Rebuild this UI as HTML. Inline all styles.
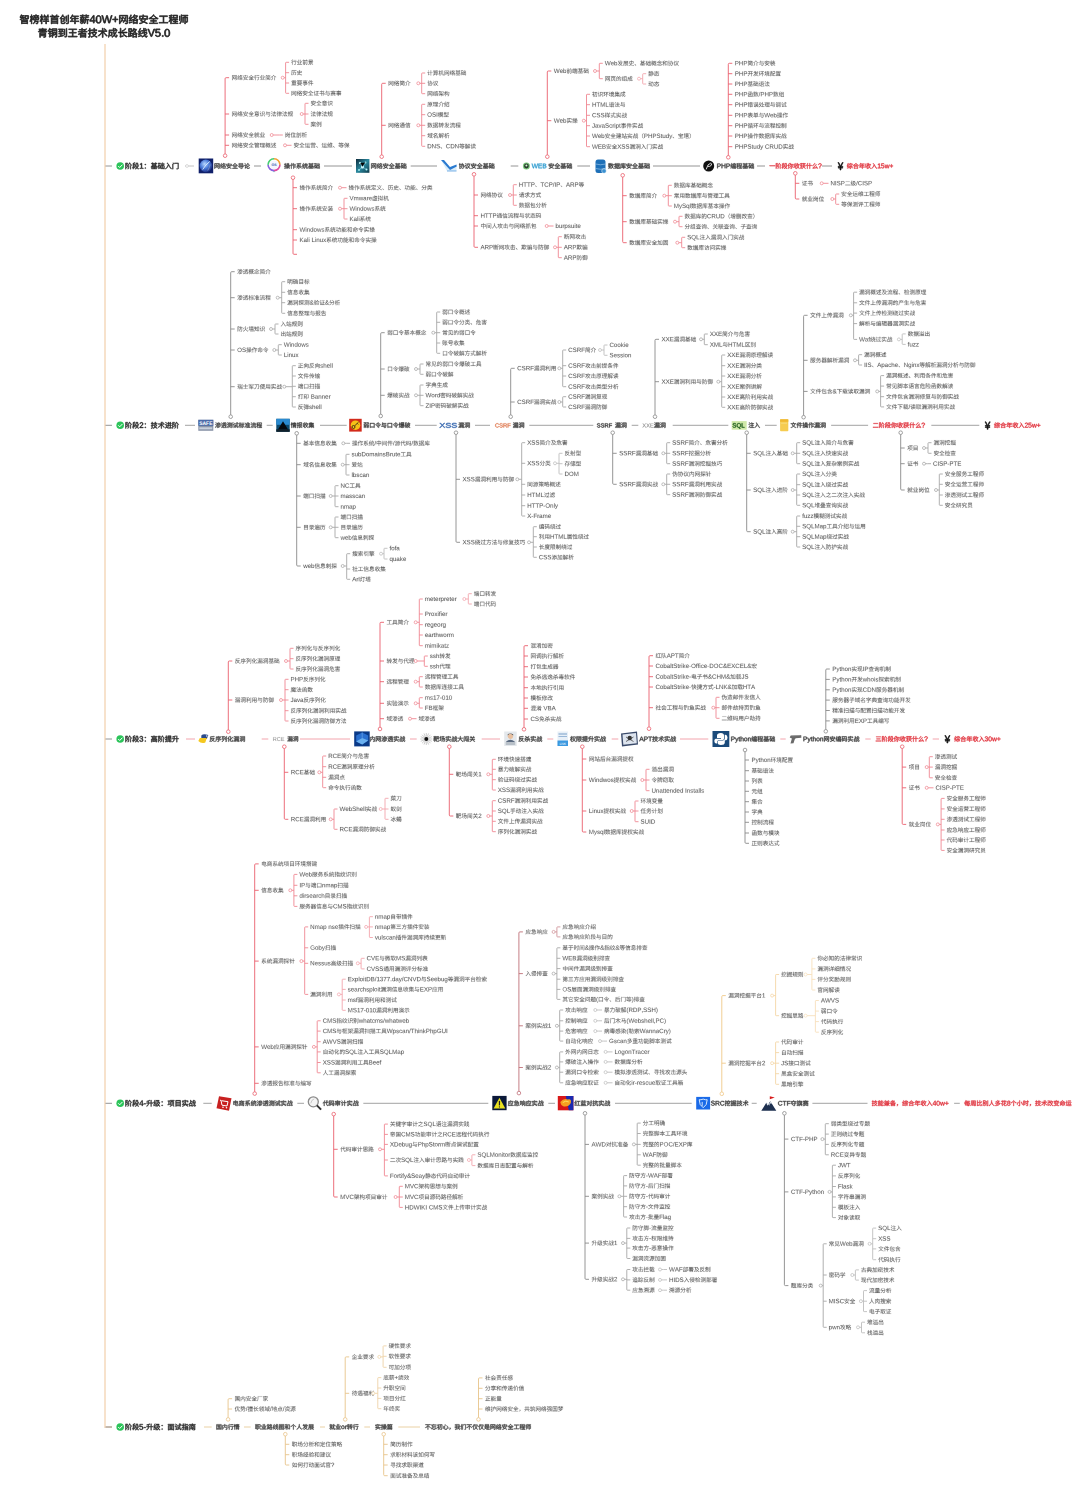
<!DOCTYPE html>
<html><head><meta charset="utf-8"><style>
html,body{margin:0;padding:0;background:#fff;width:1080px;height:1486px;overflow:hidden}
svg{display:block;font-family:'Liberation Sans', sans-serif}
</style></head><body>
<svg width="1080" height="1486" viewBox="0 0 1080 1486" text-rendering="geometricPrecision">
<rect width="1080" height="1486" fill="#fff"/>
<style>.ta{fill:#222;stroke:#222;stroke-width:7.5}.tb{fill:#222;stroke:#222;stroke-width:6.0}.tc{fill:#3a3a3a;stroke:#3a3a3a;stroke-width:6.0}.td{fill:#2a9ad0;stroke:#2a9ad0;stroke-width:6.0}.te{fill:#e0303a;stroke:#e0303a;stroke-width:6.0}.tf{fill:#606060;stroke:#606060;stroke-width:1.4}.tg{fill:#3a6ab0;stroke:#3a6ab0;stroke-width:6.0}.th{fill:#e07a50;stroke:#e07a50;stroke-width:6.0}.ti{fill:#333;stroke:#333;stroke-width:6.0}.tj{fill:#888;stroke:#888;stroke-width:1.4}.tk{fill:#999;stroke:#999;stroke-width:1.4}.tl{fill:#111;stroke:#111;stroke-width:6.0}.tm{fill:#1a5a1a;stroke:#1a5a1a;stroke-width:6.0}</style><defs><path id="a" d="m62-69l20 0 0 21-20 0zm-8-7l0 35 36 0 0-35zm-27 64l47 0 0 10-47 0zm0-6l0-9 47 0 0 9zm-7-15l0 41 7 0 0-4 47 0 0 4 7 0 0-41zm-4-51l-4 11-7 9 6 4 6-10 9 0 0 10-21 0 0 6 19 0-6 9-14 9 5 5 13-8 7-8 15 11 6-5-19-11 1-2 18 0 0-6-17 0 0-10 15 0 0-6-28 0 3-7z"/><path id="b" d="m37-56l0 16 7 0 0-9 44 0 0 9 7 0 0-16-15 0 5-11-8-1-4 12-17 0 3 0-4-12-7 2 4 10zm24-28l2 9-25 0 0 7 55 0 0-7-23 0-2-10zm-1 38l3 10-25 0 0 6 15 0-4 20-9 9-6 4 4 5 13-9 7-13 22 0-2 14-3 2-11-1 2 7 13-1 5-3 4-24-29 0 1-10 33 0 0-6-22 0-4-11zm-42-38l0 19-13 0 0 7 12 0-6 21-8 17 4 8 6-13 5-16 0 49 6 0 0-52 6 14 5-5-11-19 0-4 11 0 0-7-11 0 0-19z"/><path id="c" d="m44-81l8 16 8-3-9-16zm38-3l-9 19-33 0 0 7 22 0 0 14-19 0 0 7 19 0 0 14-26 0 0 7 26 0 0 24 8 0 0-24 25 0 0-7-25 0 0-14 20 0 0-7-20 0 0-14 23 0 0-7-12 0 9-17zm-64 0l0 19-12 0 0 7 12 0-6 21-9 17 4 8 11-26 0 46 8 0 0-52 7 14 4-6-11-17 0-5 10 0 0-7-10 0 0-19z"/><path id="d" d="m24-31l52 0 0 10-52 0zm0-6l0-10 52 0 0 10zm0 22l52 0 0 11-52 0zm-1-67l8 12-26 0 0 7 41 0-3 9-26 0 0 62 7 0 0-6 52 0 0 6 7 0 0-62-32 0 4-9 40 0 0-7-25 0 8-12-8-2-9 14-27 0 5-2-10-12z"/><path id="e" d="m84-82l0 81-3 2-15-1 3 8 18-2 3-2 1-4 0-82zm-20 10l0 55 8 0 0-55zm-50 25l1 49 2 2 6 2 23 0 6-1 4-5 2-11-7-3-1 11-3 3-23 0-2-4 0-37 21 0-3 19-11 0 2 7 11 0 4-3 2-4 3-25zm17-37l-11 20-17 16 5 5 14-13 11-15 21 25 6-5-24-26 2-5z"/><path id="f" d="m5-22l0 7 46 0 0 23 8 0 0-23 36 0 0-7-36 0 0-20 29 0 0-7-29 0 0-16 32 0 0-7-60 0 4-10-7-2-10 19-13 15 7 5 15-20 24 0 0 16-30 0 0 27zm24 0l0-20 22 0 0 20z"/><path id="g" d="m36-15l7 13 5-2-7-14zm-21-2l-10 15 5 3 10-17zm48-67l0 7-26 0 0-7-8 0 0 7-23 0 0 7 23 0 0 7 8 0 0-7 26 0 0 7 7 0 0-7 24 0 0-7-24 0 0-7zm-42 20l4 7-18 0 0 6 30 0-5 13-11 0 2-1-4-11-6 1 3 11-11 0 0 5 20 0 0 8-18 0 0 6 18 0 0 19-8 1 2 6 9-1 3-3 1-22 18 0 0-6-18 0 0-8 19 0 0-5-12 0 5-11-6-2 12 0 0-6-18 0-4-9zm35 8l-1 37-3 12-7 10 5 5 8-11 4-14 0-14 14 0 0 39 7 0 0-39 13 0 0-7-34 0 0-13 31-7-6-6z"/><path id="h" d="m47-18l0 18-9 0 0-18-36 0 0-7 35-52 10 0 0 51 11 0 0 8zm-9-47l-28 40 28 0z"/><path id="i" d="m57-37l-3 21-3 8-6 6-7 3-8 1-9-1-7-3-7-9-4-20 1-23 6-12 4-6 11-4 12 1 7 3 6 6 3 8zm-10 0l-2-19-4-10-10-3-10 3-6 10-1 19 1 18 6 10 10 3 9-3 6-11z"/><path id="j" d="m81 0l-12 0-18-64-16 64-12 0-23-76 11 0 19 67 18-67 10 0 18 67 18-67 11 0z"/><path id="k" d="m36-33l0 23-8 0 0-23-23 0 0-8 23 0 0-23 8 0 0 23 22 0 0 8z"/><path id="l" d="m19-54l14 19-7 15-9 11 6 4 8-10 7-13 8 12 5-5-10-15 6-27-7-1-4 21-12-15zm29 0l14 19-7 15-10 12 6 4 9-11 6-13 9 15 5-4-11-19 7-27-7-1-5 21-11-14zm-39-24l0 86 7 0 0-79 68 0 0 70-3 1-15 0 3 8 14-1 7-2 2-7 0-76z"/><path id="m" d="m4-5l2 7 33-10-1-6zm53-80l-8 15-11 13 1-1-6-5-6 11-13 1 16-29-7-4-10 22-6 9-4 3 3 8 16-3-12 15-6 5 3 7 30-9 0-6-19 4 20-27 4 6 9-10 11 13-12 7-13 4 4 7 14-5 13-8 12 7 14 6 2-7-12-4-11-7 11-11 8-14-4-3-28 1 4-9zm-10 55l0 37 7 0 0-5 28 0 0 5 7 0 0-37zm7 25l0-18 28 0 0 18zm28-63l-6 9-8 8-13-15 1-2z"/><path id="n" d="m41-82l5 10-37 0 0 20 8 0 0-13 66 0 0 13 8 0 0-20-36 0-6-12zm25 44l-6 11-8 9-21-8 8-12zm-36 0l-11 16 27 10-17 8-21 5 5 7 22-7 19-10 31 16 6-6-31-16 8-10 6-13 20 0 0-7-51 0 7-15-8-1-8 16-27 0 0 7z"/><path id="o" d="m49-85l-5 8-15 14-26 17 5 6 12-7 0 7 26 0 0 15-26 0 0 7 26 0 0 16-38 0 0 7 85 0 0-7-39 0 0-16 27 0 0-7-27 0 0-15 27 0 0-7 11 7 6-6-16-9-15-11-13-13 2-3zm-29 38l16-12 14-15 15 15 16 12z"/><path id="p" d="m5-7l0 7 90 0 0-7-41 0 0-58 36 0 0-8-80 0 0 8 36 0 0 58z"/><path id="q" d="m53-73l30 0 0 18-30 0zm-7-7l0 32 45 0 0-32zm-1 59l0 7 19 0 0 13-26 0 0 6 58 0 0-6-24 0 0-13 20 0 0-7-20 0 0-12 22 0 0-7-52 0 0 7 22 0 0 12zm-9-62l-32 9 2 5 15-2 0 15-16 0 0 7 15 0-8 18-9 14 4 7 7-12 7-14 0 44 8 0 0-43 9 12 4-6-13-14 0-6 12 0 0-7-12 0 0-17 12-4z"/><path id="r" d="m26-84l-1 57-5 16-10 14 6 5 11-15 4-18 1-59zm-16 12l0 48 6 0 0-48zm32 12l0 54 7 0 0-47 13 0 0 61 7 0 0-61 15 0 0 38-10 1 2 7 12-1 2-3 1-4 0-45-22 0 0-12 26 0 0-7-57 0 0 7 24 0 0 12z"/><path id="s" d="m73-34l0 8-46 0 0-8zm-53-5l0 47 7 0 0-16 46 0 0 9-16 1 3 6 15-1 5-3 1-43zm7 18l46 0 0 7-46 0zm19-63l0 7-34 0 0 6 34 0 0 6-30 0 0 6 30 0 0 7-40 0 0 6 88 0 0-6-40 0 0-7 30 0 0-6-30 0 0-6 35 0 0-6-35 0 0-7z"/><path id="t" d="m56-63l0 7 25 0 0-7zm-12-16l0 87 7 0 0-81 36 0 0 72-2 2-11-1 2 8 14-2 3-5 0-80zm19 39l11 0 0 18-11 0zm-5-6l0 36 5 0 0-6 17 0 0-30zm-40-38l-6 14-9 10 4 8 10-14 24 0 0-7-20 0 4-9zm-12 50l0 6 13 0 0 23-5 7 4 5 22-13-2-7-12 7 0-22 14 0 0-6-14 0 0-14 14 0 0-7-29 0 0 7 8 0 0 14z"/><path id="u" d="m64-75l0 60 7 0 0-60zm20-7l0 79-2 1-13 0 2 8 16-2 3-2 1-4 0-80zm-78 78l2 7 50-10 0-6-22 4 0-16 20 0 0-7-20 0 0-10-7 0 0 10-19 0 0 7 19 0 0 17zm6-40l37-4 4 6 5-4-15-22-5 4 7 10-25 2 11-19 27 0 0-6-51 0 0 6 16 0-8 14-6 6z"/><path id="v" d="m5-4l0 8 90 0 0-8-41 0 0-31 32 0 0-7-32 0 0-28 36 0 0-7-80 0 0 7 36 0 0 28-31 0 0 7 31 0 0 31z"/><path id="w" d="m84-81l-12 14 0-4-25 0 0-13-7 0 0 13-26 0 0 6 26 0 0 13-35 0 0 7 40 0-20 11-22 9 5 6 18-8 0 35 8 0 0-3 41 0 0 3 7 0 0-43-41 0 16-10 38 0 0-7-29 0 24-25zm-37 29l0-13 23 0-16 13zm-13 40l41 0 0 10-41 0zm0-6l0-10 41 0 0 10z"/><path id="x" d="m61-84l0 16-23 0 0 7 23 0 0 15-21 0 0 7 3 0 7 15 9 12-13 8-14 5 4 7 15-6 14-8 12 8 15 6 4-6-14-6-12-7 13-15 8-18-5-2-17 0 0-15 24 0 0-7-24 0 0-16zm-11 45l31 0-7 12-9 11-8-11zm-32-45l0 20-13 0 0 7 13 0 0 22-14 4 2 7 12-3 0 27-12 1 2 7 10-1 6-2 1-4 0-31 12-3-1-7-11 3 0-20 11 0 0-7-11 0 0-20z"/><path id="y" d="m61-78l18 15 5-5-18-14zm-15-6l0 25-39 0 0 8 37 0-18 24-15 12-7 5 5 6 7-4 13-11 17-21 0 48 8 0 0-52 17 22 19 18 6-7-21-17-18-23 36 0 0-8-39 0 0-25z"/><path id="z" d="m54-84l1 17-42 0-2 50-4 14-3 7 6 5 4-7 5-17 2-25 18 0-2 24-2 3-12-1 2 7 16-1 2-2 2-5 1-31-25 0 0-14 34 0 3 23 5 20-11 10-12 8 5 7 21-17 5 9 6 5 11 2 4-4 4-18-7-4-1 14-3 5-7-4-7-12 10-16 8-18-7-2-6 14-7 13-6-35 32 0 0-7-32 0-1-17zm13 5l18 12 5-5-18-12z"/><path id="A" d="m77-82l-17 15-20 11 6 6 20-12 18-17zm-71 37l0 8 19 0 0 33-4 5 3 6 33-10 0-7-24 6 0-33 15 0 10 18 7 8 17 12 9 4 6-7-9-3-16-10-6-7-10-15 38 0 0-8-61 0 0-39-8 0 0 39z"/><path id="B" d="m16-73l18 0 0 17-18 0zm-12 69l1 7 39-9-1-7-13 3 0-18 10 0 4 5 6-3 0 34 7 0 0-4 25 0 0 4 7 0 0-34 4 2 4-6-12-7-11-8 9-13 6-14-5-2-20 0 3-8-7-2-8 17-11 14 0-27-32 0 0 31 14 0 0 41-8 1 0-33-6 0 0 35zm53 2l0-20 25 0 0 20zm23-65l-10 17-10-16 0-1zm-25 39l15-12 14 12zm10-17l-11 9-12 6 0-5-12 0 0-14 11 0 0-3 6 4 9-11z"/><path id="C" d="m5-5l2 7 33-10-1-6zm65-73l15 9 4-5-14-8zm-63 36l16-3-11 15-7 5 3 7 30-8 0-6-20 4 22-31-6-4-6 11-13 1 16-29-7-4-10 22-9 13zm82 7l-7 9-9 8-4-19 25-5-1-6-25 5-1-14 25-3-2-7-24 4 0-21-8 0 1 22-16 2 1 7 16-3 1 14-20 4 1 6 20-3 5 22-14 7-15 6 5 6 26-13 5 8 5 5 7 2 5-2 3-4 2-9-5-4-2 10-5 1-4-3-5-8 11-10 9-11z"/><path id="D" d="m42 0l-10 0-32-76 11 0 25 67 25-67 11 0z"/><path id="E" d="m56-24l-2 13-7 8-7 2-18 2-8-3-7-4-4-10 10-1 3 6 4 4 8 1 8-1 8-8 1-9-3-10-8-6-9 0-10 4-10 0 2-41 43 0 0 9-34 0-1 23 12-4 11 1 6 2 9 8z"/><path id="F" d="m10 0l0-12 11 0 0 12z"/><path id="G" d="m74-45l0 53 7 0 0-53zm-24 0l0 21-2 11-7 12-5 5 7 4 9-12 4-13 1-28zm13-39l-10 18-11 12-6 5 5 6 5-4 9-9 10-15 12 15 15 12 5-6-11-8-10-9-7-12 1-4zm-55 4l0 88 7 0 0-81 14 0-10 23 9 11 3 6 0 6-4 4-9 0 2 7 9 0 4-2 3-3 2-9-2-10-9-11 12-26-5-3z"/><path id="H" d="m54-80l0 16-2 7-5 8-5 4 6 4 4-4 6-9 3-9 0-11 14 0 0 22 3 5 17 1 0-6-13 0 0-28zm-7 41l0 7 7 0-4 1 6 12 7 10-11 7-13 4 4 6 14-5 12-7 10 7 12 5 5-7-12-4-10-6 9-12 6-16-5-2zm9 7l24 0-5 10-7 8-7-8zm-44-43l0 58-9 1 2 8 7-2 0 17 7 0 0-18 25-4-1-7-24 4 0-14 23 0 0-7-23 0 0-14 23 0 0-7-23 0 0-10 25-9-6-6z"/><path id="I" d="m9 0l0-8 19 0 0-58-16 12 0-10 18-12 9 0 0 68 19 0 0 8z"/><path id="J" d="m25-49l5-2 3-5-3-6-5-2-5 2-3 6 3 5zm0 49l5-2 3-5-3-6-5-2-5 2-3 6 3 5z"/><path id="K" d="m68-84l0 10-36 0 0-10-8 0 0 10-15 0 0 6 15 0 0 32-19 0 0 6 21 0-10 10-12 7 4 6 15-9 12-14 31 0 12 13 9 6 5 3 5-6-13-6-10-10 22 0 0-6-20 0 0-32 15 0 0-6-15 0 0-10zm-36 16l36 0 0 7-36 0zm14 42l0 8-20 0 0 6 20 0 0 11-34 0 0 6 76 0 0-6-34 0 0-11 21 0 0-6-21 0 0-8zm-14-30l36 0 0 7-36 0zm0 13l36 0 0 7-36 0z"/><path id="L" d="m5-79l0 7 12 0-5 22-9 17 3 8 6-8 0 36 6 0 0-8 19 0 0-43-19 0 6-24 15 0 0-7zm13 38l12 0 0 30-12 0zm24 6l0 37 44 0 0 5 7 0 0-42-7 0 0 29-15 0 0-36 19 0 0-32-7 0 0 25-12 0 0-34-7 0 0 34-13 0 0-25-6 0 0 32 19 0 0 36-14 0 0-29z"/><path id="M" d="m30-76l8 8 8 9-4 13-11 23-8 10-8 8-11 6 7 6 18-14 13-18 10-24 16 31 6 9 8 9 11 7 3-9-14-11-9-13-16-29-9-14-14-13z"/><path id="N" d="m13-80l14 18 6-4-15-18zm-4 16l0 72 8 0 0-72zm27-16l0 7 48 0 0 72-3 2-17 0 3 7 15-1 6-1 2-2 1-6 0-78z"/><path id="O" d="m21-18l16 18 6-5-16-17 38 0-1 22-18 1 2 7 18-1 5-2 1-2 0-25 22 0 0-7-22 0 0-8-7 0 0 8-59 0 0 7 20 0zm-7-59l0 30 4 5 10 2 52 0 8-2 3-6 1-4-7-2-3 7-4 1-48 0-6-1-3-2 0-7 62 0 0-24-69 0zm7 4l54 0 0 10-54 0z"/><path id="P" d="m11-77l17 17 5-6-18-16zm51-7l-11 19-19 18 5 5 16-14 12-16 13 16 14 14 6-6-11-9-10-10-9-12 2-4zm19 41l-27 16 0-20-8 0 0 41 3 9 6 2 26 0 7-1 2-2 4-14-7-3-2 11-3 2-24 0-3 0-1-2 0-15 32-17zm-62 49l21-18-3-6-10 8 0-43-23 0 0 8 16 0-1 38-4 8z"/><path id="Q" d="m53-74l23 0 0 10-23 0zm-7-6l0 22 37 0 0-22zm-4 32l13 0 0 11-13 0zm31 0l14 0 0 11-14 0zm-57-36l0 20-11 0 0 7 11 0 0 22-12 4 2 7 10-4 0 28-9 1 2 6 10 0 3-3 1-34 10-4-1-7-9 3 0-19 9 0 0-7-9 0 0-20zm45 53l0 8-27 0 0 6 22 0-13 10-15 7 4 6 16-8 13-11 0 21 7 0 0-22 11 11 13 8 5-6-14-7-11-9 23 0 0-6-27 0 0-8 25 0 0-23-26 0 0 23-6 0 0-23-25 0 0 23z"/><path id="R" d="m53-83l-10 21-13 18 6 5 15-21 7 0 0 68 7 0 0-24 30 0 0-8-30 0 0-15 29 0 0-7-29 0 0-14 31 0 0-7-42 0 6-14zm-25-1l-10 22-14 18 4 8 10-12 0 56 7 0 0-68 11-21z"/><path id="S" d="m29-22l-10 10-12 9 7 5 7-6 15-16zm35 3l23 21 7-4-24-21zm2-25l8 8-44 3 23-13 23-15-6-5-16 12-24 1 21-19 35-5-6-6-31 5-38 3 2 6 27-2-15 14-9 5 2 7 26-3-17 10-16 6 2 8 34-4 0 27-15 0 3 8 14-1 5-3 1-32 25-2 7 9 6-3-21-22z"/><path id="T" d="m70-35l1 37 4 4 15 0 4-4 2-13-7-3-1 12-10 1-1-34zm-19 0l-2 17-2 6-8 10-7 4 4 6 8-4 6-6 4-6 2-8 2-19zm-47 30l2 7 32-10-1-7zm56-77l5 12-24 0 0 7 18 0-14 18-6 3 2 7 43-5 5 7 6-3-15-22-6 3 7 9-28 2 15-19 27 0 0-7-29 0 6-2-3-8-3-4zm-54 40l16-3-12 15-6 4 3 8 30-8 0-7-19 4 21-30-6-4-7 11-12 1 17-30-8-3-10 22-6 9-4 3z"/><path id="U" d="m39-47l-4 13-6 12 6 4 6-13 4-15zm45 1l6 29 7-2-7-28zm-68-38l0 23-11 0 0 7 11 0 0 62 7 0 0-62 11 0 0-7-11 0 0-23zm39 1l0 18-18 0 0 7 18 0-3 21-3 10-4 11-7 10-10 9 6 5 10-10 7-11 5-11 4-12 2-22 14 0-3 49-1 5-2 4-16 0 2 7 8 0 10-1 5-6 2-14 2-51-21 0 0-18z"/><path id="V" d="m54-79l10 21 7-3-11-21zm-43 2l13 15 6-4-13-15zm72-1l-7 30-12 25-12-24-8-30-7 2 8 32 14 26-12 11-16 8 5 7 15-9 13-11 12 11 16 8 6-6-16-8-13-11 10-18 10-30 2-12zm-78 25l0 8 14 0-1 37-4 8 5 5 21-16-2-7-12 9 0-44z"/><path id="W" d="m9 0l0-76 57 0 0 9-46 0 0 24 43 0 0 8-43 0 0 26 48 0 0 9z"/><path id="X" d="m67-21l-3 11-9 8-11 2-35 0 0-76 36 1 11 3 7 9 0 10-4 8-10 6 9 2 6 3 3 6zm-14-35l-2-7-6-3-25-1 0 23 25-1 6-4zm4 34l-2-8-7-4-29-1 0 28 30-2 6-4z"/><path id="Y" d="m44-82l-7 13 5 3 9-13zm-35 3l6 13 6-3-7-13zm32 53l-9 13-12-5 5-8zm-30 11l15 7-10 6-12 3 4 6 13-5 12-7 8 6 5-5-8-6 7-9 5-12-5-2-17 1 2-6-7-1-2 7-14 0 0 6 11 0zm15-69l0 19-21 0 0 6 18 0-9 9-10 6 4 6 9-6 9-9 0 13 7 0 0-14 13 10 4-5-16-10 19 0 0-6-20 0 0-19zm37 1l-6 25-9 20 6 4 7-13 8 27-10 13-14 9 4 6 14-9 10-12 9 12 10 8 5-6-11-9-9-12 7-17 4-21 7 0 0-7-29 0 4-17zm18 25l-3 17-5 13-8-30z"/><path id="Z" d="m48-24l0 32 7 0 0-4 31 0 0 4 7 0 0-32-20 0 0-12 23 0 0-7-23 0 0-11 19 0 0-26-52 0-1 39-1 18-5 19-5 8 6 4 4-7 5-14 3-23 20 0 0 12zm-1-49l38 0 0 13-38 0zm0 19l19 0 0 11-19 0zm8 52l0-15 31 0 0 15zm-38-82l0 20-13 0 0 7 13 0 0 22-14 4 2 7 12-3 0 26-1 1-10 0 2 7 9 0 5-3 2-5 0-29 11-3-1-7-10 3 0-20 11 0 0-7-11 0 0-20z"/><path id="ba" d="m32-24l27-2 0 12-36 0 0 7 36 0 0 15 8 0 0-15 28 0 0-7-28 0 0-12 22 0 0-7-22 0 0-10-8 0 0 10-19 0 9-15 42 0 0-7-38 0 3-7-8-3-4 10-18 0 0 7 15 0-7 12-4 4zm15-58l5 8-40 0-1 54-4 17-4 7 7 4 3-8 5-18 2-49 75 0 0-7-35 0-6-10z"/><path id="bb" d="m67-53l-2 12-10 9-10 2-25 0 0 30-11 0 0-76 36 0 10 3 10 8zm-10 0l-2-8-6-6-30-1 0 30 20 0 10-2 6-4z"/><path id="bc" d="m61 0l0-35-41 0 0 35-11 0 0-76 11 0 0 32 41 0 0-32 10 0 0 76z"/><path id="bd" d="m4-5l2 7 29-12-2-6zm2-37l14-3-10 15-6 5 3 7 27-8-1-6-16 4 19-32-6-3-6 11-11 2 16-32-7-2-10 22-8 13zm56 7l0 15-8 0 0-15zm6 0l7 0 0 15-7 0zm-20-6l0 48 6 0 0-21 8 0 0 19 6 0 0-19 7 0 0 19 5 0 0-19 7 0 0 15-6 1 2 5 9-1 1-4 0-43zm32 6l7 0 0 15-7 0zm-20-48l5 10-24 0-1 48-5 19-4 8 6 4 4-8 5-20 2-28 44 0 0-23-19 0-5-12zm-12 16l37 0 0 11-37 0z"/><path id="be" d="m4-43l0 8 92 0 0-8z"/><path id="bf" d="m45-41l-6 17-8 14 7 4 8-15 6-19zm31 1l7 18 5 16 7-2-5-17-7-17zm-29-44l-7 22-10 17 6 5 10-18 15 0 0 57-12 1 3 8 10 0 5-3 2-4 0-59 19 0-3 14 7 2 4-22-5-1-42 0 5-17zm-21 0l-10 22-14 18 4 8 10-13 0 57 7 0 0-68 11-22z"/><path id="bg" d="m59-57l21 0-4 17-6 15-8-20zm-1-27l-7 25-10 19 5 6 8-13 12 29-10 11-13 9 5 6 12-9 10-11 10 11 11 9 5-6-11-9-10-11 8-18 5-21 8 0 0-7-35 0 4-19zm-49 74l23-10 0 28 8 0 0-90-8 0 0 55-15 5 0-51-7 0 0 49-2 5-2 2z"/><path id="bh" d="m71-55l14 12 5-4-14-12zm-10-5l0 19-24 0 0 7 23 0-7 19-10 13-9 5 6 5 7-5 10-10 8-17 10 19 15 13 5-6-6-4-11-10-10-22 26 0 0-7-26 0 0-19zm2-24l0 8-26 0 0-8-7 0 0 8-24 0 0 7 24 0 0 8 7 0 0-8 26 0 0 7 8 0 0-7 23 0 0-7-23 0 0-8zm-31 25l-7 7-11-9-5 4 10 9-15 8 5 5 14-7 3 9-10 10-12 7 4 6 20-15-3 22-3 4-11 0 2 6 14-1 6-8 1-13 0-15-2-8-3-8 10-10z"/><path id="bi" d="m29-84l-11 23-14 18 4 7 11-13 0 57 7 0 0-69 10-21zm32 1l0 34-28 0 0 7 28 0 0 50 7 0 0-50 28 0 0-7-28 0 0-34z"/><path id="bj" d="m44-83l-16 22-22 20 6 5 15-13 20-23 5-8zm20 53l13 19-51 4 24-23 24-29-8-4-32 38-16 15-8 5 3 8 69-7 6 11 7-4-11-18-14-18z"/><path id="bk" d="m57-55l-3 11-18 15-3 9-9 0 0-6 4-8 16-15 2-9-3-7-6-3-12-1-8 6-4 9-10-1 3-9 6-8 8-4 11-1 10 1 9 4 4 7zm-34 55l0-11 11 0 0 11z"/><path id="bl" d="m49-54l0 7 36 0 0-7zm0 32l-15 20 6 4 16-22zm29 2l12 21 7-3-13-20zm-74 15l2 7 31-8 0-7zm35-30l0 6 25 0 0 29-12 1 2 7 12-1 4-3 1-33 23 0 0-6zm21-48l5 11-24 0 0 17 7 0 0-10 38 0 0 10 8 0 0-17-21 0-6-12zm-54 41l16-3-11 15-6 5 2 7 29-7 0-6-19 3 22-31-6-4-6 11-14 2 16-31-7-3-9 23-9 12z"/><path id="bm" d="m52-84l-6 7-15 14-27 15 5 7 16-8 0 5 50 0 0-7 17 9 5-7-15-7-14-9-13-11 3-5zm-24 33l12-9 11-11 11 11 13 9zm-8 19l0 40 7 0 0-6 47 0 0 5 8 0 0-39zm7 27l0-21 47 0 0 21z"/><path id="bn" d="m63 0l-11 0-12-51-12 51-11 0-16-58 10 0 12 51 12-51 11 0 12 51 13-51 9 0z"/><path id="bo" d="m44-78l0 7 49 0 0-7zm-17-6l-11 11-12 11 4 6 14-12 12-13zm12 34l0 7 34 0 0 43-19 0 3 8 20-2 3-5 0-44 16 0 0-7zm-8-13l-13 17-16 14 6 6 11-10 0 44 8 0 0-53 11-15z"/><path id="bp" d="m85-61l-16 35 6 3 17-35zm-77 2l14 35 7-2-14-35zm50-24l0 78-16 0 0-78-8 0 0 78-28 0 0 8 88 0 0-8-28 0 0-78z"/><path id="bq" d="m11-45l0 53 7 0 0-53zm4-9l11 13 6-4-11-13zm17 15l0 35 37 0 0-35zm-11-45l-7 13-9 11 6 4 10-13 6 0 6 12 7-2-5-10 14 0 0-6-24 0 3-7zm39 0l-6 12-7 10 6 4 8-11 8 0 7 13 6-3-5-10 16 0 0-6-29 0 3-7zm2 65l0 9-24 0 0-9zm-24-14l24 0 0 9-24 0zm-3-21l0 7 47 0 0 47-14 1 2 6 12 0 6-2 1-6 0-53z"/><path id="br" d="m65-45l0 53 8 0 0-53zm-37 1l-1 18-3 12-9 11-8 6 6 5 9-6 6-6 6-14 2-26zm22-41l-5 8-15 14-18 11-9 4 5 7 23-13 19-18 19 18 23 12 6-7-25-12-13-11-6-6 2-3z"/><path id="bs" d="m60-51l0 41 7 0 0-41zm21-3l0 53-2 1-14 0 3 8 14-1 4-2 2-3 0-56zm-9-30l-9 16-30 0 5-2-10-14-7 2 9 14-25 0 0 7 90 0 0-7-24 0 9-14zm-31 54l0 10-22 0 0-10zm0-6l-22 0 0-10 22 0zm-29-16l0 60 7 0 0-22 22 0 0 15-13 0 3 7 15-2 2-7 0-51z"/><path id="bt" d="m24-64l52 0 0 6-52 0zm0-11l52 0 0 6-52 0zm2 46l48 0 0 9-48 0zm36 22l27 14 5-5-27-13zm-33-4l-11 6-14 6 6 5 9-4 17-11zm14-40l3 5-40 0 0 6 88 0 0-6-40 0-4-6 33 0 0-28-66 0 0 28 32 0zm-24 16l0 21 27 0 0 15-13 1 2 6 13-1 5-2 1-19 27 0 0-21z"/><path id="bu" d="m12-79l-2 57-3 18-3 8 6 4 4-9 4-19 1-52 76 0 0-7zm37 12l0 17-23 0 0 7 22 0-3 18-4 8-11 14-9 5 5 6 9-6 8-7 9-18 4-20 26 0-3 30-2 9-4 3-16 0 2 7 20-1 3-2 4-8 4-45-34 0 1-17z"/><path id="bv" d="m20-61l26 0 0 19-26 0zm34 0l27 0 0 19-27 0zm-30 29l-7 3 7 11 8 9-11 6-17 4 5 7 17-6 12-6 24 8 31 4 3-8-29-3-23-7 7-12 3-13 34 0 0-33-34 0 0-16-8 0 0 16-34 0 0 33 34 0-2 11-6 10-8-8z"/><path id="bw" d="m16-54l0 31 30 0 0 7-33 0 0 6 33 0 0 9-41 0 0 6 90 0 0-6-42 0 0-9 36 0 0-6-36 0 0-7 32 0 0-31-32 0 0-6 41 0 0-6-41 0 0-8 32-4-4-5-31 3-37 2 2 6 31-1 0 7-40 0 0 6 40 0 0 6zm7 18l23 0 0 8-23 0zm30 0l24 0 0 8-24 0zm-30-13l23 0 0 8-23 0zm30 0l24 0 0 8-24 0z"/><path id="bx" d="m67-23l-6 8-8 6-22-5 7-9zm-55-41l0 25 27 0-5 9-29 0 0 7 24 0-10 13 24 5-16 4-21 2 3 7 25-4 20-6 32 10 6-6-30-9 8-7 6-9 19 0 0-7-53 0 5-8-5-1 47 0 0-25-24 0 0-9 28 0 0-7-86 0 0 7 27 0 0 9zm29-9l17 0 0 9-17 0zm-22 15l15 0 0 13-15 0zm22 0l17 0 0 13-17 0zm24 0l16 0 0 13-16 0z"/><path id="by" d="m13-13l0 6 33 0-1 9-15 0 2 6 13 0 7-2 1-4 1-9 24 0 0 4 7 0 0-18 11 0 0-6-11 0 0-12-31 0 0-7 30 0 0-18-30 0 0-6 40 0 0-6-40 0 0-8-8 0 0 8-39 0 0 6 39 0 0 6-29 0 0 18 29 0 0 7-32 0 0 5 32 0 0 7-41 0 0 6 41 0 0 8zm11-46l22 0 0 7-22 0zm30 0l22 0 0 7-22 0zm0 25l24 0 0 7-24 0zm0 13l24 0 0 8-24 0z"/><path id="bz" d="m32-34l0 7 28 0 0 35 8 0 0-35 27 0 0-7-27 0 0-22 23 0 0-8-23 0 0-19-8 0 0 19-13 0 3-14-7-1-5 19-7 15 6 4 8-15 15 0 0 22zm-5-50l-11 22-13 18 5 8 9-12 0 56 7 0 0-68 10-22z"/><path id="bA" d="m10-77l16 15 5-5-16-14zm25 74l0 7 61 0 0-7-24 0 0-33 20 0 0-7-20 0 0-26 22 0 0-7-55 0 0 7 26 0 0 66-14 0 0-48-7 0 0 48zm-30-50l0 8 14 0 0 37-5 8 4 5 21-17-3-7-10 8 0-42z"/><path id="bB" d="m72-76l18 14 5-5-19-14zm-59 10l0 7 29 0 0 19-36 0 0 8 36 0 0 40 7 0 0-40 37 0-2 16-2 6-19 1 2 7 17 0 6-3 4-9 3-26-15 0 0-26-31 0 0-18-7 0 0 18zm36 26l0-19 24 0 0 19z"/><path id="bC" d="m6-24l0 7 62 0 0-7zm20-58l-10 44 65 0-4 26-5 10-4 2-20-1 3 7 18 1 7-2 5-5 3-10 5-35-63 0 4-18 58 0 0-7-56 0 2-11z"/><path id="bD" d="m47-22l-5 13-5 4-8 3-23 4 3 6 25-5 8-4 6-5 4-7 2-9zm5 17l38 13 4-6-38-12zm-7-78l3 6-41 0 0 15 7 0 0-9 72 0 0 9 7 0 0-15-37 0-4-8zm-39 40l0 6 22 0-11 8-13 5 4 5 14-6 0 19 7 0 0-18 42 0 0 17 7 0 0-18 14 6 5-6-13-5-11-7 21 0 0-6-25 0 0-6 14 0 0-5-14 0 0-6 15 0 0-4-15 0 0-5-7 0 0 5-23 0 0-5-7 0 0 5-16 0 0 4 16 0 0 6-14 0 0 5 14 0 0 6zm33-17l23 0 0 6-23 0zm0 11l23 0 0 6-23 0zm-2 12l27 0 8 7-44 0z"/><path id="bE" d="m30-15l0 16 2 4 3 1 30 1 5-3 1-2 2-9-7-2-1 8-2 2-25-1-1-15zm44 1l13 18 6-3-13-18zm-56-2l-5 10-7 8 6 3 12-18zm8-16l48 0 0 7-48 0zm0-12l48 0 0 7-48 0zm-7-5l0 29 25 0-3 3 15 11 5-4-14-10 35 0 0-29zm15-21l32 0-4 10-24 0zm10-13l4 6-36 0 0 7 21 0-6 1 3 9-23 0 0 6 86 0 0-6-24 0 5-9-6-1 20 0 0-7-32 0-4-8z"/><path id="bF" d="m51-70l31 0 0 30-31 0zm-7-7l0 44 45 0 0-44zm30 57l13 27 7-3-13-27zm-23-3l-6 15-9 12 7 4 9-13 7-16zm-41-54l16 15 5-5-16-14zm-5 24l0 8 14 0 0 37-5 8 4 5 22-18-3-6-11 8 0-42z"/><path id="bG" d="m10-78l18 12 5-6-19-11zm-6 28l19 10 4-6-19-10zm4 52l6 5 6-10 12-23-5-5zm31 2l44-6 5 10 6-4-7-13-11-15-6 3 9 13-31 3 17-29 29 0 0-8-27 0 0-18 23 0 0-7-23 0 0-17-7 0 0 17-22 0 0 7 22 0 0 18-26 0 0 8 22 0-12 22-8 9z"/><path id="bH" d="m25-84l-9 11-12 10 4 6 14-11 11-13zm11 55l0 6 23 0 0 9-27 0 0 6 27 0 0 16 7 0 0-16 29 0 0-6-29 0 0-9 24 0 0-6-24 0 0-8 23 0 0-15 7 0 0-7-7 0 0-14-23 0 0-11-7 0 0 11-21 0 0 6 21 0 0 8-25 0 0 7 25 0 0 9-21 0 0 6 21 0 0 8zm30-38l16 0 0 8-16 0zm0 24l0-9 16 0 0 9zm-39-19l-11 15-13 13 4 7 11-11 0 46 7 0 0-55 9-12z"/><path id="bI" d="m48-79l0 53 7 0 0-46 27 0 0 46 8 0 0-53zm-27-4l0 16-15 0 0 7 15 0 0 16-17 0 0 7 16 0-4 21-7 12-5 6 5 5 11-14 6-17 12 17 6-5-17-20 1-5 15 0 0-7-15 0 0-16 14 0 0-7-14 0 0-16zm44 19l-2 35-8 17-7 8-11 6 5 6 17-14 10-16 0 22 2 4 4 2 11 0 6-2 2-2 2-16-6-3-2 16-9 1-3-1-1-28-4 0 1-35z"/><path id="bJ" d="m5-23l0 6 35 0-17 11-20 6 5 7 21-9 17-12 0 22 8 0 0-23 11 9 20 11 7 2 5-7-20-6-17-11 35 0 0-6-41 0 0-8-8 0 0 8zm38-59l4 6-39 0 0 14 7 0 0-8 70 0 0 8 7 0 0-14-37 0-6-9zm23 28l-6 7-8 4-21-3 7-8zm-47 11l23 4-36 5 3 6 25-3 20-5 31 9 7-6-30-8 7-5 6-8 19 0 0-6-51 0 6-7-7-2-7 9-29 0 0 6 24 0z"/><path id="bK" d="m69-72l0 56 7 0 0-56zm16-12l0 83-2 1-13 0 3 7 15-1 3-3 1-3 0-84zm-49 55l10 9-8 13-10 9 5 6 14-14 10-21 5-28-18-1 4-15 16 0 0-7-34 0 0 7 10 0-6 22-9 18 6 5 11-23 13 0-6 22-9-7zm-15-55l-7 21-11 18 4 7 7-10 0 56 7 0 0-71 7-19z"/><path id="bL" d="m17-51l23 0 0 12-23 0zm55 8l1 45 5 3 14 0 4-4 1-12-6-3-1 13-11 0 0-42zm-58 16l-4 12-5 10 5 3 6-11 4-13zm23 1l7 18 6-3-8-17zm40-50l10 15 5-4-10-14zm-66 19l0 24 15 0 0 34-10 0 3 6 9 0 3-2 2-3 0-35 14 0 0-24zm11-26l5 11-22 0 0 7 46 0 0-7-17 0-5-12zm44-1l-1 26-13 0 0 7 13 0-6 30-9 18-6 7 5 4 7-8 10-18 6-33 23 0 0-7-23 0 1-26z"/><path id="bM" d="m11-80l0 19 78 0 0-19-8 0 0 12-28 0 0-16-7 0 0 16-27 0 0-12zm0 27l0 61 7 0 0-54 64 0 0 46-17 1 2 7 16-1 6-3 1-57zm13 17l22 14-24 14 5 6 25-16 18 14 5-5-17-14 15-18-7-2-14 16-23-13z"/><path id="bN" d="m37-66l0 8 54 0 0-8zm7 15l6 43 8-2-2-13-6-29zm13-32l5 16 7-2-5-16zm-24 80l0 7 63 0 0-7-21 0 10-49-8-1-9 50zm-4-81l-11 22-14 18 4 8 10-12 0 56 8 0 0-68 10-22z"/><path id="bO" d="m84-82l0 81-3 2-12-1 2 8 16-2 3-2 1-4 0-82zm-18 9l0 56 7 0 0-56zm-52 10l6 17 8-2-7-16zm12-20l4 11-23 0 0 7 51 0 0-7-21 0-5-12zm18 19l-7 19-33 0 0 7 56 0 0-7-16 0 8-18zm-32 35l0 36 7 0 0-4 27 0 0 4 8 0 0-36zm7 25l0-18 27 0 0 18z"/><path id="bP" d="m48-73l0 38-1 16-5 16-4 7 6 4 5-8 4-17 2-26 19 0 0 51 7 0 0-51 15 0 0-7-41 0 0-18 35-9-6-6zm-27-11l0 21-15 0 0 8 14 0-7 21-10 16 4 7 7-12 7-16 0 47 7 0 0-49 9 15 5-6-14-18 0-5 15 0 0-8-15 0 0-21z"/><path id="bQ" d="m21-44l0 52 8 0 0-3 48 0 0 3 7 0 0-25-55 0 0-7 50 0 0-20zm56 43l-48 0 0-10 48 0zm-33-61l3 6-37 0 0 17 7 0 0-11 67 0 0 11 8 0 0-17-37 0-4-8zm-15 24l43 0 0 9-43 0zm-12-46l-5 12-8 10 7 4 8-12 7 0 5 11 7-2-5-9 15 0 0-6-27 0 3-7zm42 0l-4 10-6 9 6 3 6-8 7 0 8 11 6-3-6-8 18 0 0-6-30 0 2-7z"/><path id="bR" d="m48-54l15 0 0 13-15 0zm21 0l16 0 0 13-16 0zm-21-19l15 0 0 13-15 0zm21 0l16 0 0 13-16 0zm-37 71l0 7 65 0 0-7-27 0 0-14 23 0 0-7-23 0 0-12 22 0 0-44-51 0 0 44 21 0 0 12-22 0 0 7 22 0 0 14zm-28-8l1 8 31-11-1-7-11 4 0-25 10 0 0-7-10 0 0-22 12 0 0-7-31 0 0 7 12 0 0 22-11 0 0 7 11 0 0 27z"/><path id="bS" d="m62-36l12-1-7 21-15 21 6 3 11-15 8-16 1 28 5 2 7 0 3-2 3-16-5-2-1 13-5 1-2-1-1-32-3 0 2-5 14 0 0-7-13 0 2-28 10 0 0-6-32 0 0 6 16 0-2 28-8 0 4-22-6 0-3 20-3 4zm-10-19l0 13-12 0 0-13zm0-5l-12 0 0-12 12 0zm-18 59l20-13 2 6 5-3-9-20-5 2 5 9-12 7 0-23 18 0 0-42-24 0 0 63-2 6-2 3zm-18-83l0 21-11 0 0 7 11 0-6 21-7 18 4 6 9-23 0 42 7 0 0-50 5 13 4-6-9-17 0-4 8 0 0-7-8 0 0-21z"/><path id="bT" d="m71-78l13 12 6-4-13-12zm-64 2l15 18 6-4-15-18zm52-7l0 19-27 0 0 7 24 0-12 21-14 16 6 6 4-4 8-11 11-21 0 43 8 0 0-42 12 16 9 15 6-5-11-17-15-17 26 0 0-7-27 0 0-19zm-32 35l-22 0 0 7 14 0 0 30-15 11 5 6 8-8 6-3 13 7 9 2 15 1 34-1 2-8-46 2-12-2-11-7z"/><path id="bU" d="m38-78l0 7 50 0 0-7zm-31 4l17 14 6-6-18-13zm31 62l44-5 4 8 7-4-18-30-6 3 10 17-33 2 15-27 35 0 0-7-65 0 0 7 21 0-10 21-7 7zm-13-37l-21 0 0 7 14 0 0 32-14 12 5 6 7-8 6-4 14 8 8 2 16 1 34-1 3-8-47 1-13-2-12-7z"/><path id="bV" d="m31-41l39 0 0 9-39 0zm-7-5l0 19 53 0 0-19zm-15-13l0 19 7 0 0-13 69 0 0 13 7 0 0-19zm8 39l0 28 7 0 0-4 53 0 0 4 8 0 0-28zm7 18l0-12 53 0 0 12zm40-82l0 8-28 0 0-8-8 0 0 8-22 0 0 7 22 0 0 7 8 0 0-7 28 0 0 7 7 0 0-7 23 0 0-7-23 0 0-8z"/><path id="bW" d="m27 6l7-6-22-22-7 5z"/><path id="bX" d="m4-5l2 7 33-9-1-6zm62-76l7 15 7-4-8-14zm-60 39l16-3-11 15-6 5 2 7 30-7 0-6-20 3 22-32-6-3-7 11-13 2 16-31-7-3-9 22-9 13zm64 2l0 13-16 0 0-13zm-15-44l-8 19-11 17 4 6 6-8 0 58 8 0 0-7 42 0 0-7-19 0 0-14 15 0 0-7-15 0 0-13 15 0 0-6-15 0 0-13 17 0 0-7-39 0 7-15zm15 38l-16 0 0-13 16 0zm0 26l0 14-16 0 0-14z"/><path id="bY" d="m58-84l-6 12-9 9 3 2 0 7-31 0 0 6 31 0 0 9-41 0 0 7 61 0 0 8-58 0 0 7 58 0 0 17-16 1 2 7 16-1 4-2 2-4 0-18 19 0 0-7-19 0 0-8 22 0 0-7-42 0 0-9 32 0 0-6-32 0 0-7-2 0 6-8 7 0 7 12 7-3-6-9 21 0 0-7-32 0 3-7zm-36 71l17 16 6-5-17-15zm-3-71l-7 12-9 11 7 4 9-12 4 0 4 11 7-2-3-9 18 0 0-7-26 0 3-7z"/><path id="bZ" d="m45-73l37 0 0 19-37 0zm-7-6l0 32 22 0 0 12-29 0 0 7 24 0-12 15-15 11 5 6 5-4 14-13 8-10 0 31 7 0 0-32 12 16 14 12 5-6-14-11-12-15 23 0 0-7-28 0 0-12 23 0 0-32zm-10-5l-11 22-15 18 4 7 11-13 0 58 7 0 0-69 11-21z"/><path id="ca" d="m22-38l-6 24-7 12-5 5 6 5 8-10 7-12 5 7 13 9 17 4 33 0 3-7-42-1 0-20 30 0 0-8-30 0 0-16 26 0 0-7-59 0 0 7 25 0 0 42-11-7-5-8-2-5 2-13zm21-45l4 10-39 0 0 22 8 0 0-15 68 0 0 15 8 0 0-22-36 0-6-12z"/><path id="cb" d="m41-82l10 24 7-2-10-24zm38 5l-12 27-17 23-16-21-13-24-7 2 14 26 17 23-19 13-22 10 4 6 23-11 19-13 19 14 22 10 5-7-22-9-18-14 13-15 14-27 4-10z"/><path id="cc" d="m4-18l2 8 38-11-1-7-16 4 0-41 15 0 0-7-37 0 0 7 15 0 0 43zm56-64l-1 21-16 0 0 7 16 0-3 23-4 10-5 9-7 8-9 6 5 6 10-7 8-9 5-10 4-11 3-25 20 0-1 29-3 21-4 4-16-1 3 8 19-1 3-3 3-9 4-55-27 0 0-21z"/><path id="cd" d="m38-42l0 9-21 0 0-9zm-28-6l0 56 7 0 0-20 21 0 0 13-12 0 3 7 14-2 3-5 0-49zm7 20l21 0 0 10-21 0zm69-48l-24 9 0-17-7 0 0 33 3 9 5 2 21 0 7-1 2-2 2-13-6-2-1 9-3 2-19 0-3-2-1-12 29-10zm1 44l-25 11 0-16-7 0 0 33 3 9 5 2 22 0 6-1 2-2 3-14-6-3-2 11-2 2-20 0-3-2-1-13 30-11zm-79-23l33-4 3 6 6-3-13-22-6 2 7 12-22 1 13-19-8-2-9 16-6 6z"/><path id="ce" d="m67-82l-7 3 4 7 15 22 11 11 6-7-16-16zm-35 0l-11 21-17 17 7 6 8-8 0 7 19 0-4 17-9 14-8 5-11 5 5 6 11-5 9-7 6-7 4-9 5-19 27 0-2 27-3 11-3 1-16-1 2 8 20-1 4-3 3-6 3-43-62 0 12-16 9-18z"/><path id="cf" d="m75-82l-11 14 7 2 11-14zm-57 3l11 14 6-3-11-14zm28-5l0 20-39 0 0 6 33 0-15 12-20 7 5 6 20-9 16-13 0 17 8 0 0-15 35 20 4-6-35-19 35 0 0-6-39 0 0-20zm0 48l-2 11-37 0 0 7 35 0-7 8-6 4-24 7 3 7 12-3 16-7 6-4 8-11 4 6 12 11 8 3 18 5 4-7-23-6-11-8-5-5 37 0 0-7-42 0 2-11z"/><path id="cg" d="m7-74l12 11 5-5-13-10zm37 36l3 7-42 0 0 6 35 0-17 9-19 6 4 5 18-5 0 8-5 4 2 6 35-8 0-6-25 5 0-13 16-11 5 8 12 13 16 8 10 3 4-6-13-4-11-6 17-10-5-4-17 11-10-13 38 0 0-6-39 0-5-9zm18-46l0 14-23 0 0 6 23 0 0 16-20 0 0 7 50 0 0-7-22 0 0-16 24 0 0-6-24 0 0-14zm-58 36l2 6 21-10 0 15 7 0 0-47-7 0 0 25z"/><path id="ch" d="m42 0l-1-44-2-6-8-2-8 2-6 8 0 42-10 0 0-58 9 0 0 10 7-8 8-3 12 2 3 2 3 7 6-7 6-3 10-1 7 2 4 4 2 8 1 45-10 0-1-44-2-6-8-2-7 2-6 8-1 42z"/><path id="ci" d="m22 1l-8-1-7-6-3-8 2-11 4-6 8-4 24-1-1-10-3-4-7-2-10 1-3 2-1 6-10-1 1-4 2-3 8-6 12-2 10 1 7 4 4 6 1 37 2 4 7 0 0 7-13-1-4-3-1-7-9 9zm2-8l9-1 6-4 3-8 1-9-19 1-7 3-3 6 1 7 3 4z"/><path id="cj" d="m8 0l0-58 9 0 1 12 6-11 6-2 7 1 0 9-11 0-6 9-1 41z"/><path id="ck" d="m14-28l3 14 7 6 7 1 8-1 4-3 3-4 9 2-9 11-10 3-10 0-12-6-8-12-2-8 1-14 2-7 7-9 12-6 12 1 7 2 9 11 2 18zm32-7l-1-9-3-4-4-3-7-1-7 1-4 3-3 6-1 8z"/><path id="cl" d="m24-23l8 18 6-2-8-18zm56-3l-10 19 5 2 12-18zm-67-38l-1 46-4 15-4 7 7 4 3-7 5-17 1-41 25 0 0 7-20 2 1 6 19-2 1 8 5 3 35 0 4-2 3-4 0-4-6-2-1 5-3 1-26 0-5-1 0-5 25-2-1-5-24 2 0-7 32 0-3 8 7 2 6-15-6-2-35 0 0-6 34 0 0-6-34 0 0-8-8 0 0 20zm47 35l0 29-11 0 0-29-7 0 0 29-24 0 0 6 75 0 0-6-26 0 0-29z"/><path id="cm" d="m51-72l13 30 6-3-5-14-8-16zm-34-12l0 20-13 0 0 7 13 0 0 22-14 4 2 7 12-3 0 27-1 1-10 0 2 7 9-1 5-2 2-6 0-29 10-3-1-7-9 3 0-20 9 0 0-7-9 0 0-20zm63 3l-2 35-3 15-5 13-7 11-10 9 7 6 12-14 8-16 10 27 7-4-14-34 3-22 2-26zm-40 79l27-21-3-6-16 12 0-63-7 0 0 64-2 6-3 3z"/><path id="cn" d="m50-78l0 40-3 17-6 17-6 7 6 5 6-8 7-18 3-19 0-34 19 0 0 73 2 3 4 2 12-1 3-6 1-16-6-3-1 18-6 1-2-2 0-76zm-28-6l0 21-17 0 0 8 16 0-8 21-10 16 4 7 8-13 7-17 0 49 7 0 0-46 11 15 4-7-15-16 0-9 15 0 0-8-15 0 0-21z"/><path id="co" d="m8-70l0-9 9 0 0 9zm0 70l0-58 9 0 0 58z"/><path id="cp" d="m44 0l0-45-4-6-8-1-8 2-6 9-1 41-10 0 0-58 9 0 0 10 7-8 9-3 12 1 7 6 3 11 0 42z"/><path id="cq" d="m44-9l-4 6-8 3-10 1-8-3-4-4-4-9 0-23 4-13 10-7 9-1 7 2 9 8 0-30 10 0 0 79-9 0zm-30-20l2 13 4 7 8 2 9-2 4-6 2-12-1-13-2-7-6-4-4-1-10 2-4 8z"/><path id="cr" d="m56-29l-1 13-8 11-9 4-15 0-10-4-6-8-3-12 1-14 2-8 9-10 7-2 15 0 10 4 3 4 4 11zm-10 0l-1-13-6-8-11-2-7 2-3 3-3 7 0 14 2 11 4 6 8 2 10-2 6-8z"/><path id="cs" d="m51-16l-2 10-11 7-16 1-12-4-6-10 9-2 4 7 13 2 9-2 3-7-1-4-3-2-22-7-8-6-2-4 0-7 3-9 9-4 10-1 11 2 7 3 4 9-8 1-7-7-10-1-9 2-1 8 4 4 25 10 4 4z"/><path id="ct" d="m59 0l-30-36-10 8 0 29-11 0 0-76 11 0 0 38 36-38 12 0-33 33 37 43z"/><path id="cu" d="m8 0l0-79 10 0 0 79z"/><path id="cv" d="m53-75l0 79 7 0 0-9 23 0 0 8 7 0 0-78zm7 63l0-56 23 0 0 56zm-16-71l-17 5-21 3 2 6 17-2 0 17-20 0 0 7 18 0-9 18-11 16 4 7 9-14 9-17 0 45 7 0 0-44 12 17 5-6-17-20 0-2 18 0 0-7-18 0 0-19 17-4z"/><path id="cw" d="m50-85l-5 6-15 12-17 10-10 3 5 7 22-10 0 6 40 0 0-7 21 11 6-8-16-5-15-9-11-10 1-2zm-20 27l20-16 19 16zm-17 16l0 42 7 0 0-8 23 0 0-34zm7 6l16 0 0 21-16 0zm34-6l0 50 7 0 0-44 19 0 0 23-13 0 2 7 14 0 3-3 2-3 0-30z"/><path id="cx" d="m40-56l15 16 6-5-16-15zm-23 18l0 7 54 0-20 20-15-9-5 5 32 23 6-6-11-8 28-29-6-3zm34-46l-21 20-26 15 5 6 22-13 19-16 20 16 22 13 5-7-15-7-14-10-13-10 3-4z"/><path id="cy" d="m54-11l19 9 15 9 5-5-16-10-20-8zm-30-45l15 12 5-5-16-11zm-10 16l16 12 4-6-16-11zm-5-33l0 21 7 0 0-14 67 0 0 14 8 0 0-21-34 0-7-12-7 3 5 9zm-2 47l0 7 36 0-7 9-5 3-23 8 4 7 11-3 15-8 6-5 8-11 42 0 0-7-40 0 3-16 1-19-8 0-1 20-3 15z"/><path id="cA" d="m9 0l0-76 11 0 0 67 37 0 0 9z"/><path id="cB" d="m16-58l1 45 4 6 7 1 8-2 7-8 1-42 10 0 0 58-9 0-1-10-7 8-8 3-12-1-8-6-2-10-1-43z"/><path id="cC" d="m43 0l-15-24-15 24-11 0 21-30-20-29 11 0 14 23 14-23 11 0-20 29 21 30z"/><path id="cD" d="m14-78l16 16 5-5-16-15zm-9 25l0 8 15 0 0 36-1 5-3 3 4 7 23-18-3-6-12 8 0-43zm58-31l0 33-26 0 0 8 26 0 0 51 7 0 0-51 26 0 0-8-26 0 0-33z"/><path id="cE" d="m25-46l51 0 0 6-51 0zm0 11l51 0 0 6-51 0zm0-21l51 0 0 6-51 0zm33-28l-6 10-8 9 6 4-20 0 5-2-3-7 17 0 0-7-27 0 3-6-7-1-6 11-8 9 6 4 8-10 6 0 5 9-11 0 0 37 13 0 0 9-25 0 0 6 23 0-7 6-15 5 5 6 18-8 7-9 27 0 0 17 8 0 0-17 23 0 0-6-23 0 0-9 12 0 0-37-10 0 6-3-5-6 19 0 0-7-32 0 3-6zm6 69l-25 0 0-9 25 0zm-14-46l8-9 8 0 7 9z"/><path id="cF" d="m63-69l21 0 0 21-21 0zm-7-7l0 34 35 0 0-34zm-10 37l0 9-40 0 0 7 34 0-16 14-20 9 5 6 20-10 17-16 0 28 8 0 0-27 17 14 20 10 5-6-21-9-16-13 34 0 0-7-39 0 0-9zm-25-45l0 10-15 0 0 7 14 0-5 15-11 10 4 5 6-3 7-9 6-18 14 0-2 19-3 2-10-1 2 7 13-1 3-1 2-5 3-27-21 0 1-10z"/><path id="cG" d="m52-84l-7 20-9 15 6 5 9-17 35 0-2 44-2 13-4 5-14-1 3 8 16-1 4-3 3-10 4-62-40 0 5-14zm11 46l5 12-18 3 13-29-8-2-7 22-4 8-3 4 2 6 27-6 2 7 6-3-9-24zm-43-46l0 19-15 0 0 7 14 0-7 21-9 17 4 8 7-13 6-16 0 49 7 0 0-52 8 15 4-6-12-18 0-5 12 0 0-7-12 0 0-19z"/><path id="cH" d="m6-76l18 18 5-6-17-16zm20 30l-22 0 0 7 14 0 0 28-14 12 5 6 7-9 6-4 13 8 9 3 16 1 35-1 2-8-48 2-12-3-11-7zm10-34l0 6 43 0-15 8-14-6-5 5 20 8-29 0 0 52 7 0 0-17 17 0 0 16 7 0 0-16 17 0 0 11-11 0 2 6 14-2 3-4 0-46-13 0-8-4 21-14-5-4zm48 27l0 9-17 0 0-9zm-41 14l17 0 0 9-17 0zm0-5l0-9 17 0 0 9zm41 5l0 9-17 0 0-9z"/><path id="cI" d="m38-53l0 6 49 0 0-6zm0 14l0 6 49 0 0-6zm-7-29l0 7 64 0 0-7zm23-14l7 14 7-3-7-13zm-17 58l0 32 6 0 0-4 38 0 0 4 7 0 0-32zm6 22l0-16 38 0 0 16zm-17-82l-10 22-13 18 4 7 10-13 0 58 7 0 0-70 8-20z"/><path id="cJ" d="m37-40l42 0 0 9-42 0zm0-15l42 0 0 9-42 0zm33 39l18 20 6-4-18-20zm-33-4l-17 20 6 4 6-7 12-15zm-24-58l-1 54-5 18-3 8 6 4 4-9 5-19 1-50 74 0 0-6zm40 8l-4 9-19 0 0 36 24 0 0 26-14 0 2 7 14-1 5-3 0-29 25 0 0-36-29 0 5-8z"/><path id="cK" d="m4-5l2 7 35-9-1-6zm2-37l18-3-13 15-7 5 3 7 34-8 0-6-23 4 23-31-6-3-7 10-14 2 17-30-7-4-11 22-6 10-3 3zm40 9l0 41 7 0 0-5 31 0 0 5 7 0 0-41zm7 29l0-22 31 0 0 22zm-11-75l0 7 17 0-6 17-8 9-7 3 5 6 7-4 10-11 6-20 19 0-3 23-2 3-12-1 2 7 13 0 5-2 3-10 2-27z"/><path id="cL" d="m80-38l-2 14-8 14-13 9-14 2-14-2-13-9-8-13-2-15 2-15 8-13 12-7 15-3 14 2 13 8 8 14zm-11 0l-1-12-6-10-9-6-11-2-12 2-8 6-6 10-2 12 2 13 6 10 9 7 11 1 11-1 9-7 6-10z"/><path id="cM" d="m68-21l-3 12-8 6-7 3-22 0-8-1-10-7-6-11 10-1 2 6 4 4 7 2 12 1 8-2 6-3 4-9-2-6-4-3-29-9-10-6-3-6-1-6 1-8 2-4 10-8 11-2 15 1 11 4 7 12-10 2-3-7-4-3-16-1-7 1-4 3-2 9 2 4 4 3 25 7 10 4 6 7z"/><path id="cN" d="m10 0l0-76 11 0 0 76z"/><path id="cO" d="m47-42l35 0 0 8-35 0zm0-12l35 0 0 7-35 0zm26-30l0 8-15 0 0-8-7 0 0 8-15 0 0 7 15 0 0 7 7 0 0-7 15 0 0 7 7 0 0-7 14 0 0-7-14 0 0-8zm-33 24l0 31 21 0-2 8-25 0 0 7 23 0-9 10-17 6 4 6 8-2 12-7 4-4 6-9 10 14 17 8 5-6-15-6-10-10 22 0 0-7-27 0 1-8 21 0 0-31zm-22-24l0 19-13 0 0 7 13 0-6 21-9 17 4 8 11-25 0 45 7 0 0-52 7 15 5-5-12-20 0-4 10 0 0-7-10 0 0-19z"/><path id="cP" d="m64-78l0 33 6 0 0-33zm18-5l0 45-2 1-12 0 2 7 14-1 4-2 1-2 0-48zm-43 10l0 13-13 0 0-13zm-32 13l0 7 12 0-4 10-9 9 5 5 11-11 4-13 13 0 0 22 7 0 0-22 11 0 0-7-11 0 0-13 9 0 0-7-45 0 0 7 10 0 0 13zm40 27l0 11-32 0 0 7 32 0 0 13-42 0 0 6 90 0 0-6-41 0 0-13 31 0 0-7-31 0 0-11z"/><path id="cQ" d="m8-33l16-2 0 15-20 3 2 8 18-4 0 21 8 0 0-22 13-3 0-7-13 3 0-14 10 0 0-6-10 0 0-16-8 0 0 16-10 0 9-24 19 0 0-7-16 0 2-10-7-2-3 12-13 0 0 7 11 0-5 17-5 8zm35-21l0 8 14 0-6 18 29 0-12 16-10-6-5 5 28 21 5-6-12-10 18-25-5-2-25 0 3-11 31 0 0-8-29 0 3-11 22 0 0-7-20 0 3-11-7-1-3 12-19 0 0 7 17 0-4 11z"/><path id="cR" d="m67-79l13 15 6-4-13-15zm-53 27l6-2 19 0-8 19-6 9-13 14-9 6 6 6 17-14 12-16 7 10 8 9-14 8-15 5 4 6 16-6 15-8 15 9 18 5 4-6-17-5-14-8 11-13 8-17-5-3-35 1 4-11 45 0 0-7-43 0 4-22-9-1-4 23-18 0 7-19-8-1-6 16-4 6zm45 37l-9-10-7-11 31 0-6 11z"/><path id="cS" d="m58-36l0 40 6 0 0-40zm-18 0l0 15-2 10-6 9-6 5 6 5 10-11 4-11 1-22zm36 0l0 39 5 3 11 0 3-5 1-11-5-3-1 12-7 1-1-36zm-68-41l18 13 4-6-17-13zm-4 27l18 11 4-6-18-10zm2 52l7 5 3-5 15-28-5-5zm50-84l4 11-28 0 0 7 20 0-12 14-7 3 2 7 49-4 5 7 6-4-18-22-6 4 8 9-31 2 12-16 34 0 0-7-26 0-5-13z"/><path id="cT" d="m29-10l2 7 35-10-1-6zm13-37l13 0 0 17-13 0zm-6-6l0 29 25 0 0-29zm-32 40l2 7 27-13-2-7-9 5 0-31 9 0 0-8-9 0 0-23-7 0 0 23-11 0 0 8 11 0 0 34zm82-40l-9 26-3-35 21 0 0-7-5 0 4-5-12-10-5 4 12 11-15 0-1-15-7 0 0 15-33 0 0 7 34 0 4 44-9 11-12 9 6 5 17-16 4 9 4 6 8 2 4-4 3-14-5-4-2 13-3 1-4-4-4-13 9-16 6-19z"/><path id="cU" d="m26-53l16 12-19 8-18 6 4 7 16-5 0 33 8 0 0-5 44 0 0 5 8 0 0-42-40 0 23-16 12-14 4-7-5-3-36 0 6-9-8-1-13 15-21 13 5 6 13-8 11-9 37 0-10 12-14 11-17-13zm51 49l-44 0 0-23 44 0z"/><path id="cV" d="m26-53l0 12-9 0 0-12zm6 0l9 0 0 12-9 0zm-16-6l5-10 13 0-4 10zm3-25l-6 18-10 14 6 4 2-2-1 37-7 18 6 3 5-11 2-13 10 0 0 19 6 0 0-19 9 0 0 16-9 1 2 6 8 0 3-2 2-4 0-60-11 0 7-13-5-3-15 0 3-8zm7 49l0 13-9 0 0-13zm6 0l9 0 0 13-9 0zm26-11l-3 12-6 10 6 4 5-10 11 0 0 12-20 0 0 7 20 0 0 19 7 0 0-19 18 0 0-7-18 0 0-12 15 0 0-7-15 0 0-9-7 0 0 9-8 0 2-8zm-7-33l0 6 14 0-5 13-11 10 4 5 5-4 8-8 6-16 14 0-2 17-2 2-10 0 2 6 11 0 4-3 3-7 1-21z"/><path id="cW" d="m74-38l-1 11-3 10-6 8-7 6-16 4-32 0 0-76 32 0 15 4 8 6 6 8 3 9zm-10 0l-2-12-3-7-4-6-11-4-23 0 0 59 22-1 11-4 9-12z"/><path id="cX" d="m58 0l-41-65 1 65-10 0 0-76 12 0 41 65 0-65 9 0 0 76z"/><path id="cY" d="m43-68l-14 3-10 11-2 7 0 13 4 15 11 9 11 2 14-3 10-12 8 4-6 9-8 6-9 4-10 1-14-2-13-9-8-13-2-15 1-11 6-13 11-10 9-3 14-1 13 3 10 8 6 8-10 3-3-6-6-4z"/><path id="cZ" d="m44-45l15 10 3-4-14-10zm-7 9l15 10 3-4-14-10zm31 26l23 18 5-5-23-18zm-58-67l16 15 5-5-16-15zm27 18l0 6 48 0-4 12 6 2 7-19-5-2-21 1 0-9 21 0 0-7-21 0 0-9-7 0 0 9-21 0 0 7 21 0 0 9zm27 10l-1 24-28 0 0 7 25 0-9 11-18 10 5 5 8-3 12-9 10-14 27 0 0-7-25 0 1-24zm-60-4l0 8 15 0 0 38-5 8 4 5 20-17-3-7-9 8 0-43z"/><path id="da" d="m38-67l0 67-10 0 0-67-26 0 0-9 63 0 0 9z"/><path id="db" d="m0 1l22-80 9 0-22 80z"/><path id="dc" d="m63 0l-9-22-34 0-9 22-11 0 31-76 12 0 31 76zm-26-68l-13 38 28 0z"/><path id="dd" d="m63 0l-20-32-23 0 0 32-11 0 0-76 44 1 9 3 7 6 3 12-2 10-7 8-10 3 22 33zm-2-54l-1-8-9-6-31 0 0 28 32-1 8-6z"/><path id="de" d="m11-77l15 15 5-5-15-15zm-7 24l0 8 15 0 0 36-2 6-3 3 4 6 21-17-2-6-11 7 0-43zm45 32l32 0 0 8-32 0zm0-5l0-8 32 0 0 8zm12-58l0 8-23 0 0 6 23 0 0 6-20 0 0 6 20 0 0 6-26 0 0 6 61 0 0-6-27 0 0-6 21 0 0-6-21 0 0-6 24 0 0-6-24 0 0-8zm-19 44l0 48 7 0 0-16 32 0-1 9-12 0 2 7 11-1 6-2 1-5 0-40z"/><path id="df" d="m12-50l16 19 6-4-17-19zm-8 41l5 7 37-22-1 24-17 0 3 8 14 0 5-2 4-6 0-42 16 25 13 12 8 5 6-7-16-9-12-14 21-21-7-4-18 19-6-11-5-13 40 0 0-7-12 0 4-5-19-11-4 4 18 12-27 0 0-17-8 0 0 17-40 0 0 7 40 0 0 28z"/><path id="dg" d="m44-82l7 15-44 0 0 8 27 0-2 23-3 11-6 11-7 9-11 7 5 6 9-5 12-14 4-8 5-17 36 0-2 18-4 15-4 3-19-1 3 8 22-1 4-3 3-6 5-40-43 0 1-16 52 0 0-8-43 0 7-3-3-7-4-8z"/><path id="dh" d="m71-79l14 13 5-5-14-12zm-15-5l1 19-51 0 0 7 52 0 4 34 4 13 5 10 6 7 8 2 3 0 5-5 4-17-7-5-1 15-3 4-5-2-5-5-7-21-4-30 30 0 0-7-30 0-1-19zm-50 82l2 7 48-11 0-7-22 5 0-28 19 0 0-7-44 0 0 7 18 0 0 29z"/><path id="di" d="m30-84l-11 19-15 15 6 6 17-19 53 0-3 38-3 3-12 0 2 7 12 0 5-1 3-5 1-10 2-39-55 0 6-12zm-3 38l26 0 0 16-26 0zm-7-7l0 45 1 9 3 2 9 3 45 0 10-2 4-2 2-3 2-10-7-3-3 10-4 3-42 0-11-2-2-3 0-17 33 0 0-30z"/><path id="dj" d="m74-77l12 17 6-3-12-18zm-69 10l13 18 6-4-13-18zm54-17l0 30-23 0 0 7 22 0-3 17-3 9-11 16-8 8 6 5 7-7 10-13 8-22 11 25 10 12 7 5 5-6-7-5-12-15-4-9-6-20 27 0 0-7-29 0 0-30zm-56 65l5 6 17-16 0 37 7 0 0-92-7 0 0 46z"/><path id="dk" d="m38-41l16 12 7-4-17-12zm-11 17l0 23 3 5 6 2 33 0 6-3 1-3 2-10-7-3-1 10-3 2-31-1-2-2 0-20zm14-2l16 17 6-4-16-17zm34 2l12 28 7-3-12-27zm-60 0l-4 13-6 12 7 3 10-26zm32-60l-3 14-38 0 0 7 36 0-6 12-6 6-15 8-11 4 5 6 12-4 16-11 6-6 7-15 10 16 6 7 15 9 10 4 5-7-9-3-14-8-6-5-9-13 37 0 0-7-43 0 2-14z"/><path id="dl" d="m41-20l0 6 38 0 0-6zm8-45l-3 31 40 0-2 18-3 14-4 3-12-1 2 7 16 0 4-5 3-9 4-33-12 0 4-38-42 0 0 7 34 0-4 31-20 0 2-24zm-44-14l0 7 12 0-5 22-9 17 3 8 6-8 0 36 6 0 0-8 18 0 0-43-18 0 6-24 15 0 0-7zm13 38l12 0 0 30-12 0z"/><path id="dm" d="m46-84l0 18-36 0 0 47 7 0 0-6 29 0 0 33 8 0 0-33 28 0 0 6 8 0 0-47-36 0 0-18zm-29 52l0-27 29 0 0 27zm65 0l-28 0 0-27 28 0z"/><path id="dn" d="m9-62l0 70 8 0 0-70zm2-17l12 15 6-4-13-15zm27 49l24 0 0 14-24 0zm0-19l24 0 0 13-24 0zm-7-6l0 45 38 0 0-45zm4-23l0 7 49 0 0 70-2 2-10 0 3 7 14-2 2-7 0-77z"/><path id="do" d="m46-84l-2 25-3 16-7 17-12 15-18 13 6 6 12-8 9-8 12-20 7-20 7 20 6 10 7 10 10 8 11 7 5-6-15-10-11-13-8-13-5-14-4-20 1-15z"/><path id="dp" d="m3-18l2 8 39-11-1-7-16 4 0-40 15 0 0-7-37 0 0 7 14 0 0 42zm51-66l-8 24-12 20 7 4 8-12 5 16 8 14-14 11-18 8 5 7 17-8 14-12 12 12 14 8 5-7-14-7-12-12 10-17 7-23 8 0 0-7-40 0 6-18zm26 26l-6 19-7 15-8-16-5-18z"/><path id="dq" d="m15-30l0 32 63 0 0 6 7 0 0-38-7 0 0 25-24 0 0-33 40 0 0-7-40 0 0-16 33 0 0-7-33 0 0-16-8 0 0 16-32 0 0 7 32 0 0 16-40 0 0 7 40 0 0 33-23 0 0-25z"/><path id="dr" d="m39-74l-1 50-5 19-4 9 6 3 7-19 3-21 1-35 12-1 0 76 7 0 0-77 12-2 3 47 6 23 5 9 5-6-4-8-6-22-2-45 8-2-6-6-21 5zm-22-10l0 20-12 0 0 7 12 0 0 22-13 4 2 7 11-3 0 26-1 1-10 0 2 7 10 0 5-3 1-6 0-28 12-4-1-6-11 3 0-20 12 0 0-7-12 0 0-20z"/><path id="ds" d="m56-30l-2 18-7 10-6 2-13 0-6-2-7-7 0 9-10 0 1-79 10 0-1 31 4-7 7-3 8-1 10 2 8 8zm-10 1l-1-13-4-8-8-2-9 2-4 6-2 12 0 13 3 8 4 3 4 1 11-2 4-7z"/><path id="dt" d="m56-30l-2 18-7 10-6 2-11 1-7-2-8-8 1 32-10 0-1-81 10 0 0 10 7-8 6-2 10-1 9 3 7 10zm-10 1l-1-13-4-8-8-2-9 2-4 7-2 10 0 12 3 10 4 3 4 1 11-2 4-7z"/><path id="du" d="m30 0l-13 0-6-2-2-7 0-42-7 0 0-8 7 0 3-13 6 0 0 13 11 0 0 8-11 0 0 36 3 7 9 0z"/><path id="dv" d="m47-77l-7 18 5 1 8-18zm-28 1l4 18 6-2-5-17zm13-8l0 30-14 0 0 7 13 0-7 13-8 10 3 6 13-19 0 25 6 0 0-27 10 14 4-5-14-17 15 0 0-7-15 0 0-30zm-24 4l0 78 42 0 0-7-35 0 0-71zm49 6l-1 48-2 15-5 15 6 4 3-7 4-17 2-27 14 0 0 51 8 0 0-51 10 0 0-7-32 0 0-19 32-10-6-5z"/><path id="dw" d="m18-14l-6 9-8 8 6 4 8-8 7-11zm13 3l11 14 6-4-11-13zm31-73l-5 22-9 18 6 4 10-21 24 0-4 18 6 2 7-26-5-1-26 0 3-15zm6 29l0 14-3 18-9 17-8 9 5 5 5-5 8-10 6-16 8 17 11 14 5-6-10-11-7-14-4-17 0-15zm-31-28l0 12-16 0 0-12-7 0 0 12-9 0 0 7 9 0 0 41-10 0 0 7 50 0 0-7-10 0 0-41 8 0 0-7-8 0 0-12zm-16 19l16 0 0 9-16 0zm0 15l16 0 0 10-16 0zm0 16l16 0 0 10-16 0z"/><path id="dx" d="m3-16l1 6 23-6-1-6zm61-19l0 15-8 0 0-15zm4 0l8 0 0 15-8 0zm-18-6l0 48 6 0 0-21 8 0 0 19 4 0 0-19 8 0 0 19 4 0 0-19 7 0 0 15-6 1 2 5 9-1 1-4 0-43zm30 6l7 0 0 15-7 0zm-19-48l4 10-21 0-2 48-3 19-4 8 6 4 3-9 5-19 1-28 42 0 0-23-19 0-5-12zm-11 16l35 0 0 11-35 0zm-40 2l-3 34 24 0-4 30-3 3-10-1 2 6 12 0 3-2 3-6 3-21 1-15-7 0 4-42-29 0 0 6 22 0-3 36-11 0 2-28z"/><path id="dy" d="m60-82l5 15 7-2-5-15zm-23 15l0 7 16 0-2 25-2 12-5 10-6 8-10 7 5 6 14-12 8-16 4-18 23 0-4 36-3 3-14-1 2 8 12 0 7-2 3-4 2-10 2-37-29 0 0-15 35 0 0-7zm-29-13l0 88 7 0 0-81 15 0-8 24 7 11 2 13-3 4-9 1 2 6 7 0 7-3 2-5 1-9-2-7-8-12 11-27-5-3z"/><path id="dz" d="m20-84l-8 10-9 10 4 6 11-11 9-13zm49 8l0 84 7 0 0-78 11 0 0 55-8 1 2 7 9-1 3-2 1-3 0-63zm-47 12l-9 15-11 13 4 7 9-10 0 47 7 0 0-57 5-9 5 4 7-12 7 0 0 15-17 0 0 7 17 0 0 37-9 1 0-30-6 0 0 31-5 1 1 7 40-7 0-6-15 2 0-17 13 0 0-7-13 0 0-12 14 0 0-7-14 0 0-15 13 0 0-7-24 0 3-10-7-1-4 14-6 11 2-3z"/><path id="dA" d="m5-65l0 7 34 0 0-7zm3 13l5 36 6-2-5-35zm7-29l7 15 6-2-7-15zm26 49l0 40 7 0 0-34 8 0 0 33 6 0 0-33 10 0 0 33 6 0 0-33 9 0 0 27-7 1 2 6 7 0 3-2 1-38-25 0 2-9 26 0 0-7-58 0 0 7 24 0-2 9zm1-47l0 24 50 0 0-24-7 0 0 17-15 0 0-22-7 0 0 22-14 0 0-17zm-13 25l-6 40-19 4 2 8 33-8-1-8-9 3 7-38z"/><path id="dB" d="m31 8l31-8 0-6-22 4 0-20 14 0 4 7 11 12 14 8 9 3 4-6-12-4-10-6 16-10-6-4-15 10-8-10 34 0 0-7-21 0 0-10 17 0 0-7-17 0 0-9-7 0 0 9-20 0 0-9-7 0 0 9-15 0 0 7 15 0 0 10-18 0 0 7 11 0 0 18-5 6zm16-47l20 0 0 10-20 0zm-25-34l60 0 0 11-60 0zm-8-6l0 38-2 18-5 19-4 8 7 4 4-9 6-20 2-35 67 0 0-23z"/><path id="dC" d="m41-62l14 11 4-5-14-10zm-14 37l0 24 3 4 6 2 28 1 8-2 2-2 3-12-7-3-1 10-3 2-30-1-2-3 0-20zm9-6l18 19 6-4-18-19zm39 7l14 26 7-3-15-25zm-61-1l-4 13-6 12 7 3 6-12 4-13zm3-24l0 7 52 0-14 14 6 4 10-10 9-12-5-3zm31-37l-6 7-13 11-26 12 5 7 22-12 19-15 13 10 22 13 7 3 5-7-23-10-20-14 2-2z"/><path id="dD" d="m46-46l0 18-2 11-4 5-8 5-27 9 5 6 16-5 12-5 8-6 5-6 3-7 0-25zm8 35l34 19 5-6-34-18zm-37-49l0 47 8 0 0-39 51 0 0 39 8 0 0-47-36 0 6-12 40 0 0-6-87 0 0 6 38 0-5 12z"/><path id="dE" d="m55-42l15 23 7-4-16-23zm-31-42l-4 16-11 0 0 73 7 0 0-7 28 0 0-66-17 0 5-15zm-8 23l21 0 0 21-21 0zm0 52l0-25 21 0 0 25zm44-75l-7 20-9 16 7 4 9-17 26 0-3 43-2 13-4 4-17 0 3 7 16 0 7-4 3-9 4-61-30 0 4-15z"/><path id="dF" d="m5-6l1 7 34-8-1-7zm43-73l0 78-10 0 0 7 58 0 0-7-9 0 0-78zm7 78l0-20 25 0 0 20zm0-46l25 0 0 20-25 0zm0-7l0-18 25 0 0 18zm-48 12l17-3-13 15-6 5 2 7 33-8 0-6-22 4 24-31-6-4-7 11-15 2 18-31-7-3-11 22-6 10-4 3z"/><path id="dG" d="m23-84l0 9-17 0 0 6 17 0 0 6-15 0 0 5 15 0 0 6-19 0 0 6 44 0 0-6-18 0 0-6 15 0 0-5-15 0 0-6 17 0 0-6-17 0 0-9zm39 15l14 0-5 8-3 4-14 0zm0-15l-7 14-9 12 5 4 1-1 0 4 13 0 0 11-18 0 0 6 18 0 0 11-14 0 0 7 14 0 0 16-13 1 3 7 10-1 6-2 1-4 0-17 12 0 0 4 7 0 0-22 6 0 0-6-6 0 0-17-15 0 9-15-4-3-16 0 4-7zm22 61l-12 0 0-11 12 0zm0-17l-12 0 0-11 12 0zm-67 18l20 0 0 7-20 0zm0-5l0-7 20 0 0 7zm-7-13l0 48 7 0 0-17 20 0-1 11-10 0 2 6 13-2 2-4 1-42z"/><path id="dH" d="m9-76l0 7 39 0 0-7zm56-6l0 21-14 0 0 7 14 0-5 32-8 18-6 6 6 6 6-8 9-19 5-35 15 0-2 38-4 15-16 0 2 7 18-1 3-2 3-9 3-55-22 0 1-21zm-56 78l34-9 2 7 6-3-10-27-6 1 6 16-24 5 10-31 22 0 0-7-44 0 0 7 14 0-7 24-6 10z"/><path id="dI" d="m16-81l9 14 6-4-9-13zm26 5l0 8 16 0-1 16-4 26-5 11-6 10-8 7 6 6 9-9 6-10 8-25 3-32 19 0-2 49-3 15-4 4-15 0 2 7 19-1 4-3 3-10 3-69zm-37 10l0 6 25 0-12 19-14 15 4 7 12-12 0 39 8 0 0-40 10 14 5-6-8-10 9-9-5-4-8 10-3-4 12-23-4-3z"/><path id="dJ" d="m68-49l20 27 6-5-21-26zm-64 39l2 7 28-11-1-6-10 3 0-24 9 0 0-7-9 0 0-22 11 0 0-7-30 0 0 7 12 0 0 22-10 0 0 7 10 0 0 27zm35-68l0 8 26 0-13 24-17 19 6 6 10-11 9-12 0 52 8 0 0-66 5-12 21 0 0-8z"/><path id="dK" d="m48-30l32 0 0 7-32 0zm0-12l32 0 0 7-32 0zm11-41l2 6-21 0 0 7 50 0 0-7-21 0-3-8zm16 14l-4 11-17 0 4-1-4-10-6 1 3 10-14 0 0 6 56 0 0-6-16 0 5-10zm-33 22l0 29 10 0-3 10-2 3-10 6-7 1 4 6 8-2 11-7 3-5 3-12 9 0 0 19 2 4 14 2 9-2 1-3 1-9-6-3 0 8-2 2-10 1-2-2 0-17 12 0 0-29zm-39 34l3 8 29-12-1-7-11 4 0-32 10 0 0-8-10 0 0-23-7 0 0 23-11 0 0 8 11 0 0 35z"/><path id="dL" d="m46-29l0 7-41 0 0 6 34 0-17 10-19 7 5 6 20-9 18-12 0 22 8 0 0-22 18 12 20 8 5-6-19-7-18-9 35 0 0-6-41 0 0-7zm3-26l0 6-24 0 0-6zm-2-27l4 9-22 0 5-10-8-1-9 14-14 14 5 5 9-8 0 32 8 0 0-3 67 0 0-6-36 0 0-7 29 0 0-6-29 0 0-6 29 0 0-6-29 0 0-6 33 0 0-6-30 0-6-11zm2 21l-24 0 0-6 24 0zm0 18l0 7-24 0 0-7z"/><path id="dM" d="m74 0l0-67-24 67-7 0-25-67 1 67-10 0 0-76 13 0 24 65 23-65 13 0 0 76z"/><path id="dN" d="m10-77l15 16 5-5-15-15zm29 15l0 6 13 0-3 12 0 2-17 0 0 7 64 0 0-7-12 0 2-20-25 0 2-12 29 0 0-6-56 0 0 6 20 0-3 12zm17 20l4-14 18 0-1 14zm-16 15l0 35 8 0 0-4 34 0 0 4 7 0 0-35zm8 25l0-18 34 0 0 18zm-29 7l20-15-2-7-12 8 0-44-21 0 0 8 14 0 0 36-1 5-2 2z"/><path id="dO" d="m76-77l11 15 5-4-10-14zm-68 38l0 45 7 0 0-6 27 0 0 6 7 0 0-45-18 0 0-19 21 0 0-7-21 0 0-18-7 0 0 44zm7 33l0-26 27 0 0 26zm48-77l2 29-14 2 1 7 14-2 5 31-10 10-11 6 6 6 17-14 6 12 5 3 5 1 6-8 2-12-5-4-2 12-3 4-5-4-4-10 9-14 7-16-6-3-12 24-4-25 24-4-1-6-23 3-2-28z"/><path id="dP" d="m24 1l-11-2-4-3-3-3-3-11 10-2 3 9 6 4 8 0 4-3 3-9 0-47-14 0 0-9 25 0 0 53-2 10-2 6-7 6z"/><path id="dQ" d="m33 0l-11 0-22-58 11 0 16 51 16-51 11 0z"/><path id="dR" d="m14-30l2 13 7 9 7 1 6-1 4-3 2-7 10 0-2 8-4 6-7 4-16 0-11-7-6-13 1-22 7-12 12-6 10 1 7 2 8 7 2 8-10 1-4-9-7-2-7 1-4 2-2 3z"/><path id="dS" d="m39-76l0 6 19 0 0 8-25 0 0 6 25 0 0 8-19 0 0 6 19 0 0 8-20 0 0 5 20 0 0 8-24 0 0 6 24 0 0 10 7 0 0-10 29 0 0-6-29 0 0-8 25 0 0-5-25 0 0-8 23 0 0-14 6 0 0-6-6 0 0-14-23 0 0-8-7 0 0 8zm26 20l16 0 0 8-16 0zm0-6l0-8 16 0 0 8zm-55 23l4-3 12 0-6 23-7-15-5 2 9 19-6 9-7 7 5 5 7-7 6-8 12 8 14 3 45 2 3-7-46-1-14-4-11-7 5-16 3-19-14-1 15-27-5-3-23 1 0 7 18 0-10 18-7 8z"/><path id="dT" d="m6-65l0 7 39 0 0-7zm4 13l5 35 6-1-5-36zm8-30l6 16 7-3-7-15zm15 27l-7 41-21 4 1 8 38-10 0-6-11 2 7-38zm14 19l0 44 7 0 0-5 30 0 0 5 8 0 0-44-21 0 0-20 25 0 0-7-25 0 0-21-8 0 0 48zm7 32l0-25 30 0 0 25z"/><path id="dU" d="m70-38l2 18 7 16 10 14 6-4-13-20-5-15 0-9 0-9 5-15 13-20-6-4-10 14-4 7-5 18z"/><path id="dV" d="m10 23l-7-1 0-7 8 0 6-3 7-12-23-58 11 0 18 47 16-47 10 0-28 68-8 10z"/><path id="dW" d="m61-17l16 14 6-4-16-14zm-18-66l5 11-40 0 0 22 8 0 0-14 68 0 0 12-68 0 0 7 30 0 0 16-27 0 0 7 27 0 0 20-39 0 0 7 87 0 0-7-40 0 0-20 28 0 0-7-28 0 0-16 30 0 0-5 8 0 0-22-35 0-7-13z"/><path id="dX" d="m48-39l0 7 32 0 0-7zm26-45l0 10-20 0 0-10-7 0 0 10-15 0 0 7 15 0 0 10 7 0 0-10 20 0 0 10 7 0 0-10 15 0 0-7-15 0 0-10zm-32 59l0 33 7 0 0-4 31 0 0 4 7 0 0-33zm7 23l0-16 31 0 0 16zm-45-11l2 8 29-12-1-7-10 4 0-32 10 0 0-8-10 0 0-23-8 0 0 23-11 0 0 8 11 0 0 35zm58-49l-14 13-20 12 6 5 15-9 14-11 13 10 16 9 5-6-22-11-8-7 2-2z"/><path id="dY" d="m30-38l0-9-5-18-4-7-10-14-6 4 13 20 5 15 0 9 0 9-5 15-13 20 6 4 10-14 7-16z"/><path id="dZ" d="m59 0l-22-33-23 33-12 0 29-40-26-36 12 0 21 30 20-30 12 0-26 36 29 40z"/><path id="ea" d="m8-78l16 11 5-6-17-10zm-4 27l17 11 5-6-18-10zm44 27l10 8 3-4-9-7zm0 14l10 8 3-3-10-8zm23-14l10 8 3-4-10-8zm0 13l9 9 4-4-10-8zm-66 14l7 4 4-10 9-23-6-4zm27-83l0 37-2 19-5 19-4 8 6 5 4-8 5-18 3-27 24 0 0 8-23 0 0 45 6 0 0-39 17 0 0 38 6 0 0-38 17 0 0 33-10 1 2 5 13-2 2-3 0-40-24 0 0-8 25 0 0-6-55 0 0-7 52 0 0-22zm7 6l45 0 0 10-45 0z"/><path id="eb" d="m46-63l0 6 34 0 0-6zm-38-14l18 11 5-6-18-10zm-4 27l18 10 4-6-18-10zm2 51l7 5 6-10 11-22-6-5zm27-81l0 88 7 0 0-81 45 0 0 72-2 2-12 0 2 7 12 0 5-2 3-8 0-78zm16 33l0 38 6 0 0-6 21 0 0-32zm6 7l15 0 0 18-15 0z"/><path id="ec" d="m31-49l38 0 0 10-38 0zm-16 24l0 29 8 0 0-22 24 0 0 26 8 0 0-26 23 0 0 15-14 0 2 7 14-1 3-1 3-3 0-24-31 0 0-9 22 0 0-21-53 0 0 21 23 0 0 9zm2-55l8 12-16 0 0 21 7 0 0-15 69 0 0 15 7 0 0-21-38 0 0-16-7 0 0 16-21 0 6-3-5-8-3-4zm59-3l-8 12 6 3 10-12z"/><path id="ed" d="m15-77l0 51-4 16-8 14 6 4 4-4 5-10 4-17 25 0 0 30 7 0 0-30 27 0 0 23-18 0 3 7 14 0 7-2 2-7 0-75zm8 7l24 0 0 16-24 0zm58 0l0 16-27 0 0-16zm-58 23l24 0 0 17-25 0zm58 0l0 17-27 0 0-17z"/><path id="ee" d="m60-8l30 16 6-6-31-16zm-27-5l-13 8-16 8 6 5 15-8 15-9zm-12-66l0 58-16 0 0 7 90 0 0-7-15 0 0-58zm7 58l0-9 45 0 0 9zm0-38l45 0 0 9-45 0zm0-5l0-9 45 0 0 9zm0 20l45 0 0 8-45 0z"/><path id="ef" d="m26 1l-12-3-8-10-2-16 2-18 8-10 6-2 9-1 7 2 9 8 1-10 9 0 0 82-10 0 0-33-7 9zm18-31l-1-12-6-8-9-2-8 2-4 4-1 12 0 14 3 9 10 3 9-2 6-8z"/><path id="eg" d="m46-84l0 21-40 0 0 8 31 0-15 24-12 12-6 5 5 6 7-5 13-15 15-27 2 0 0 37-23 0 0 7 23 0 0 19 8 0 0-19 23 0 0-7-23 0 0-37 1 0 15 27 13 14 8 6 5-7-6-4-13-13-14-23 31 0 0-8-40 0 0-21z"/><path id="eh" d="m40 1l-9-1-10-3-8-7-3-7-1-11 0-48 10 0 0 47 2 12 7 7 12 2 11-2 8-8 2-11 0-47 11 0-1 51-2 10-4 7-8 7z"/><path id="ei" d="m47-60l6 15 5-2-7-14zm30-1l-8 14 4 2 9-14zm-73 48l2 7 28-11-1-6-10 3 0-33 10 0 0-7-10 0 0-23-7 0 0 23-11 0 0 7 11 0 0 36zm40-68l7 11 7-3-8-11zm-7 11l0 34 54 0 0-34-14 0 8-12-7-2-9 14zm7 6l17 0 0 22-17 0zm23 0l17 0 0 22-17 0zm-18 54l30 0 0 7-30 0zm0-6l0-8 30 0 0 8zm-7-14l0 38 7 0 0-5 30 0 0 5 7 0 0-38z"/><path id="ej" d="m71-73l0 57 6 0 0-57zm14-9l0 82-1 1-11 0 3 7 12-1 4-6 0-83zm-81 37l0 7 7 0 0 5-1 19-6 18 5 4 5-12 3-15 0-19 9 0 0 37-9 1 2 7 10-1 3-4 1-40 7 0-1 22-5 21 5 3 3-7 3-15 1-24 9 0 0 37-9 1 2 7 8-1 4-2 2-5 0-37 5 0 0-7-5 0 0-36-22 0 0 36-7 0 0-36-22 0 0 36zm13-29l9 0 0 29-9 0zm29 0l9 0 0 29-9 0z"/><path id="ek" d="m60-58l21 0-4 18-6 15-7-15zm-52-19l0 7 28 0 0 22-27 0 0 38-1 4-2 1 3 8 35-15-1-7-27 10 0-32 27 0 5 6 7-12 11 29-10 11-14 9 4 6 14-8 11-11 9 11 12 8 5-7-12-8-10-11 8-18 6-22 6 0 0-8-32 0 4-17-7-1-7 24-10 19 0-36z"/><path id="el" d="m30-22l40 0 0 9-40 0zm0-13l40 0 0 8-40 0zm-8-6l0 33 56 0 0-33zm-15 39l0 7 86 0 0-7zm39-82l0 13-40 0 0 6 32 0-16 13-18 10 4 6 21-12 17-16 0 20 7 0 0-20 18 16 20 11 5-6-19-9-15-13 32 0 0-6-41 0 0-13z"/><path id="em" d="m11-78l14 16 5-5-13-15zm-7 25l0 8 14 0 0 36-4 7 3 6 21-17-2-6-10 7 0-41zm47-31l-9 18-11 15 7 5 11-16 38 0-3 45-2 13-4 4-16 0 3 7 17 0 5-4 3-9 4-63-41 0 5-13zm16 55l0 11-17 0 0-11zm0-6l-17 0 0-11 17 0zm-24-17l0 46 7 0 0-6 24 0 0-40z"/><path id="en" d="m22-80l10 17-19 0 0 8 33 0 0 18-39 0 0 7 37 0-5 11-6 5-16 11-12 4 5 7 21-10 14-11 7-11 9 14 7 5 14 9 9 3 5-7-9-3-15-8-6-6-10-13 38 0 0-7-40 0 1-18 33 0 0-8-20 0 11-18-8-3-11 21-27 0 6-3-4-9-6-8z"/><path id="eo" d="m48-79l10 15 7-3-10-15zm33-3l-11 19-25 0 0 7 19 0 0 12 0 6-21 0 0 7 20 0-7 18-10 11-7 6 6 5 15-14 8-15 10 17 8 8 6 3 5-6-6-4-10-9-10-20 25 0 0-7-25 0 0-18 21 0 0-7-14 0 11-17zm-77 68l1 8 26-5 0 19 7 0 0-20 8-1 0-7-8 1 0-54 4 0 0-7-37 0 0 7 5 0 0 59zm13-59l14 0 0 14-14 0zm0 21l14 0 0 14-14 0zm0 20l14 0 0 14-14 3z"/><path id="ep" d="m46-54l0 14-41 0 0 8 41 0 0 31-20 1 3 8 18-1 6-3 1-36 41 0 0-8-41 0 0-10 18-11 15-12-5-5-67 1 0 7 57 0z"/><path id="eq" d="m57-72l0 78 7 0 0-7 20 0 0 7 7 0 0-78zm7 64l0-56 20 0 0 56zm-44-75l-1 18-14 0 0 7 14 0-4 35-7 19-5 7 6 5 6-8 7-20 4-38 16 0-3 53-3 4-12 0 2 7 16-1 2-3 3-8 2-59-22 0 0-18z"/><path id="er" d="m36-33l29 0 0 15-29 0zm-7-6l0 26 43 0 0-26-18 0 0-11 24 0 0-7-24 0 0-11-8 0 0 11-23 0 0 7 23 0 0 11zm-20-40l0 87 7 0 0-4 68 0 0 4 7 0 0-87zm7 75l0-68 68 0 0 68z"/><path id="es" d="m80-38l-2 15-6 11-10 9-13 3 8 11 6 2 8-1 0 8-9 1-8-1-6-3-6-7-3-9-13-3-12-8-8-14-1-14 2-15 8-13 12-7 15-3 14 2 13 8 8 14zm-11 0l-1-12-6-10-9-6-11-2-12 2-8 6-6 10-2 12 2 13 6 10 9 7 11 1 11-1 9-7 6-10z"/><path id="et" d="m9-77l19 11 5-6-19-11zm-5 27l19 11 4-6-19-10zm3 52l6 5 7-10 12-23-6-4zm48-84l8 17 7-3-8-16zm-22 17l0 7 27 0 0 23-23 0 0 7 23 0 0 26-30 0 0 7 66 0 0-7-28 0 0-26 22 0 0-7-22 0 0-23 26 0 0-7z"/><path id="eu" d="m59-82l5 15 7-2-5-15zm-46 4l14 15 5-5-14-14zm24 12l0 7 15 0 0 12-3 23-3 11-5 9-7 7 5 5 10-12 6-16 3-17 22 0-3 34-3 3-14 0 2 7 14 0 4-1 4-5 2-10 2-35-29 0 0-15 36 0 0-7zm-32 13l0 7 15 0 0 36-6 7 5 7 22-19-2-6-11 9 0-41z"/><path id="ev" d="m9-62l0 70 8 0 0-70zm1-17l15 17 6-4-15-17zm26 1l0 7 47 0 0 69-1 2-15 0 3 7 12 0 6-2 2-2 1-5 0-76zm-4 24l0 44 7 0 0-7 28 0 0-37zm7 7l21 0 0 23-21 0z"/><path id="ew" d="m65-70l0 28-28 0 0-28zm-60 28l0 7 24 0-3 14-3 6-10 12-8 6 6 5 9-6 10-14 3-7 3-16 29 0 0 43 8 0 0-43 22 0 0-7-22 0 0-28 19 0 0-8-83 0 0 8 20 0 0 28z"/><path id="ex" d="m55-80l0 8 31 0 0 24-30 0 1 50 1 3 6 2 25 0 5-4 3-17-7-3-2 14-2 3-19 0-3-2-1-39 23 0 0 7 7 0 0-46zm-41 64l28 0 0 11-28 0zm0-5l0-34 7 0-1 16-6 9 4 3 6-10 1-18 6 0 0 22 3 2 8 0 0 10zm-8-59l0 7 14 0 0 11-12 0 0 70 6 0 0-7 28 0 0 5 6 0 0-68-11 0 0-11 13 0 0-7zm20 18l0-11 5 0 0 11zm9 7l7 0 0 20-7-1z"/><path id="ey" d="m65-75l17 0 0 9-17 0zm-23 0l16 0 0 9-16 0zm-23 0l16 0 0 9-16 0zm0 32l0 42-13 0 0 6 88 0 0-6-13 0 0-42-31 0 1-6 41 0 0-5-40 0 1-6 37 0 0-20-78 0 0 20 33 0 0 6-38 0 0 5 37 0-2 6zm7 42l0-6 47 0 0 6zm0-27l47 0 0 6-47 0zm0-4l0-6 47 0 0 6zm0 15l47 0 0 6-47 0z"/><path id="ez" d="m21-54l13 16 6-5-14-15zm-12-8l0 65 75 0 0 5 8 0 0-70-8 0 0 58-68 0 0-58zm37 1l0 21-27 18 3 6 24-17 0 17-12 0 2 7 15-2 3-4 0-21 21 21 5-5-17-16 17-19-7-3-14 18-5-4 0-14 14-8 13-10-5-4-58 0 0 7 48 0z"/><path id="eA" d="m18-84l-6 14-8 10 4 7 8-12 24 0 0-7-20 0 4-10zm-12 50l0 6 14 0 0 22-5 6 4 7 21-13-1-6-12 6 0-22 14 0 0-6-14 0 0-14 12 0 0-7-28 0 0 7 9 0 0 14zm69-50l0 13-14 0 0-13-7 0 0 13-10 0 0 7 10 0 0 13-12 0 0 7 54 0 0-7-14 0 0-13 12 0 0-7-12 0 0-13zm-14 20l14 0 0 13-14 0zm-6 51l27 0 0 10-27 0zm0-6l0-11 27 0 0 11zm-7-17l0 44 7 0 0-4 27 0 0 3 7 0 0-43z"/><path id="eB" d="m50-73l32 0 0 14-32 0zm-7-6l0 27 46 0 0-27zm-33 2l15 16 6-5-16-15zm27 51l0 7 22 0-8 13-17 8 4 6 18-9 9-13 11 14 10 6 6 2 5-6-16-8-11-13 26 0 0-7-28 0 1-10 23 0 0-7-52 0 0 7 22 0-1 10zm-18 31l20-15-2-6-11 7 0-44-22 0 0 7 15 0 0 37-2 5-2 2z"/><path id="eC" d="m43-61l-4 19-7 16-5-12-5-15 3-8zm-21-23l-6 28-11 21 6 5 7-13 10 24-11 12-14 9 7 6 12-9 11-12 7 7 14 8 16 3 23 0 3-8-25 0-14-3-14-7-6-6 9-21 5-27-5-1-19 0 3-14zm40 0l0 74 8 0 0-42 17 24 7-5-22-26-2 1 0-26z"/><path id="eD" d="m10-77l16 15 5-5-16-15zm-6 24l0 8 14 0 0 37-5 8 5 5 16-14-6 13 6 4 4-7 5-17 2-18 0-39 41 0 0 73-2 1-12 0 3 7 11-1 5-2 1-6 0-79-54 0 0 48-3 21-2-5-7 5 0-42zm58-17l0 9-11 0 0 5 11 0 0 11-13 0 0 5 33 0 0-5-14 0 0-11 11 0 0-5-11 0 0-9zm-11 38l0 28 6 0 0-4 21 0 0-24zm6 6l15 0 0 12-15 0z"/><path id="eE" d="m12-78l14 15 6-5-15-14zm66-2l10 15 6-4-11-14zm-73 27l0 8 14 0 0 36-2 5-3 3 4 6 21-15-2-6-11 7 0-44zm62-31l1 21-33 0 0 7 33 0 3 33 2 13 4 9 4 6 8 2 5-7 3-13-6-5-2 14-2 2-3-2-4-14-5-38 21 0 0-7-21 0 0-21zm-31 78l2 7 30-9-1-6-12 3 0-23 10 0 0-7-27 0 0 7 10 0 0 25z"/><path id="eF" d="m25 8l34-12-1-6-24 7 0-22 15-13 10 18 7 8 16 12 10 5 5-7-14-6-12-8 20-14-6-5-18 14-10-17 36 0 0-7-39 0 0-9 32 0 0-6-32 0 0-9 36 0 0-6-36 0 0-9-8 0 0 9-36 0 0 6 36 0 0 9-30 0 0 6 30 0 0 9-40 0 0 7 34 0-17 11-19 9 5 6 17-8 0 16-4 5z"/><path id="eG" d="m22-44l24 0 0 11-24 0zm32 0l24 0 0 11-24 0zm-32-16l24 0 0 10-24 0zm32 0l24 0 0 10-24 0zm17-24l-10 17-24 0 4-2-11-15-6 3 9 14-18 0 0 41 31 0 0 9-41 0 0 7 41 0 0 18 8 0 0-18 41 0 0-7-41 0 0-9 32 0 0-41-17 0 10-14z"/><path id="eH" d="m22-84l-8 11-10 10 4 5 11-11 9-13zm25 40l0 52 7 0 0-5 29 0 0 5 7 0 0-52-20 0 1-11 24 0 0-6-23 0 0-13 18-3-6-6-50 7 0 49-1 17-4 15 6 4 5-26 1-38 23 0-1 11zm-6-26l24-3-1 12-23 0zm-17 7l-9 14-12 12 4 7 9-9 0 47 7 0 0-56 7-12zm30 39l29 0 0 8-29 0zm0-6l0-8 29 0 0 8zm0 27l0-8 29 0 0 8z"/><path id="eI" d="m70-55l18 18 5-5-19-17zm-14-4l-9 9-10 8 5 6 11-9 10-12zm-40-25l0 19-12 0 0 7 12 0 0 24-13 5 2 7 11-4 0 25-1 1-10 0 2 7 10 0 5-3 1-4 0-29 11-3-1-7-10 3 0-22 11 0 0-7-11 0 0-19zm17 82l0 7 63 0 0-7-27 0 0-25 20 0 0-7-48 0 0 7 20 0 0 25zm26-80l4 10-26 0 0 18 7 0 0-11 44 0 0 10 7 0 0-17-24 0-5-12z"/><path id="eJ" d="m68-75l0 56 7 0 0-56zm17-8l0 81-1 2-14 0 2 8 16-2 4-3 1-3 0-83zm-71 1l-4 15-6 12 7 3 5-11 13 0 0 11-25 0 0 7 25 0 0 10-20 0 0 35 7 0 0-28 13 0 0 36 7 0 0-36 14 0 0 21-10 1 2 6 12-1 2-3 1-4 0-27-21 0 0-10 24 0 0-7-24 0 0-11 20 0 0-7-20 0 0-14-7 0 0 14-11 0 3-10z"/><path id="eK" d="m14-70l0 8 72 0 0-8zm-8 60l0 8 88 0 0-8z"/><path id="eL" d="m4-6l2 8 34-13-2-7zm36-72l0 8 11 0-1 15-3 28-4 11-4 11-6 9 7 4 3-6 7-13 6-25 12 23-10 9-11 6 5 6 11-6 10-9 8 8 11 7 5-6-11-7-9-8 9-16 7-20-5-1-12 0 8-28zm19 8l16 0-8 26 17 0-5 14-6 11-9-14-7-17zm-53 28l16-3-12 15-6 5 2 7 32-11 0-6-20 6 21-30-6-4-6 11-14 1 17-30-7-3-10 22-6 10-4 3z"/><path id="eM" d="m49-9l13 16 5-3-14-16zm-18-69l0 63 6 0 0-57 22 0 0 56 6 0 0-62zm56-5l0 83-2 1-12 0 3 7 13-2 4-5 0-84zm-14 8l0 60 6 0 0-60zm-28 10l-2 47-5 12-12 9 4 5 13-11 6-13 1-14 0-35zm-37-13l16 12 5-7-16-10zm-4 27l16 11 5-6-17-10zm2 54l7 4 4-10 8-22-6-4z"/><path id="eN" d="m83-66l-7 25 6 2 8-26zm-44 1l6 25 7-2-6-24zm-29-11l15 16 5-6-16-15zm26-3l0 7 24 0 0 37-27 0 0 7 27 0 0 36 8 0 0-36 28 0 0-7-28 0 0-37 24 0 0-7zm-32 26l0 8 14 0 0 37-1 5-3 3 3 6 21-17-3-6-10 7 0-43z"/><path id="eO" d="m6 0l0-7 6-10 28-26 6-11-1-9-7-6-8-1-7 3-4 4-2 6-10-1 3-8 4-7 8-4 13-1 10 2 7 6 2 4 2 9-2 8-7 10-22 20-8 11 40 0 0 8z"/><path id="eP" d="m8-78l15 17 6-5-15-16zm64-4l0 16-16 0 0-16-8 0 0 16-14 0 0 7 14 0 0 18-15 0 0 7 14 0-4 12-8 9 5 6 10-12 4-15 18 0 0 26 8 0 0-26 14 0 0-7-14 0 0-18 12 0 0-7-12 0 0-16zm-16 23l16 0 0 18-17 0zm-30 11l-21 0 0 7 14 0 0 29-7 4-8 8 5 7 7-9 6-4 13 8 9 2 16 1 34-1 2-8-47 2-12-3-11-7z"/><path id="eQ" d="m56-21l-2 12-7 6-6 3-19 0-9-2-4-3-3-6-2-9 10-1 6 11 11 3 11-4 3-4 1-6-1-6-6-6-7-2-11 0 0-9 13-1 8-4 1-8-2-8-6-4-10 0-8 3-3 9-10-1 2-8 6-7 11-4 10-1 9 2 7 6 4 10-1 9-4 7-10 6 8 2 6 3 3 6z"/><path id="eR" d="m29-56l43 0 0 9-43 0zm-8-5l0 20 59 0 0-20zm23-22l3 9-41 0 0 7 88 0 0-7-39 0-4-10zm-34 47l0 44 7 0 0-37 66 0 0 30-12 1 3 5 11 0 5-3 0-40zm18 12l0 26 7 0 0-5 36 0 0-21zm7 6l29 0 0 10-29 0z"/><path id="eS" d="m48-62l33 0 0 8-33 0zm0-13l33 0 0 8-33 0zm-7-6l0 33 47 0 0-33zm2 51l-5 20-10 14 6 4 6-8 6-10 3 6 9 7 12 3 25 0 2-6-29-1 0-15 21 0 0-7-21 0 0-11 26 0 0-7-58 0 0 7 25 0 0 31-8-5-4-6-1-4 2-11zm-27-54l0 20-12 0 0 7 12 0 0 22-13 4 2 7 11-3 0 26-1 1-10 0 2 7 10 0 5-3 1-5 0-29 11-3 0-7-11 3 0-20 11 0 0-7-11 0 0-20z"/><path id="eT" d="m50-82l-20 8-24 7 3 6 19-5 0 22-23 0 0 8 23 0-3 14-2 7-11 12-8 5 6 6 8-6 12-14 3-8 2-16 31 0 0 44 7 0 0-44 22 0 0-8-22 0 0-38-7 0 0 38-31 0 0-24 20-8z"/><path id="eU" d="m4-25l0-8 28 0 0 8z"/><path id="eV" d="m62-50l0 21-2 11-8 11-8 5-12 4 5 6 12-5 9-6 6-6 3-7 2-13 0-21zm7 41l22 17 5-5-22-17zm-66-9l2 7 33-11-1-6-12 3 0-40 11 0 0-7-31 0 0 7 12 0 0 43zm39-44l0 47 7 0 0-41 33 0 0 40 7 0 0-46-23 0 4-11 26 0 0-7-58 0 0 7 23 0-3 11z"/><path id="eW" d="m23-47l53 0 0 17-53 0zm0-7l0-16 53 0 0 16zm0 31l53 0 0 16-53 0zm-7-55l0 85 7 0 0-6 53 0 0 6 8 0 0-85z"/><path id="eX" d="m39-33l21 0 0 11-21 0zm0-7l0-11 21 0 0 11zm0 24l21 0 0 12-21 0zm-33-61l0 7 38 0-2 12-32 0 0 66 8 0 0-5 64 0 0 5 8 0 0-66-41 0 4-12 41 0 0-7zm12 73l0-47 14 0 0 47zm64 0l-15 0 0-47 15 0z"/><path id="eY" d="m84-78l-32 9 0-15-8 0 1 35 2 3 7 1 28 1 8-2 4-5 2-10-7-3-2 11-3 2-28 0-3-1-1-2 0-8 37-10zm-33 65l33 0 0 10-33 0zm0-7l0-10 33 0 0 10zm-7-16l0 44 7 0 0-5 33 0 0 5 7 0 0-44zm-26-48l0 20-14 0 0 7 14 0 0 22-15 4 2 7 13-4 0 28-2 1-10 0 3 7 10-1 5-2 2-4 0-31 13-4-1-7-12 4 0-20 12 0 0-7-12 0 0-20z"/><path id="eZ" d="m32-46l6 12 6-2-6-12zm14-38l0 10-40 0 0 7 40 0 0 11-35 0 0 64 8 0 0-57 62 0 0 49-16 1 2 7 19-2 3-5 0-57-35 0 0-11 40 0 0-7-40 0 0-10zm16 36l-7 14-28 0 0 6 19 0 0 10-22 0 0 7 22 0 0 17 7 0 0-17 23 0 0-7-23 0 0-10 21 0 0-6-12 0 7-12z"/><path id="fa" d="m9-77l17 11 5-6-17-11zm-5 26l16 11 5-6-17-10zm2 52l7 5 5-10 9-22-6-5zm59-40l-13 8-17 6 5 5 17-7 14-10zm9 10l-17 10-21 7 4 5 23-7 17-12zm10 10l-5 5-16 8-29 7 4 7 30-9 17-9 6-5zm-54-35l0 6 16 0-9 9-11 7 5 5 14-9 10-12 13 0 11 12 13 9 5-6-11-6-9-9 18 0 0-6-36 0 3-8 21-1 4 5 5-4-16-18-5 4 7 7-31 2 16-14-7-3-12 11-10 6 3 8 17-2-3 7z"/><path id="fb" d="m6-76l16 16 6-4-16-17zm79-6l-51 5 2 5 23-1 0 7-28 0 0 6 24 0-12 10-15 7 5 5 14-7 12-11 0 13 7 0 0-13 12 10 14 8 5-6-14-6-12-10 24 0 0-6-29 0 0-8 24-3zm-46 42l0 6 12 0-6 13-8 7-6 2 4 6 7-3 10-8 2-5 4-12 12 0-3 8 17 0-3 12-14 1 2 6 14 0 5-4 4-20-16 0 2-9zm-14-6l-19 0 0 7 12 0 0 31-14 10 6 6 8-8 6-3 13 7 8 2 49 0 3-8-31 2-20-1-8-2-13-7z"/><path id="fc" d="m47-76l0 7 43 0 0-7zm31 44l11 30 7-2-12-30zm-29-2l-5 15-8 13 6 4 8-14 6-17zm-7-18l0 7 22 0-1 44-13 1 3 8 14-2 3-1 1-5 0-45 25 0 0-7zm-22-32l0 21-15 0 0 7 14 0-7 19-10 15 5 8 7-13 6-15 0 50 8 0 0-52 9 14 4-6-13-17 0-3 13 0 0-7-13 0 0-21z"/><path id="fd" d="m5-76l13 22 7-4-14-22zm0 76l7 3 15-33-7-4zm39-40l21 0 0 14-21 0zm0-6l0-14 21 0 0 14zm17-34l7 14-23 0 7-15-8-2-9 22-14 18 6 5 9-13 0 59 8 0 0-7 51 0 0-7-23 0 0-14 19 0 0-6-19 0 0-14 19 0 0-6-19 0 0-14 21 0 0-6-24 0 6-3-3-7-5-7zm-17 60l21 0 0 14-21 0z"/><path id="fe" d="m15-84l0 92 7 0 0-92zm-8 19l-4 26 6 2 4-27zm16-2l5 14 6-2-6-14zm22 46l36 0 0 8-36 0zm0-6l0-7 36 0 0 7zm14-57l0 8-26 0 0 6 26 0 0 6-23 0 0 6 23 0 0 6-29 0 0 6 66 0 0-6-30 0 0-6 24 0 0-6-24 0 0-6 27 0 0-6-27 0 0-8zm-21 44l0 48 7 0 0-16 36 0-1 9-12 0 2 7 11-1 5-2 2-5 0-40z"/><path id="ff" d="m42-81l0 89 8 0 0-48 3 0 7 16 8 13-8 8-10 6 5 5 18-14 9 8 9 6 5-7-9-5-9-7 9-16 6-18-5-2-38 1 0-28 32 0-2 15-20 0 2 6 19 0 5-2 2-4 2-22zm18 41l24 0-5 12-6 11-7-11zm-41-44l0 20-14 0 0 8 14 0 0 21-16 4 2 8 14-4 0 27-15 1 3 7 12-1 6-2 1-4 0-31 13-3-1-7-12 3 0-19 12 0 0-8-12 0 0-20z"/><path id="fg" d="m54-26l21 8 3-5-21-9zm-45 0l21 8 3-6-21-8zm-4 17l3 7 29-10-2 9-2 3-13 0 2 7 14 0 5-5 4-17 1-26-29 0 1-13 28 0 0-27-38 0 0 7 30 0 0 13-27 0-1 26 29 0-1 16zm51-52l-2 26 31 0-1 15-33 11 3 7 29-11-1 9-2 5-17 0 2 7 18-1 3-2 3-7 3-39-30 0 1-13 28 0 0-27-38 0 0 7 31 0 0 13z"/><path id="fh" d="m13-74l0 80 7 0 0-9 60 0 0 8 8 0 0-79zm7 63l0-55 60 0 0 55z"/><path id="fi" d="m8-64l-4 25 5 2 4-26zm22-2l-5 21 4 2 7-21zm15 48l7 8 5-3-7-8zm1-47l37 0 0 6-37 0zm0-11l37 0 0 6-37 0zm-30-8l0 44-2 18-5 17-5 8 4 5 8-13 4-14 10 16 4-5-12-19 1-57zm56 42l0 7-16 0 0-7zm0-6l-16 0 0-6 16 0zm-32-33l0 27 10 0 0 6-13 0 0 6 13 0 0 7-17 0 0 5 16 0-17 11 4 5 10-7 10-9 19 0 8 10 11 7 4-5-9-5-8-7 14 0 0-5-16 0 0-7 13 0 0-6-13 0 0-6 11 0 0-27zm-7 80l3 5 25-10 0 8-11 0 3 6 9 0 5-2 1-12 21 11 4-5-17-8 7-9-4-3-8 10-3-2 0-15-7 0 0 15z"/><path id="fj" d="m5-79l0 7 12 0-5 22-9 17 3 8 6-8 0 36 6 0 0-8 18 0 0-43-18 0 7-24 14 0 0-7zm13 38l12 0 0 30-12 0zm26-27l-2 49-4 16-4 7 6 4 3-7 5-15 2-23 7 14 8 12-9 8-10 5 4 6 10-6 10-8 10 8 11 6 5-6-11-6-10-7 9-14 7-19-4-1-16 0 0-17 15 0-3 13 5 1 6-20-4-1-19 1 0-16-7 0 0 16zm20 6l0 17-14 0 0-17zm19 24l-6 12-7 10-8-10-5-12z"/><path id="fk" d="m54 0l-20-30-21 30-11 0 26-36-24-33 11 0 19 27 18-27 11 0-24 33 26 36z"/><path id="fl" d="m62-19l-3 11-7 5-6 3-20 0-7-1-9-6-5-10 9-1 2 5 4 4 6 2 11 1 7-2 5-3 4-8-2-5-4-3-26-8-9-5-3-5-1-5 1-7 2-4 9-7 10-2 14 1 10 4 6 11-9 2-3-6-4-3-15-1-6 1-4 3-2 8 2 4 4 3 23 6 9 4 5 6z"/><path id="fm" d="m39-62l-13 3-9 10-2 6 0 12 4 14 10 8 10 2 13-3 9-11 7 4-5 8-7 5-8 4-9 1-13-2-12-8-7-12-2-14 1-10 5-12 10-9 8-3 13-1 12 3 9 7 5 7-9 3-3-5-5-4z"/><path id="fn" d="m57 0l-18-29-21 0 0 29-10 0 0-69 40 1 8 3 6 5 3 11-2 9-6 7-9 3 20 30zm-2-49l-1-7-8-5-28 0 0 25 29-1 7-5z"/><path id="fo" d="m18-61l0 25 38 0 0 8-38 0 0 28-10 0 0-69 49 0 0 8z"/><path id="fp" d="m8 0l0-69 52 0 0 8-42 0 0 22 39 0 0 7-39 0 0 24 44 0 0 8z"/><path id="fq" d="m42-82l8 15 8-2-8-16zm-37 16l0 7 16 0 10 21 14 18-19 12-22 9 4 7 23-10 19-13 19 13 23 9 5-7-22-8-19-12 13-17 11-22 15 0 0-7zm45 41l-12-16-10-18 43 0-9 19z"/><path id="fr" d="m34-45l0 20-19 0 0-20zm0-7l-19 0 0-19 19 0zm-26-26l0 69 7 0 0-9 26 0 0-60zm77 5l0 18-28 0 0-18zm-35-7l-1 52-5 17-5 8-8 7 6 5 5-5 8-11 6-17 29 0 0 24-17 0 3 8 17-2 3-1 2-5 0-80zm35 31l0 18-28 0 0-18z"/><path id="fs" d="m55-84l-8 17-12 14 4 6 5-5 0 26-3 19-7 11 5 4 3-3 5-8 3-13 14 0 0 20 7 0 0-20 15 0-1 16-11 0 2 7 13-1 4-5 0-59-19 0 10-15-5-3-20 0 3-7zm9 61l-13 0 0-12 13 0zm7 0l0-12 15 0 0 12zm-7-18l-13 0 0-11 13 0zm7 0l0-11 15 0 0 11zm-22-17l7-11 18 0-8 11zm-43-21l0 7 12 0-6 22-8 17 3 8 5-8 0 36 7 0 0-8 17 0 0-43-17 0 6-24 14 0 0-7zm13 38l11 0 0 30-11 0z"/><path id="ft" d="m27-55l46 0 0 8-46 0zm0 14l46 0 0 8-46 0zm0-28l46 0 0 8-46 0zm-1 49l0 20 3 4 3 1 36 1 6-3 1-3 2-10-7-2-1 9-3 2-31 0-1-3 0-16zm50 1l11 20 7-3-11-20zm-61-1l-11 20 7 3 10-21zm27-4l13 16 6-4-13-15 32 0 0-48-29 0 4-9-9-1-3 10-24 0 0 48 28 0z"/><path id="fu" d="m37-78l0 18 6 0 0-12 43 0 0 11 7 0 0-17zm17 12l-8 11-11 9 6 5 11-10 9-12zm14 4l18 20 6-4-19-20zm-7 16l0 11-25 0 0 7 20 0-11 14-15 10 5 6 5-3 14-13 7-10 0 31 7 0 0-31 11 15 13 11 5-6-14-10-11-14 22 0 0-7-26 0 0-11zm-44-38l0 20-12 0 0 7 12 0 0 22-13 4 2 7 11-4 0 28-11 1 2 6 10 0 4-2 2-6 0-29 10-4-1-7-9 3 0-19 10 0 0-7-10 0 0-20z"/><path id="fv" d="m64 1l-9-2-7-6-13 7-14 0-9-3-7-8-1-9 1-9 7-8 10-7-3-10-1-9 2-7 7-6 8-2 10 1 6 3 4 4 1 9-3 7-9 7-10 6 15 22 10-22 8 2-6 13-7 12 8 4 10 0 0 8zm-18-62l-1-4-4-4-6 0-6 1-2 3-1 6 3 13 13-7zm-3 48l-18-24-7 4-4 6-1 10 2 6 4 3 12 1z"/><path id="fw" d="m3-15l2 7 25-8 0-6zm50-38l0 7 30 0 0-7zm-6 17l6 24 6-2-6-24zm17-3l4 24 7-1-5-24zm-53-27l-3 35 26 0-2 22-3 9-2 1-13-1 2 7 15-1 4-2 3-6 2-21 1-14-7 0 3-43-31 0 0 7 24 0-3 36-12 0 2-28zm56-19l-13 20-16 14 4 6 14-12 11-15 13 15 14 12 3-7-9-7-14-14-3-5 2-5zm-23 81l0 7 50 0 0-7-15 0 15-32-7-2-14 34z"/><path id="fx" d="m21-18l0 17-16 0 0 6 91 0 0-6-42 0 0-8 28 0 0-6-28 0 0-8 35 0 0-6-78 0 0 6 35 0 0 22-18 0 0-17zm-12-49l0 17 14 0-9 8-10 6 4 5 9-6 9-7 0 12 6 0 0-13 14 9 3-5-14-8-3 3 0-4 17 0 0-17-17 0 0-5 19 0 0-6-19 0 0-6-6 0 0 6-20 0 0 6 20 0 0 5zm6 5l11 0 0 8-11 0zm17 0l10 0 0 8-10 0zm32-4l18 0-8 15zm0-18l-6 14-8 12 5 5 5-7 9 13-9 6-10 5 4 5 20-11 8 6 10 5 4-6-10-4-8-6 6-9 5-10 6 0 0-7-28 0 4-9z"/><path id="fy" d="m25-83l-8 16-10 14 7 4 10-14 24 0 0 16-42 0 0 7 88 0 0-7-38 0 0-16 31 0 0-7-31 0 0-14-8 0 0 14-21 0 5-11zm-7 53l0 39 8 0 0-6 49 0 0 6 8 0 0-39zm8 26l0-19 49 0 0 19z"/><path id="fz" d="m21-64l-5 15-8 13 8 4 7-14 5-16zm62 0l-13 29 6 3 15-29zm-31 19l2-38-8 0-2 34-3 16-7 14-11 12-18 9 5 6 11-5 15-12 6-7 7-16 10 18 6 7 16 11 10 3 5-6-11-4-10-6-8-7-6-8z"/><path id="fA" d="m56-20l16 0 0 7-16 0zm-6-5l0 16 28 0 0-16zm-10-39l10 13 5-3-9-13zm42-3l-10 13 6 3 10-13zm-22-17l0 9-24 0 0 6 24 0 0 19-27 0 0 6 63 0 0-6-28 0 0-19 24 0 0-6-24 0 0-9zm-22 47l0 45 6 0 0-4 39 0 0 4 7 0 0-45zm6 35l0-29 39 0 0 29zm-40-14l2 7 28-13-2-6-10 4 0-29 10 0 0-7-10 0 0-23-7 0 0 23-10 0 0 7 10 0 0 32z"/><path id="fB" d="m55-75l0 80 7 0 0-8 21 0 0 7 8 0 0-79zm7 65l0-58 21 0 0 58zm-46-74l-5 18-8 14 6 4 9-16 7 0 0 20-21 0 0 8 21 0-6 20-9 12-7 6 6 6 13-14 7-16 17 21 5-7-20-22 1-6 20 0 0-8-19 0 0-20 16 0 0-7-29 0 3-12z"/><path id="fC" d="m32-11l18 17 5-6-18-16zm-22-68l0 61 7 0 0-54 29 0 0 54 8 0 0-61zm73-4l0 81-1 2-17 0 3 8 18-2 4-3 1-3 0-83zm-18 8l0 60 7 0 0-60zm-37 10l-1 42-7 14-6 6-10 5 5 6 10-6 7-7 7-15 2-16 0-29z"/><path id="fD" d="m10-34l0 36 71 0 0 6 9 0 0-42-9 0 0 29-27 0 0-35 32 0 0-35-9 0 0 27-23 0 0-36-8 0 0 36-23 0 0-27-8 0 0 35 31 0 0 35-27 0 0-29z"/><path id="fE" d="m4-10l2 7 28-8-1-7-11 3 0-26 9 0 0-7-9 0 0-22 11 0 0-7-28 0 0 7 11 0 0 22-10 0 0 7 10 0 0 28zm58-74l0 21-15 0 0-17-7 0 0 24 52 0 0-24-7 0 0 17-16 0 0-21zm-23 52l0 40 7 0 0-34 9 0 0 33 6 0 0-33 10 0 0 33 6 0 0-33 10 0 0 27-8 0 3 7 7 0 4-3 1-37-28 0 3-10 27 0 0-7-61 0 0 7 26 0-2 10z"/><path id="fF" d="m46-84l0 32-41 0 0 7 41 0 0 40-35 0 0 7 79 0 0-7-36 0 0-40 41 0 0-7-41 0 0-32z"/><path id="fG" d="m8-80l0 21 7 0 0-14 70 0 0 14 7 0 0-21zm13 53l29-1 0 12-42 0 0 8 42 0 0 16 7 0 0-16 36 0 0-8-36 0 0-12 28 0 0-7-28 0 0-11-7 0 0 11-22 0 10-16 44 0 0-7-41 0 4-10-8-2-4 12-15 0 0 7 12 0-7 12-5 5z"/><path id="fH" d="m9-73l0 7 30 0-3 25-3 13-6 12-10 10-13 8 6 6 14-9 10-11 6-13 4-13 3-28 36 0-3 47-2 14-5 4-18 0 2 8 17 0 8-3 3-5 3-16 3-56z"/><path id="fI" d="m60-84l0 11-28 0 0 7 28 0 0 10-25 0 0 28 24 0-5 15-13-13-6 2 6 8 9 8-9 6-13 4 5 6 13-5 10-7 17 8 20 4 4-7-20-3-17-7 5-9 2-10 26 0 0-28-26 0 0-10 29 0 0-7-29 0 0-11zm-18 34l18 0 0 15-18 0zm25 0l19 0 0 15-19 0zm-39-34l-11 22-15 17 4 8 11-13 0 58 7 0 0-69 11-21z"/><path id="fJ" d="m19-51l0 47-14 0 0 8 90 0 0-8-39 0 0-31 32 0 0-8-32 0 0-26 36 0 0-8-83 0 0 8 40 0 0 65-23 0 0-47z"/><path id="fK" d="m44-84l-7 17-27 0 0 75 7 0 0-67 66 0 0 58-19 1 3 8 19-1 3-2 2-5 0-67-45 0 7-16zm-7 45l26 0 0 19-26 0zm-7-7l0 40 7 0 0-7 33 0 0-33z"/><path id="fL" d="m80-83l-28 5-35 3 0 34-2 19-5 18-4 8 6 4 5-8 5-18 3-28 6 0 9 18 11 15-14 8-16 6 5 7 16-7 15-9 15 9 17 6 5-7-17-5-14-8 13-17 9-22-5-2-55 0 0-15 33-3 29-5zm-5 37l-7 15-11 13-11-13-7-15z"/><path id="fM" d="m16-48l7-8 9-3 12 1 7 6 3 11 0 42-10 0 0-45-4-6-8-1-8 2-6 8-1 42-10 0 0-79 10 0z"/><path id="fN" d="m27-84l-11 22-14 18 4 8 10-12 0 56 7 0 0-68 11-22zm20 72l26 20 6-6-11-9 22-25-5-3-34 1 4-12 40 0 0-8-38 0 3-11 31 0 0-7-29 0 3-10-8-2-3 12-19 0 0 7 18 0-4 11-20 0 0 8 18 0-6 18 36 0-15 17-10-6z"/><path id="fO" d="m73-45l0 37 6 0 0-37zm13-3l0 48-11 1 2 6 11-1 4-3 0-51zm-79 15l15-1 0 13-18 4 2 7 16-4 0 22 6 0 0-23 9-3-1-6-8 2 0-12 8 0 0-7-8 0 0-15-6 0 0 15-9 0 7-24 17 0 0-7-15 0 2-11-7-1-2 12-10 0 0 7 9 0-6 20-3 6zm59-51l-14 15-17 11 5 5 8-4 0 4 37 0 0-5 8 4 4-6-19-11-8-7 2-4zm-15 25l15-14 17 14zm10 18l0 8-13 0 0-8zm-19-6l0 55 6 0 0-21 13 0 0 14-7 0 2 6 9-1 3-4 0-49zm6 20l13 0 0 8-13 0z"/><path id="fP" d="m20-84l0 20-15 0 0 7 15 0 0 22-16 3 2 8 14-4 0 27-2 2-10 0 2 7 10-1 6-2 1-6 0-29 14-3-1-7-13 3 0-20 13 0 0-7-13 0 0-20zm22 9l0 7 41 0 0 25-39 0 0 8 39 0 0 28-42 0 0 7 42 0 0 8 7 0 0-83z"/><path id="fQ" d="m75-84l0 14-18 0 0-14-7 0 0 14-14 0 0 7 14 0 0 13 7 0 0-13 18 0 0 13 7 0 0-13 13 0 0-7-13 0 0-14zm-28 66l15 0 0 14-15 0zm0-7l0-13 15 0 0 13zm37 7l0 14-15 0 0-14zm0-7l-15 0 0-13 15 0zm-44-20l0 53 7 0 0-5 37 0 0 4 8 0 0-52zm-24-39l0 20-12 0 0 7 12 0 0 22-13 4 2 7 11-3 0 26-1 1-10 0 2 7 10 0 5-3 1-5 0-29 11-3-1-7-10 3 0-20 11 0 0-7-11 0 0-20z"/><path id="fR" d="m20-84l0 20-15 0 0 7 15 0 0 22-16 4 2 7 14-4 0 27-1 1-11 0 2 7 10-1 6-2 1-4 0-30 15-4-1-7-14 4 0-20 14 0 0-7-14 0 0-20zm22 8l0 8 28 0 0 66-2 1-17 0 3 8 19-1 3-2 2-5 0-67 18 0 0-8z"/><path id="fS" d="m9-4l37-10-1-7-27 6 0-26 28 0 0-8-28 0 0-19 28-8-6-6-30 10 0 54-1 4-3 2zm44-73l0 85 8 0 0-78 23 0 0 54-16 0 4 9 14-1 4-3 1-4 0-62z"/><path id="fT" d="m46-80l9 16 6-4-9-15zm-39 23l-1 29 21 0-2 20-2 8-15 0 2 7 15 0 4-3 2-5 3-34-21 0 1-15 20 0 0-29-28 0 0 7 21 0 0 15zm41 16l14 0 0 9-14 0zm22 0l14 0 0 9-14 0zm-22-16l14 0 0 10-14 0zm22 0l14 0 0 10-14 0zm-35 40l0 6 27 0 0 19 8 0 0-19 26 0 0-6-26 0 0-9 22 0 0-37-15 0 11-18-8-3-11 21-28 0 0 37 21 0 0 9z"/><path id="fU" d="m33-71l25 0-6 11-27 0zm-2-13l-10 17-17 16 5 5 8-6 0 18-2 15-7 16-5 6 6 5 6-7 6-17 3-17 0-20 70 0 0-7-34 0 9-14-6-4-26 1 3-6zm4 40l0 39 1 7 2 3 8 2 34 0 9-1 3-3 4-15-7-3-2 12-4 3-35 0-4-1-2-2 0-34 31 0-3 16-14 1 2 6 13 0 5-2 2-4 3-24z"/><path id="fV" d="m19-21l0 29 7 0 0-4 49 0 0 4 7 0 0-29-28 0 0-6 40 0 0-6-40 0 0-7 31 0 0-6-31 0 0-7 27 0 0-6-27 0 0-7-8 0 0 7-26 0 0 6 26 0 0 7-30 0 0 6 30 0 0 7-39 0 0 6 39 0 0 6zm7 19l0-12 49 0 0 12zm17-81l4 9-39 0 0 17 8 0 0-11 68 0 0 11 8 0 0-17-36 0-6-11z"/><path id="fW" d="m52-30l0 29 2 4 6 2 22 1 7-2 3-2 3-16-7-3-3 15-25 0-1-28zm-7-32l-2 31-4 11-7 9-11 7-16 6 4 6 17-6 12-8 8-10 4-13 3-33zm-27-16l0 57 8 0 0-50 48 0 0 50 8 0 0-57z"/><path id="fX" d="m21-67l-1 43-4 15-5 6-7 6 4 4 7-6 6-7 5-16 1-45zm4 54l12 18 5-4-12-17zm-17-66l0 61 6 0 0-55 20 0 0 55 6 0 0-61zm76-1l-10 15-12 11 5 6 13-13 11-16zm-34 88l24-10-1-6-15 5 0-35 9 0 9 26 10 13 5 5 5-6-5-4-9-12-8-22 20 0 0-7-36 0 0-37-7 0 0 37-9 0 0 7 9 0 0 34-1 4-3 2z"/><path id="fY" d="m26-73l48 0 0 13-48 0zm-8-7l0 27 64 0 0-27zm-12 36l0 7 21 0-7 18 53 0-3 13-4 6-22 0 3 7 19 1 7-3 4-9 5-22-50 0 3-11 58 0 0-7z"/><path id="fZ" d="m46-36l0 6-39 0 0 7 39 0 0 23-17 0 3 8 15-1 6-3 1-27 39 0 0-7-39 0 0-4 13-8 11-10-5-4-50 1 0 7 41 0zm-4-46l6 8-40 0 0 21 7 0 0-13 69 0 0 13 8 0 0-21-36 0-6-11z"/><path id="ga" d="m59-9l28 17 7-5-29-17zm-25-5l-13 9-16 8 6 5 16-8 14-9zm2-9l-15 0 0-18 15 0zm7 0l0-18 14 0 0 18zm21 0l0-18 15 0 0 18zm-50-49l0 49-10 0 0 7 92 0 0-7-9 0 0-49-23 0 0-12-7 0 0 12-14 0 0-12-7 0 0 12zm22 24l-15 0 0-17 15 0zm7 0l0-17 14 0 0 17zm21 0l0-17 15 0 0 17z"/><path id="gb" d="m24-82l-8 20-11 17 7 4 11-16 23 0 0 22-30 0 0 7 30 0 0 26-40 0 0 7 89 0 0-7-41 0 0-26 32 0 0-7-32 0 0-22 36 0 0-8-36 0 0-19-8 0 0 19-20 0 6-16z"/><path id="gc" d="m18-55l-5 9-8 8 6 4 8-9 5-9zm17-8l17 11 4-5-17-10zm38 12l17 19 6-4-18-19zm-4-13l-14 13-18 11 0-17-7 0 0 20-26 8 4 7 24-9 9 3 31-1 3-5 2-9-7-3-1 10-3 1-26 0 20-11 11-9 4-6zm-53 44l0 23 61 0 0 5 8 0 0-28-8 0 0 16-23 0 0-21-8 0 0 21-22 0 0-16zm28-64l3 9-39 0 0 19 7 0 0-13 70 0 0 13 7 0 0-19-38 0-3-10z"/><path id="gd" d="m64 0l-61 0 0-8 46-59-42 0 0-9 54 0 0 8-46 59 48 0z"/><path id="ge" d="m20-67l0 28 42 0 0 9-42 0 0 31-11 0 0-76 54 0 0 9z"/><path id="gf" d="m59-72l0 55 8 0 0-55zm25-10l0 81-3 2-15-1 3 8 18-1 3-3 1-4 0-82zm-38-1l-19 5-23 4 3 6 19-3 0 17-21 0 0 7 19 0-9 19-12 15 4 7 10-13 9-17 0 44 7 0 0-40 15 15 4-7-19-16 0-7 20 0 0-7-20 0 0-18 18-6z"/><path id="gg" d="m44 0l-20-26-7 6 0 21-10 0 0-79 10 0 0 50 25-29 11 0-23 25 24 33z"/><path id="gh" d="m30-18l-10 9-10 8 5 5 11-9 10-11zm33 4l19 19 6-5-20-18zm4-54l-17 13-16-13zm-29-16l-12 14-19 12 6 6 16-11 14 12-19 7-20 4 3 7 22-5 21-9 20 8 22 5 4-7-20-4-19-6 12-9 9-12-5-3-33 0 6-8zm8 45l0 10-31 0 0 7 31 0 0 22-10 1 2 7 11-1 4-3 1-26 31 0 0-7-31 0 0-10z"/><path id="gi" d="m29-44l46 0 0 7-46 0zm0-12l46 0 0 7-46 0zm-8-5l0 29 11 0-10 11-13 8 6 5 12-9 15 12-19 4-20 2 3 7 23-3 22-7 19 6 22 3 4-6-36-6 12-8 7-6 3-4-5-3-41 0 4-6 43 0 0-29zm6-23l-10 14-12 11 5 6 15-15 65 0 0-6-61 0 5-8zm43 64l-9 7-11 5-10-5-8-7z"/><path id="gj" d="m43-79l0 53 7 0 0-46 31 0 0 46 7 0 0-53zm-39 69l2 7 34-10-1-7-13 4 0-25 11 0 0-7-11 0 0-22 13 0 0-7-33 0 0 7 13 0 0 22-12 0 0 7 12 0 0 27zm58-54l-2 36-8 16-8 8-11 7 5 5 7-4 12-11 9-17 0 24 2 4 4 1 13 0 6-1 2-3 3-15-7-3-2 15-10 2-4-2 0-26-6 0 2-11 0-25z"/><path id="gk" d="m93-79l-83 0 0 84 85 0 0-7-78 0 0-69 76 0zm-67 21l24 21-13 12-14 10 6 6 27-23 21 23 6-6-22-22 19-27-7-2-17 24-25-21z"/><path id="gl" d="m63-72l0 56 7 0 0-56zm21-10l0 81-3 2-14-1 3 8 17-1 3-3 1-4 0-82zm-68 9l26 0 0 19-26 0zm-7-7l0 33 40 0 0-33zm15 36l-1 8-17 0 0 7 16 0-5 19-8 9-6 4 5 5 6-4 9-11 6-22 14 0-2 27-3 2-11 0 2 7 13-1 5-4 4-38-21 0 1-8z"/><path id="gm" d="m11-78l14 16 6-5-15-15zm-7 25l0 8 14 0 0 37-5 7 4 6 21-17-3-6-10 7 0-42zm70-4l0 23-17 0 0-23zm-25-27l0 19-13 0 0 8 13 0 0 19 0 4-15 0 0 8 15 0-4 16-11 13 6 5 9-10 5-11 2-13 18 0 0 34 8 0 0-34 14 0 0-8-14 0 0-23 12 0 0-8-12 0 0-19-8 0 0 19-17 0 0-19z"/><path id="gn" d="m43-82l0 78-38 0 0 7 90 0 0-7-44 0 0-40 37 0 0-8-37 0 0-30z"/><path id="go" d="m9-79l0 8 18 0-1 18-3 21-4 11-6 11-9 10 5 7 8-9 10-18 7-26 9 19 13 15-14 8-14 5 4 7 16-6 14-9 13 9 16 5 5-7-15-5-13-7 14-17 9-24-5-2-21 1 6-25zm53 62l-6-6-11-15-8-18-3-15 28 0-7 24 26 0-8 17z"/><path id="gp" d="m47-53l0 7 34 0 0-7zm-7 17l6 25 6-2-6-24zm19-2l4 24 6-1-4-24zm-41-46l0 19-13 0 0 7 12 0-6 20-8 17 4 7 11-26 0 48 7 0 0-52 7 14 4-6-11-18 0-4 10 0 0-7-10 0 0-19zm44-1l-13 20-18 15 5 6 14-13 13-16 14 15 16 13 4-7-16-12-10-10-4-5 2-3zm-28 81l0 7 60 0 0-7-19 0 16-33-7-2-15 35z"/><path id="gq" d="m26-61l9 14 7-3-9-14zm43-2l-8 17-49 0-1 31-4 13-3 6 6 5 6-14 3-14 1-20 73 0 0-7-25 0 9-15zm-27-19l7 10-38 0 0 7 79 0 0-7-33 0-7-12z"/><path id="gr" d="m4-5l2 7 29-9-1-7zm80-60l-7 7-9 5-6-12 30-3-1-6-30 3-2-13-7 0 2 13-15 2 1 6 15-1 7 14-23 8 4 6 23-8 12 8 6 2 5-1 4-5 1-8-5-3-1 8-3 2-7-2-6-5 11-6 8-8zm-47 35l0 6 15 0-2 12-3 4-8 7-7 3 5 6 7-3 10-9 3-6 2-14 10 0 0 25 2 4 4 1 12 0 7-2 2-11-7-3-1 10-11 0-1-2 0-22 18 0 0-6zm-31-12l14-3-9 13-7 7 3 7 27-7 0-6-17 3 19-31-6-4-6 11-11 2 15-31-7-3-9 22-8 12z"/><path id="gs" d="m8-77l15 17 6-5-15-16zm30 29l14 20 6-3-14-20zm-12 2l-21 0 0 6 14 0 0 27-7 4-8 8 5 7 7-9 6-4 14 8 8 2 16 1 34-1 2-8-46 2-13-3-6-4-5-3zm46-38l0 18-39 0 0 7 39 0 0 41-19 1 3 8 17-1 5-3 2-46 14 0 0-7-14 0 0-18z"/><path id="gt" d="m55-75l27 0 0 10-27 0zm-7-6l0 22 41 0 0-22zm-40 48l16-2 0 15-20 3 2 8 18-4 0 21 7 0 0-23 12-2-1-6-11 2 0-14 9 0 0-6-9 0 0-16-7 0 0 16-9 0 8-24 18 0 0-7-16 0 2-10-7-2-3 12-12 0 0 7 11 0-6 19-4 6zm74-14l0 8-26 0 0-8zm-42 39l1 7 41-3 0 12 6 0 0-13 8 0 0-7-8 1 0-36 7 0 0-7-53 0 0 7 7 0 0 39zm42-25l0 9-26 0 0-9zm0 15l0 8-26 1 0-9z"/><path id="gu" d="m20-73l17 0 0 14-17 0zm42 0l18 0 0 14-18 0zm-1 25l13 6-29 0 6-10-7-1 0-27-31 0 0 28 30 0-7 10-31 0 0 7 25 0-12 8-15 7 4 6 6-2 0 24 7 0 0-3 16 0 0 2 8 0 0-30-19 0 15-12 18 0 16 12-18 0 0 31 6 0 0-3 18 0 0 2 8 0 0-23 4 1 5-6-16-6-13-8 27 0 0-7-18 0 3-3-15-7zm-6-32l0 28 33 0 0-28zm-35 78l0-14 16 0 0 14zm42 0l0-14 18 0 0 14z"/><path id="gv" d="m20-51l0 51-10 0 0-51-9 0 0-8 9 0 1-13 3-6 8-2 9 0 0 8-9 1-2 7 0 6 11 0 0 8z"/><path id="gw" d="m77-84l-9 17 6 3 11-17zm-40 3l9 17 7-3-10-17zm-9 19l0 6 66 0 0-6zm38 14l24 16 4-5-25-16zm-59-30l16 14 5-5-16-13zm-3 27l16 13 5-5-16-13zm3 53l6 3 4-10 7-22-6-4zm43-55l-11 9-12 7 5 6 12-8 11-10zm-25 50l0 7 71 0 0-7-8 0 0-29-54 0 0 29zm15 0l0-23 10 0 0 23zm16 0l0-23 10 0 0 23zm15 0l0-23 10 0 0 23z"/><path id="gx" d="m4 0l0-8 33-43-31 0 0-8 42 0 0 8-33 43 34 0 0 8z"/><path id="gy" d="m11-80l-1 60-7 25 7 3 5-16 2-18 16 0 0 26-12 1 2 7 12-1 3-2 2-4 0-81zm7 7l15 0 0 16-15 0zm0 23l15 0 0 17-16 0zm68 11l-4 12-6 10-11-22zm-37-41l0 88 7 0 0-47 2 0 6 15 8 13-16 13 5 5 15-12 16 13 5-6-9-5-8-8 8-15 6-19-4-1-34 0 0-27 28 0 0 14-15 0 2 6 14 0 4-1 2-3 0-23z"/><path id="gz" d="m45-38l-2 10-30 0 0 6 27 0-3 6-9 9-7 4-15 4 4 7 17-6 7-5 11-11 3-8 31 0-5 20-4 3-17-1 3 7 18 0 6-5 4-12 3-18-37 0 2-10zm29-29l-10 8-13 6-11-6-8-7 2-1zm-36-17l-11 14-18 12 5 6 14-10 14 12-18 5-19 3 3 6 22-3 21-7 19 6 22 3 4-7-19-2-17-4 15-9 11-12-4-3-42 0 6-9z"/><path id="gA" d="m30 23l-9-1-7-3-4-4-3-6 10-2 3 6 7 3 11-2 3-2 3-8 0-14-6 8-9 3-11 0-8-4-3-4-2-11-1-14 2-12 6-8 8-4 14 0 6 4 4 6 1-10 9 0-1 64-2 7-8 8zm14-52l-1-11-6-9-8-3-9 2-4 6-2 11 1 14 2 7 4 4 4 1 9-2 7-9z"/><path id="gB" d="m40-58l15 11 6-5-16-10zm-22 32l0 34 7 0 0-5 49 0 0 5 8 0 0-34-18 0 16-17-6-3-55 0 0 7 48 0-13 13zm7 22l0-15 49 0 0 15zm25-80l-5 7-15 12-26 13 5 6 23-11 18-16 19 16 23 11 5-7-16-6-15-8-12-11 3-3z"/><path id="gC" d="m6-77l0 8 38 0 0 77 8 0 0-53 32 20 5-7-29-18-7-3-1 2 0-18 43 0 0-8z"/><path id="gD" d="m74-78l12 13 6-4-13-13zm10 28l-11 27-4-32 26 0 0-6-26 0-1-23-7 0 0 23-24 0 0-9 17 0 0-6-17 0 0-8-7 0 0 8-20 0 0 6 20 0 0 9-25 0 0 6 57 0 2 22 4 19-8 9-9 8 5 5 14-14 7 10 5 3 7 0 4-4 3-15-6-4-1 12-3 4-6-4-4-10 8-16 7-18zm-78 41l1 7 26-3 0 13 7 0 0-14 18-2 0-6-18 2 0-9 16 0 0-7-16 0 0-8-7 0 0 8-14 0 7-11 32 0 0-6-29 0 3-8-7-2-4 10-14 0 0 6 11 0-5 10-3 2 2 7 21-1 0 10z"/><path id="gE" d="m85-66l-5 21-7 18-6-18-5-21zm-34-7l0 7 5 0 5 25 8 21-10 13-11 9 5 6 10-9 10-11 8 11 11 8 5-6-11-8-9-12 10-24 6-29-5-1zm-47 60l2 7 30-5 0 19 7 0 0-20 9-2-1-6-8 1 0-53 7 0 0-7-45 0 0 7 7 0 0 58zm15-59l17 0 0 14-17 0zm0 20l17 0 0 14-17 0zm0 21l17 0 0 13-17 3z"/><path id="gF" d="m9-80l-1 60-5 25 5 3 4-16 2-18 12 0 0 26-9 1 2 6 8 0 3-2 2-4 0-81zm6 6l11 0 0 17-11 0zm0 24l11 0 0 17-12 0zm54-28l0 86 7 0 0-79 11 0 0 54-9 1 2 7 9-1 3-2 1-3 0-63zm-31 75l22-5 1 6 5-2-7-26-5 2 5 14-15 3 8-27 14 0 0-7-12 0 0-15 10 0 0-7-10 0 0-17-6 0 0 17-11 0 0 7 11 0 0 15-13 0 0 7 11 0-6 21-5 8z"/><path id="gG" d="m20-39l0 6 60 0 0-6zm0-15l0 6 60 0 0-6zm-1 30l0 32 7 0 0-4 48 0 0 4 7 0 0-32zm7 21l0-14 48 0 0 14zm15-79l9 13-45 0 0 7 90 0 0-7-40 0 3-1-10-14z"/><path id="gH" d="m42-36l7 25 6-2-7-24zm19-2l4 24 7-1-5-24zm-53-42l0 88 7 0 0-81 13 0-8 23 7 11 2 12-3 4-8 1 2 6 8 0 5-3 2-6-1-15-7-11 10-26-5-3zm56-5l-13 20-17 15 4 6 10-8 0 6 34 0 0-7-33 0 16-20 14 15 15 13 4-7-21-17-8-10 1-3zm-27 81l0 7 59 0 0-7-19 0 15-33-6-2-16 35z"/><path id="gI" d="m70-39l-11 8-14 5 5 4 14-6 12-8zm9 10l-14 10-18 6 4 5 19-7 15-11zm10 11l-6 5-14 8-28 7 4 6 29-9 15-9 6-5zm-58-38l0 48 6 0 0-48zm24-11l28 0-6 8-8 6-8-7zm1-17l-8 15-11 13 6 4 9-10 11 13-12 5-14 3 4 6 14-4 14-6 11 5 13 4 4-6-22-7 10-10 8-12-5-2-29 0 4-9zm-32 1l-10 22-12 18 4 8 9-13 0 56 7 0 0-69 8-21z"/><path id="gJ" d="m54-41l30 0 0 9-30 0zm0-14l30 0 0 9-30 0zm-4 35l-12 18 6 4 13-21zm29 1l11 20 7-3-12-19zm-70-59l16 12 5-6-17-11zm-5 27l17 11 4-6-17-10zm2 53l7 5 5-11 9-22-6-4zm28-81l0 36-2 19-6 19-5 9 7 4 5-9 6-21 2-20 0-30 54 0 0-7zm31 8l-3 10-15 0 0 35 18 0 0 27-12 1 2 6 12-1 4-2 1-31 19 0 0-35-22 0 4-8z"/><path id="gK" d="m72-78l16 16 6-4-17-16zm-17-5l2 30-25 3 2 7 24-3 5 28 4 10 5 8 6 6 11 2 4-5 2-4 3-13-7-4-3 15-2 2-5-2-8-11-8-33 31-3-2-8-30 4-2-29zm-24 0l-12 23-17 18 4 7 14-14 0 57 8 0 0-68 10-21z"/><path id="gL" d="m84-83l-34 4-39 1 1 6 40-1 34-4zm-11 9l-7 15-11 0-4-13-6 2 3 11-16 0-4-13-6 3 4 10-18 0 0 16 7 0 0-10 71 0 0 10 6 0 0-16-20 0 8-12zm-32 53l30 0-14 11zm-5-29l-1 8-19 0 0 7 17 0-11 21-11 11-7 4 5 6 14-11 11-15 15 13-24 6 4 6 28-8 15 5 17 4 4-7-29-6 10-8 5-7 2-3-4-4-40 1 3-8 45 0 0-7-43 0 2-8z"/><path id="gM" d="m13-32l19 13 5-5-19-12zm0-46l0 6 61 0 0 10-58 0 0 7 57 0 0 9-66 0 0 6 39 0 0 19-39 16 4 6 35-15 0 15-15 1 3 6 17-2 3-4 0-26 15 17 21 11 5-6-15-7-12-9 19-14-6-5-18 15-9-14 0-4 40 0 0-6-14 0 2-32z"/><path id="gN" d="m8-78l13 18 6-4-13-17zm16 28l-20 0 0 7 13 0 0 32-7 4-8 8 6 7 7-9 6-4 13 8 9 3 16 1 36-1 2-8-31 1-22 0-8-3-12-7zm10-24l-1 37-6 22 5 4 7-21 2-21 49 0 0-21-22 0-5-10-7 2 4 8zm8 28l0 40 6 0 0-18 9 0 0 15 5 0 0-15 9 0 0 15 5 0 0-15 10 0-1 12-6 0 2 6 6 0 4-2 1-38zm15 16l-9 0 0-10 9 0zm5 0l0-10 9 0 0 10zm14 0l0-10 10 0 0 10zm-35-38l42 0 0 9-42 0z"/><path id="gO" d="m63-73l0 56 7 0 0-56zm21-9l0 81-2 2-14-1 3 8 17-1 3-3 1-4 0-82zm-76 26l0 28 7 0 0-21 13 0 0 15-11 16-14 13 4 7 11-11 10-13 0 30 7 0 0-28 17 14 4-7-21-14 0-22 13 0 0 14-10 1 2 6 9-1 5-2 1-25-20 0 0-9 22 0 0-7-22 0 0-12-7 0 0 12-23 0 0 7 23 0 0 9z"/><path id="gP" d="m17-84l0 20-12 0 0 7 12 0 0 22-13 4 2 7 11-4 0 27-11 1 2 8 10-1 4-3 2-5 0-30 11-4-1-7-10 4 0-19 10 0 0-7-10 0 0-20zm21 55l0 6 4 0 7 10 9 8-28 7 4 6 16-3 15-6 27 9 4-6-24-7 11-10 8-12-4-2-19 0 0-10 24 0 0-37-20 0 0 6 13 0 0 10-12 0 0 6 12 0 0 9-17 0 0-39-7 0 0 39-15 0 0-9 11 0 0-6-11 0 0-9 15-6-6-5-16 7 0 34 22 0 0 10zm43 6l-7 8-9 6-9-6-7-8z"/><path id="gQ" d="m63-10l25 16 6-5-25-15zm-34-4l-11 8-12 7 6 5 8-5 16-12zm-10-18l23-2-21 9-11 3 2 7 36-3 0 18-15 1 3 7 13-1 5-3 1-23 25-1 6 7 6-4-20-19-6 3 9 7-44 3 21-9 21-11-6-5-14 8-22 2 20-12-3-3 38 0 0 13 8 0 0-19-40 0 0-10 38 0 0-6-38 0 0-9-8 0 0 9-38 0 0 6 38 0 0 10-39 0 0 19 7 0 0-13 29 0-14 9-12 6z"/><path id="gR" d="m78-83l0 91 8 0 0-91zm-64 26l-5 30 38 0-5 24-3 3-18-1 3 8 14 0 8-1 3-4 3-8 3-28-37 0 3-16 33 0 0-30-43 0 0 7 36 0 0 16z"/><path id="gS" d="m14-70l-4 7-6 7 5 4 3-4 0 15 6 0 0-3 17 0 0-14-21 0 2-4 26 0-2 18-11 1 2 5 10 0 4-2 2-7 2-19-30 0 1-4 3 0 0-4 11 0 0 5 6 0 0-5 12 0 0-5-12 0 0-5-6 0 0 5-11 0 0-5-6 0 0 5-12 0 0 5 12 0 0 4zm48-14l-5 13-8 11 5 4 6-7 7 11-19 7 4 6 20-9 9 6 11 4 4-6-10-3-9-5 7-7 5-10 6 0 0-5-29 0 3-9zm20 15l-10 13-9-13zm-64 15l11 0 0 6-11 0zm59 16l-28 3-34 1 1 5 30-1 0 6-34 0 0 6 34 0 0 6-40 0 0 6 40 0 0 8-14 0 3 6 11 0 6-2 2-4 0-8 40 0 0-6-40 0 0-6 35 0 0-6-35 0 0-6 28-3z"/><path id="gT" d="m16-81l9 14 6-4-9-13zm-11 14l0 7 27 0-13 18-16 13 3 7 14-11 0 41 7 0 0-43 11 12 4-6-13-14 12-21-4-3zm60-17l0 31-22 0 0 8 22 0 0 42-27 0 0 7 58 0 0-7-24 0 0-42 22 0 0-8-22 0 0-31z"/><path id="gU" d="m10-64l-4 25 5 2 5-26zm28-1l-7 21 4 2 9-21zm-16-19l0 42-3 19-8 17-7 8 6 6 10-13 6-15 13 15 5-6-16-17 1-16 0-40zm22 8l0 8 27 0 0 66-3 2-17-1 3 8 20-1 3-2 1-5 1-67 17 0 0-8z"/><path id="gV" d="m53-42l12 24 6-3-12-24zm-34-11l20 0 0 8-20 0zm0-6l0-8 20 0 0 8zm0 20l20 0 0 9-20 0zm-14 9l0 6 26 0-13 13-15 9 5 5 17-11 14-16 0 25-13 1 2 6 13-1 4-3 1-77-16 0 4-10-8-1-3 11-11 0 0 43zm73-54l0 23-28 0 0 7 28 0 0 53-3 2-13 0 2 7 15-1 5-3 1-58 11 0 0-7-11 0 0-23z"/><path id="gW" d="m61-35l0 8-27 0 0 7 27 0 0 20-16 1 2 7 14 0 6-3 2-4 0-21 27 0 0-7-27 0 0-5 20-17-4-4-43 1 0 6 34 0zm-23-49l-4 13-28 0 0 7 25 0-12 20-16 16 4 6 12-10 0 40 7 0 0-49 13-23 55 0 0-7-52 0 4-11z"/><path id="gX" d="m29-75l11 15 6-4-12-14zm18 21l0 7 19 0-10 10-12 7 5 6 7-5 0 37 7 0 0-6 22 0 0 5 7 0 0-43-27 0 10-11 21 0 0-7-15 0 14-25-7-2-6 14 0-6-12 0 0-11-7 0 0 11-13 0 0 7 13 0 0 12zm23-12l11 0-9 12-2 0zm-7 52l22 0 0 10-22 0zm0-6l0-10 22 0 0 10zm-28 24l18-12-2-6-10 6 0-44-16 0 0 7 10 0 0 35-2 6-2 2zm-13-88l-9 22-11 19 4 7 8-12 0 56 6 0 0-70 8-20z"/><path id="gY" d="m25-61l0 6 51 0 0-6zm12 23l26 0 0 19-26 0zm-7-6l0 39 7 0 0-7 33 0 0-32zm-21-35l0 87 7 0 0-80 68 0 0 71-2 2-14 0 2 7 13 0 7-3 1-7 0-77z"/><path id="gZ" d="m58-84l-7 12-9 10 4 4 0 3-39 0 0 7 39 0 0 8-32 0 0 25 8 0 0-19 24 0 0 9-18 14-24 9 5 7 20-9 17-12 0 24 8 0 0-24 17 12 13 6 8 2 5-6-25-10-18-12 0-10 26 0-1 13-10 0 3 6 13-1 2-4 0-20-33 0 0-8 39 0 0-7-39 0 0-6-2 0 6-8 8 0 6 12 6-3-5-9 21 0 0-6-32 0 3-8zm-39 0l-7 12-9 11 7 4 9-12 5 0 5 12 7-3-5-9 17 0 0-6-25 0 3-7z"/><path id="ha" d="m61-84l-9 15-11 12 0-21-33 0 0 74 6 0 0-9 27 0 0-15 2 4 5-2 0 34 7 0 0-4 28 0 0 3 7 0 0-34 4 2 4-7-12-6-11-8 9-12 8-13-5-3-23 1 4-9zm-47 12l7 0 0 22-7 0zm0 52l0-23 7 0 0 23zm21-23l0 23-8 0 0-23zm0-7l-8 0 0-22 8 0zm6 19l0-23 4 4 9-10 11 14-12 9zm14 28l0-19 28 0 0 19zm27-64l-12 17-11-15 1-2zm-30 38l18-12 17 12z"/><path id="hb" d="m53-20l0 21 2 4 4 1 18 0 6-3 3-10-6-3-1 9-1 2-18-1-1-20zm-8 0l-8 21 5 3 8-22zm17-4l10 16 4-3-10-16zm18 4l12 22 5-2-12-22zm-71-57l16 13 4-6-16-11zm-5 27l16 11 5-5-17-11zm2 51l7 4 4-10 10-21-6-4zm27-66l-2 45-4 16-4 8 5 4 4-8 5-18 3-41 47 0-3 9 5 2 7-16-5-1-27 0 0-6 28 0 0-6-28 0 0-7-7 0 0 19zm21 7l0 9-11 1 1 6 10-1 0 7 2 3 5 2 21 0 7-2 2-9-6-2-1 6-2 1-20 0-1-7 19-2-1-5-18 1 0-8z"/><path id="hc" d="m3-17l2 8 37-9 0-7-15 3 0-42 13 0 0-7-36 0 0 7 15 0 0 44zm38-61l0 8 15 0-8 33 37 0-2 25-3 8-4 3-21 0 3 7 18 1 7-2 4-5 3-10 4-34-36 0 6-26 32 0 0-8z"/><path id="hd" d="m21-74l60 0 0 9-60 0zm-7-6l0 38-2 19-5 18-4 9 7 3 4-8 5-20 2-38 68 0 0-21zm22 42l18 0 0 7-18 0zm24 0l19 0 0 7-19 0zm7 26l3 4-10 1 0-8 23 0 0 17-11 0 2 6 12-1 4-3 0-24-30 0 0-6 26 0 0-17-26 0 0-6 24-3-4-4-53 4 2 4 25 0 0 5-25 0 0 17 25 0 0 6-29 0 0 28 7 0 0-23 22 0 0 8-18 1 0 5 37-2 3 5 4-2-2-4-7-9z"/><path id="he" d="m17-84l0 92 8 0 0-92zm-9 19l-5 26 6 2 5-27zm17-1l7 18 6-3-7-17zm8 63l0 7 62 0 0-7-25 0 0-25 20 0 0-7-20 0 0-21 22 0 0-7-22 0 0-21-8 0 0 21-12 0 3-15-7-1-5 19-7 16 6 4 7-16 15 0 0 21-21 0 0 7 21 0 0 25z"/><path id="hf" d="m39-64l0 8-17 0 0 6 17 0 0 17 39 0 0-17 16 0 0-6-16 0 0-8-8 0 0 8-24 0 0-8zm31 14l0 11-24 0 0-11zm6 30l-8 7-10 5-10-5-7-7zm-52-6l0 6 13 0-3 1 2 3 14 11-31 6 3 6 19-3 17-5 16 6 18 3 4-6-30-7 12-8 6-7 3-4-5-3zm23-57l4 9-38 0-2 53-4 18-3 8 6 3 4-8 4-19 2-48 75 0 0-7-35 0-5-10z"/><path id="hg" d="m9-80l0 88 7 0 0-81 14 0-8 23 8 11 1 12-2 4-9 1 2 6 8 0 6-3 2-5-2-16-7-11 10-26-5-3zm72 25l0 13-29 0 0-13zm0-6l-29 0 0-12 29 0zm-37 69l26-8-1-7-17 5 0-34 9 0 7 19 4 7 12 13 7 4 5-6-10-7-9-9 17-12-5-5-15 11-6-15 20 0 0-44-44 0 0 75-1 4-2 3z"/><path id="hh" d="m41-29l-5 12-8 9 6 5 8-11 5-13zm23 4l7 21 6-2-7-21zm13-3l14 25 6-3-15-25zm-24-12l0 40-12 1 2 7 12-1 5-4 0-43zm-45-38l17 11 4-6-16-10zm-4 27l16 11 5-7-17-9zm2 53l7 5 4-10 9-21-6-4zm27-80l0 7 22 0-5 13-22 0 0 7 19 0-9 11-13 9 5 6 15-11 10-15 13 0 10 14 14 10 5-6-12-7-10-11 20 0 0-7-37 0 5-13 29 0 0-7z"/><path id="hi" d="m69-57l19 18 5-4-19-18zm-14-3l-9 9-11 7 5 5 12-8 10-11zm3-23l5 10-27 0 0 17 7 0 0-10 45 0 0 10 7 0 0-17-24 0-6-12zm-17 46l0 6 27 0-19 14-7 8-1 8 3 4 10 2 29 0 7-1 2-2 3-15-6-3-1 9-3 5-33 0-4-1 0-2 5-7 33-23-5-2zm-24-47l0 20-13 0 0 7 13 0 0 21-13 4 2 7 11-3 0 28-1 1-10 0 2 7 9-1 5-2 2-6 0-30 10-3-1-7-9 3 0-19 9 0 0-7-9 0 0-20z"/><path id="hj" d="m37-80l-2 58-3 18-4 8 6 4 4-9 4-19 2-35 48 0 0-25zm7 7l41 0 0 12-41 0zm3 53l0 24 39 0 0 4 7 0 0-28-7 0 0 18-13 0 0-23 18 0 0-23-6 0 0 16-12 0 0-19-7 0 0 19-11 0 0-16-6 0 0 23 17 0 0 23-12 0 0-18zm-31-64l0 20-12 0 0 7 12 0 0 22-13 4 2 7 11-3 0 26-1 1-10 0 2 7 10 0 5-3 1-5 0-29 10-3-1-7-9 3 0-20 10 0 0-7-10 0 0-20z"/><path id="hk" d="m34-75l10 14 6-3-9-14zm26 39l12 18 7-4-13-17zm-33-48l-11 22-14 18 5 7 10-12 0 57 7 0 0-68 10-22zm28 1l-1 25-22 0 0 7 22 0-4 20-4 10-11 16-9 7 6 5 9-7 12-19 4-10 4-22 24 0-2 27-3 20-3 4-15-1 2 8 19-1 3-3 3-8 3-53-30 0 1-25z"/><path id="hl" d="m10-67l0 75 7 0 0-68 29 0-2 15-3 7-12 14-9 6 5 6 16-13 9-14 24 25 6-4-28-28 2-14 29 0 0 59-19 1 3 8 14 0 7-3 2-7 0-65-36 0 0-17-8 0 0 17z"/><path id="hm" d="m66-83l0 33-23 0 0 7 23 0 0 51 8 0 0-51 21 0 0-7-21 0 0-33zm-47-1l-7 14-9 10 4 7 10-12 25 0 0-7-21 0 4-10zm-13 50l0 6 15 0 0 23-5 6 4 7 24-14-1-7-15 8 0-23 14 0 0-6-14 0 0-14 12 0 0-7-29 0 0 7 10 0 0 14z"/><path id="hn" d="m17-84l0 92 7 0 0-92zm-9 19l-5 26 6 2 5-27zm17-1l7 19 6-3-8-18zm55 28l-15 0 1-23 14 0zm-22-46l0 16-20 0 0 7 20 0 0 23-25 0 0 7 23 0-1 6-6 12-5 6-14 10 5 5 14-10 9-12 5-12 11 21 11 10 7 3 5-7-6-3-11-9-12-20 28 0 0-7-8 0 0-30-22 0 0-16z"/><path id="ho" d="m7-76l15 17 6-4-16-17zm20 28l-22 0 0 7 14 0 0 31-15 11 5 6 8-8 6-3 13 7 9 2 15 1 34-1 2-7-30 1-20 0-8-2-11-7zm16-5l16 0 0 13-16 0zm23 0l17 0 0 13-17 0zm-7-31l0 10-27 0 0 7 27 0 0 8-23 0 0 25 19 0-11 12-13 8 5 6 12-8 11-12 0 23 7 0 0-23 22 18 5-4-25-20 22 0 0-25-24 0 0-8 28 0 0-7-28 0 0-10z"/><path id="hp" d="m26-21l-8 10-12 8 6 6 12-10 10-12zm38 3l19 20 7-4-20-19zm-25-66l-2 12-27 0 0 7 24 0-10 12-19 9 4 6 9-3 13-8 5-5 6-11 23 0 0 18 4 5 17 1 7-3 2-13-7-3-1 11-14 1-1-2 0-22-28 0 2-12zm-32 50l0 7 39 0-1 27-14 1 2 7 15-1 5-3 1-31 39 0 0-7-39 0 0-9-8 0 0 9z"/><path id="hq" d="m23-13l-8 3-10 10 5 6 7-8 6-4 13 8 8 2 16 1 34-1 2-8-46 1-9-1-9-5 30-24 25-28-6-4-71 1 0 7 64 0-22 24-18 14zm19-68l10 17 7-4-11-16z"/><path id="hr" d="m6-72l19 14 5-6-20-13zm-2 65l7 5 3-5 17-26-6-5zm41-77l-6 23-10 18 7 5 11-22 37 0-8 20 7 3 10-27-5-3-39 0 4-15zm12 29l0 14-5 18-6 9-9 9-13 8 6 5 16-10 10-12 6-12 11 20 11 10 7 3 5-6-8-4-12-12-5-8-6-18 0-14z"/><path id="hs" d="m68-40l0 13-17 0 0-13zm-3-41l7 15-19 0 7-16-8-2-7 19-12 17 5 6 6-9 0 59 7 0 0-7 44 0 0-7-20 0 0-14 16 0 0-7-16 0 0-13 16 0 0-6-16 0 0-13 19 0 0-7-22 0 7-3-3-7-5-7zm3 35l-17 0 0-13 17 0zm0 26l0 14-17 0 0-14zm-65 4l3 8 32-14-2-7-12 5 0-29 12 0 0-7-12 0 0-23-7 0 0 23-13 0 0 7 13 0 0 32z"/><path id="ht" d="m25-72l20 4-28 4 3 4 35-6 20 6 5-4-17-5 9-4 8-6-4-3-55 0 0 6 47 0-13 5-27-5zm-17 34l0 14 7 0 0-9 70 0 0 9 7 0 0-14-5 0 5-4-13-5 12-11-4-2-35 0 0 5 29 0-8 6-16-5-4 4 13 3-17 4 4 5 20-6 14 6-77 0 20-6 12 6 5-4-11-5 11-11-4-2-33 0 0 5 28 0-8 5-14-4-4 4 11 3-17 5zm22 24l40 0 0 5-40 0zm0-4l0-5 40 0 0 5zm0 13l40 0 0 5-40 0zm-8-23l0 28-16 0 0 6 88 0 0-6-17 0 0-28z"/><path id="hu" d="m5-76l5 22 5-1-5-22zm26-2l-6 23 5 1 7-22zm6 39l0 41 7 0 0-7 19 0 0-34-9 0 0-18 12 0 0-7-12 0 0-20-7 0 0 20-12 0 0 7 12 0 0 18zm32-42l-1 59-2 14-6 13 5 4 3-5 4-11 2-19 14 0 0 26-11 1 1 7 12-1 3-2 1-4 0-82zm6 7l13 0 0 17-13 0zm0 24l13 0 0 18-13 0zm-31 18l13 0 0 21-13 0zm-38-18l0 6 11 0-6 18-8 14 4 7 10-23 0 36 7 0 0-40 6 14 5-6-11-17 0-3 10 0 0-6-10 0 0-34-7 0 0 34z"/><path id="hv" d="m19-84l0 20-14 0 0 7 14 0 0 22-15 4 2 7 13-3 0 26-1 1-11 0 2 8 11-1 5-2 1-4 0-31 12-4-1-6-11 3 0-20 12 0 0-7-12 0 0-20zm40 3l9 14-23 0 0 34-2 15-6 14-5 7 6 5 5-6 6-14 3-22 33 0 0 7 7 0 0-40-23 0 6-3-4-7-5-7zm26 40l-33 0 0-19 33 0z"/><path id="hw" d="m78-71l0 28-17 0 0-28zm-35 28l0 8 11 0-3 20-5 13-5 6 6 4 9-13 4-15 1-15 17 0 0 43 7 0 0-43 11 0 0-8-11 0 0-28 9 0 0-7-48 0 0 7 8 0 0 28zm-38-35l0 6 13 0-6 22-9 17 4 8 5-8 0 36 6 0 0-8 21 0 0-43-21 0 7-24 15 0 0-6zm13 37l14 0 0 30-14 0z"/><path id="hx" d="m38-63l-13 9-15 6 5 6 10-5 19-13zm19 4l29 17 5-5-29-16zm-18 14l0 9-27 0 0 7 26 0-3 11-3 5-15 10-11 5 5 6 12-5 10-6 6-6 4-7 3-13 20 0 0 29 2 4 8 2 10 0 6-1 3-6 1-12-7-3-1 14-11 1-3-1 0-34-28 0 0-9zm3-38l5 10-39 0 0 17 7 0 0-10 70 0 0 9 7 0 0-16-36 0-6-12z"/><path id="hy" d="m27-73l47 0 0 11-47 0zm-8-7l0 25 63 0 0-25zm27 47l-1 14-2 4-10 9-26 8 5 6 16-4 11-5 8-6 4-5 2-6 1-15zm7 27l37 14 4-6-37-14zm-37-40l0 37 7 0 0-30 55 0 0 29 8 0 0-36z"/><path id="hz" d="m37-44l21 10-35 0 0 7 31 0 0 27-18 1 2 7 17-1 6-3 1-31 21 0-10 12 6 3 16-20-5-2-20 0-7-4 12-8 11-9-5-4-52 0 0 7 43 0-16 10-14-6zm10-38l5 9-40 0-1 53-4 17-4 7 6 4 4-8 5-18 1-48 76 0 0-7-35 0-6-11z"/><path id="hA" d="m64-72l0 56 8 0 0-56zm21-12l0 83-2 1-13 0 3 8 15-2 3-2 1-4 0-84zm-67 54l15 12-11 12-14 8 4 6 11-5 9-8 7-9 7-11 5-14 3-16-4-2-24 1 4-15 27 0 0-8-51 0 0 8 16 0-6 21-11 17 6 5 12-21 23 0-9 24-15-11z"/><path id="hB" d="m87-70l-13 16-14 13 0-41-8 0 0 47-20 12 6 6 14-8 0 22 2 6 3 2 25 1 8-2 3-3 3-20-7-4-2 17-3 4-21 1-2-2-1-3 0-25 18-15 16-19zm-56-14l-11 22-16 18 5 7 12-13 0 58 8 0 0-70 10-20z"/><path id="hC" d="m7-48l0 24 15 0 0 7-18 0 0 7 18 0 0 18 7 0 0-18 18 0 0-7-18 0 0-7 15 0 0-24-15 0 0-7 11 0 0-13 7 0 0-6-7 0 0-10-7 0 0 10-14 0 0-10-7 0 0 10-7 0 0 6 7 0 0 13 10 0 0 7zm26-20l0 7-14 0 0-7zm-19 26l8 0 0 12-8 0zm14 0l10 0 0 12-10 0zm40-30l0 29-11 0 0-29zm6 0l11 0 0 29-11 0zm-24-7l0 73 2 8 1 2 6 2 25 0 7-1 4-6 1-10-6-3-2 11-2 3-27-1-2-35 28 0 0 5 7 0 0-48z"/><path id="hD" d="m41-43l16-2-9 15-12 12-1-6-11 4 0-32 11 0 0-8-11 0 0-23-7 0 0 23-12 0 0 8 12 0 0 34-13 5 2 8 30-13 6 4 13-13 9-18 8 0-8 20-5 9-13 14-8 6 6 4 8-6 13-16 6-9 8-22 7 0-2 24-3 18-3 3-12 0 3 7 12 0 4-2 3-4 2-12 4-41-40 0 31-24-6-4-41 1 0 7 32 0-20 15-12 7z"/><path id="hE" d="m46-84l-1 29-39 0 0 7 37 0-6 19-5 9-7 8-9 8-12 6 6 6 11-6 9-8 13-17 7-19 10 21 6 9 15 15 9 5 6-7-9-5-16-14-6-9-9-21 38 0 0-7-41 0 1-29z"/><path id="hF" d="m13-80l13 16 6-4-13-16zm-4 16l0 72 7 0 0-72zm14 43l0 6 37 0 0-6zm13-59l0 6 48 0 0 73-1 2-13 0 2 6 17-2 2-6 0-79zm-2 27l-5 21 39 0-3 19-2 7-15 0 2 6 17-1 3-3 2-8 3-26-9 0 2-24-41-1 0 7 34 0-2 18-21 0 2-14z"/><path id="hG" d="m66-20l22 22 7-4-23-21zm-39-3l-11 11-12 9 6 6 12-11 12-13zm-13-53l29 13-37 14 6 7 39-17 31 17 5-6-28-16 23-16-6-4-25 17-32-14zm32 29l0 11-40 0 0 7 40 0 0 29-2 1-11 0 3 7 12-1 5-3 1-33 40 0 0-7-40 0 0-11z"/><path id="hH" d="m85-68l-7 24-10 20-9-20-6-24zm-43-7l0 7 4 0 7 28 10 22-12 12-14 8 4 6 14-8 13-12 10 11 13 9 6-6-14-9-10-11 13-24 8-32-5-1zm-21-9l0 21-16 0 0 7 14 0-7 21-10 17 4 8 8-14 7-18 0 50 8 0 0-51 12 17 4-7-16-19 0-4 13 0 0-7-13 0 0-21z"/><path id="hI" d="m12-74l0 7 76 0 0-7zm7 32l0 8 61 0 0-8zm-13 35l0 8 87 0 0-8z"/><path id="hJ" d="m56-13l0 15 5 4 29 0 5-4 1-6-5-2-1 6-2 1-24 0-1-14zm-19-55l0 5-15 0 0 5 12 0-14 10 4 5 13-11 0 11 6 0 0-11 10 6 3-4-12-6 13 0 0-5-14 0 0-5zm36 0l0 5-13 0 0 5 10 0-14 10 4 4 13-10 0 11 6 0 0-11 13 11 4-5-14-10 12 0 0-5-15 0 0-5zm-40 43l19 0-2 6-17 0zm26 0l22 0 0 6-24 0zm-26-10l20 0-1 6-19 0zm27 0l21 0 0 6-21 0zm-9-11l-3 6-21 0 0 26 21 0-11 10-20 6 4 6 9-2 14-6 5-4 7-10 32 0 0-26-33 0 3-4zm16 46l16-3 2 3 3-2-5-9-4 1 3 4-9 0 5-6-4-2-5 8-3 2zm-20-83l3 7-38 0-2 56-4 16-3 8 6 4 3-8 5-18 1-52 77 0 0-6-37 0-3-8z"/><path id="hK" d="m6-74l18 14 5-6-18-13zm32-4l0 7 50 0 0-7zm-13 29l-21 0 0 7 14 0 0 32-14 11 5 7 7-9 6-4 14 8 8 3 16 1 34-1 2-8-47 1-12-2-12-7zm6-7l0 7 17 0-4 22-8 10-7 3 4 6 8-4 10-11 2-8 3-18 11 0 0 30 2 7 4 2 13 0 5-1 1-2 3-13-7-3-1 12-10 1-2-1 0-32 19 0 0-7z"/><path id="hL" d="m8-79l14 18 6-4-14-18zm17 29l-21 0 0 7 14 0 0 31-7 5-8 8 6 7 6-9 6-4 13 8 9 3 16 1 36-1 2-9-48 2-13-3-11-7zm13 9l7-1 17 0 0 13-30 0 0 7 30 0 0 19 8 0 0-19 24 0 0-7-24 0 0-13 19 0 0-7-19 0 0-13-8 0 0 13-16 0 8-18 38 0 0-7-35 0 3-8-8-2-3 10-17 0 0 7 14 0-6 14-5 5z"/><path id="hM" d="m46-64l7 14 6-3-8-13zm-30-20l0 20-12 0 0 7 12 0 0 22-13 4 2 7 11-3 0 27-10 1 2 7 10-1 4-3 1-34 10-3-1-7-9 3 0-20 10 0 0-7-10 0 0-20zm41 2l4 8-23 0 0 7 55 0 0-7-24 0-5-9zm20 16l-9 16-33 0 0 6 60 0 0-6-19 0 8-14zm-1 40l-3 8-6 7-17-6 6-9zm-36 12l21 8-13 5-16 2 3 7 19-4 14-7 21 11 5-6-20-10 6-8 4-10 12 0 0-7-36 0 5-9-7-1-6 10-18 0 0 7 15 0z"/><path id="hN" d="m67-6l22 13 5-4-21-13zm-18-4l-11 7-12 5 6 6 8-5 16-10zm-39-67l15 9 5-6-16-9zm-6 27l15 9 4-7-15-8zm2 51l7 5 3-5 12-27-6-5zm48-84l4 9-27 0 0 16 7 0 0-10 48 0 0 10 7 0 0-16-27 0-5-10zm-13 57l17 0 0 9-17 0zm24 0l17 0 0 9-17 0zm-24-14l17 0 0 9-17 0zm24 0l17 0 0 9-17 0zm-27-19l0 6 20 0 0 8-24 0 0 34 55 0 0-34-24 0 0-8 20 0 0-6z"/><path id="hO" d="m23-35l-8 16-11 13 6 5 12-14 9-18zm45 3l11 16 7 15 7-3-7-15-11-16zm-53-45l0 8 70 0 0-8zm-9 25l0 7 40 0 0 44-2 1-16 0 3 8 16-1 6-3 1-49 40 0 0-7z"/><path id="hP" d="m56-68l-20 35-4 16-2 16-10 0 1-15 4-15 9-16 12-20-41 0 0-9 51 0z"/><path id="hQ" d="m95-78l-55 0 0 81 56 0 0-7-49 0 0-67 48 0zm-45 58l0 7 43 0 0-7-19 0 0-16 16 0 0-6-16 0 0-14 18 0 0-6-41 0 0 6 16 0 0 14-14 0 0 6 14 0 0 16zm-31-64l0 21-15 0 0 7 14 0-6 20-9 16 3 7 7-12 6-15 0 48 7 0 0-53 9 14 4-7-13-15 0-3 11 0 0-7-11 0 0-21z"/><path id="hR" d="m42-58l38 0 0 9-38 0zm0-16l38 0 0 10-38 0zm-7-6l0 37 53 0 0-37zm-26 3l18 11 5-6-18-10zm-5 27l18 11 4-6-17-10zm3 52l6 5 3-5 15-28-5-5zm28 6l27-7-1-7-18 4 0-18 18 0 0-7-18 0 0-12-7 0 0 34-1 4-3 2zm30-46l0 34 2 8 8 2 17-1 3-5 1-9-6-3-2 11-15 0-1-2 0-12 23-12-5-5-18 10 0-16z"/><path id="hS" d="m9-78l17 12 4-6-17-11zm-5 27l17 11 4-6-17-10zm2 53l6 5 16-31 4 4 10-8 0 36 7 0 0-15 31 0-1 9-12 0 2 6 15-2 3-4 0-40-37 0 5-8 41 0 0-7-38 0 3-7-7-2-3 9-22 0 0 7 18 0-9 11-10 9-6-4zm74-22l0 7-31 0 0-7zm0-5l-31 0 0-7 31 0zm-42-52l18 7-25 6 4 6 29-9 21 9 4-5-17-8 15-9-6-3-17 9-23-7z"/><path id="hT" d="m37-50l25 0 0 23-25 0zm-7-7l0 37 39 0 0-37zm-22-23l0 88 8 0 0-6 68 0 0 6 8 0 0-88zm8 75l0-67 68 0 0 67z"/><path id="hU" d="m18-84l0 21-13 0 0 7 13 0 0 21-15 4 2 8 13-4-1 27-1 1-10 0 2 7 10-1 5-2 2-6 0-29 11-3-1-7-10 3 0-19 10 0 0-7-10 0 0-21zm34 0l1 21-16 0 0 7 16 0-2 19-9-5-5 5 13 7-2 7-10 17-10 8 5 6 6-4 9-10 8-20 13 10 5-6-16-11 2-23 15 0 0 35 3 21 3 6 9 2 3-4 2-3 1-10-6-4-1 11-2 3-2-2-2-5 0-57-23 0 0-21z"/><path id="hV" d="m33-84l-11 16-18 15 6 6 5-5 0 24 27 0-6 12-6 5-15 9-10 3 5 6 20-8 13-12 7-15 5 0 0 27 2 5 10 2 17 0 7-1 3-6 2-11-7-3-2 12-2 2-21 0-2-3 0-24 26 0 0-31-30 0 11-14-5-4-27 1 4-7zm-10 25l10-11 25 0-8 11zm0 7l24 0-3 18-21 0zm31 0l26 0 0 18-28 0z"/><path id="hW" d="m6-76l16 17 5-5-15-16zm24 3l9 21 7-3-10-20zm54-2l-11 20 5 3 14-21zm-59 27l-20 0 0 7 13 0 0 32-13 10 4 6 8-7 6-3 12 6 8 2 52 0 2-8-49 2-12-2-11-6zm40-36l0 71 6 4 18 0 4-3 2-10-6-2-2 8-13 0-2-1 0-24 16 14 5-5-13-11-8-4 0-37zm-37 50l4 6 16-10-5 14-13 12 6 5 7-6 6-6 3-7 4-16 0-42-7 0 0 38z"/><path id="hX" d="m72-30l10 10 5-3-10-11zm-66-46l15 16 6-4-15-16zm38 21l16 0-2 14-14 0zm23 0l14 0 0 14-16 0zm-18-29l-9 15-12 13 6 4 3-2 0 19 19 0-9 13-16 10 4 5 12-6 9-8 6-10 0 18 2 4 8 1 19-1 3-3 2-8-6-2-1 7-2 1-17 0-1-3 0-18 20 0 0-26-19 0 8-12-5-3-20 0 3-6zm-6 23l6-9 19 0-6 9zm-17 13l-21 0 0 7 13 0 0 31-14 10 5 6 7-8 7-3 13 7 8 2 16 1 34-1 2-7-30 2-20-1-8-2-12-7z"/><path id="hY" d="m74-33l-1 8-21 0 3-1-5-7zm-53-6l-1 14-16 0 0 6 15 0-2 15 54 0-4 6-14 0 2 5 18-1 3-3 2-7 11 0 0-6-10 0 1-9 16 0 0-6-15 0 1-14zm22 7l6 7-22 0 1-8 17 0zm30 13l-1 9-21 0 3-1-5-8zm-30 1l5 8-23 0 1-9 19 0zm3-66l0 8-35 0 0 6 35 0 0 7-29 0 0 5 29 0 0 8-39 0 0 6 86 0 0-6-39 0 0-8 30 0 0-5-30 0 0-7 36 0 0-6-36 0 0-8z"/><path id="hZ" d="m59-84l-5 22-8 18 6 4 10-22 26 0-5 20 6 1 7-27-5-1-27 0 2-14zm7 32l-1 20-2 9-4 9-6 9-9 8 5 5 6-5 8-10 8-16 8 18 13 13 5-6-11-10-8-13-5-17 1-14zm-57 19l19-2 0 15-24 3 2 8 22-4 0 21 7 0 0-22 13-2 0-7-13 2 0-14 12 0 0-6-12 0 0-15-7 0 0 15-11 0 9-24 22 0 0-7-19 0 3-10-8-2-3 12-16 0 0 7 14 0-8 19-4 6z"/><path id="ia" d="m43-75l0 28-11 4 3 7 8-4 0 32 1 8 2 3 7 2 29 1 8-2 5-6 1-10-6-3-2 11-3 3-27 0-6-1-2-6 0-35 14-5 0 34 7 0 0-37 14-6-1 30-2 2-8 0 2 6 11-1 3-3 1-3 1-39-5-2-16 8 0-25-7 0 0 28-14 6 0-25zm-40 60l3 7 31-14-1-7-12 5 0-29 12 0 0-7-12 0 0-23-7 0 0 23-13 0 0 7 13 0 0 32z"/><path id="ib" d="m20-84l0 19-14 0 0 7 13 0-7 21-9 17 4 8 7-14 6-16 0 50 7 0 0-54 7 15 4-6-11-18 0-3 12 0 0-7-12 0 0-19zm68 2l-21 5-24 2 0 33-2 19-6 19-4 8 6 4 5-8 5-19 3-29 3 0 6 18 7 16-10 9-12 7 5 6 11-7 11-9 9 9 12 7 5-6-12-7-9-9 9-17 6-22-5-2-36 1 0-14 23-3 20-5zm-5 34l-5 15-7 13-6-13-5-15z"/><path id="ic" d="m4-5l1 7 35-7-1-7zm2-37l17-3-12 14-7 5 3 8 33-7 0-6-22 3 24-31-7-4-7 11-14 1 18-30-7-3-12 22-6 9-4 3zm35 36l0 8 55 0 0-8-24 0 0-61 22 0 0-8-52 0 0 8 22 0 0 61z"/><path id="id" d="m10-80l0 88 7 0 0-81 16 0-8 23 7 11 2 12-2 4-9 0 2 7 7 0 7-3 2-5 0-9-1-7-8-11 11-26-6-3zm52-4l-1 34-2 16-5 14-8 13-12 10 6 5 13-11 8-14 5-16 9 22 10 14 7 5 5-6-9-8-8-10-8-22-3-15 1-31z"/><path id="ie" d="m40-63l-5 15-29 0 0 7 26 0-12 21-16 17 6 6 17-20 14-24 53 0 0-7-51 0 5-13zm-9 69l49-6 5 8 7-4-21-27-6 3 11 14-35 3 20-31-8-3-13 23-7 10-4 3zm13-89l4 10-41 0 0 19 8 0 0-12 70 0 0 12 8 0 0-19-37 0-4-12z"/><path id="if" d="m45-41l0 15-25 0 0-15zm8 0l26 0 0 15-26 0zm-8-7l-25 0 0-14 25 0zm8 0l0-14 26 0 0 14zm-40-22l0 57 7 0 0-6 25 0 0 16 3 6 3 2 31 1 8-2 3-2 3-16-7-4-2 13-3 3-26 1-4-2-1-3 0-13 33 0 0-51-33 0 0-14-8 0 0 14z"/><path id="ig" d="m42-27l-5 18-9 13 5 4 6-7 5-9 8 9 11 5 31 1 3-7-29 0 0-13 23 0 0-7-23 0 0-8 22 0 0-14 7 0 0-7-7 0 0-13-22 0 0-7 26 0 0-6-26 0 0-9-7 0 0 9-25 0 0 6 25 0 0 7-21 0 0 6 21 0 0 7-26 0 0 7 26 0 0 8-21 0 0 6 21 0 0 26-9-5-4-5-2-4 2-10zm41-15l0 8-15 0 0-8zm0-7l-15 0 0-7 15 0zm-66-35l0 20-13 0 0 7 13 0 0 21-14 4 2 7 12-4 0 29-1 1-10 0 2 7 9 0 5-3 2-6 0-30 11-4-1-7-10 4 0-19 10 0 0-7-10 0 0-20z"/><path id="ih" d="m16 6l62-6 6 8 6-4-9-13-13-13-7 3 12 12-46 3 21-22 44 0 0-8-83 0 0 8 29 0-16 17-9 7zm34-90l-5 7-14 12-27 15 6 7 16-9 0 6 48 0 0-7-46 0 22-19 19 16 22 12 5-7-16-7-14-9-11-10 3-4z"/><path id="ii" d="m53-42l19 22 5-4-19-22zm-47 8l0 6 16 0 0 23-6 7 4 6 26-15-2-6-15 7 0-22 17 0 0-6-17 0 0-14 14 0 5 4 9-16 29 0-2 43-2 13-3 5-16-1 3 7 17 0 4-4 3-9 3-61-33 0 5-15-7-2-6 19-9 15 0-5-32 0 0 7 11 0 0 14zm12-50l-6 14-8 10 3 8 10-14 28 0 0-7-24 0 4-9z"/><path id="ij" d="m6-4l0 8 88 0 0-8zm18-28l22 0 0 12-22 0zm30 0l23 0 0 12-23 0zm-30-20l22 0 0 13-22 0zm30 0l23 0 0 13-23 0zm-20-32l-11 15-18 15 5 6 7-5 0 40 68 0 0-45-25 0 10-15-4-3-28 0 4-7zm-11 26l10-11 27 0-9 11z"/><path id="ik" d="m7-76l15 16 6-4-15-16zm39 45l34 0 0 15-34 0zm-8-6l0 28 49 0 0-28zm21-47l0 13-12 0 4-10-7-2-6 14-8 11 7 4 7-11 15 0 0 13-29 0 0 6 65 0 0-6-28 0 0-13 23 0 0-6-23 0 0-13zm-34 38l-20 0 0 7 13 0 0 30-13 10 4 6 8-7 6-3 12 6 8 2 52 0 2-8-49 2-12-2-11-6z"/><path id="il" d="m15-34l12 0 0 22-12 0zm0-7l0-21 12 0 0 21zm31 7l0 22-12 0 0-22zm0-7l-12 0 0-21 12 0zm-19-43l0 15-19 0 0 71 7 0 0-7 31 0 0 5 7 0 0-69-19 0 0-15zm36 5l0 87 6 0 0-80 16 0-10 27 9 13 2 7 0 8-3 3-11 1 2 7 10-1 4-1 4-4 2-10-3-11-9-13 13-30-5-3z"/><path id="im" d="m65-83l1 22-13 0 0 7 12 0-4 33-8 17-6 7 6 5 6-8 9-18 4-36 14 0-1 29-2 17-2 7-2 1-12 0 2 7 16-1 3-3 2-8 3-56-20 0 0-22zm-56 82l35-8 1 6 7-3-10-25-6 3 6 13-25 4 13-26 22 0 0-7-19 0 0-17 16 0 0-7-16 0 0-16-8 0 0 16-17 0 0 7 17 0 0 17-20 0 0 7 17 0-9 21-7 8z"/><path id="in" d="m45-20l11 17 6-3-11-18zm18-64l0 13-22 0 0 7 22 0 0 12-27 0 0 7 40 0 0 12-39 0 0 7 39 0 0 26-14 1 2 7 11 0 5-2 3-3 0-29 12 0 0-7-12 0 0-12 13 0 0-7-26 0 0-12 21 0 0-7-21 0 0-13zm-46 0l0 20-13 0 0 7 13 0 0 22-14 4 2 7 12-4 0 28-1 1-10 0 2 7 10-1 5-2 1-6 0-29 11-3-1-7-10 3 0-20 11 0 0-7-11 0 0-20z"/><path id="io" d="m25-62l52 0 0 21-52 0zm19-21l6 15-33 0 0 29-2 18-6 17-6 8 7 5 4-7 6-14 4-22 53 0 0 6 7 0 0-40-31 0 4-2-6-14z"/><path id="ip" d="m5-76l6 22 5-2-6-22zm28-2l-7 22 5 2 8-22zm-29 28l0 7 13 0-6 17-8 14 4 8 11-25 0 37 7 0 0-40 8 15 5-5-13-19 0-2 11 0 0-7-11 0 0-34-7 0 0 34zm60-34l0 8-21 0 0 6 21 0 0 6-19 0 0 6 19 0 0 6-24 0 0 6 56 0 0-6-25 0 0-6 20 0 0-6-20 0 0-6 22 0 0-6-22 0 0-8zm18 50l0 7-29 0 0-7zm-36-6l0 48 7 0 0-16 29 0 0 9-11 1 2 6 10 0 5-3 1-5 0-40zm7 19l29 0 0 7-29 0z"/><path id="iq" d="m8-79l0 20 7 0 0-13 69 0 0 13 8 0 0-20zm1 58l0 7 57 0 0-7zm21-49l-8 38 52 0-3 22-3 9-4 1-17-1 2 7 16 1 6-2 5-4 3-9 4-31-52 0 3-12 46 0 0-7-45 0 3-11z"/><path id="ir" d="m24-46l52 0 0 17-52 0zm10 33l2 20 8-1-3-19zm21 0l7 20 7-2-7-19zm20-1l13 21 7-3-13-20zm-57-2l-6 12-8 9 7 3 8-10 6-12zm-1-38l0 32 67 0 0-32-31 0 0-12 38 0 0-7-38 0 0-11-7 0 0 30z"/><path id="is" d="m81-64l-33 4-39 2 2 7 40-3 36-5zm-67 18l8 15 7-3-9-15zm27-3l6 14 7-2-6-14zm40-4l-12 20 6 3 13-20zm-18-31l0 7-26 0 0-7-8 0 0 7-23 0 0 7 23 0 0 8 8 0 0-8 26 0 0 7 7 0 0-7 24 0 0-7-24 0 0-7zm-17 50l0 8-40 0 0 6 33 0-16 12-20 8 6 6 20-9 17-14 0 25 8 0 0-25 10 9 20 11 7 3 5-7-20-7-16-12 35 0 0-6-41 0 0-8z"/><path id="it" d="m60-80l10 21 6-3-10-20zm-26 58l4 10-9 2 0-19 15 0 0-37-15 0 0-18-7 0 0 18-14 0 0 41 6 0 0-4 8 0 0 20-18 3 2 7 34-6 2 7-1 0 5 6 13-9 10-11 10 12 13 8 5-6-13-9-10-11 12-27 7-31-7-1-6 27-10 25-10-23-6-28-7 2 7 31 11 25-17 16-8-22zm-20-38l9 0 0 24-9 0zm15 0l9 0 0 24-9 0z"/><path id="iu" d="m67-72l0 55 7 0 0-55zm18-10l0 81-1 2-15 0 2 7 17-2 3-2 1-4 0-82zm-68 28l0 6 34 0 0-6zm-7 19l6 22 7-2-7-22zm18-4l4 22 7-1-5-23zm22-2l-12 33-30 5 2 7 50-9-1-7-14 3 12-30zm-18-44l-13 19-16 14 3 7 15-13 12-16 25 25 5-6-27-24 2-4z"/><path id="iv" d="m4-71l18 13 4-6-18-13zm0 62l6 5 6-10 11-21-6-4zm24-49l0 7 18 0-9 25-9 12-5 5 5 6 12-13 4-8 8-21 2-12-4-1zm60-6l-17 18-6-20 0-18-8 0 0 83-2 1-12 0 3 8 13-1 4-2 2-3 0-47 7 17 9 14 11 10 6-6-14-12-11-17 21-21z"/><path id="iw" d="m52-61l31 0 0 9-31 0zm0-13l31 0 0 8-31 0zm-23 52l4 12-7 1 0-19 12 0 0-38-12 0 0-18-7 0 0 18-12 0 0 43 6 0 0-5 6 0 0 20-14 3 1 7 29-6 1 7 6-2-7-25zm-16-38l7 0 0 25-7 0zm12 0l6 0 0 25-6 0zm20-20l0 33 6 0-6 11-8 10 4 5 4-3 0 21 37 0 0-6-31 0 0-16-6 0 6-8 36 0-3 32-3 3-8 0 1 6 13-1 2-2 2-6 3-38-40 0 3-7-6-1 39 0 0-33zm22 48l-5 11-8 7 4 4 10-10 11 9 3-4-12-9 2-7z"/><path id="ix" d="m62-62l-12 13-16 11-1-5-9 3 0-17 9 0 0-7-9 0 0-20-7 0 0 20-12 0 0 7 12 0 0 21-13 5 3 7 10-4 0 27-1 1-10 0 2 8 11-1 4-4 1-35 8-3 4 4 12-7 0 5 32 0 0-5 12 7 5-6-22-13-8-6 2-3zm12-22l0 10-20 0 0-10-7 0 0 10-14 0 0 7 14 0 0 10 7 0 0-10 20 0 0 10 7 0 0-10 14 0 0-7-14 0 0-10zm-25 45l14-13 16 13zm-7 14l0 33 7 0 0-4 31 0 0 4 7 0 0-33zm7 23l0-16 31 0 0 16z"/><path id="iy" d="m24-64l52 0 0 7-52 0zm0-11l52 0 0 6-52 0zm-11 75l3 6 28-10-1-5zm33-22l0 24-12 0 2 6 12 0 5-4 0-26zm8 18l28 10 4-5-28-10zm-27-12l7 8 6-3-8-8zm41-4l-7 9 5 3 8-9zm-57-25l0 5 19 0 0 8-24 0 0 6 22 0-11 7-13 5 4 5 16-7 13-10 27 0 13 10 15 6 5-5-13-4-11-7 21 0 0-6-24 0 0-8 19 0 0-5-19 0 0-7 14 0 0-28-67 0 0 28 13 0 0 7zm27-7l24 0 0 7-24 0zm0 20l0-8 24 0 0 8z"/><path id="iz" d="m41-84l0 22-33 0 0 8 33 0-4 19-4 10-7 10-9 9-12 8 6 6 13-9 9-10 7-11 5-11 3-21 35 0-2 28-4 22-5 4-18-1 3 8 21-1 4-3 3-9 6-56-42 0 0-22z"/><path id="iA" d="m5-32l0 7 41 0 0 25-21 0 3 8 16-1 6-1 4-6 0-25 41 0 0-7-41 0 0-16 36 0 0-8-36 0 0-16 31-6-5-6-31 6-37 3 1 6 33-2 0 15-34 0 0 8 34 0 0 16z"/><path id="iB" d="m15-75l0 34-2 18-5 18-5 8 7 5 4-9 6-19 3-29 72 0 0-7-72 0 0-13 35-3 30-5-6-6-30 5zm16 40l0 43 8 0 0-5 41 0 0 5 8 0 0-43zm8 31l0-24 41 0 0 24z"/><path id="iC" d="m18-34l0 42 8 0 0-6 48 0 0 6 8 0 0-42zm8 29l0-22 48 0 0 22zm-13-38l67-4 6 8 6-4-11-15-15-15-6 4 14 15-51 2 26-29-7-3-18 22-9 9-5 3z"/><path id="iD" d="m73-33l0 14-34 0 0 6 34 0 0 21 7 0 0-21 16 0 0-6-16 0 0-14zm-29-41l0 38 15 0-6 6-10 6 5 4 12-7 7-9 26 0 0-38-26 0 5-9-9-1-3 10zm6 22l15 0-2 10-13 0zm22 0l14 0 0 10-16 0zm-22-16l15 0 0 10-15 0zm22 0l14 0 0 10-14 0zm-62-14l0 54-2 18-4 16 6 2 4-18 2-19 13 0 0 37 7 0 0-43-19 0 0-15 24 0 0-6-8 0 0-28-7 0 0 28-9 0 0-26z"/><path id="iE" d="m37-63l-13 7-14 5 4 6 10-4 19-11zm20 5l28 12 4-5-28-12zm-13 17l0 7 15 0-2 15-3 7-9 11-7 4 4 5 8-4 11-13 2-7 3-18 18 0-4 32-3 3-12-1 2 7 13 0 5-2 2-3 2-9 2-34zm-29 45l29-11-2-7-18 7 0-19 19-2-1-6-18 2 0-12-8 0 0 12-12 2 1 6 11-1 0 17-4 6zm28-86l3 8-38 0 0 16 7 0 0-9 70 0 0 8 8 0 0-15-38 0-5-10z"/><path id="iF" d="m22-63l-6 11-7 8 6 4 8-9 6-12zm47 4l17 19 6-4-17-18zm-26-24l5 9-41 0 0 7 28 0 0 30 7 0 0-30 16 0 0 30 7 0 0-30 28 0 0-7-36 0-7-11zm-30 49l0 7 8 0 10 11 11 8-17 6-20 4 4 6 21-4 20-7 19 7 22 4 5-6-21-4-17-5 14-11 7-8 3-5-4-3zm17 7l41 0-9 9-12 7-11-7z"/><path id="iG" d="m25-66l50 0 0 5-50 0zm0-10l50 0 0 5-50 0zm-7-5l0 25 64 0 0-25zm-13 29l0 6 90 0 0-6zm18 25l23 0 0 5-23 0zm31 0l24 0 0 5-24 0zm-31-10l23 0 0 5-23 0zm31 0l24 0 0 5-24 0zm-49 37l0 6 91 0 0-6-42 0 0-6 33 0 0-5-33 0 0-6 31 0 0-25-69 0 0 25 30 0 0 6-33 0 0 5 33 0 0 6z"/><path id="iH" d="m34-3l0 7 60 0 0-7-26 0 0-31 28 0 0-7-28 0 0-28 24-6-6-7-24 7-28 4 2 7 24-4 0 27-30 0 0 7 30 0 0 31zm-4-81l-12 23-16 18 5 7 12-13 0 57 7 0 0-68 11-22z"/><path id="iI" d="m65-73l0 55 7 0 0-55zm19-10l0 82-2 2-14-1 2 8 17-2 3-2 1-4 0-83zm-53 5l14 14 5-4-14-14zm15 30l-13 23-5-25 32-4-1-7-32 4-1-27-8 0 2 28-16 2 0 7 16-2 7 31-11 10-12 8 5 6 21-16 5 9 6 6 4 2 6 0 5-4 3-15-6-4-2 12-3 4-6-4-6-13 10-13 7-16z"/><path id="iJ" d="m15-76l0 7 71 0 0-7zm-9 28l0 7 25 0-2 18-3 8-5 6-7 6-9 5 5 6 10-6 7-6 6-8 3-9 3-20 19 0 0 36 3 9 5 2 18 0 7-2 2-2 3-18-7-3-1 15-3 3-16 0-3-1 0-39 28 0 0-7z"/><path id="iK" d="m81-38l-16 0 1-22 15 0zm-23-45l0 16-18 0 0 7 18 0 0 22-21 0 0 7 20 0-2 6-6 12-5 6-15 9 5 6 15-10 10-12 5-14 10 22 11 10 7 4 5-6-7-4-10-9-10-20 25 0 0-7-7 0 0-29-22 0 0-16zm-54 67l3 7 30-14-2-6-11 4 0-28 11 0 0-7-11 0 0-23-7 0 0 23-12 0 0 7 12 0 0 31z"/><path id="iL" d="m8-79l12 20 7-4-13-19zm50-5l0 20-26 0 0 7 25 0-4 16-3 8-11 12-7 5 5 6 11-9 8-10 6-13 26 31 6-5-30-34 0-7 30 0 0-7-29 0 1-20zm-32 37l-21 0 0 7 14 0 0 27-8 5-7 8 5 6 7-9 6-4 14 8 8 3 16 1 34-1 2-8-46 2-13-3-6-4-5-3z"/><path id="iM" d="m26-49l11 34 7-3-11-34zm22-6l8 35 8-2-9-34zm-1-28l5 12-40 0-1 51-4 17-3 7 6 5 4-8 4-18 2-47 74 0 0-7-33 0-7-14zm-26 79l0 7 75 0 0-7-28 0 13-25 9-25-8-3-8 27-13 26z"/><path id="iN" d="m26-18l0 18 3 5 3 1 36 0 6-2 1-3 2-9-7-3-1 9-3 2-31-1-1-2 0-15zm15-3l15 17 6-4-15-16zm36 3l11 21 7-3-12-21zm-63 0l-10 19 7 3 10-19zm18-66l-10 14-17 13 5 6 8-5 0 2 56 0 0 8-55 0 0 6 55 0 0 9-58 0 0 6 66 0 0-35-20 0 8-14-5-3-29 1 4-7zm-10 24l10-10 28 0-7 10z"/><path id="iO" d="m7-74l0 65 7 0 0-10 18 0 0-55zm7 6l12 0 0 42-12 0zm49-16l-6 17-17 0 0 74 7 0 0-68 39 0 0 61-11 1 2 7 12-1 3-2 1-4 0-68-28 0 6-15zm-2 40l11 0 0 22-11 0zm-6-5l0 39 6 0 0-6 17 0 0-33z"/><path id="iP" d="m43-83l4 10-39 0 0 16 8 0 0-9 68 0 0 9 8 0 0-16-38 0 2-1-5-11zm-21 54l24 0 0 11-24 0zm0-7l0-10 24 0 0 10zm56 7l0 11-24 0 0-11zm0-7l-24 0 0-10 24 0zm-32-27l0 10-32 0 0 48 8 0 0-6 24 0 0 19 8 0 0-19 24 0 0 5 8 0 0-47-32 0 0-10z"/><path id="iQ" d="m27-64l7 11 6-2-6-12zm29 24l20 15 4-5-20-15zm-16-4l-18 14 4 6 19-18zm26-22l-8 14-46 0 0 60 7 0 0-54 63 0-1 47-15 1 2 5 15 0 5-3 0-56-22 0 8-12zm-35 38l0 28 7 0 0-5 30 0 0-23zm7 6l24 0 0 12-24 0zm6-60l4 9-42 0 0 6 88 0 0-6-38 0-5-11z"/><path id="iR" d="m65-44l11 18 6-4-11-17zm-33-18l0 35 7 0 0-35zm-19 4l0 28 7 0 0-28zm51-26l0 7-28 0 0-7-7 0 0 7-23 0 0 7 23 0 0 6 7 0 0-6 28 0 0 6 7 0 0-6 24 0 0-7-24 0 0-7zm-6 20l-5 16-8 12 6 4 9-16 31 0 0-7-28 0 2-7zm-42 40l0 23-11 0 0 6 91 0 0-6-11 0 0-23zm7 23l0-17 14 0 0 17zm20 0l0-17 14 0 0 17zm21 0l0-17 14 0 0 17z"/><path id="iS" d="m50-39l11 22 7-3-12-22zm-41-6l19 18-11 17-13 12 6 6 13-12 10-16 11 15 6-5-14-18 6-19 4-23-5-1-34 0 0 7 31 0-7 30-17-16zm67-39l0 24-28 0 0 7 28 0 0 52-2 1-14 0 3 8 15-1 5-4 1-56 12 0 0-7-12 0 0-24z"/><path id="iT" d="m39-66l0 7 57 0 0-7zm17-17l7 16 7-3-7-15zm-38-1l0 20-13 0 0 7 13 0 0 22-15 4 2 7 13-4 0 27-1 2-11 0 2 7 11-1 5-2 2-6 0-29 12-4 0-6-12 3 0-20 11 0 0-7-11 0 0-20zm30 35l0 24-3 12-7 11-6 5 4 6 12-12 6-14 1-25 19 0 1 46 6 3 8 0 4-2 3-4 1-14-6-3-1 15-6 1-2-1-1-48z"/><path id="iU" d="m21-24l16 21 6-4-16-21zm44-20l0 9-58 0 0 7 58 0 0 28-19 0 2 8 20-2 3-1 1-5 0-28 22 0 0-7-22 0 0-9zm-18-40l-6 15-35 0 0 7 30 0-14 10-18 6 4 7 22-9 15-14 10 0 16 14 21 8 4-6-18-6-15-10 31 0 0-7-44 0 5-14z"/><path id="iV" d="m15-82l7 14 7-2-8-14zm42 71l-7 8-9 7 6 4 9-7 7-9zm15 4l16 15 6-4-17-15zm-22-77l-5 12-7 11 0-7-34 0 0 7 10 0-2 36-5 20-4 8 6 5 8-21 3-27 11 0-3 37-2 3-8 0 1 7 12-1 2-3 2-6 3-44-18 0 1-14 17 0-3 3 5 5 10-14 44 0 0-6-41 0 3-10zm28 21l0 7-20 0 0-7-6 0 0 7-7 0 0 6 7 0 0 31-11 0 0 7 54 0 0-7-10 0 0-31 8 0 0-6-8 0 0-7zm-20 13l20 0 0 7-20 0zm0 12l20 0 0 7-20 0zm0 12l20 0 0 7-20 0z"/><path id="iW" d="m72-84l-10 14-28 0 4-2-11-12-6 3 9 11-23 0 0 6 28 0 0 9-21 0 0 6 21 0 0 9-29 0 0 6 29 0 0 10-22 0 0 6 18 0-12 11-15 7 5 6 14-8 12-11 0 21 7 0 0-26 14 0 0 26 8 0 0-22 13 11 14 9 5-6-15-8-13-10 17 0 0-16 10 0 0-6-10 0 0-15-21 0 0-9 29 0 0-6-22 0 9-12zm-30 20l14 0 0 9-14 0zm0 30l14 0 0 10-14 0zm0-6l0-9 14 0 0 9zm22 6l13 0 0 10-13 0zm0-6l0-9 13 0 0 9z"/><path id="iX" d="m68-69l-18 13-17-12 1-1zm-31-15l-11 13-18 12 5 6 15-10 14 11-19 7-20 3 3 8 22-5 22-9 20 8 23 4 4-7-20-3-19-6 13-9 10-12-5-3-36 1 5-8zm-12 71l21 0 0 11-21 0zm0-6l0-10 21 0 0 10zm50 6l0 11-21 0 0-11zm0-6l-21 0 0-10 21 0zm-58-17l0 44 8 0 0-3 50 0 0 3 8 0 0-44z"/><path id="iY" d="m16 11l12-9 4-9 0-11-5-5-6 0-4 5 0 4 2 3 7 2-4 8-8 6z"/><path id="iZ" d="m39-46l18 12-30 0 2-16 46 0-1 16-17 0 5-5-19-11zm-35 11l0 7 14 0-3 23 57 0-3 7-14 0 2 6 9 0 6-1 4-2 4-10 12 0 0-7-12 0 2-16 14 0 0-7-14 0 1-22-61 0-2 22zm69 23l-17 0 4-4-19-12 33 0zm-37-12l18 12-30 0 2-16 15 0zm-9-61l-10 19-13 15 7 5 15-21 66 0 0-7-62 0 5-8z"/><path id="ja" d="m15-79l0 40-2 18-5 17-5 8 6 5 9-18 3-20 1-43 58 0 0 71-2 2-14 0 2 7 14-1 6-2 2-7 0-77zm32 9l0 8-18 0 0 6 18 0 0 10-21 0 0 6 49 0 0-6-21 0 0-10 19 0 0-6-19 0 0-8zm-16 39l0 32 7 0 0-6 32 0 0-26zm7 6l25 0 0 14-25 0z"/><path id="jb" d="m12 7l34-12-1-8-24 8 0-41 25 0 0-7-25 0 0-30-8 0 0 76-2 5-2 3zm41-91l1 84 2 3 5 2 25 0 5-6 3-21-7-3-2 19-2 4-20 0-2-4 0-32 32-21-7-7-25 20 0-38z"/><path id="jc" d="m46-84l-14 13-21 12 5 5 24-14 28 0-9 8-11 8-13-9-5 4 12 8-17 7-17 4 3 7 27-9 12-6 12-7 10-9 8-11-5-3-28 1 7-7zm16 35l-16 15-26 13 5 6 17-9 14-9 27 0-5 7-16 12-12-10-6 3 12 10-23 8-25 4 3 7 34-7 16-6 13-8 12-11 8-13-5-3-25 0 6-8z"/><path id="jd" d="m85-48l-25 16 0-24-8 0 0 28-15 7 3 5 12-5 0 19 3 6 2 1 27 1 7-1 2-3 3-15-7-3-1 12-3 3-22 0-2-1-1-2 0-21 31-17zm-54-8l-12 17-14 13 6 5 11-9 0 38 7 0 0-48 9-14zm32-28l0 10-25 0 0-10-8 0 0 10-24 0 0 7 24 0 0 9 8 0 0-9 25 0 0 9 7 0 0-9 24 0 0-7-24 0 0-10z"/><path id="je" d="m56-21l0 7-4 8-10 7-19 0-7-1-7-6-4-11 0-10 7-9 8-3-9-6-4-8 1-10 6-9 8-4 13-1 9 2 7 6 4 9 0 9-6 9-8 3 7 2 6 4 2 6zm-12-36l-3-9-10-3-11 3-2 3-1 6 1 7 2 3 11 3 10-2 3-4zm2 35l-1-7-3-4-4-2-7-1-7 1-6 3-3 4-1 6 2 9 2 3 3 2 9 1 7 0 6-3 2-6z"/><path id="jf" d="m46-55l0 63 8 0 0-63zm5-29l-6 8-15 15-26 16 5 7 22-14 19-19 20 20 21 13 6-6-15-9-14-10-14-14 3-4z"/><path id="jg" d="m46-83l0 81-2 2-17 0 3 8 19-1 4-3 1-4 0-83zm24 26l12 23 8 22 8-3-8-22-12-23zm-50-2l-6 22-11 19 7 4 12-20 7-24z"/><path id="jh" d="m47-45l16 24 6-4-15-23zm-15 5l0 23-17 0 0-23zm0-7l-17 0 0-22 17 0zm-24-29l0 74 7 0 0-9 24 0 0-65zm68-8l0 20-32 0 0 7 32 0 0 55-1 1-19 0 3 8 18-1 6-3 1-6 0-54 12 0 0-7-12 0 0-20z"/><path id="ji" d="m4-6l2 7 33-9-1-6zm2-36l16-3-12 16-6 4 2 7 31-7 0-7-20 4 21-29-6-4-6 9-13 2 17-31-7-3-10 22-6 10-3 3zm73-15l-5 19-7 16-8-16-6-19zm-22-25l10 18-29 0 0 7 8 0 6 22 10 19-13 10-17 7 5 7 17-8 12-10 12 10 15 7 5-6-15-7-12-10 10-18 5-23 10 0 0-7-28 0 6-3-5-8-6-9z"/><path id="jj" d="m73-24l0 6 12 0 0 14-16 0 0-50 26 0 0-6-26 0 0-13 21-4-4-6-21 4-25 2 2 6 20-1 0 12-25 0 0 6 25 0 0 50-16 0 0-14 12 0 0-6-12 0 0-12 12-4-3-7-15 6 0 49 6 0 0-5 39 0 0 5 7 0 0-51-19 0 0 6 12 0 0 13zm-57-60l0 20-11 0 0 7 11 0 0 23-12 3 2 7 10-3 0 27-9 1 2 7 9-1 4-2 1-6 0-28 11-3-1-7-10 3 0-21 10 0 0-7-10 0 0-20z"/><path id="jk" d="m24-41l53 0 0 15-53 0zm0-7l0-15 53 0 0 15zm0 29l53 0 0 14-53 0zm22-65l-4 14-26 0 0 78 8 0 0-6 53 0 0 6 8 0 0-78-36 0 5-13z"/><path id="jl" d="m8-50l0 20 7 0 0-14 31 0 0 11-27 0 0 32 7 0 0-25 20 0 0 34 8 0 0-34 21 0 0 18-12 0 2 7 13-1 4-3 1-28-29 0 0-11 31 0 0 14 7 0 0-20zm64-34l0 12-18 0 0-12-8 0 0 12-17 0 0-12-8 0 0 12-16 0 0 6 16 0 0 11 8 0 0-11 17 0 0 10 8 0 0-10 18 0 0 11 7 0 0-11 16 0 0-6-16 0 0-12z"/><path id="jm" d="m17-40l-4 22 27 0-15 12-18 8 5 6 18-10 16-13 0 23 7 0 0-26 29 0-3 14-15 1 2 7 15-1 5-3 4-24-37 0 0-10 34 0 0-22-74 0 0 7 33 0 0 9zm6 6l23 0 0 10-24 0zm30-15l27 0 0 9-27 0zm-32-35l-7 13-9 11 6 4 11-14 5 0 5 12 7-2-4-10 16 0 0-5-26 0 3-8zm39 0l-6 13-8 10 7 4 9-13 6 0 8 13 7-3-6-10 18 0 0-5-31 0 3-8z"/><path id="jn" d="m47-45l13 9 3-4-12-9zm-7 9l13 10 4-5-13-9zm29 26l22 18 5-4-22-19zm-65 4l2 7 30-11-1-6zm36-53l0 6 45 0-4 12 6 2 7-19-5-2-20 1 0-9 19 0 0-7-19 0 0-9-7 0 0 9-18 0 0 7 18 0 0 9zm25 10l-1 24-26 0 0 7 23 0-8 11-17 10 4 5 20-12 9-14 25 0 0-7-23 0 1-24zm-59 7l16-3-12 15-5 5 2 7 28-9 0-6-17 4 19-30-6-4-6 11-11 2 16-31-7-3-10 23-6 9-3 3z"/><path id="jo" d="m25-24l-6 3 12 14-11 5-15 4 4 6 17-5 12-6 24 8 32 3 3-8-30-2-23-6 6-8 3-9 34 0 0-38-33 0 0-9 40 0 0-7-88 0 0 7 41 0 0 9-31 0 0 38 30 0-3 7-6 7zm-2-17l24 0-1 10-23 0zm31 10l0-10 26 0 0 10zm-31-26l24 0 0 10-24 0zm31 0l26 0 0 10-26 0z"/><path id="jp" d="m36-21l8 16 6-3-9-16zm-22-3l-10 17 5 4 11-19zm41-50l0 48-3 15-6 13 6 5 7-15 3-16 0-19 16 0 0 51 7 0 0-51 11 0 0-7-34 0 0-19 31-8-6-5zm-34-9l5 9-20 0 0 7 44 0 0-7-16 0-6-10zm17 16l-6 16-27 0 0 7 20 0 0 10-20 0 0 7 20 0 0 26-9 1 2 6 10-1 3-3 1-29 19 0 0-7-19 0 0-10 20 0 0-7-13 0 6-14zm-25 2l3 14 7-1-4-14z"/><path id="jq" d="m6-38l2-16 4-8 7-7 9-6 10-2 13 1 10 2 8 4 8 10-10 3-8-9-10-3-10 0-10 3-6 4-6 10-1 12 1 13 6 10 9 7 12 1 9-1 9-2 7-4 0-14-23 0 0-8 32 0 0 25-9 8-12 4-12 1-14-2-12-7-6-7-6-12z"/><path id="jr" d="m20-84l-8 10-9 10 4 6 11-11 9-13zm13 52l-2 23-6 12 5 5 7-14 2-20 13 0 0 14-2 4 2 6 16-11-2-6-8 5 0-18zm41-25l12 0-3 17-4 15-6-23zm-46 12l0 7 34 0 0-1 3 4 4-7 6 25-8 11-10 9 4 5 10-8 7-9 6 9 8 8 5-6-8-8-7-10 7-19 3-22 4 0 0-6-21 0 3-20-7-1-3 23-6 18 0-2zm2-31l0 24 32 0 0-24-6 0 0 18-7 0 0-26-6 0 0 26-7 0 0-18zm-8 12l-9 15-11 13 4 7 9-10 0 47 7 0 0-57 7-13z"/><path id="js" d="m17-63l10 23 7-2-10-23zm59-3l-11 24 6 2 12-23zm-71 31l0 8 41 0 0 35 8 0 0-35 41 0 0-8-41 0 0-35 35 0 0-7-79 0 0 7 36 0 0 35z"/><path id="jt" d="m29-24l0 23 3 5 6 2 25 0 7-1 2-2 3-14-7-3-1 11-3 2-26-1-2-2 0-20zm9-4l21 15 5-5-21-15zm36 5l14 25 7-3-6-12-8-13zm-58-2l-5 13-6 11 7 4 6-12 4-13zm-2-55l0 46 71 0 0-46zm8 26l24 0 0 13-24 0zm31 0l24 0 0 13-24 0zm-31-19l24 0 0 13-24 0zm31 0l24 0 0 13-24 0z"/><path id="ju" d="m5-35l0 7 11 0 0 22-4 7 4 6 19-15-2-6-10 7 0-21 11 0 0-7-11 0 0-13 10 0 0-7-24 0 7-11 17 0 0-7-14 0 3-10-6-1-6 14-7 12 4 6 2-2 0 6 7 0 0 13zm53-41l0 5 12 0 0 8-15 0 0 6 15 0 0 8-12 0 0 6 12 0 0 7-12 0 0 6 12 0 0 9-15 0 0 5 15 0 0 13 6 0 0-13 18 0 0-5-18 0 0-9 16 0 0-6-16 0 0-7 14 0 0-14 6 0 0-6-6 0 0-13-14 0 0-8-6 0 0 8zm18 19l9 0 0 8-9 0zm0-6l0-8 9 0 0 8zm-39 22l1-1 11 0-4 21-4-12-5 2 6 17-6 10-7 7 4 5 7-6 6-10 5 5 11 7 12 2 20 1 2-7-21 0-11-2-11-7-4-5 4-15 2-19-11-1 12-27-4-3-17 1 0 7 12 0-8 19-5 6z"/><path id="jv" d="m15-73l18 0 0 17-18 0zm54-4l15 9 4-5-14-8zm-65 73l2 7 36-12-2-6-12 4 0-18 11 0 0-6-11 0 0-14 12 0 0-31-32 0 0 31 13 0 0 40-6 2 0-33-6 0 0 34zm85-31l-16 17-4-18 25-5-1-7-25 5-1-13 24-4-1-7-24 4 0-21-7 0 0 22-14 2 1 7 14-2 1 13-18 4 1 6 18-3 5 22-13 7-14 6 4 6 26-12 4 7 5 5 7 2 5-2 4-4 1-9-5-4-2 11-4 0-4-2-5-9 10-10 9-11z"/><path id="jw" d="m68-67l-7 15-28 0 6-2-7-13zm-24-16l2 9-36 0 0 7 22 0-7 2 6 13-23 0 0 20 7 0 0-14 70 0 0 14 7 0 0-20-23 0 6-13-6-2 22 0 0-7-37 0-3-11zm-26 49l0 34 8 0 0-27 20 0 0 35 8 0 0-35 21 0 0 19-14 1 2 7 14-1 4-3 1-30-28 0 0-9-8 0 0 9z"/><path id="jx" d="m59-32l10 11 5-3-10-11zm-36 12l0 7 55 0 0-7-25 0 0-16 20 0 0-7-20 0 0-14 23 0 0-7-52 0 0 7 22 0 0 14-19 0 0 7 19 0 0 16zm-14-60l0 88 7 0 0-5 68 0 0 5 7 0 0-88zm7 76l0-68 68 0 0 68z"/><path id="jy" d="m63-52l20 17 6-5-20-16zm-31-32l0 48 7 0 0-48zm-20 4l0 41 7 0 0-41zm50-4l-8 21-11 17 6 4 13-21 32 0 0-7-29 0 4-12zm-46 54l0 28-11 0 0 7 91 0 0-7-11 0 0-28zm7 28l0-22 13 0 0 22zm20 0l0-22 14 0 0 22zm21 0l0-22 14 0 0 22z"/><path id="jz" d="m25-35l50 0 0 28-50 0zm0-8l0-27 50 0 0 27zm-7-34l0 84 7 0 0-7 50 0 0 6 8 0 0-83z"/><path id="jA" d="m27-26l0 26 3 4 7 2 27 1 8-2 2-2 4-13-7-3-2 11-3 2-30-1-2-3 0-22zm11-6l22 18 6-5-23-17zm36 9l13 27 8-4-14-26zm-59-2l-4 13-6 12 7 3 6-12 4-13zm31-59l0 14-40 0 0 8 40 0 0 17-34 0 0 7 77 0 0-7-35 0 0-17 41 0 0-8-41 0 0-14z"/><path id="jB" d="m28-20l1 19 2 5 3 1 33 1 5-3 2-3 1-10-7-3-1 10-2 2-28-1-1-2 0-16zm13-3l14 14 6-4-14-14zm36 3l11 20 7-3-12-20zm-63-1l-9 20 6 4 10-22zm44-36l25 0 0 9-25 0zm0 15l25 0 0 9-25 0zm0-30l25 0 0 9-25 0zm-7-7l0 53 39 0 0-53zm-27-5l0 15-18 0 0 7 16 0-8 14-11 11 5 6 8-9 8-12 0 26 7 0 0-24 13 11 4-6-17-12 0-5 16 0 0-7-16 0 0-15z"/><path id="jC" d="m26-84l-9 11-12 10 4 6 13-11 11-13zm12 5l0 7 39 0-6 7-15 11-25 12 5 6 14-6 15-9 27 14 4-6-25-12 10-10 8-11-6-3zm0 46l0 7 22 0 0 24-28 0 0 7 64 0 0-7-28 0 0-24 22 0 0-7zm-11-29l-10 15-13 13 4 7 10-10 0 45 8 0 0-54 8-13z"/><path id="jD" d="m31-42l0 15 6 0 0-10 51 0 0 10 7 0 0-15zm10-25l0 5 39 0 0 8-42 0 0 5 49 0 0-31-49 0 0 5 42 0 0 8zm36 43l-6 8-8 6-8-6-6-8zm-37-6l0 6 4 0-2 1 4 6 11 11-13 5-14 3 3 6 16-4 14-6 12 6 15 4 4-6-13-3-12-5 10-10 7-12-4-2zm-13-54l-11 22-14 18 4 8 10-13 0 57 8 0 0-68 10-22z"/><path id="jE" d="m18-84l0 20-12 0 0 7 12 0 0 22-14 4 2 7 12-3 0 26-2 1-9 0 3 7 9 0 5-3 1-5 0-29 12-3-1-7-11 3 0-20 11 0 0-7-11 0 0-20zm20 59l0 7 17 0 0 26 7 0 0-91-7 0 0 16-15 0 0 7 15 0 0 14-15 0 0 7 15 0 0 14zm34-58l0 91 7 0 0-26 17 0 0-7-17 0 0-14 15 0 0-7-15 0 0-14 16 0 0-7-16 0 0-16z"/><path id="jF" d="m12-77l0 8 35 0 0 25-41 0 0 7 41 0 0 36-21 1 3 8 19-1 6-4 1-6 0-34 40 0 0-7-40 0 0-25 33 0 0-8z"/><path id="jG" d="m30-46l0 7 57 0 0-7zm-9-27l60 0 0 12-60 0zm-8-6l-1 56-5 19-4 8 7 4 4-9 5-20 2-33 68 0 0-25zm16 85l51-4 4 7 7-3-16-25-6 3 8 12-39 2 15-20 41 0 0-6-70 0 0 6 20 0-11 15-7 6z"/><path id="jH" d="m57-6l31 14 7-5-33-14zm-21-6l-14 8-18 6 5 6 18-7 16-8zm33-72l0 12-38 0 0-12-7 0 0 12-16 0 0 7 16 0 0 45-19 0 0 6 90 0 0-6-19 0 0-45 16 0 0-7-16 0 0-12zm-38 64l0-12 38 0 0 12zm0-45l38 0 0 10-38 0zm0 16l38 0 0 11-38 0z"/><path id="jI" d="m23-53l0 45 1 8 2 3 9 2 37 1 10-2 3-3 2-3 3-12-8-4-2 13-5 3-34 0-9-1-1-3-1-18 26-7 23-9-6-6-19 8-24 7 0-22zm20-30l5 13-39 0 0 20 7 0 0-13 67 0 0 13 8 0 0-20-36 0 2-1-1-2-6-12z"/><path id="jJ" d="m18-62l20 0 0 8-20 0zm0-12l20 0 0 7-20 0zm-7-6l0 32 34 0 0-32zm59 27l-2 22-3 8-4 6-6 5-9 4 3 5 10-4 7-6 5-7 3-9 2-24zm3 34l18 16 4-5-18-15zm-61-11l-2 19-7 15 6 4 4-8 3-10 11 10 15 5 52 1 2-7-46 0-18-3 0-15 16 0 0-5-16 0 0-11 18 0 0-6-45 0 0 6 20 0 0 27-7-10 1-12zm42-34l0 42 6 0 0-36 24 0 0 36 7 0 0-42-19 0 4-9 20 0 0-6-46 0 0 6 18 0-3 9z"/><path id="jK" d="m7-29l2-20 7-16 11-14 10 0-9 11-7 12-3 13-1 14 1 14 3 13 7 12 9 12-10 0-11-15-7-16z"/><path id="jL" d="m30-29l-2 20-7 16-11 15-9 0 9-12 6-12 3-13 1-14-1-14-3-13-6-12-9-11 9 0 11 14 7 18z"/><path id="jM" d="m21-12l0 14-2 9-2 3-7 0 3-8 2-7-6 0 0-12z"/><path id="jN" d="m46-84l0 25-39 0 0 7 35 0-17 25-15 13-7 5 5 6 7-5 14-12 17-24 0 52 8 0 0-52 17 24 20 17 6-6-22-18-18-25 37 0 0-7-40 0 0-25z"/><path id="jO" d="m6-20l0 7 65 0 0-7zm17-43l-4 31 65 0-3 23-4 9-20 0 2 8 18 0 5-2 3-4 3-9 4-32-18 0 4-39-65 0 0 7 57 0-3 32-39 0 2-24z"/><path id="jP" d="m5-62l8 19 6-3-9-18zm29 22l0 48 7 0 0-42 17 0-3 13-7 7-6 4 5 5 10-8 6-9 15 16 4-4-17-18 1-6 19 0 0 34-13 1 2 7 11-1 6-2 1-5 0-40-26 0 0-10 29 0 0-7-63 0 0 7 27 0 0 10zm18-43l4 10-36 0 0 39-17 9 3 7 13-8-4 15-9 14 6 5 6-7 7-18 2-18 0-31 69 0 0-7-32 0-4-11z"/><path id="jQ" d="m24-61l0 5 31 0 0-5zm2 42l0 20 3 4 7 2 32 0 6-3 1-3 2-9-7-3-1 10-3 2-31-1-1-2 0-17zm16-1l13 15 6-3-14-15zm34 4l11 19 7-3-11-18zm-61 0l-10 18 7 3 9-19zm16-28l16 0 0 10-16 0zm-6-6l0 22 28 0 0-22zm-12-24l-2 32-7 18 6 4 3-6 5-13 2-29 39 0 3 17 4 13-13 11 5 5 12-9 7 7 6 3 6 0 4-3 3-14-6-3-1 10-3 3-6-2-5-7 8-11 6-13-7-2-10 19-6-24 29 0 0-6-12 0 4-3-13-7-4 3 11 7-16 0-1-10-7 0 1 10z"/><path id="jR" d="m4-64l18 7 3-5-17-7zm7-14l17 7 4-5-18-7zm-4 40l5 5 18-19-5-4zm39-2l0 11-40 0 0 7 34 0-17 13-19 9 5 6 20-11 17-15 0 28 8 0 0-28 17 15 20 11 5-7-20-8-16-13 34 0 0-7-40 0 0-11zm6-44l-1 11-17 0 0 7 16 0-8 16-4 4-11 6 5 6 12-8 5-5 3-5 5-14 14 0 0 22 2 5 4 1 8 1 8-3 2-3 1-10-7-4-1 12-9 1-1-29-20 0 1-11z"/><path id="jS" d="m65-84l0 23-14 0 0 7 14 0-3 23-2 10-9 17-7 7 6 5 7-7 10-19 2-11 3-25 14 0-1 30-1 16-2 7-3 2-13-1 2 7 17-1 3-2 2-9 3-56-21 0 0-23zm-57 36l0 24 18 0 0 8-22 0 0 6 22 0 0 18 7 0 0-18 21 0 0-6-21 0 0-8 18 0 0-24-18 0 0-6 11 0 0-14 9 0 0-6-9 0 0-10-7 0 0 10-15 0 0-10-7 0 0 10-10 0 0 6 10 0 0 14 11 0 0 6zm29-20l0 8-15 0 0-8zm-23 26l12 0 0 12-12 0zm19 0l11 0 0 12-11 0z"/><path id="jT" d="m23-84l-7 25-12 19 6 5 8-12 6-15 20 0-8 28-15-11-5 5 16 13-12 17-16 11 6 6 10-7 9-9 8-11 7-13 5-16 3-18-5-2-20 0 4-14zm38 0l0 92 8 0 0-55 21 21 7-5-25-23-3 2 0-32z"/><path id="jU" d="m26-21l14 17 6-4-15-17zm39-21l0 10-58 0 0 7 58 0 0 24-17 0 2 8 19-2 2-1 2-4 0-25 23 0 0-7-23 0 0-10zm-45-23l0 6 54 0 0 10-57 0 0 6 65 0 0-37-65 0 0 6 57 0 0 9z"/><path id="jV" d="m68-78l13 15 6-4-14-15zm-49-6l0 20-14 0 0 7 14 0 0 22-16 4 3 7 13-4 0 27-2 1-10 0 2 7 10 0 6-3 1-6 0-28 14-4-1-7-13 4 0-20 12 0 0-7-12 0 0-20zm64 38l-14 21-6-26 31-3-1-7-31 3-1-26-8 0 2 27-15 1 0 7 16-1 6 32-12 10-13 7 5 5 12-6 11-9 6 10 7 6 8 3 5-2 3-7 3-13-6-4-2 13-3 4-8-5-7-11 10-12 8-14z"/><path id="jW" d="m54-16l20 11 15 12 5-6-16-12-20-11zm-35-58l23 12 4-6-23-12zm-9 18l23 13 5-6-23-12zm-4 18l0 7 42 0-7 14-6 6-18 9-11 3 4 7 13-4 19-12 6-7 8-16 39 0 0-7-37 0 3-45-8 0 0 24-3 21z"/><path id="jX" d="m57-29l27 0 0 10-27 0zm0-6l0-10 27 0 0 10zm0 22l27 0 0 10-27 0zm-7-39l0 60 7 0 0-4 27 0 0 3 7 0 0-59zm-32-32l-6 14-8 12 6 4 9-14 4 0 5 12-4 0 0 12-18 0 0 7 16 0-8 16-11 13 5 5 16-22 0 33 7 0 0-34 11 13 5-5-16-15 0-4 16 0 0-7-16 0 0-11 4-2-4-11 18 0 0-6-27 0 4-9zm40 0l-6 14-9 11 6 5 10-14 6 0 8 14 6-3-6-11 22 0 0-6-33 0 3-9z"/><path id="jY" d="m31-78l25 19 5-6-25-19zm-16 24l-5 18-7 15 7 3 7-16 5-18zm59 7l9 16 7 16 7-3-7-16-9-16zm5-31l-17 27-23 25 0-34-8 0 0 40-28 16 5 6 23-13 1 13 4 4 29 1 8-2 3-3 4-18-8-4-2 16-3 3-22 1-6-2 0-15 19-17 16-20 13-21z"/><path id="jZ" d="m11-77l15 15 5-5-15-15zm34-4l9 16 7-3-9-16zm-26 87l20-17-3-6-9 7 0-43-23 0 0 8 16 0-1 38-4 8zm64-90l-10 19-33 0 0 7 23 0 0 14-20 0 0 7 20 0 0 14-25 0 0 7 25 0 0 24 7 0 0-24 25 0 0-7-25 0 0-14 20 0 0-7-20 0 0-14 23 0 0-7-12 0 9-17z"/><path id="ka" d="m4-5l1 7 36-7-1-7zm2-37l18-3-10 12-10 8 2 7 35-7-1-6-22 3 24-30-6-4-7 10-15 1 18-30-7-3-11 22-11 12zm59 35l-15 0 0-28 15 0zm7 0l0-28 14 0 0 28zm-29-72l0 85 7 0 0-6 36 0 0 6 7 0 0-85zm22 37l-15 0 0-29 15 0zm7 0l0-29 14 0 0 29z"/><path id="kb" d="m7-73l17 17 6-6-18-16zm-3 64l6 5 6-10 13-22-5-6zm40-63l38 0 0 27-38 0zm-7-7l0 41 11 0-1 10-4 15-4 6-6 5-9 4 5 6 9-5 7-5 5-7 3-9 3-20 12 0 0 40 6 4 13 0 6-1 3-6 1-12-7-3-1 13-1 2-12 0-1-3 0-34 15 0 0-41z"/><path id="kc" d="m7-76l10 16 6-3-10-16zm39 41l-1 8-39 0 0 6 37 0-7 10-5 4-16 7-11 2 4 6 11-3 17-7 6-4 8-12 4 7 12 10 7 4 19 4 4-6-18-4-7-3-11-9-4-6 38 0 0-6-41 0 1-8zm-41-12l3 6 20-11 0 17 7 0 0-49-7 0 0 25zm55-37l-9 11-12 9 5 6 13-11 28 0-6 10-9 7-13-12-6 3 13 12-13 5-13 3 4 6 23-7 9-5 9-7 7-9 4-11-4-2-27 0 4-6z"/><path id="kd" d="m68-82l0 23-12 0 0 7 11 0-4 32-7 17-6 6 6 5 6-7 7-19 5-34 12 0-1 38-3 14-14 1 2 7 15-1 3-3 3-8 2-55-19 0 1-23zm-58 4l0 51-2 16-5 15 6 4 5-16 3-17 0-29 11 0-3 33-6 18-5 7 6 5 7-12 5-15 2-17 11 0-3 32-2 3-10 0 2 6 13-1 2-2 2-6 3-39-18 0 1-12 19 0 0-6-37 0 0-11 40 0 0-7z"/><path id="ke" d="m28-52l44 0 0 12-44 0zm-8-7l0 67 8 0 0-5 48 0 0 4 7 0 0-31-55 0 0-9 52 0 0-26zm8 42l48 0 0 14-48 0zm17-66l3 9-40 0 0 17 7 0 0-10 70 0 0 10 7 0 0-17-36 0-4-10z"/><path id="kf" d="m28-70l7 15 5-2-7-14zm38-1l-8 15 5 2 9-15zm-32 62l2 16 7-1-2-16zm21 0l5 16 7-1-5-16zm20 0l13 17 7-3-13-17zm-58-3l-5 10-6 7 7 3 6-8 5-10zm6-62l23 0 0 22-23 0zm31 0l23 0 0 22-23 0zm-48 52l0 6 89 0 0-6-41 0 0-9 32 0 0-7-32 0 0-8 30 0 0-34-68 0 0 34 30 0 0 8-32 0 0 7 32 0 0 9z"/><path id="kg" d="m28-46l44 0 0 10-44 0zm-7-5l0 20 58 0 0-20zm29-34l-5 6-14 11-28 12 5 6 22-10 0 3 40 0 0-4 22 10 5-6-31-14-12-8 3-3zm-15 22l15-11 17 11zm-20 39l0 23-9 0 0 7 89 0 0-7-10 0 0-23zm7 23l0-17 14 0 0 17zm21 0l0-17 14 0 0 17zm21 0l0-17 14 0 0 17z"/><path id="kh" d="m52-13l30 0 0 10-30 0zm0-6l0-10 30 0 0 10zm-7-16l0 43 7 0 0-4 30 0 0 4 8 0 0-43zm15-47l4 10-23 0 0 6 52 0 0-6-21 0-4-12zm19 17l-5 15-19 0 4-1-5-14-6 2 4 13-14 0 0 7 58 0 0-7-15 0 6-14zm-51 24l0 23-14 0 0-23zm0-7l-14 0 0-22 14 0zm-20-29l0 74 6 0 0-8 20 0 0-66z"/><path id="ki" d="m23-55l0 7 54 0 0-7zm-17 19l0 7 26 0-2 15-3 5-5 5-8 3-10 3 4 6 11-3 8-4 6-6 4-6 3-18 18 0 0 29 2 4 2 2 26 0 5-3 1-3 2-11-7-3-1 11-2 2-20 0-1-28 29 0 0-7zm36-47l5 11-39 0 0 22 8 0 0-15 68 0 0 15 8 0 0-22-36 0-6-13z"/><path id="kj" d="m18-84l0 20-13 0 0 7 13 0 0 22-15 4 3 7 12-4 0 27-2 1-10 0 2 7 11 0 5-3 2-6 0-28 12-4-1-6-11 3 0-20 11 0 0-7-11 0 0-20zm23 90l23-11-2-7-13 6 0-39 14 0 0-7-14 0 0-31-8 0 0 75-1 5-2 3zm48-67l-15 13 0-34-7 0 0 80 2 5 4 2 17 0 2-1 3-6 1-10-7-4-2 14-11 0-2-3 0-35 20-16z"/><path id="kk" d="m18-29l16 22 7-5-17-20zm43-30l0 14-55 0 0 7 55 0 0 37-19 1 3 7 17 0 6-4 1-41 25 0 0-7-25 0 0-14zm-18-24l5 11-40 0 0 20 8 0 0-13 68 0 0 13 8 0 0-20-36 0-6-12z"/><path id="kl" d="m14-63l6 17 7-2-6-16zm49-16l0 87 6 0 0-80 17 0-11 27 9 13 2 7 0 8-4 3-10 0 2 8 10-1 5-1 3-4 2-10-3-11-9-13 13-30-5-3zm-38-4l4 11-21 0 0 7 47 0 0-7-18 0-6-12zm18 18l-7 20-31 0 0 7 53 0 0-7-15 0 8-18zm-32 36l0 36 7 0 0-4 27 0 0 4 8 0 0-36zm7 25l0-18 27 0 0 18z"/><path id="km" d="m65-74l17 0 0 9-17 0zm-23 0l16 0 0 9-16 0zm-24 0l17 0 0 9-17 0zm66 18l-11 9 0-5-22 0 0-7 38 0 0-21-78 0 0 21 32 0 0 7-27 0 0 6 27 0 0 7-37 0 0 7 41 0-22 7-22 6 4 7 20-6 0 26 7 0 0-3 44 0 0 3 7 0 0-34-37 0 14-6 33 0 0-7-23 0 18-13zm-24 17l-9 0 0-7 21 0zm-26 31l44 0 0 7-44 0zm0-6l0-6 44 0 0 6z"/><path id="kn" d="m15-64l8 18 7-2-9-18zm63-3l-10 19 6 3 12-19zm-52 43l1 23 2 5 7 2 33 0 5-3 2-3 1-10-7-2-1 9-3 2-31 0-1-3 0-20zm14-5l16 20 6-4-16-19zm34 5l13 26 7-2-13-27zm-59 0l-4 13-6 12 7 3 10-26zm-9-16l0 7 88 0 0-7-30 0 0-33 26 0 0-6-80 0 0 6 26 0 0 33zm37-33l13 0 0 33-13 0z"/><path id="ko" d="m8-75l21 11 4-6-21-10zm-3 25l2 7 28-9-1-6zm13 13l0 28 8 0 0-21 49 0 0 20 8 0 0-27zm29 10l-5 14-5 5-8 4-10 4-14 2 3 6 15-3 12-4 8-5 6-6 6-17zm5 19l37 16 5-7-38-14zm-4-76l-5 11-11 11 6 5 10-12 12 0-8 14-11 8-8 3 4 5 16-8 10-11 12 11 15 7 5-6-17-6-12-12 2-5 15 0-5 9 7 2 8-16-6-1-35 0 4-8z"/><path id="kp" d="m45-80l9 18 6-4-9-16zm-2 46l0 7 43 0 0-7zm-8 29l0 8 60 0 0-8zm4-56l0 7 53 0 0-7-17 0 11-20-8-2-10 22zm-21-23l0 21-13 0 0 7 13 0 0 22-15 4 2 7 13-4 0 27-2 1-10 0 2 7 10 0 5-3 2-6 0-28 12-3-1-7-11 3 0-20 11 0 0-7-11 0 0-21z"/><path id="kq" d="m72-78l15 14 5-4-14-14zm-41 28l5 8-14 0 4-8-6-2-7 13-9 10 5 4 5-5 0 36 6 0 0-5 33 0-3 2 5 5 15-14 4 7 5 4 6 2 6-2 3-6 2-12-6-3-1 12-3 4-6-4-5-9 9-15 6-17-7-2-11 25-4-31 27 0 0-7-27 0-1-24-7 0 0 24-25 0 0-8 19 0 0-7-19 0 0-9-7 0 0 9-18 0 0 7 18 0 0 8-23 0 0 7 56 0 2 22 4 17-11 13 0-5-15 0 0-6 13 0 0-6-13 0 0-6 13 0 0-5-13 0 0-7 15 0 0-6-13 0-6-10zm3 26l0 6-14 0 0-6zm0-5l-14 0 0-7 14 0zm0 17l0 6-14 0 0-6z"/><path id="kr" d="m8-77l14 16 6-5-15-15zm31 3l0 65 50 0 0-29-43 0 0-9 40 0 0-27-23 0 4-9-8-2-3 11zm7 7l32 0 0 13-32 0zm0 36l36 0 0 16-36 0zm-20-18l-21 0 0 7 14 0 0 33-14 10 4 6 8-7 6-3 12 6 8 2 52 0 2-8-49 2-12-2-10-6z"/><path id="ks" d="m50-54l0 7 36 0 0-7zm1 32l-14 20 6 4 15-22zm27 2l12 21 7-3-13-20zm-63-53l16 0 0 17-16 0zm27 38l0 6 23 0 0 29-12 1 3 7 11-1 4-3 1-33 24 0 0-6zm18-47l5 11-23 0 0 16 7 0 0-10 38 0 0 10 7 0 0-16-21 0-6-13zm-57 78l2 7 35-11-1-6-11 3 0-18 11 0 0-6-11 0 0-14 10 0 0-31-30 0 0 31 14 0 0 40-7 2 0-33-7 0 0 34z"/><path id="kt" d="m29-81l7 15 6-2-8-15zm-23 3l14 11 4-5-13-11zm-2 28l14 9 5-5-15-9zm0 53l7 3 4-9 8-22-6-4zm64-84l-1 54-3 17-8 15 5 3 3-5 5-11 4-18 13 0 0 27-10 0 2 7 8-1 5-2 1-4 0-82zm6 7l12 0 0 17-12 0zm0 23l12 0 0 18-12 0zm-47-1l0 29 13 0-5 13-10 12 5 4 11-14 5-15 9 0 0 4 6 0 0-33-6 0 0 23-8 0 0-30 17 0 0-7-11 0 7-16-7-2-6 18-22 0 0 7 16 0 0 30-8 0 0-23z"/><path id="ku" d="m42-84l-3 11-25 0 0 7 23 0-3 12-28 0 0 8 25 0-6 18 46 0-19 19-22-7-4 5 24 9 21 10 4-6-16-8 27-26-6-4-45 1 4-11 54 0 0-8-52 0 4-12 41 0 0-7-39 0 3-10z"/><path id="kv" d="m65-33l0 11-32 0 1-11-8 0 0 11-21 0 0 6 20 0-6 10-14 9 5 5 7-3 9-8 7-13 32 0 0 24 8 0 0-24 22 0 0-6-22 0 0-11zm-51-43l0 32 4 5 10 2 47 0 10-1 6-4 2-9-7-2-3 8-4 1-49 1-6-1-2-3 0-8 61 0 0-24-69 0zm8 3l54 0 0 11-54 0z"/><path id="kw" d="m40-28l12 20 6-4-12-19zm33-26l0 11-39 0 0 7 39 0 0 36-18 0 3 8 14-1 7-2 2-7 0-34 13 0 0-7-13 0 0-11zm-47-1l-10 16-12 13 5 6 10-10 0 38 7 0 0-48 7-13zm-8-29l-6 14-8 12 6 4 9-14 5 0 7 14 6-3-5-11 16 0 0-6-26 0 4-9zm40 0l-7 14-9 11 7 5 10-14 7 0 7 12 6-3-6-9 20 0 0-6-31 0 3-9z"/><path id="kx" d="m46-30l0 15-28 0 0-15zm-32-42l0 27 32 0 0 8-36 0 0 33 8 0 0-5 28 0 0 17 8 0 0-17 28 0 0 5 8 0 0-33-36 0 0-8 32 0 0-27-32 0 0-12-8 0 0 12zm40 42l28 0 0 15-28 0zm-32-36l24 0 0 14-24 0zm32 0l24 0 0 14-24 0z"/><path id="ky" d="m34-84l-11 13-18 12 5 5 6-4 0 17 17 0-12 6-15 4 4 6 15-5 12-7 7 5-16 8-18 6 4 6 18-7 16-9 4 5-20 12-24 8 5 6 22-9 20-11 1 6-2 8-5 3-13 0 2 7 16-1 6-5 2-3 1-9-3-10 6-3 9 15 15 12 5-7-14-10-9-13 14-8-6-5-22 14-7-8-9-7 43 0 0-23-27 0 8-10-5-4-23 1 4-6zm-2 13l23 0-6 7-25 0zm-9 13l27 0-9 11-18 0zm34 0l21 0 0 11-29 0z"/><path id="kz" d="m46-35l0 7-40 0 0 8 40 0 0 20-19 1 3 7 17-1 6-3 1-24 40 0 0-8-40 0 0-4 13-6 11-9-4-4-51 1 0 6 41 0zm-4-47l8 15-22 0 4-2-10-14-6 3 9 13-17 0 0 19 7 0 0-13 70 0 0 13 8 0 0-19-17 0 10-14-8-2-10 16-16 0 5-2-6-13-2-3z"/><path id="kA" d="m16-37l0 45 8 0 0-5 52 0 0 5 8 0 0-45-30 0 0-22 41 0 0-7-41 0 0-18-8 0 0 18-41 0 0 7 41 0 0 22zm8 33l0-26 52 0 0 26z"/><path id="kB" d="m10-69l0 77 7 0 0-70 27 0-7 14-16 9 5 6 14-8 8-11 25 17 5-5-27-18 1-4 31 0 0 62-17 0 2 8 14 0 7-3 1-7 0-67-36 0 2-15-8 0-2 15zm37 29l-7 17-11 9-8 4 4 6 6-3 9-6 9-10 23 19 5-6-25-19 3-11z"/><path id="kC" d="m68-77l12 11 5-4-12-11zm20 42l-16 17-4-17 26-5-2-7-26 5-1-13 25-4-1-7-25 4-1-22-7 0 1 23-17 2 1 7 16-2 2 13-19 4 2 7 18-4 6 20-14 8-16 6 4 6 29-13 4 8 6 5 6 2 6-2 3-6 2-12-6-4-1 13-3 4-6-4-5-9 11-9 8-11zm-69-49l0 19-13 0 0 7 13 0-7 20-9 17 4 7 7-12 5-14 0 48 7 0 0-52 7 14 5-6-12-18 0-4 11 0 0-7-11 0 0-19z"/><path id="kD" d="m56-70l28 0 0 30-28 0zm-8-7l0 44 43 0 0-44zm28 57l13 27 7-3-13-27zm-20-3l-5 15-9 12 6 4 9-13 7-16zm-52 9l1 8 27-5 0 19 7 0 0-20 7-1-1-7-6 1 0-54 6 0 0-7-40 0 0 7 5 0 0 59zm13-59l15 0 0 14-15 0zm0 21l15 0 0 14-15 0zm0 20l15 0 0 14-15 2z"/><path id="kE" d="m38-28l23 8 3-5-23-7zm-10 13l40 9 4-6-41-8zm-20-65l0 88 8 0 0-4 68 0 0 4 8 0 0-88zm8 77l0-70 68 0 0 70zm25-68l-9 12-13 9 5 5 10-7 10 9-27 8 4 7 15-5 15-7 27 10 4-5-25-8 10-8 8-10-4-2-27 0 4-6zm-3 15l26-1-13 11z"/><path id="kF" d="m24-28l0 36 7 0 0-16 13 0 0 14 6 0 0-14 13 0 0 14 6 0 0-14 14 0 0 10-11 0 2 6 11-1 4-2 1-33zm7 14l0-8 13 0 0 8zm52 0l-14 0 0-8 14 0zm-33 0l0-8 13 0 0 8zm-27-36l57 0 0 10-57 0zm23-12l3 6-33 0 0 23-2 15-5 14-5 7 6 5 5-7 5-14 3-21 64 0 0-22-29 0-5-8 5-6 9 0 7 10 6-2-5-8 19 0 0-6-32 0 3-7-7-1-6 10-8 9 4 2zm-28-22l-6 12-9 11 6 4 10-13 6 0 5 10 6-2-4-8 16 0 0-6-26 0 3-7z"/><path id="kG" d="m56-48l19 14 15 14 6-6-16-13-18-14zm-49-29l0 8 44 0-12 16-7 8-18 14-10 5 6 7 19-13 17-16 0 56 8 0 0-66 7-11 32 0 0-8z"/><path id="kH" d="m27-25l1 24 2 4 7 2 33 0 5-3 2-3 1-9-6-3-2 9-3 2-31 0-1-3 0-20zm15-7l14 18 6-4-15-17zm35 8l11 24 8-2-12-25zm-62-1l-11 23 7 3 11-23zm29-57l4 9-42 0 0 7 14 0 0 27 68 0 0-7-61 0 0-20 66 0 0-7-37 0-6-11z"/><path id="kI" d="m30-56l0 50 1 7 1 3 7 2 25 0 8-2 5-8 1-14-7-4-2 17-3 4-24 0-4-2-1-53zm-16 7l-4 20-6 18 8 3 5-19 4-20zm62 1l8 19 5 19 8-4-6-18-8-19zm-42-28l27 23 5-5-27-22z"/><path id="kJ" d="m70-77l16 17 6-5-16-16zm13 34l-13 19-4-23 29 0 0-7-30 0-1-29-8 0 1 29-23 0 0-18 17-4-5-7-40 9 2 7 19-3 0 16-21 0 0 7 21 0 0 17-23 5 2 7 21-4 0 22-16 0 2 8 13 0 7-3 1-4 0-25 19-4-1-7-18 4 0-16 24 0 6 29-12 9-12 7 5 6 21-14 5 10 7 6 7 2 6-2 4-6 1-13-6-4-1 14-3 4-8-5-6-12 10-12 8-12z"/><path id="kK" d="m38-81l12 20 6-4-12-19zm-4 17l0 72 7 0 0-72zm24-16l0 6 27 0 0 73-2 2-13 0 2 7 16-2 3-2 1-3 0-81zm-36-3l-8 22-10 19 4 7 7-11 0 54 7 0 0-68 8-22z"/><path id="kL" d="m36-73l0 7 5 0-1 0 8 26 12 22-14 12-16 8 4 6 16-9 14-11 13 11 15 9 5-7-15-8-13-11 14-23 8-31-5-1zm11 7l36 0-8 23-11 19-10-19zm-17-17l-12 22-16 19 5 7 12-13 0 56 7 0 0-67 11-22z"/><path id="kM" d="m24-61l52 0 0 9-52 0zm0-13l52 0 0 8-52 0zm-8-6l0 33 67 0 0-33zm7 50l-7 19-12 14 5 5 9-8 7-11 10 11 13 5 46 1 2-7-41-1 0-13 33 0 0-7-33 0 0-11 39 0 0-7-88 0 0 7 41 0 0 30-8-3-6-5-5-8 3-10z"/><path id="kN" d="m14-77l0 38-1 17-5 18-4 7 7 5 4-9 5-18 2-19 0-31 72 0 0-8z"/><path id="kO" d="m42-82l4 7-38 0 0 21 8 0 0-14 69 0 0 14 7 0 0-21-37 0-5-10zm37 34l-22 17-10-16 7-5 25 0 0-7-58 0 0 7 23 0-17 9-19 6 4 5 29-11 5 6-18 9-20 7 4 6 19-7 18-10 3 7-21 13-25 9 4 6 23-9 20-12 0 11-4 6-4 2-11-1 2 8 15-2 6-4 2-4 2-11-2-12 5-3 11 19 10 9 7 4 5-6-6-3-11-9-10-18 15-11z"/><path id="kP" d="m64-45l1 46 5 4 15 0 6-1 3-6 1-12-6-3-1 13-2 2-13 0-2-1 0-42zm6-33l13 16 6-5-14-14zm-18-5l0 23-23 0 0 7 22 0-3 22-3 9-10 17-7 7 5 6 8-8 11-18 3-11 4-24 36 0 0-7-36 0 1-23zm-25-1l-10 22-13 18 4 8 8-11 0 55 8 0 0-67 10-23z"/><path id="kQ" d="m21-84l0 10-15 0 0 6 15 0 0 10-16 3 1 7 15-3 0 10-11 0 2 7 14-2 2-4 0-12 14-2 0-7-14 2 0-9 13 0 0-6-13 0 0-10zm21 49l-1 7-32 0 0 7 30 0-6 9-5 5-14 6-10 3 4 6 11-3 16-8 5-6 7-12 31 0-2 14-3 6-20 1 3 6 17 1 6-3 4-9 3-23-37 0 1-7-5 0 8-6 6-7 11 9 5-6-13-9 2-14 13 0 0 18 3 11 3 3 5 1 6-3 2-10-6-2 0 6-2 2-3-3-1-29-19 0 1-10-8 0 0 10-14 0 0 6 14 0-2 10-9-5-4 5 10 6-5 7-9 5z"/><path id="kR" d="m29 0l0 6 67 0 0-6zm27-52l15 0 0 5-15 0zm-6-4l0 13 27 0 0-13zm-7-4l41 0 0 21-41 0zm-6-5l0 31 54 0 0-31zm10 50l33 0 0 6-33 0zm0-10l33 0 0 5-33 0zm-7-5l0 25 47 0 0-25zm16-53l3 8-27 0 0 6 63 0 0-6-27 0-5-10zm-40-1l0 20-12 0 0 7 12 0 0 22-12 4 2 7 10-3 0 27-9 1 2 6 10 0 3-3 1-34 10-4-2-7-8 4 0-20 9 0 0-7-9 0 0-20z"/><path id="kS" d="m70-51l-2 28-2 10-5 7-7 5-10 4 4 5 11-4 7-6 5-8 3-11 2-30zm3 42l19 17 5-5-20-16zm-53-46l10 12 5-3-10-12zm33-6l0 47 7 0 0-41 25 0 0 41 7 0 0-47-19 0 4-11 18 0 0-6-44 0 0 6 19 0-4 11zm-26-23l-10 18-14 16 6 4 10-11 9-13 17 21 5-5-20-22 3-6zm-17 45l0 7 26 0-12 20-7-7-5 4 21 22 5-5-9-9 17-29-5-3z"/><path id="kT" d="m4-6l1 8 33-9 0-7zm2-36l17-3-13 15-6 4 2 8 32-8 0-6-20 3 22-30-6-4-7 11-13 1 16-30-7-3-10 22-6 9-4 3zm36-37l0 7 36 0-6 6-13 12-23 11 4 6 26-13 26 13 5-6-25-12 10-10 7-11-5-3zm1 46l0 7 20 0 0 24-26 0 0 7 59 0 0-7-26 0 0-24 21 0 0-7z"/><path id="kU" d="m40-56l-4 18-5 16-13-10 6-24zm-30 27l17 13-10 11-12 7 4 6 13-8 11-11 10 11 5-7-11-10 7-20 4-26-22-1 3-19-7-1-4 20-13 0 0 8 12 0zm43-44l0 79 7 0 0-8 25 0 0 6 7 0 0-77zm7 64l0-57 25 0 0 57z"/><path id="kV" d="m34-74l0 7 47 0 0 66-20 1 3 8 22-2 2-2 1-6 0-65 7 0 0-7zm10 28l17 0 0 21-17 0zm-7-7l0 42 7 0 0-7 24 0 0-35zm-10-31l-10 22-13 18 4 7 9-12 0 57 8 0 0-69 9-21z"/><path id="kW" d="m21-39l0 37-13 0 0 7 85 0 0-7-38 0 0-25 29 0 0-7-29 0 0-23-8 0 0 55-19 0 0-37zm29-46l-6 8-14 13-27 16 5 6 23-13 19-18 20 18 22 13 5-6-15-8-14-10-14-12 2-4z"/><path id="kX" d="m43-63l0 37 20 0-5 15-8-12-7 2 11 14-8 5-10 4 4 6 11-5 8-5 15 6 18 4 5-6-19-3-14-7 4-8 2-10 23 0 0-37-22 0 0-10 24 0 0-7-54 0 0 7 23 0 0 10zm7 21l14 0 0 10-14 0zm21 10l0-10 15 0 0 10zm-21-25l14 0 0 10-14 0zm21 0l15 0 0 10-15 0zm-66-22l0 7 13 0-6 22-9 17 4 8 5-8 0 36 6 0 0-8 20 0 0-43-20 0 7-24 14 0 0-7zm13 38l14 0 0 30-14 0z"/><path id="kY" d="m6-77l0 8 69 0-1 68-2 1-19 0 3 8 16-1 8-2 2-8 0-66 13 0 0-8zm17 29l26 0 0 24-26 0zm-7-7l0 46 7 0 0-8 34 0 0-38z"/><path id="kZ" d="m42-20l11 17 7-3-12-18zm-16-64l-10 11-12 10 4 6 14-11 10-13zm35 0l0 13-22 0 0 7 22 0 0 12-28 0 0 7 42 0 0 12-41 0 0 7 41 0 0 26-16 1 3 7 12-1 5-1 3-3 0-29 14 0 0-7-14 0 0-12 14 0 0-7-28 0 0-12 23 0 0-7-23 0 0-13zm-34 22l-11 15-13 13 4 7 11-11 0 46 8 0 0-55 8-12z"/><path id="la" d="m7-74l18 14 5-6-18-12zm36 51l1 6 31-2 1 5 6-2-7-17-5 1 3 8-8 0 0-12 19 0 0 25-12 1 3 5 10 0 5-2 1-5 0-30-26 0 0-6 22 0 0-33-50 0 0 33 21 0 0 6-25 0 0 36 7 0 0-30 18 0 0 12zm1-39l14 0 0 8-14 0zm21 0l15 0 0 8-15 0zm-21-14l14 0 0 8-14 0zm21 0l15 0 0 8-15 0zm-40 27l-20 0 0 7 13 0 0 32-14 12 5 6 7-9 6-3 14 7 8 3 15 1 35-1 2-8-47 2-12-3-12-7z"/><path id="lb" d="m13-81l8 15 6-3-8-14zm40 21l29 0 0 11-29 0zm-6-6l0 23 42 0 0-23zm-6-13l0 6 53 0 0-6zm23 49l0 10-16 0 0-10zm6 0l16 0 0 10-16 0zm-6 16l0 11-16 0 0-11zm6 0l16 0 0 11-16 0zm-64-51l0 7 25 0-13 18-16 15 4 7 13-12 0 38 7 0 0-43 11 11 4-6 0 38 7 0 0-5 38 0 0 5 8 0 0-44-53 0 0 6-13-12 12-21-4-3z"/><path id="lc" d="m51-16l10 22 6-3-10-21zm-22 23l24-9-1-7-15 5 0-24 25 0 6 18 8 12 5 4 5 1 5-2 2-2 3-14-6-3-2 12-2 2-3-1-9-13-4-14 22 0 0-7-24 0-1-18 21-3-6-6-52 5 0 52-1 3-3 3zm32-42l-24 0 0-16 22-1zm-13-47l4 8-40 0-1 54-4 17-4 7 6 4 4-8 5-18 1-49 76 0 0-7-35 0-5-10z"/><path id="ld" d="m4-5l2 7 33-9-1-6zm59-22l-2 15-8 8-20 6 5 6 12-4 14-9 5-10 1-12zm6 23l24 12 3-6-24-11zm-26-35l0 29 7 0 0-23 33 0 0 23 7 0 0-29zm-37-3l17-3-12 15-7 5 3 7 31-8 0-6-21 4 22-31-6-3-6 10-14 2 17-31-7-3-10 23-6 9-3 3zm57-42l0 9-22 0 0 6 22 0 0 6-19 0 0 5 19 0 0 7-25 0 0 6 58 0 0-6-26 0 0-7 21 0 0-5-21 0 0-6 24 0 0-6-24 0 0-9z"/><path id="le" d="m17-60l-6 12-7 10 5 4 8-11 6-13zm16 3l11 17 6-3-11-17zm-13-25l7 13-21 0 0 6 45 0 0-6-22 0 5-3-5-8-3-4zm-6 46l12 13-10 13-12 10 5 6 12-11 10-12 10 15 6-5-13-17 8-18-8-2-5 14-10-10zm52-23l16 0-3 19-6 15-10-27zm-2-25l-6 25-10 21 6 5 5-9 9 24-10 12-14 9 5 5 13-8 10-11 9 11 10 8 6-6-11-8-9-11 8-19 5-23 5 0 0-7-27 0 4-17z"/><path id="lf" d="m56-54l31 18 5-6-31-17zm-18-5l-13 10-17 8 5 6 17-9 14-10zm-30 57l0 7 85 0 0-7-39 0 0-26 28 0 0-6-64 0 0 6 28 0 0 26zm34-80l5 10-39 0 0 23 7 0 0-16 70 0 0 13 8 0 0-20-37 0-6-13z"/><path id="lg" d="m4-5l1 7 35-7-1-7zm52-21l21 11 5-5-21-11zm-11 18l22 7 18 9 4-6-18-8-21-7zm13-76l-8 14-13 14 2-3-6-4-7 11-13 2 17-31-7-3-10 22-6 9-4 3 3 8 16-3-12 15-6 5 2 7 32-6 0-7-22 3 21-28 5 5 11-10 10 14-12 8-13 6 5 6 13-6 12-9 12 9 13 6 5-6-13-6-11-8 9-11 7-13-5-3-24 0 5-9zm-1 17l23 0-12 15z"/><path id="lh" d="m78-84l0 22-30 0 0 7 27 0-15 23-18 18 5 6 17-16 14-21 0 44-2 1-16 0 3 8 16-1 5-3 2-59 10 0 0-7-10 0 0-22zm-55 0l0 21-17 0 0 8 16 0-8 21-11 16 4 8 8-14 8-16 0 48 7 0 0-52 12 16 5-6-17-19 0-2 14 0 0-8-14 0 0-21z"/><path id="li" d="m5-76l6 22 6-2-6-22zm33-2l-7 23 5 1 8-22zm14 6l15 13 4-6-16-12zm-6 26l17 12 4-6-17-12zm-41-4l0 7 14 0-7 17-9 14 4 7 7-13 7-15 0 41 7 0 0-41 10 17 5-6-15-21 16 0 0-7-16 0 0-34-7 0 0 34zm39 30l1 7 31-6 0 27 8 0 0-28 13-3-2-7-11 2 0-56-8 0 0 58z"/><path id="lj" d="m12-79l14 17 5-4-14-17zm-7 26l0 7 15 0 0 40-4 7 4 6 19-15-2-7-9 7 0-45zm54-30l5 12-28 0 0 7 22 0-13 16-7 4 3 7 25-3-14 12-16 8 5 6 9-5 17-12 13-14 5-8-7-3-6 9-19 1 13-18 28 0 0-7-22 0-6-13zm27 45l-6 8-16 15-20 12-12 5 5 6 17-8 16-10 19 17 6-5-20-16 11-10 8-11z"/><path id="lk" d="m4-65l18 8 3-5-17-8zm8-14l16 8 4-5-17-8zm-5 44l5 5 20-22-4-5zm85-46l-55 0 0 47 9 0 0 8-40 0 0 6 33 0-16 12-19 8 5 7 20-10 17-15 0 26 8 0 0-25 17 14 20 9 5-6-19-8-17-12 34 0 0-6-40 0 0-8 40 0 0-6-49 0 0-8 43 0 0-20-43 0 0-7 47 0zm-47 19l35 0 0 8-35 0z"/><path id="ll" d="m6-76l15 16 6-4-15-16zm40 39l33 0 0 9-33 0zm0 14l33 0 0 8-33 0zm0-27l33 0 0 8-33 0zm-8-6l0 47 48 0 0-47-24 0 4-8 29 0 0-7-19 0 7-11-7-2-8 13-18 0 5-2-7-11-7 2 7 11-17 0 0 7 27 0-3 8zm-12 8l-21 0 0 7 14 0 0 31-15 11 5 6 7-8 7-4 13 7 8 3 16 1 34-1 2-8-46 2-13-3-11-6z"/><path id="lm" d="m76-21l14 22 6-4-6-11-8-11zm-35-6l18 17 6-5-19-16zm-13 3l0 24 3 5 7 2 32 0 5-3 2-3 1-8-7-3-1 8-3 2-30-1-1-3 0-20zm-14 2l-4 11-6 10 7 3 6-11 4-12zm12-35l48 0 0 18-48 0zm-7-7l0 32 63 0 0-32-16 0 10-17-8-3-10 20-21 0 6-3-11-17-6 3 10 17z"/><path id="ln" d="m4-5l1 7 36-8-1-6zm2-38l16-2-12 14-6 5 2 8 34-8 0-6-22 3 22-30-7-4-6 11-13 1 16-29-8-3-10 21-5 9-4 3zm58-41l0 13-23 0 0 8 23 0 0 15-21 0 0 7 50 0 0-7-21 0 0-15 22 0 0-8-22 0 0-13zm-18 54l0 38 7 0 0-4 30 0 0 4 7 0 0-38zm7 27l0-21 30 0 0 21z"/><path id="lo" d="m46-30l0 12-2 5-11 8-26 7 5 6 16-4 11-5 8-5 6-10 1-14zm7 24l37 14 3-6-37-14zm-34-34l0 30 7 0 0-23 48 0 0 23 8 0 0-30zm27-44l0 7-35 0 0 6 35 0 0 7-30 0 0 5 30 0 0 7-40 0 0 6 88 0 0-6-40 0 0-7 31 0 0-5-31 0 0-7 36 0 0-6-36 0 0-7z"/><path id="lp" d="m26-57l48 0 0 9-48 0zm-7-5l0 20 63 0 0-20zm59 26l-63 0 0 6 51 0-20 6 0 6-41 0 0 7 41 0-1 13-17 0 3 6 18-1 4-3 1-15 41 0 0-7-41 0 0-2 16-6 15-6-5-4zm-35-47l4 8-41 0 0 6 88 0 0-6-39 0-4-10z"/><path id="lq" d="m8-77l12 18 7-3-13-18zm67-7l-7 13-16 0 4-2-7-11-6 2 7 11-16 0 0 6 25 0 0 9-22 0-3 22 21 0-11 10-14 7 5 5 13-7 11-10 0 22 7 0 0-27 20 0-2 12-11 0 1 6 12 0 4-3 3-21-27 0 0-9 23 0 0-22-13 0 7-11zm-33 44l1-9 16 0 0 9zm24-25l17 0 0 9-17 0zm-40 18l-21 0 0 8 13 0 0 26-13 12 5 7 6-9 6-4 13 8 8 2 16 1 35-1 3-8-48 2-13-3-10-6z"/><path id="lr" d="m72-45l0 53 8 0 0-53zm-28 0l0 19-2 12-7 12-7 6 6 5 11-13 5-14 2-27zm16-39l-12 20-14 12-8 6 4 5 7-4 12-10 13-17 14 17 16 13 5-6-12-8-11-10-8-12 2-5zm-33 0l-10 22-13 18 4 7 9-11 0 56 7 0 0-68 10-22z"/><path id="ls" d="m60-84l-1 10-26 0 0 7 24 0-1 9-18 0 0 57-9 0 0 6 67 0 0-6-9 0 0-57-25 0 3-9 28 0 0-7-27 0 2-10zm-15 83l0-9 35 0 0 9zm0-37l35 0 0 9-35 0zm0-6l0-8 35 0 0 8zm0 20l35 0 0 9-35 0zm-19-60l-10 22-13 18 4 7 9-11 0 56 7 0 0-67 10-23z"/><path id="lt" d="m59-15l27 23 8-5-29-22zm-26-4l-12 12-15 10 6 5 15-11 14-13zm-24-44l0 7 19 0 0 24-23 0 0 8 91 0 0-8-24 0 0-24 20 0 0-7-20 0 0-20-8 0 0 20-28 0 0-20-8 0 0 20zm27 31l0-24 28 0 0 24z"/><path id="lu" d="m54-30l15 18 6-4-15-18zm-50 17l2 7 36-8 0-6-14 3 0-26 13 0 0-7-35 0 0 7 14 0 0 27zm42-38l-1 33-5 11-12 9 6 6 7-5 9-12 3-13 1-22 22 0 0 47 6 3 12-2 2-3 1-8-6-3-1 9-5 0-2-1 0-49zm-26-33l-6 16-10 13 6 4 11-16 5 0 6 15 7-3-5-12 15 0 0-6-25 0 4-10zm39 0l-5 15-8 12 6 5 9-15 7 0 8 14 7-2-7-12 18 0 0-6-30 0 3-10z"/><path id="lv" d="m52-72l29 0 0 12-29 0zm-7-7l0 25 18 0 0 9-20 0 0 27 20 0 0 15-25 1 1 8 48-4 3 7 6-3-12-22-6 3 6 8-14 1 0-14 21 0 0-27-21 0 0-9 18 0 0-25zm4 41l14 0 0 14-14 0zm21 0l14 0 0 14-14 0zm-62-18l-3 29 24 0-2 19-3 8-14 0 2 7 15 0 3-3 3-5 3-33-23 0 2-16 22 0 0-29-31 0 0 7 24 0 0 16z"/><path id="lw" d="m44-44l-15 12-20 10 6 5 23-12 34 0-8 9-10 7-19-10-6 4 17 10-18 7-20 4 4 6 29-7 13-6 12-7 10-9 8-12-5-3-32 0 5-5zm-20-40l0 10-18 0 0 7 15 0-8 10-9 8 4 5 16-16 0 20 7 0 0-21 12 12 4-6-16-12 16 0 0-7-16 0 0-10zm43 0l0 10-17 0 0 7 15 0-9 10-10 8 5 5 9-7 7-9 0 20 7 0 0-22 9 11 9 8 5-6-11-7-9-11 18 0 0-7-21 0 0-10z"/><path id="lx" d="m23 0l9 0 0-18 18 0 0-5-18 0 0-7 18 0 0-6-16 0 19-35-9 0-16 34-16-34-9 0 18 35-16 0 0 6 18 0 0 7-18 0 0 5 18 0z"/><path id="ly" d="m73-35l-2 14-5 10-9 8-12 3 7 10 5 2 7-1 0 7-8 1-7-1-5-3-5-6-3-8-12-3-11-7-7-13-1-13 2-14 7-12 11-6 14-3 13 2 12 7 7 13zm-10 0l-1-11-5-9-8-5-10-2-11 2-7 5-5 9-2 11 2 12 5 9 8 6 10 1 10-1 8-6 5-9z"/><path id="lz" d="m8 0l0-69 10 0 0 61 34 0 0 8z"/></defs><g transform="matrix(.1 0 0 .1 19.5 23.1)" class="ta"><use href="#a"/><use href="#b" x="100"/><use href="#c" x="200"/><use href="#d" x="300"/><use href="#e" x="400"/><use href="#f" x="500"/><use href="#g" x="600"/><use href="#h" x="700"/><use href="#i" x="761"/><use href="#j" x="822"/><use href="#k" x="926"/><use href="#l" x="990"/><use href="#m" x="1090"/><use href="#n" x="1190"/><use href="#o" x="1290"/><use href="#p" x="1390"/><use href="#q" x="1490"/><use href="#r" x="1590"/></g>
<g transform="matrix(.1 0 0 .1 37.7 36.6)" class="ta"><use href="#s"/><use href="#t" x="100"/><use href="#u" x="200"/><use href="#v" x="300"/><use href="#w" x="400"/><use href="#x" x="500"/><use href="#y" x="600"/><use href="#z" x="700"/><use href="#A" x="800"/><use href="#B" x="900"/><use href="#C" x="1000"/><use href="#D" x="1100"/><use href="#E" x="1173"/><use href="#F" x="1235"/><use href="#i" x="1265"/></g>
<path d="M105,44 L105,1427 L112,1427" stroke="#f7e2cc" stroke-width="2.0" fill="none"/>
<line x1="105.5" y1="166.0" x2="112.0" y2="166.0" stroke="#888" stroke-width="0.9"/>
<circle cx="120.2" cy="166.0" r="3.8" stroke="#2cc45a" stroke-width="0" fill="#2cc45a"/>
<path d="M118.2,166.0 L119.7,167.5 L122.4,164.7" stroke="#fff" stroke-width="1.0" fill="none"/>
<g transform="matrix(.071 0 0 .071 125.0 168.6)" class="tb"><use href="#G"/><use href="#H" x="100"/><use href="#I" x="200"/><use href="#J" x="261"/><use href="#K" x="361"/><use href="#L" x="461"/><use href="#M" x="561"/><use href="#N" x="661"/></g>
<line x1="185.0" y1="166.0" x2="194.0" y2="166.0" stroke="#bbb" stroke-width="0.9"/>
<circle cx="187.0" cy="166.0" r="1.4" stroke="#ccc" stroke-width="0.7" fill="#fff"/>
<g transform="matrix(.06 0 0 .06 214.0 168.2)" class="tc"><use href="#l"/><use href="#m" x="100"/><use href="#n" x="200"/><use href="#o" x="300"/><use href="#O" x="400"/><use href="#P" x="500"/></g>
<line x1="254.0" y1="166.0" x2="261.0" y2="166.0" stroke="#888" stroke-width="0.9"/>
<g transform="matrix(.06 0 0 .06 284.0 168.2)" class="tc"><use href="#Q"/><use href="#R" x="100"/><use href="#S" x="200"/><use href="#T" x="300"/><use href="#K" x="400"/><use href="#L" x="500"/></g>
<line x1="324.0" y1="166.0" x2="352.0" y2="166.0" stroke="#888" stroke-width="0.9"/>
<g transform="matrix(.06 0 0 .06 370.7 168.2)" class="tc"><use href="#l"/><use href="#m" x="100"/><use href="#n" x="200"/><use href="#o" x="300"/><use href="#K" x="400"/><use href="#L" x="500"/></g>
<line x1="410.7" y1="166.0" x2="437.0" y2="166.0" stroke="#888" stroke-width="0.9"/>
<g transform="matrix(.06 0 0 .06 458.7 168.2)" class="tc"><use href="#U"/><use href="#V" x="100"/><use href="#n" x="200"/><use href="#o" x="300"/><use href="#K" x="400"/><use href="#L" x="500"/></g>
<line x1="510.7" y1="166.0" x2="518.3" y2="166.0" stroke="#888" stroke-width="0.9"/>
<g transform="matrix(.06 0 0 .06 531.7 168.2)" class="td"><use href="#j"/><use href="#W" x="104"/><use href="#X" x="177"/></g>
<g transform="matrix(.06 0 0 .06 548.3 168.2)" class="tc"><use href="#n"/><use href="#o" x="100"/><use href="#K" x="200"/><use href="#L" x="300"/></g>
<line x1="577.3" y1="166.0" x2="590.0" y2="166.0" stroke="#888" stroke-width="0.9"/>
<g transform="matrix(.06 0 0 .06 608.0 168.2)" class="tc"><use href="#Y"/><use href="#Z" x="100"/><use href="#ba" x="200"/><use href="#n" x="300"/><use href="#o" x="400"/><use href="#K" x="500"/><use href="#L" x="600"/></g>
<line x1="653.0" y1="166.0" x2="700.0" y2="166.0" stroke="#888" stroke-width="0.9"/>
<g transform="matrix(.06 0 0 .06 716.7 168.2)" class="tc"><use href="#bb"/><use href="#bc" x="73"/><use href="#bb" x="153"/><use href="#bd" x="226"/><use href="#q" x="326"/><use href="#K" x="426"/><use href="#L" x="526"/></g>
<line x1="757.0" y1="166.0" x2="765.0" y2="166.0" stroke="#888" stroke-width="0.9"/>
<g transform="matrix(.061 0 0 .061 769.3 168.2)" class="te"><use href="#be"/><use href="#G" x="100"/><use href="#H" x="200"/><use href="#bf" x="300"/><use href="#bg" x="400"/><use href="#bh" x="500"/><use href="#bi" x="600"/><use href="#bj" x="700"/><use href="#bk" x="800"/></g>
<line x1="822.0" y1="166.0" x2="832.0" y2="166.0" stroke="#888" stroke-width="0.9"/>
<g transform="matrix(.061 0 0 .061 846.7 168.2)" class="te"><use href="#bl"/><use href="#bm" x="100"/><use href="#f" x="200"/><use href="#bg" x="300"/><use href="#M" x="400"/><use href="#I" x="500"/><use href="#E" x="561"/><use href="#bn" x="622"/><use href="#k" x="702"/></g>
<circle cx="225.1" cy="155.7" r="1.8" stroke="#ea5f6d" stroke-width="0.8" fill="#fff"/>
<path d="M225.1,153.9 L225.1,78.7 Q225.1,77.7 226.1,77.7 L229.1,77.7" stroke="#ea5f6d" stroke-width="0.9" fill="none"/>
<g transform="matrix(.056 0 0 .056 231.6 79.7)" class="tf"><use href="#l"/><use href="#m" x="100"/><use href="#n" x="200"/><use href="#o" x="300"/><use href="#bo" x="400"/><use href="#bp" x="500"/><use href="#bq" x="600"/><use href="#br" x="700"/></g>
<circle cx="282.7" cy="77.7" r="1.5" stroke="#ef8792" stroke-width="0.75" fill="#fff"/>
<line x1="284.2" y1="77.7" x2="285.6" y2="77.7" stroke="#ef8792" stroke-width="0.9"/>
<path d="M289.1,62.3 L286.2,62.3 Q285.6,62.3 285.6,62.9 L285.6,92.7 Q285.6,93.3 286.2,93.3 L289.1,93.3" stroke="#ef8792" stroke-width="0.9" fill="none"/>
<line x1="285.6" y1="72.7" x2="289.1" y2="72.7" stroke="#ef8792" stroke-width="0.9"/>
<line x1="285.6" y1="83.0" x2="289.1" y2="83.0" stroke="#ef8792" stroke-width="0.9"/>
<g transform="matrix(.056 0 0 .056 291.1 64.3)" class="tf"><use href="#bo"/><use href="#bp" x="100"/><use href="#bs" x="200"/><use href="#bt" x="300"/></g>
<g transform="matrix(.056 0 0 .056 291.1 74.7)" class="tf"><use href="#bu"/><use href="#bv" x="100"/></g>
<g transform="matrix(.056 0 0 .056 291.1 85.0)" class="tf"><use href="#bw"/><use href="#bx" x="100"/><use href="#by" x="200"/><use href="#bz" x="300"/></g>
<g transform="matrix(.056 0 0 .056 291.1 95.3)" class="tf"><use href="#l"/><use href="#m" x="100"/><use href="#n" x="200"/><use href="#o" x="300"/><use href="#bA" x="400"/><use href="#bB" x="500"/><use href="#bC" x="600"/><use href="#bD" x="700"/><use href="#by" x="800"/></g>
<line x1="225.1" y1="114.0" x2="229.1" y2="114.0" stroke="#ea5f6d" stroke-width="0.9"/>
<g transform="matrix(.056 0 0 .056 231.6 116.0)" class="tf"><use href="#l"/><use href="#m" x="100"/><use href="#n" x="200"/><use href="#o" x="300"/><use href="#bE" x="400"/><use href="#bF" x="500"/><use href="#bC" x="600"/><use href="#bG" x="700"/><use href="#bH" x="800"/><use href="#bG" x="900"/><use href="#bI" x="1000"/></g>
<circle cx="301.7" cy="114.0" r="1.5" stroke="#ef8792" stroke-width="0.75" fill="#fff"/>
<line x1="303.2" y1="114.0" x2="305.0" y2="114.0" stroke="#ef8792" stroke-width="0.9"/>
<path d="M308.5,103.3 L305.6,103.3 Q305.0,103.3 305.0,103.9 L305.0,123.7 Q305.0,124.3 305.6,124.3 L308.5,124.3" stroke="#ef8792" stroke-width="0.9" fill="none"/>
<line x1="305.0" y1="114.0" x2="308.5" y2="114.0" stroke="#ef8792" stroke-width="0.9"/>
<g transform="matrix(.056 0 0 .056 310.5 105.3)" class="tf"><use href="#n"/><use href="#o" x="100"/><use href="#bE" x="200"/><use href="#bF" x="300"/></g>
<g transform="matrix(.056 0 0 .056 310.5 116.0)" class="tf"><use href="#bG"/><use href="#bH" x="100"/><use href="#bG" x="200"/><use href="#bI" x="300"/></g>
<g transform="matrix(.056 0 0 .056 310.5 126.3)" class="tf"><use href="#bJ"/><use href="#bK" x="100"/></g>
<line x1="225.1" y1="135.0" x2="229.1" y2="135.0" stroke="#ea5f6d" stroke-width="0.9"/>
<g transform="matrix(.056 0 0 .056 231.6 137.0)" class="tf"><use href="#l"/><use href="#m" x="100"/><use href="#n" x="200"/><use href="#o" x="300"/><use href="#bL" x="400"/><use href="#bp" x="500"/></g>
<circle cx="271.7" cy="135.0" r="1.5" stroke="#ef8792" stroke-width="0.75" fill="#fff"/>
<line x1="273.2" y1="135.0" x2="279.3" y2="135.0" stroke="#ef8792" stroke-width="0.9"/>
<line x1="279.3" y1="135.0" x2="282.8" y2="135.0" stroke="#ef8792" stroke-width="0.9"/>
<g transform="matrix(.056 0 0 .056 284.8 137.0)" class="tf"><use href="#bM"/><use href="#bN" x="100"/><use href="#bO" x="200"/><use href="#bP" x="300"/></g>
<line x1="225.1" y1="145.3" x2="229.1" y2="145.3" stroke="#ea5f6d" stroke-width="0.9"/>
<g transform="matrix(.056 0 0 .056 231.6 147.3)" class="tf"><use href="#l"/><use href="#m" x="100"/><use href="#n" x="200"/><use href="#o" x="300"/><use href="#bQ" x="400"/><use href="#bR" x="500"/><use href="#bS" x="600"/><use href="#bT" x="700"/></g>
<circle cx="285.0" cy="145.3" r="1.5" stroke="#ef8792" stroke-width="0.75" fill="#fff"/>
<line x1="286.5" y1="145.3" x2="288.0" y2="145.3" stroke="#ef8792" stroke-width="0.9"/>
<line x1="288.0" y1="145.3" x2="291.5" y2="145.3" stroke="#ef8792" stroke-width="0.9"/>
<g transform="matrix(.056 0 0 .056 293.5 147.3)" class="tf"><use href="#n"/><use href="#o" x="100"/><use href="#bU" x="200"/><use href="#bV" x="300"/><use href="#bW" x="400"/><use href="#bU" x="500"/><use href="#bX" x="600"/><use href="#bW" x="700"/><use href="#bY" x="800"/><use href="#bZ" x="900"/></g>
<circle cx="293.0" cy="177.7" r="1.8" stroke="#ea5f6d" stroke-width="0.8" fill="#fff"/>
<path d="M293.0,179.5 L293.0,253.3 Q293.0,254.3 294.0,254.3 L297.0,254.3" stroke="#ea5f6d" stroke-width="0.9" fill="none"/>
<line x1="293.0" y1="187.7" x2="297.0" y2="187.7" stroke="#ea5f6d" stroke-width="0.9"/>
<g transform="matrix(.056 0 0 .056 299.5 189.7)" class="tf"><use href="#Q"/><use href="#R" x="100"/><use href="#S" x="200"/><use href="#T" x="300"/><use href="#bq" x="400"/><use href="#br" x="500"/></g>
<circle cx="340.0" cy="187.7" r="1.5" stroke="#ef8792" stroke-width="0.75" fill="#fff"/>
<line x1="341.5" y1="187.7" x2="343.0" y2="187.7" stroke="#ef8792" stroke-width="0.9"/>
<line x1="343.0" y1="187.7" x2="346.5" y2="187.7" stroke="#ef8792" stroke-width="0.9"/>
<g transform="matrix(.056 0 0 .056 348.5 189.7)" class="tf"><use href="#Q"/><use href="#R" x="100"/><use href="#S" x="200"/><use href="#T" x="300"/><use href="#ca" x="400"/><use href="#cb" x="500"/><use href="#bW" x="600"/><use href="#bu" x="700"/><use href="#bv" x="800"/><use href="#bW" x="900"/><use href="#cc" x="1000"/><use href="#cd" x="1100"/><use href="#bW" x="1200"/><use href="#ce" x="1300"/><use href="#cf" x="1400"/></g>
<line x1="293.0" y1="208.7" x2="297.0" y2="208.7" stroke="#ea5f6d" stroke-width="0.9"/>
<g transform="matrix(.056 0 0 .056 299.5 210.7)" class="tf"><use href="#Q"/><use href="#R" x="100"/><use href="#S" x="200"/><use href="#T" x="300"/><use href="#n" x="400"/><use href="#cg" x="500"/></g>
<circle cx="340.0" cy="208.7" r="1.5" stroke="#ef8792" stroke-width="0.75" fill="#fff"/>
<line x1="341.5" y1="208.7" x2="344.0" y2="208.7" stroke="#ef8792" stroke-width="0.9"/>
<path d="M347.5,198.3 L344.6,198.3 Q344.0,198.3 344.0,198.9 L344.0,218.4 Q344.0,219.0 344.6,219.0 L347.5,219.0" stroke="#ef8792" stroke-width="0.9" fill="none"/>
<line x1="344.0" y1="208.7" x2="347.5" y2="208.7" stroke="#ef8792" stroke-width="0.9"/>
<g transform="matrix(.056 0 0 .056 349.5 200.3)" class="tf"><use href="#D"/><use href="#ch" x="73"/><use href="#bn" x="165"/><use href="#ci" x="244"/><use href="#cj" x="306"/><use href="#ck" x="342"/><use href="#cl" x="403"/><use href="#cm" x="503"/><use href="#cn" x="603"/></g>
<g transform="matrix(.056 0 0 .056 349.5 210.7)" class="tf"><use href="#j"/><use href="#co" x="104"/><use href="#cp" x="128"/><use href="#cq" x="189"/><use href="#cr" x="251"/><use href="#bn" x="312"/><use href="#cs" x="391"/><use href="#S" x="446"/><use href="#T" x="546"/></g>
<g transform="matrix(.056 0 0 .056 349.5 221.0)" class="tf"><use href="#ct"/><use href="#ci" x="73"/><use href="#cu" x="135"/><use href="#co" x="159"/><use href="#S" x="183"/><use href="#T" x="283"/></g>
<line x1="293.0" y1="229.7" x2="297.0" y2="229.7" stroke="#ea5f6d" stroke-width="0.9"/>
<g transform="matrix(.056 0 0 .056 299.5 231.7)" class="tf"><use href="#j"/><use href="#co" x="104"/><use href="#cp" x="128"/><use href="#cq" x="189"/><use href="#cr" x="251"/><use href="#bn" x="312"/><use href="#cs" x="391"/><use href="#S" x="446"/><use href="#T" x="546"/><use href="#cc" x="646"/><use href="#cd" x="746"/><use href="#cv" x="846"/><use href="#cw" x="946"/><use href="#cx" x="1046"/><use href="#cy" x="1146"/><use href="#Q" x="1246"/></g>
<line x1="293.0" y1="240.0" x2="297.0" y2="240.0" stroke="#ea5f6d" stroke-width="0.9"/>
<g transform="matrix(.056 0 0 .056 299.5 242.0)" class="tf"><use href="#ct"/><use href="#ci" x="73"/><use href="#cu" x="135"/><use href="#co" x="159"/><use href="#cA" x="214"/><use href="#co" x="275"/><use href="#cp" x="300"/><use href="#cB" x="361"/><use href="#cC" x="422"/><use href="#S" x="477"/><use href="#T" x="577"/><use href="#cc" x="677"/><use href="#cd" x="777"/><use href="#cv" x="877"/><use href="#cw" x="977"/><use href="#cx" x="1077"/><use href="#cy" x="1177"/><use href="#Q" x="1277"/></g>
<circle cx="381.7" cy="156.7" r="1.8" stroke="#ea5f6d" stroke-width="0.8" fill="#fff"/>
<path d="M381.7,154.9 L381.7,84.3 Q381.7,83.3 382.7,83.3 L385.7,83.3" stroke="#ea5f6d" stroke-width="0.9" fill="none"/>
<g transform="matrix(.056 0 0 .056 388.2 85.3)" class="tf"><use href="#l"/><use href="#m" x="100"/><use href="#bq" x="200"/><use href="#br" x="300"/></g>
<circle cx="418.3" cy="83.3" r="1.5" stroke="#ef8792" stroke-width="0.75" fill="#fff"/>
<line x1="419.8" y1="83.3" x2="421.7" y2="83.3" stroke="#ef8792" stroke-width="0.9"/>
<path d="M425.2,73.0 L422.3,73.0 Q421.7,73.0 421.7,73.6 L421.7,93.1 Q421.7,93.7 422.3,93.7 L425.2,93.7" stroke="#ef8792" stroke-width="0.9" fill="none"/>
<line x1="421.7" y1="83.3" x2="425.2" y2="83.3" stroke="#ef8792" stroke-width="0.9"/>
<g transform="matrix(.056 0 0 .056 427.2 75.0)" class="tf"><use href="#cD"/><use href="#cE" x="100"/><use href="#cn" x="200"/><use href="#l" x="300"/><use href="#m" x="400"/><use href="#K" x="500"/><use href="#L" x="600"/></g>
<g transform="matrix(.056 0 0 .056 427.2 85.3)" class="tf"><use href="#U"/><use href="#V" x="100"/></g>
<g transform="matrix(.056 0 0 .056 427.2 95.7)" class="tf"><use href="#l"/><use href="#m" x="100"/><use href="#cF" x="200"/><use href="#cG" x="300"/></g>
<line x1="381.7" y1="125.3" x2="385.7" y2="125.3" stroke="#ea5f6d" stroke-width="0.9"/>
<g transform="matrix(.056 0 0 .056 388.2 127.3)" class="tf"><use href="#l"/><use href="#m" x="100"/><use href="#cH" x="200"/><use href="#cI" x="300"/></g>
<circle cx="418.3" cy="125.3" r="1.5" stroke="#ef8792" stroke-width="0.75" fill="#fff"/>
<line x1="419.8" y1="125.3" x2="421.7" y2="125.3" stroke="#ef8792" stroke-width="0.9"/>
<path d="M425.2,104.3 L422.3,104.3 Q421.7,104.3 421.7,104.9 L421.7,145.7 Q421.7,146.3 422.3,146.3 L425.2,146.3" stroke="#ef8792" stroke-width="0.9" fill="none"/>
<line x1="421.7" y1="114.7" x2="425.2" y2="114.7" stroke="#ef8792" stroke-width="0.9"/>
<line x1="421.7" y1="125.3" x2="425.2" y2="125.3" stroke="#ef8792" stroke-width="0.9"/>
<line x1="421.7" y1="135.7" x2="425.2" y2="135.7" stroke="#ef8792" stroke-width="0.9"/>
<g transform="matrix(.056 0 0 .056 427.2 106.3)" class="tf"><use href="#cJ"/><use href="#bR" x="100"/><use href="#br" x="200"/><use href="#cK" x="300"/></g>
<g transform="matrix(.056 0 0 .056 427.2 116.7)" class="tf"><use href="#cL"/><use href="#cM" x="86"/><use href="#cN" x="159"/><use href="#cO" x="189"/><use href="#cP" x="289"/></g>
<g transform="matrix(.056 0 0 .056 427.2 127.3)" class="tf"><use href="#Y"/><use href="#Z" x="100"/><use href="#cQ" x="200"/><use href="#cR" x="300"/><use href="#cS" x="400"/><use href="#q" x="500"/></g>
<g transform="matrix(.056 0 0 .056 427.2 137.7)" class="tf"><use href="#cT"/><use href="#cU" x="100"/><use href="#cV" x="200"/><use href="#bP" x="300"/></g>
<g transform="matrix(.056 0 0 .056 427.2 148.3)" class="tf"><use href="#cW"/><use href="#cX" x="79"/><use href="#cM" x="159"/><use href="#bW" x="232"/><use href="#cY" x="332"/><use href="#cW" x="412"/><use href="#cX" x="491"/><use href="#bY" x="571"/><use href="#cV" x="671"/><use href="#cZ" x="771"/></g>
<circle cx="474.0" cy="174.3" r="1.8" stroke="#ea5f6d" stroke-width="0.8" fill="#fff"/>
<path d="M474.0,176.1 L474.0,246.3 Q474.0,247.3 475.0,247.3 L478.0,247.3" stroke="#ea5f6d" stroke-width="0.9" fill="none"/>
<line x1="474.0" y1="195.0" x2="478.0" y2="195.0" stroke="#ea5f6d" stroke-width="0.9"/>
<g transform="matrix(.056 0 0 .056 480.5 197.0)" class="tf"><use href="#l"/><use href="#m" x="100"/><use href="#U" x="200"/><use href="#V" x="300"/></g>
<circle cx="510.0" cy="195.0" r="1.5" stroke="#ef8792" stroke-width="0.75" fill="#fff"/>
<line x1="511.5" y1="195.0" x2="513.3" y2="195.0" stroke="#ef8792" stroke-width="0.9"/>
<path d="M516.8,184.7 L513.9,184.7 Q513.3,184.7 513.3,185.3 L513.3,204.7 Q513.3,205.3 513.9,205.3 L516.8,205.3" stroke="#ef8792" stroke-width="0.9" fill="none"/>
<line x1="513.3" y1="195.0" x2="516.8" y2="195.0" stroke="#ef8792" stroke-width="0.9"/>
<g transform="matrix(.056 0 0 .056 518.8 186.7)" class="tf"><use href="#bc"/><use href="#da" x="79"/><use href="#da" x="147"/><use href="#bb" x="214"/><use href="#bW" x="287"/><use href="#da" x="387"/><use href="#cY" x="454"/><use href="#bb" x="534"/><use href="#db" x="607"/><use href="#cN" x="638"/><use href="#bb" x="668"/><use href="#bW" x="742"/><use href="#dc" x="842"/><use href="#dd" x="915"/><use href="#bb" x="994"/><use href="#bY" x="1068"/></g>
<g transform="matrix(.056 0 0 .056 518.8 197.0)" class="tf"><use href="#de"/><use href="#df" x="100"/><use href="#dg" x="200"/><use href="#dh" x="300"/></g>
<g transform="matrix(.056 0 0 .056 518.8 207.3)" class="tf"><use href="#Y"/><use href="#Z" x="100"/><use href="#di" x="200"/><use href="#ce" x="300"/><use href="#bP" x="400"/></g>
<line x1="474.0" y1="215.7" x2="478.0" y2="215.7" stroke="#ea5f6d" stroke-width="0.9"/>
<g transform="matrix(.056 0 0 .056 480.5 217.7)" class="tf"><use href="#bc"/><use href="#da" x="79"/><use href="#da" x="147"/><use href="#bb" x="214"/><use href="#cH" x="287"/><use href="#cI" x="387"/><use href="#cS" x="487"/><use href="#q" x="587"/><use href="#bC" x="687"/><use href="#dj" x="787"/><use href="#dk" x="887"/><use href="#dl" x="987"/></g>
<line x1="474.0" y1="226.0" x2="478.0" y2="226.0" stroke="#ea5f6d" stroke-width="0.9"/>
<g transform="matrix(.056 0 0 .056 480.5 228.0)" class="tf"><use href="#dm"/><use href="#dn" x="100"/><use href="#do" x="200"/><use href="#dp" x="300"/><use href="#dq" x="400"/><use href="#bC" x="500"/><use href="#l" x="600"/><use href="#m" x="700"/><use href="#dr" x="800"/><use href="#di" x="900"/></g>
<circle cx="546.7" cy="226.0" r="1.5" stroke="#ef8792" stroke-width="0.75" fill="#fff"/>
<line x1="548.2" y1="226.0" x2="550.0" y2="226.0" stroke="#ef8792" stroke-width="0.9"/>
<line x1="550.0" y1="226.0" x2="553.5" y2="226.0" stroke="#ef8792" stroke-width="0.9"/>
<g transform="matrix(.056 0 0 .056 555.5 228.0)" class="tf"><use href="#ds"/><use href="#cB" x="61"/><use href="#cj" x="122"/><use href="#dt" x="159"/><use href="#cs" x="220"/><use href="#cB" x="275"/><use href="#co" x="336"/><use href="#du" x="361"/><use href="#ck" x="391"/></g>
<g transform="matrix(.056 0 0 .056 480.5 249.3)" class="tf"><use href="#dc"/><use href="#dd" x="73"/><use href="#bb" x="153"/><use href="#dv" x="226"/><use href="#l" x="326"/><use href="#dp" x="426"/><use href="#dq" x="526"/><use href="#bW" x="626"/><use href="#dw" x="726"/><use href="#dx" x="826"/><use href="#bC" x="926"/><use href="#dy" x="1026"/><use href="#dz" x="1126"/></g>
<circle cx="555.0" cy="247.3" r="1.5" stroke="#ef8792" stroke-width="0.75" fill="#fff"/>
<line x1="556.5" y1="247.3" x2="558.3" y2="247.3" stroke="#ef8792" stroke-width="0.9"/>
<path d="M561.8,236.7 L558.9,236.7 Q558.3,236.7 558.3,237.3 L558.3,257.1 Q558.3,257.7 558.9,257.7 L561.8,257.7" stroke="#ef8792" stroke-width="0.9" fill="none"/>
<line x1="558.3" y1="247.3" x2="561.8" y2="247.3" stroke="#ef8792" stroke-width="0.9"/>
<g transform="matrix(.056 0 0 .056 563.8 238.7)" class="tf"><use href="#dv"/><use href="#l" x="100"/><use href="#dp" x="200"/><use href="#dq" x="300"/></g>
<g transform="matrix(.056 0 0 .056 563.8 249.3)" class="tf"><use href="#dc"/><use href="#dd" x="73"/><use href="#bb" x="153"/><use href="#dw" x="226"/><use href="#dx" x="326"/></g>
<g transform="matrix(.056 0 0 .056 563.8 259.7)" class="tf"><use href="#dc"/><use href="#dd" x="73"/><use href="#bb" x="153"/><use href="#dy" x="226"/><use href="#dz" x="326"/></g>
<circle cx="547.3" cy="156.7" r="1.8" stroke="#ea5f6d" stroke-width="0.8" fill="#fff"/>
<path d="M547.3,154.9 L547.3,72.0 Q547.3,71.0 548.3,71.0 L551.3,71.0" stroke="#ea5f6d" stroke-width="0.9" fill="none"/>
<g transform="matrix(.056 0 0 .056 553.8 73.0)" class="tf"><use href="#j"/><use href="#ck" x="104"/><use href="#ds" x="165"/><use href="#bs" x="226"/><use href="#dA" x="326"/><use href="#K" x="426"/><use href="#L" x="526"/></g>
<circle cx="595.0" cy="71.0" r="1.5" stroke="#ef8792" stroke-width="0.75" fill="#fff"/>
<line x1="596.5" y1="71.0" x2="599.3" y2="71.0" stroke="#ef8792" stroke-width="0.9"/>
<path d="M602.8,63.3 L599.9,63.3 Q599.3,63.3 599.3,63.9 L599.3,78.1 Q599.3,78.7 599.9,78.7 L602.8,78.7" stroke="#ef8792" stroke-width="0.9" fill="none"/>
<g transform="matrix(.056 0 0 .056 604.8 65.3)" class="tf"><use href="#j"/><use href="#ck" x="104"/><use href="#ds" x="165"/><use href="#cR" x="226"/><use href="#dB" x="326"/><use href="#bv" x="426"/><use href="#bW" x="526"/><use href="#K" x="626"/><use href="#L" x="726"/><use href="#bS" x="826"/><use href="#dC" x="926"/><use href="#cv" x="1026"/><use href="#U" x="1126"/><use href="#V" x="1226"/></g>
<g transform="matrix(.056 0 0 .056 604.8 80.7)" class="tf"><use href="#l"/><use href="#dD" x="100"/><use href="#dE" x="200"/><use href="#dF" x="300"/><use href="#z" x="400"/></g>
<circle cx="639.0" cy="78.7" r="1.5" stroke="#f3a5ad" stroke-width="0.75" fill="#fff"/>
<line x1="640.5" y1="78.7" x2="642.7" y2="78.7" stroke="#f3a5ad" stroke-width="0.9"/>
<path d="M646.2,73.7 L643.3,73.7 Q642.7,73.7 642.7,74.3 L642.7,83.4 Q642.7,84.0 643.3,84.0 L646.2,84.0" stroke="#f3a5ad" stroke-width="0.9" fill="none"/>
<g transform="matrix(.056 0 0 .056 648.2 75.7)" class="tf"><use href="#dG"/><use href="#dk" x="100"/></g>
<g transform="matrix(.056 0 0 .056 648.2 86.0)" class="tf"><use href="#dH"/><use href="#dk" x="100"/></g>
<line x1="547.3" y1="120.7" x2="551.3" y2="120.7" stroke="#ea5f6d" stroke-width="0.9"/>
<g transform="matrix(.056 0 0 .056 553.8 122.7)" class="tf"><use href="#j"/><use href="#ck" x="104"/><use href="#ds" x="165"/><use href="#cy" x="226"/><use href="#Q" x="326"/></g>
<circle cx="583.8" cy="120.7" r="1.5" stroke="#ef8792" stroke-width="0.75" fill="#fff"/>
<line x1="585.3" y1="120.7" x2="586.5" y2="120.7" stroke="#ef8792" stroke-width="0.9"/>
<path d="M590.0,94.3 L587.1,94.3 Q586.5,94.3 586.5,94.9 L586.5,146.1 Q586.5,146.7 587.1,146.7 L590.0,146.7" stroke="#ef8792" stroke-width="0.9" fill="none"/>
<line x1="586.5" y1="104.7" x2="590.0" y2="104.7" stroke="#ef8792" stroke-width="0.9"/>
<line x1="586.5" y1="115.3" x2="590.0" y2="115.3" stroke="#ef8792" stroke-width="0.9"/>
<line x1="586.5" y1="125.7" x2="590.0" y2="125.7" stroke="#ef8792" stroke-width="0.9"/>
<line x1="586.5" y1="136.0" x2="590.0" y2="136.0" stroke="#ef8792" stroke-width="0.9"/>
<g transform="matrix(.056 0 0 .056 592.0 96.3)" class="tf"><use href="#dI"/><use href="#bF" x="100"/><use href="#dJ" x="200"/><use href="#dK" x="300"/><use href="#dL" x="400"/><use href="#z" x="500"/></g>
<g transform="matrix(.056 0 0 .056 592.0 106.7)" class="tf"><use href="#bc"/><use href="#da" x="79"/><use href="#dM" x="147"/><use href="#cA" x="238"/><use href="#dN" x="299"/><use href="#bG" x="399"/><use href="#bC" x="499"/></g>
<g transform="matrix(.056 0 0 .056 592.0 117.3)" class="tf"><use href="#cY"/><use href="#cM" x="79"/><use href="#cM" x="153"/><use href="#c" x="226"/><use href="#dh" x="326"/><use href="#cy" x="426"/><use href="#dO" x="526"/></g>
<g transform="matrix(.056 0 0 .056 592.0 127.7)" class="tf"><use href="#dP"/><use href="#ci" x="55"/><use href="#dQ" x="116"/><use href="#ci" x="171"/><use href="#cM" x="232"/><use href="#dR" x="306"/><use href="#cj" x="361"/><use href="#co" x="397"/><use href="#dt" x="422"/><use href="#du" x="483"/><use href="#by" x="514"/><use href="#bz" x="614"/><use href="#cy" x="714"/><use href="#dO" x="814"/></g>
<g transform="matrix(.056 0 0 .056 592.0 138.0)" class="tf"><use href="#j"/><use href="#ck" x="104"/><use href="#ds" x="165"/><use href="#n" x="226"/><use href="#o" x="326"/><use href="#dS" x="426"/><use href="#dT" x="526"/><use href="#cy" x="626"/><use href="#dO" x="726"/><use href="#dU" x="826"/><use href="#bb" x="926"/><use href="#bc" x="1000"/><use href="#bb" x="1079"/><use href="#cM" x="1152"/><use href="#du" x="1226"/><use href="#cB" x="1256"/><use href="#cq" x="1317"/><use href="#dV" x="1379"/><use href="#bW" x="1434"/><use href="#dW" x="1534"/><use href="#dX" x="1634"/><use href="#dY" x="1734"/></g>
<g transform="matrix(.056 0 0 .056 592.0 148.7)" class="tf"><use href="#j"/><use href="#W" x="104"/><use href="#X" x="177"/><use href="#n" x="251"/><use href="#o" x="351"/><use href="#dZ" x="451"/><use href="#cM" x="524"/><use href="#cM" x="597"/><use href="#ea" x="671"/><use href="#eb" x="771"/><use href="#M" x="871"/><use href="#N" x="971"/><use href="#cy" x="1071"/><use href="#dO" x="1171"/></g>
<circle cx="622.7" cy="175.3" r="1.8" stroke="#ea5f6d" stroke-width="0.8" fill="#fff"/>
<path d="M622.7,177.1 L622.7,241.7 Q622.7,242.7 623.7,242.7 L626.7,242.7" stroke="#ea5f6d" stroke-width="0.9" fill="none"/>
<line x1="622.7" y1="195.7" x2="626.7" y2="195.7" stroke="#ea5f6d" stroke-width="0.9"/>
<g transform="matrix(.056 0 0 .056 629.2 197.7)" class="tf"><use href="#Y"/><use href="#Z" x="100"/><use href="#ba" x="200"/><use href="#bq" x="300"/><use href="#br" x="400"/></g>
<circle cx="664.3" cy="195.7" r="1.5" stroke="#ef8792" stroke-width="0.75" fill="#fff"/>
<line x1="665.8" y1="195.7" x2="668.3" y2="195.7" stroke="#ef8792" stroke-width="0.9"/>
<path d="M671.8,185.3 L668.9,185.3 Q668.3,185.3 668.3,185.9 L668.3,205.4 Q668.3,206.0 668.9,206.0 L671.8,206.0" stroke="#ef8792" stroke-width="0.9" fill="none"/>
<line x1="668.3" y1="195.7" x2="671.8" y2="195.7" stroke="#ef8792" stroke-width="0.9"/>
<g transform="matrix(.056 0 0 .056 673.8 187.3)" class="tf"><use href="#Y"/><use href="#Z" x="100"/><use href="#ba" x="200"/><use href="#K" x="300"/><use href="#L" x="400"/><use href="#bS" x="500"/><use href="#dC" x="600"/></g>
<g transform="matrix(.056 0 0 .056 673.8 197.7)" class="tf"><use href="#ec"/><use href="#ed" x="100"/><use href="#Y" x="200"/><use href="#Z" x="300"/><use href="#ba" x="400"/><use href="#bC" x="500"/><use href="#bQ" x="600"/><use href="#bR" x="700"/><use href="#p" x="800"/><use href="#ee" x="900"/></g>
<g transform="matrix(.056 0 0 .056 673.8 208.0)" class="tf"><use href="#dM"/><use href="#dV" x="92"/><use href="#cM" x="147"/><use href="#ef" x="220"/><use href="#cu" x="281"/><use href="#Y" x="306"/><use href="#Z" x="406"/><use href="#ba" x="506"/><use href="#K" x="606"/><use href="#eg" x="706"/><use href="#Q" x="806"/><use href="#R" x="906"/></g>
<line x1="622.7" y1="221.7" x2="626.7" y2="221.7" stroke="#ea5f6d" stroke-width="0.9"/>
<g transform="matrix(.056 0 0 .056 629.2 223.7)" class="tf"><use href="#Y"/><use href="#Z" x="100"/><use href="#ba" x="200"/><use href="#K" x="300"/><use href="#L" x="400"/><use href="#cy" x="500"/><use href="#Q" x="600"/></g>
<circle cx="675.0" cy="221.7" r="1.5" stroke="#ef8792" stroke-width="0.75" fill="#fff"/>
<line x1="676.5" y1="221.7" x2="679.0" y2="221.7" stroke="#ef8792" stroke-width="0.9"/>
<path d="M682.5,216.3 L679.6,216.3 Q679.0,216.3 679.0,216.9 L679.0,226.1 Q679.0,226.7 679.6,226.7 L682.5,226.7" stroke="#ef8792" stroke-width="0.9" fill="none"/>
<g transform="matrix(.056 0 0 .056 684.5 218.3)" class="tf"><use href="#Y"/><use href="#Z" x="100"/><use href="#ba" x="200"/><use href="#dE" x="300"/><use href="#cY" x="400"/><use href="#dd" x="479"/><use href="#eh" x="559"/><use href="#cW" x="638"/><use href="#dU" x="718"/><use href="#ei" x="818"/><use href="#ej" x="918"/><use href="#ek" x="1018"/><use href="#el" x="1118"/><use href="#dY" x="1218"/></g>
<g transform="matrix(.056 0 0 .056 684.5 228.7)" class="tf"><use href="#ce"/><use href="#dF" x="100"/><use href="#el" x="200"/><use href="#em" x="300"/><use href="#bW" x="400"/><use href="#en" x="500"/><use href="#eo" x="600"/><use href="#el" x="700"/><use href="#em" x="800"/><use href="#bW" x="900"/><use href="#ep" x="1000"/><use href="#el" x="1100"/><use href="#em" x="1200"/></g>
<g transform="matrix(.056 0 0 .056 629.2 244.7)" class="tf"><use href="#Y"/><use href="#Z" x="100"/><use href="#ba" x="200"/><use href="#n" x="300"/><use href="#o" x="400"/><use href="#eq" x="500"/><use href="#er" x="600"/></g>
<circle cx="677.3" cy="242.7" r="1.5" stroke="#ef8792" stroke-width="0.75" fill="#fff"/>
<line x1="678.8" y1="242.7" x2="681.7" y2="242.7" stroke="#ef8792" stroke-width="0.9"/>
<path d="M685.2,237.3 L682.3,237.3 Q681.7,237.3 681.7,237.9 L681.7,247.1 Q681.7,247.7 682.3,247.7 L685.2,247.7" stroke="#ef8792" stroke-width="0.9" fill="none"/>
<g transform="matrix(.056 0 0 .056 687.2 239.3)" class="tf"><use href="#cM"/><use href="#es" x="73"/><use href="#cA" x="159"/><use href="#et" x="220"/><use href="#M" x="320"/><use href="#ea" x="420"/><use href="#eb" x="520"/><use href="#M" x="620"/><use href="#N" x="720"/><use href="#cy" x="820"/><use href="#dO" x="920"/></g>
<g transform="matrix(.056 0 0 .056 687.2 249.7)" class="tf"><use href="#Y"/><use href="#Z" x="100"/><use href="#ba" x="200"/><use href="#eu" x="300"/><use href="#ev" x="400"/><use href="#cy" x="500"/><use href="#Q" x="600"/></g>
<circle cx="728.3" cy="157.3" r="1.8" stroke="#ea5f6d" stroke-width="0.8" fill="#fff"/>
<path d="M728.3,155.5 L728.3,64.3 Q728.3,63.3 729.3,63.3 L732.3,63.3" stroke="#ea5f6d" stroke-width="0.9" fill="none"/>
<g transform="matrix(.056 0 0 .056 734.8 65.3)" class="tf"><use href="#bb"/><use href="#bc" x="73"/><use href="#bb" x="153"/><use href="#bq" x="226"/><use href="#br" x="326"/><use href="#bC" x="426"/><use href="#n" x="526"/><use href="#cg" x="626"/></g>
<line x1="728.3" y1="73.7" x2="732.3" y2="73.7" stroke="#ea5f6d" stroke-width="0.9"/>
<g transform="matrix(.056 0 0 .056 734.8 75.7)" class="tf"><use href="#bb"/><use href="#bc" x="73"/><use href="#bb" x="153"/><use href="#ew" x="226"/><use href="#cR" x="326"/><use href="#dJ" x="426"/><use href="#dK" x="526"/><use href="#ex" x="626"/><use href="#ey" x="726"/></g>
<line x1="728.3" y1="84.0" x2="732.3" y2="84.0" stroke="#ea5f6d" stroke-width="0.9"/>
<g transform="matrix(.056 0 0 .056 734.8 86.0)" class="tf"><use href="#bb"/><use href="#bc" x="73"/><use href="#bb" x="153"/><use href="#K" x="226"/><use href="#L" x="326"/><use href="#dN" x="426"/><use href="#bG" x="526"/></g>
<line x1="728.3" y1="94.3" x2="732.3" y2="94.3" stroke="#ea5f6d" stroke-width="0.9"/>
<g transform="matrix(.056 0 0 .056 734.8 96.3)" class="tf"><use href="#bb"/><use href="#bc" x="73"/><use href="#bb" x="153"/><use href="#ez" x="226"/><use href="#Y" x="326"/><use href="#db" x="426"/><use href="#bb" x="457"/><use href="#bc" x="530"/><use href="#bb" x="610"/><use href="#Y" x="683"/><use href="#dF" x="783"/></g>
<line x1="728.3" y1="104.7" x2="732.3" y2="104.7" stroke="#ea5f6d" stroke-width="0.9"/>
<g transform="matrix(.056 0 0 .056 734.8 106.7)" class="tf"><use href="#bb"/><use href="#bc" x="73"/><use href="#bb" x="153"/><use href="#eA" x="226"/><use href="#eB" x="326"/><use href="#eC" x="426"/><use href="#bR" x="526"/><use href="#bC" x="626"/><use href="#eD" x="726"/><use href="#eE" x="826"/></g>
<line x1="728.3" y1="115.3" x2="732.3" y2="115.3" stroke="#ea5f6d" stroke-width="0.9"/>
<g transform="matrix(.056 0 0 .056 734.8 117.3)" class="tf"><use href="#bb"/><use href="#bc" x="73"/><use href="#bb" x="153"/><use href="#eF" x="226"/><use href="#eG" x="326"/><use href="#bC" x="426"/><use href="#j" x="526"/><use href="#ck" x="630"/><use href="#ds" x="691"/><use href="#Q" x="752"/><use href="#R" x="852"/></g>
<line x1="728.3" y1="125.7" x2="732.3" y2="125.7" stroke="#ea5f6d" stroke-width="0.9"/>
<g transform="matrix(.056 0 0 .056 734.8 127.7)" class="tf"><use href="#bb"/><use href="#bc" x="73"/><use href="#bb" x="153"/><use href="#eH" x="226"/><use href="#dJ" x="326"/><use href="#bC" x="426"/><use href="#cS" x="526"/><use href="#q" x="626"/><use href="#eI" x="726"/><use href="#eJ" x="826"/></g>
<line x1="728.3" y1="136.0" x2="732.3" y2="136.0" stroke="#ea5f6d" stroke-width="0.9"/>
<g transform="matrix(.056 0 0 .056 734.8 138.0)" class="tf"><use href="#bb"/><use href="#bc" x="73"/><use href="#bb" x="153"/><use href="#Q" x="226"/><use href="#R" x="326"/><use href="#Y" x="426"/><use href="#Z" x="526"/><use href="#ba" x="626"/><use href="#cy" x="726"/><use href="#dO" x="826"/></g>
<line x1="728.3" y1="146.7" x2="732.3" y2="146.7" stroke="#ea5f6d" stroke-width="0.9"/>
<g transform="matrix(.056 0 0 .056 734.8 148.7)" class="tf"><use href="#bb"/><use href="#bc" x="73"/><use href="#bb" x="153"/><use href="#cM" x="226"/><use href="#du" x="300"/><use href="#cB" x="330"/><use href="#cq" x="391"/><use href="#dV" x="452"/><use href="#cY" x="538"/><use href="#dd" x="617"/><use href="#eh" x="697"/><use href="#cW" x="776"/><use href="#cy" x="856"/><use href="#dO" x="956"/></g>
<circle cx="795.3" cy="173.3" r="1.8" stroke="#ea5f6d" stroke-width="0.8" fill="#fff"/>
<path d="M795.3,175.1 L795.3,198.0 Q795.3,199.0 796.3,199.0 L799.3,199.0" stroke="#ea5f6d" stroke-width="0.9" fill="none"/>
<line x1="795.3" y1="183.3" x2="799.3" y2="183.3" stroke="#ea5f6d" stroke-width="0.9"/>
<g transform="matrix(.056 0 0 .056 801.8 185.3)" class="tf"><use href="#bA"/><use href="#bB" x="100"/></g>
<circle cx="821.7" cy="183.3" r="1.5" stroke="#ef8792" stroke-width="0.75" fill="#fff"/>
<line x1="823.2" y1="183.3" x2="825.0" y2="183.3" stroke="#ef8792" stroke-width="0.9"/>
<line x1="825.0" y1="183.3" x2="828.5" y2="183.3" stroke="#ef8792" stroke-width="0.9"/>
<g transform="matrix(.056 0 0 .056 830.5 185.3)" class="tf"><use href="#cX"/><use href="#cN" x="79"/><use href="#cM" x="110"/><use href="#bb" x="183"/><use href="#eK" x="257"/><use href="#eL" x="357"/><use href="#db" x="457"/><use href="#cY" x="487"/><use href="#cN" x="567"/><use href="#cM" x="597"/><use href="#bb" x="671"/></g>
<g transform="matrix(.056 0 0 .056 801.8 201.0)" class="tf"><use href="#bL"/><use href="#bp" x="100"/><use href="#bM" x="200"/><use href="#bN" x="300"/></g>
<circle cx="832.3" cy="199.0" r="1.5" stroke="#ef8792" stroke-width="0.75" fill="#fff"/>
<line x1="833.8" y1="199.0" x2="835.7" y2="199.0" stroke="#ef8792" stroke-width="0.9"/>
<path d="M839.2,194.0 L836.3,194.0 Q835.7,194.0 835.7,194.6 L835.7,203.7 Q835.7,204.3 836.3,204.3 L839.2,204.3" stroke="#ef8792" stroke-width="0.9" fill="none"/>
<g transform="matrix(.056 0 0 .056 841.2 196.0)" class="tf"><use href="#n"/><use href="#o" x="100"/><use href="#bU" x="200"/><use href="#bX" x="300"/><use href="#p" x="400"/><use href="#q" x="500"/><use href="#r" x="600"/></g>
<g transform="matrix(.056 0 0 .056 841.2 206.3)" class="tf"><use href="#bY"/><use href="#bZ" x="100"/><use href="#eM" x="200"/><use href="#eN" x="300"/><use href="#p" x="400"/><use href="#q" x="500"/><use href="#r" x="600"/></g>
<line x1="105.5" y1="425.3" x2="112.0" y2="425.3" stroke="#888" stroke-width="0.9"/>
<circle cx="120.2" cy="425.3" r="3.8" stroke="#2cc45a" stroke-width="0" fill="#2cc45a"/>
<path d="M118.2,425.3 L119.7,426.8 L122.4,424.0" stroke="#fff" stroke-width="1.0" fill="none"/>
<g transform="matrix(.071 0 0 .071 125.0 427.9)" class="tb"><use href="#G"/><use href="#H" x="100"/><use href="#eO" x="200"/><use href="#J" x="261"/><use href="#x" x="361"/><use href="#y" x="461"/><use href="#eP" x="561"/><use href="#G" x="661"/></g>
<line x1="105.5" y1="739.0" x2="112.0" y2="739.0" stroke="#888" stroke-width="0.9"/>
<circle cx="120.2" cy="739.0" r="3.8" stroke="#2cc45a" stroke-width="0" fill="#2cc45a"/>
<path d="M118.2,739.0 L119.7,740.5 L122.4,737.7" stroke="#fff" stroke-width="1.0" fill="none"/>
<g transform="matrix(.071 0 0 .071 125.0 741.6)" class="tb"><use href="#G"/><use href="#H" x="100"/><use href="#eQ" x="200"/><use href="#J" x="261"/><use href="#eR" x="361"/><use href="#G" x="461"/><use href="#eS" x="561"/><use href="#eT" x="661"/></g>
<line x1="105.5" y1="1103.3" x2="112.0" y2="1103.3" stroke="#888" stroke-width="0.9"/>
<circle cx="120.2" cy="1103.3" r="3.8" stroke="#2cc45a" stroke-width="0" fill="#2cc45a"/>
<path d="M118.2,1103.3 L119.7,1104.8 L122.4,1102.0" stroke="#fff" stroke-width="1.0" fill="none"/>
<g transform="matrix(.071 0 0 .071 125.0 1105.9)" class="tb"><use href="#G"/><use href="#H" x="100"/><use href="#h" x="200"/><use href="#eU" x="261"/><use href="#eT" x="298"/><use href="#eL" x="398"/><use href="#J" x="498"/><use href="#eV" x="598"/><use href="#eW" x="698"/><use href="#cy" x="798"/><use href="#dO" x="898"/></g>
<line x1="105.5" y1="1427.0" x2="112.0" y2="1427.0" stroke="#888" stroke-width="0.9"/>
<circle cx="120.2" cy="1427.0" r="3.8" stroke="#2cc45a" stroke-width="0" fill="#2cc45a"/>
<path d="M118.2,1427.0 L119.7,1428.5 L122.4,1425.7" stroke="#fff" stroke-width="1.0" fill="none"/>
<g transform="matrix(.071 0 0 .071 125.0 1429.6)" class="tb"><use href="#G"/><use href="#H" x="100"/><use href="#E" x="200"/><use href="#eU" x="261"/><use href="#eT" x="298"/><use href="#eL" x="398"/><use href="#J" x="498"/><use href="#eX" x="598"/><use href="#eE" x="698"/><use href="#eY" x="798"/><use href="#eZ" x="898"/></g>
<line x1="185.0" y1="425.3" x2="195.0" y2="425.3" stroke="#999" stroke-width="0.9"/>
<line x1="266.7" y1="425.3" x2="272.7" y2="425.3" stroke="#999" stroke-width="0.9"/>
<line x1="320.0" y1="425.3" x2="346.7" y2="425.3" stroke="#999" stroke-width="0.9"/>
<line x1="415.0" y1="425.3" x2="436.7" y2="425.3" stroke="#999" stroke-width="0.9"/>
<line x1="475.0" y1="425.3" x2="490.0" y2="425.3" stroke="#999" stroke-width="0.9"/>
<line x1="529.3" y1="425.3" x2="593.3" y2="425.3" stroke="#999" stroke-width="0.9"/>
<line x1="631.7" y1="425.3" x2="638.3" y2="425.3" stroke="#999" stroke-width="0.9"/>
<line x1="672.7" y1="425.3" x2="728.3" y2="425.3" stroke="#999" stroke-width="0.9"/>
<line x1="765.0" y1="425.3" x2="776.7" y2="425.3" stroke="#999" stroke-width="0.9"/>
<line x1="831.1" y1="425.3" x2="868.1" y2="425.3" stroke="#999" stroke-width="0.9"/>
<line x1="931.3" y1="425.3" x2="979.3" y2="425.3" stroke="#999" stroke-width="0.9"/>
<g transform="matrix(.059 0 0 .059 215.0 427.4)" class="tc"><use href="#fa"/><use href="#fb" x="100"/><use href="#eM" x="200"/><use href="#eE" x="300"/><use href="#fc" x="400"/><use href="#fd" x="500"/><use href="#cS" x="600"/><use href="#q" x="700"/></g>
<g transform="matrix(.059 0 0 .059 290.7 427.4)" class="tc"><use href="#fe"/><use href="#ff" x="100"/><use href="#bg" x="200"/><use href="#dL" x="300"/></g>
<g transform="matrix(.059 0 0 .059 363.3 427.4)" class="tc"><use href="#fg"/><use href="#fh" x="100"/><use href="#cx" x="200"/><use href="#bC" x="300"/><use href="#fh" x="400"/><use href="#cx" x="500"/><use href="#fi" x="600"/><use href="#fj" x="700"/></g>
<g transform="matrix(.08996 0 0 .068 439.3 427.7)" class="tg"><use href="#fk"/><use href="#fl" x="67"/><use href="#fl" x="133"/></g>
<g transform="matrix(.059 0 0 .059 458.3 427.4)" class="tc"><use href="#ea"/><use href="#eb" x="100"/></g>
<g transform="matrix(.058 0 0 .058 495.0 427.4)" class="th"><use href="#fm"/><use href="#fl" x="72"/><use href="#fn" x="139"/><use href="#fo" x="211"/></g>
<g transform="matrix(.059 0 0 .059 512.7 427.4)" class="tc"><use href="#ea"/><use href="#eb" x="100"/></g>
<g transform="matrix(.058 0 0 .058 596.7 427.4)" class="ti"><use href="#fl"/><use href="#fl" x="67"/><use href="#fn" x="133"/><use href="#fo" x="206"/></g>
<g transform="matrix(.059 0 0 .059 615.0 427.4)" class="tc"><use href="#ea"/><use href="#eb" x="100"/></g>
<g transform="matrix(.058 0 0 .058 642.3 427.4)" class="tj"><use href="#fk"/><use href="#fk" x="67"/><use href="#fp" x="133"/></g>
<g transform="matrix(.059 0 0 .059 654.0 427.4)" class="tc"><use href="#ea"/><use href="#eb" x="100"/></g>
<g transform="matrix(.059 0 0 .059 748.3 427.4)" class="tc"><use href="#et"/><use href="#M" x="100"/></g>
<g transform="matrix(.059 0 0 .059 790.5 427.4)" class="tc"><use href="#fq"/><use href="#bz" x="100"/><use href="#Q" x="200"/><use href="#R" x="300"/><use href="#ea" x="400"/><use href="#eb" x="500"/></g>
<g transform="matrix(.061 0 0 .061 872.6 427.5)" class="te"><use href="#eK"/><use href="#G" x="100"/><use href="#H" x="200"/><use href="#bf" x="300"/><use href="#bg" x="400"/><use href="#bh" x="500"/><use href="#bi" x="600"/><use href="#bj" x="700"/><use href="#bk" x="800"/></g>
<g transform="matrix(.061 0 0 .061 994.0 427.5)" class="te"><use href="#bl"/><use href="#bm" x="100"/><use href="#f" x="200"/><use href="#bg" x="300"/><use href="#M" x="400"/><use href="#eO" x="500"/><use href="#E" x="561"/><use href="#bn" x="622"/><use href="#k" x="702"/></g>
<circle cx="230.7" cy="416.7" r="1.8" stroke="#8a8a8a" stroke-width="0.8" fill="#fff"/>
<path d="M230.7,414.9 L230.7,272.7 Q230.7,271.7 231.7,271.7 L234.7,271.7" stroke="#8a8a8a" stroke-width="0.9" fill="none"/>
<g transform="matrix(.056 0 0 .056 237.2 273.7)" class="tf"><use href="#fa"/><use href="#fb" x="100"/><use href="#bS" x="200"/><use href="#dC" x="300"/><use href="#bq" x="400"/><use href="#br" x="500"/></g>
<line x1="230.7" y1="297.7" x2="234.7" y2="297.7" stroke="#8a8a8a" stroke-width="0.9"/>
<g transform="matrix(.056 0 0 .056 237.2 299.7)" class="tf"><use href="#fa"/><use href="#fb" x="100"/><use href="#fc" x="200"/><use href="#fd" x="300"/><use href="#cS" x="400"/><use href="#q" x="500"/></g>
<circle cx="277.7" cy="297.7" r="1.5" stroke="#a7a7a7" stroke-width="0.75" fill="#fff"/>
<line x1="279.2" y1="297.7" x2="281.7" y2="297.7" stroke="#a7a7a7" stroke-width="0.9"/>
<path d="M285.2,281.7 L282.3,281.7 Q281.7,281.7 281.7,282.3 L281.7,312.7 Q281.7,313.3 282.3,313.3 L285.2,313.3" stroke="#a7a7a7" stroke-width="0.9" fill="none"/>
<line x1="281.7" y1="292.3" x2="285.2" y2="292.3" stroke="#a7a7a7" stroke-width="0.9"/>
<line x1="281.7" y1="302.7" x2="285.2" y2="302.7" stroke="#a7a7a7" stroke-width="0.9"/>
<g transform="matrix(.056 0 0 .056 287.2 283.7)" class="tf"><use href="#fr"/><use href="#fs" x="100"/><use href="#eW" x="200"/><use href="#fc" x="300"/></g>
<g transform="matrix(.056 0 0 .056 287.2 294.3)" class="tf"><use href="#cI"/><use href="#ft" x="100"/><use href="#bg" x="200"/><use href="#dL" x="300"/></g>
<g transform="matrix(.056 0 0 .056 287.2 304.7)" class="tf"><use href="#ea"/><use href="#eb" x="100"/><use href="#fu" x="200"/><use href="#eM" x="300"/><use href="#fv" x="400"/><use href="#fw" x="473"/><use href="#bA" x="573"/><use href="#fv" x="673"/><use href="#ce" x="747"/><use href="#bP" x="847"/></g>
<g transform="matrix(.056 0 0 .056 287.2 315.3)" class="tf"><use href="#cI"/><use href="#ft" x="100"/><use href="#fx" x="200"/><use href="#bR" x="300"/><use href="#bC" x="400"/><use href="#ff" x="500"/><use href="#fy" x="600"/></g>
<line x1="230.7" y1="329.0" x2="234.7" y2="329.0" stroke="#8a8a8a" stroke-width="0.9"/>
<g transform="matrix(.056 0 0 .056 237.2 331.0)" class="tf"><use href="#dy"/><use href="#fz" x="100"/><use href="#fA" x="200"/><use href="#fB" x="300"/><use href="#bF" x="400"/></g>
<circle cx="271.0" cy="329.0" r="1.5" stroke="#a7a7a7" stroke-width="0.75" fill="#fff"/>
<line x1="272.5" y1="329.0" x2="275.0" y2="329.0" stroke="#a7a7a7" stroke-width="0.9"/>
<path d="M278.5,324.0 L275.6,324.0 Q275.0,324.0 275.0,324.6 L275.0,333.4 Q275.0,334.0 275.6,334.0 L278.5,334.0" stroke="#a7a7a7" stroke-width="0.9" fill="none"/>
<g transform="matrix(.056 0 0 .056 280.5 326.0)" class="tf"><use href="#M"/><use href="#dT" x="100"/><use href="#bI" x="200"/><use href="#fC" x="300"/></g>
<g transform="matrix(.056 0 0 .056 280.5 336.0)" class="tf"><use href="#fD"/><use href="#dT" x="100"/><use href="#bI" x="200"/><use href="#fC" x="300"/></g>
<line x1="230.7" y1="350.0" x2="234.7" y2="350.0" stroke="#8a8a8a" stroke-width="0.9"/>
<g transform="matrix(.056 0 0 .056 237.2 352.0)" class="tf"><use href="#cL"/><use href="#cM" x="86"/><use href="#Q" x="159"/><use href="#R" x="259"/><use href="#cw" x="359"/><use href="#cx" x="459"/></g>
<circle cx="274.3" cy="350.0" r="1.5" stroke="#a7a7a7" stroke-width="0.75" fill="#fff"/>
<line x1="275.8" y1="350.0" x2="278.3" y2="350.0" stroke="#a7a7a7" stroke-width="0.9"/>
<path d="M281.8,344.7 L278.9,344.7 Q278.3,344.7 278.3,345.3 L278.3,354.4 Q278.3,355.0 278.9,355.0 L281.8,355.0" stroke="#a7a7a7" stroke-width="0.9" fill="none"/>
<g transform="matrix(.056 0 0 .056 283.8 346.7)" class="tf"><use href="#j"/><use href="#co" x="104"/><use href="#cp" x="128"/><use href="#cq" x="189"/><use href="#cr" x="251"/><use href="#bn" x="312"/><use href="#cs" x="391"/></g>
<g transform="matrix(.056 0 0 .056 283.8 357.0)" class="tf"><use href="#cA"/><use href="#co" x="61"/><use href="#cp" x="86"/><use href="#cB" x="147"/><use href="#cC" x="208"/></g>
<line x1="230.7" y1="386.7" x2="234.7" y2="386.7" stroke="#8a8a8a" stroke-width="0.9"/>
<g transform="matrix(.056 0 0 .056 237.2 388.7)" class="tf"><use href="#fE"/><use href="#fF" x="100"/><use href="#fG" x="200"/><use href="#fH" x="300"/><use href="#fI" x="400"/><use href="#ed" x="500"/><use href="#cy" x="600"/><use href="#dO" x="700"/></g>
<circle cx="284.3" cy="386.7" r="1.5" stroke="#a7a7a7" stroke-width="0.75" fill="#fff"/>
<line x1="285.8" y1="386.7" x2="292.3" y2="386.7" stroke="#a7a7a7" stroke-width="0.9"/>
<path d="M295.8,365.7 L292.9,365.7 Q292.3,365.7 292.3,366.3 L292.3,406.4 Q292.3,407.0 292.9,407.0 L295.8,407.0" stroke="#a7a7a7" stroke-width="0.9" fill="none"/>
<line x1="292.3" y1="376.0" x2="295.8" y2="376.0" stroke="#a7a7a7" stroke-width="0.9"/>
<line x1="292.3" y1="386.3" x2="295.8" y2="386.3" stroke="#a7a7a7" stroke-width="0.9"/>
<line x1="292.3" y1="396.7" x2="295.8" y2="396.7" stroke="#a7a7a7" stroke-width="0.9"/>
<g transform="matrix(.056 0 0 .056 297.8 367.7)" class="tf"><use href="#fJ"/><use href="#fK" x="100"/><use href="#fL" x="200"/><use href="#fK" x="300"/><use href="#cs" x="400"/><use href="#fM" x="455"/><use href="#ck" x="516"/><use href="#cu" x="577"/><use href="#cu" x="602"/></g>
<g transform="matrix(.056 0 0 .056 297.8 378.0)" class="tf"><use href="#fq"/><use href="#bz" x="100"/><use href="#fN" x="200"/><use href="#fO" x="300"/></g>
<g transform="matrix(.056 0 0 .056 297.8 388.3)" class="tf"><use href="#dA"/><use href="#fh" x="100"/><use href="#fP" x="200"/><use href="#fQ" x="300"/></g>
<g transform="matrix(.056 0 0 .056 297.8 398.7)" class="tf"><use href="#fR"/><use href="#fS" x="100"/><use href="#X" x="231"/><use href="#ci" x="304"/><use href="#cp" x="365"/><use href="#cp" x="426"/><use href="#ck" x="487"/><use href="#cj" x="549"/></g>
<g transform="matrix(.056 0 0 .056 297.8 409.0)" class="tf"><use href="#fL"/><use href="#fT" x="100"/><use href="#cs" x="200"/><use href="#fM" x="255"/><use href="#ck" x="316"/><use href="#cu" x="377"/><use href="#cu" x="402"/></g>
<circle cx="380.7" cy="416.0" r="1.8" stroke="#8a8a8a" stroke-width="0.8" fill="#fff"/>
<path d="M380.7,414.2 L380.7,333.7 Q380.7,332.7 381.7,332.7 L384.7,332.7" stroke="#8a8a8a" stroke-width="0.9" fill="none"/>
<g transform="matrix(.056 0 0 .056 387.2 334.7)" class="tf"><use href="#fg"/><use href="#fh" x="100"/><use href="#cx" x="200"/><use href="#K" x="300"/><use href="#eg" x="400"/><use href="#bS" x="500"/><use href="#dC" x="600"/></g>
<circle cx="433.3" cy="332.7" r="1.5" stroke="#a7a7a7" stroke-width="0.75" fill="#fff"/>
<line x1="434.8" y1="332.7" x2="436.7" y2="332.7" stroke="#a7a7a7" stroke-width="0.9"/>
<path d="M440.2,312.0 L437.3,312.0 Q436.7,312.0 436.7,312.6 L436.7,352.7 Q436.7,353.3 437.3,353.3 L440.2,353.3" stroke="#a7a7a7" stroke-width="0.9" fill="none"/>
<line x1="436.7" y1="322.3" x2="440.2" y2="322.3" stroke="#a7a7a7" stroke-width="0.9"/>
<line x1="436.7" y1="332.7" x2="440.2" y2="332.7" stroke="#a7a7a7" stroke-width="0.9"/>
<line x1="436.7" y1="343.0" x2="440.2" y2="343.0" stroke="#a7a7a7" stroke-width="0.9"/>
<g transform="matrix(.056 0 0 .056 442.2 314.0)" class="tf"><use href="#fg"/><use href="#fh" x="100"/><use href="#cx" x="200"/><use href="#bS" x="300"/><use href="#bT" x="400"/></g>
<g transform="matrix(.056 0 0 .056 442.2 324.3)" class="tf"><use href="#fg"/><use href="#fh" x="100"/><use href="#cx" x="200"/><use href="#ce" x="300"/><use href="#cf" x="400"/><use href="#bW" x="500"/><use href="#fU" x="600"/><use href="#fV" x="700"/></g>
<g transform="matrix(.056 0 0 .056 442.2 334.7)" class="tf"><use href="#ec"/><use href="#fW" x="100"/><use href="#dE" x="200"/><use href="#fg" x="300"/><use href="#fh" x="400"/><use href="#cx" x="500"/></g>
<g transform="matrix(.056 0 0 .056 442.2 345.0)" class="tf"><use href="#fX"/><use href="#fY" x="100"/><use href="#bg" x="200"/><use href="#dL" x="300"/></g>
<g transform="matrix(.056 0 0 .056 442.2 355.3)" class="tf"><use href="#fh"/><use href="#cx" x="100"/><use href="#fj" x="200"/><use href="#cV" x="300"/><use href="#dg" x="400"/><use href="#dh" x="500"/><use href="#cV" x="600"/><use href="#bP" x="700"/></g>
<line x1="380.7" y1="369.0" x2="384.7" y2="369.0" stroke="#8a8a8a" stroke-width="0.9"/>
<g transform="matrix(.056 0 0 .056 387.2 371.0)" class="tf"><use href="#fh"/><use href="#cx" x="100"/><use href="#fi" x="200"/><use href="#fj" x="300"/></g>
<circle cx="416.0" cy="369.0" r="1.5" stroke="#a7a7a7" stroke-width="0.75" fill="#fff"/>
<line x1="417.5" y1="369.0" x2="420.0" y2="369.0" stroke="#a7a7a7" stroke-width="0.9"/>
<path d="M423.5,364.0 L420.6,364.0 Q420.0,364.0 420.0,364.6 L420.0,373.7 Q420.0,374.3 420.6,374.3 L423.5,374.3" stroke="#a7a7a7" stroke-width="0.9" fill="none"/>
<g transform="matrix(.056 0 0 .056 425.5 366.0)" class="tf"><use href="#ec"/><use href="#fW" x="100"/><use href="#dE" x="200"/><use href="#fg" x="300"/><use href="#fh" x="400"/><use href="#cx" x="500"/><use href="#fi" x="600"/><use href="#fj" x="700"/><use href="#p" x="800"/><use href="#ee" x="900"/></g>
<g transform="matrix(.056 0 0 .056 425.5 376.3)" class="tf"><use href="#fg"/><use href="#fh" x="100"/><use href="#cx" x="200"/><use href="#fj" x="300"/><use href="#cV" x="400"/></g>
<line x1="380.7" y1="395.3" x2="384.7" y2="395.3" stroke="#8a8a8a" stroke-width="0.9"/>
<g transform="matrix(.056 0 0 .056 387.2 397.3)" class="tf"><use href="#fi"/><use href="#fj" x="100"/><use href="#cy" x="200"/><use href="#dO" x="300"/></g>
<circle cx="416.0" cy="395.3" r="1.5" stroke="#a7a7a7" stroke-width="0.75" fill="#fff"/>
<line x1="417.5" y1="395.3" x2="420.0" y2="395.3" stroke="#a7a7a7" stroke-width="0.9"/>
<path d="M423.5,385.0 L420.6,385.0 Q420.0,385.0 420.0,385.6 L420.0,405.1 Q420.0,405.7 420.6,405.7 L423.5,405.7" stroke="#a7a7a7" stroke-width="0.9" fill="none"/>
<line x1="420.0" y1="395.3" x2="423.5" y2="395.3" stroke="#a7a7a7" stroke-width="0.9"/>
<g transform="matrix(.056 0 0 .056 425.5 387.0)" class="tf"><use href="#fZ"/><use href="#ga" x="100"/><use href="#gb" x="200"/><use href="#z" x="300"/></g>
<g transform="matrix(.056 0 0 .056 425.5 397.3)" class="tf"><use href="#j"/><use href="#cr" x="104"/><use href="#cj" x="165"/><use href="#cq" x="202"/><use href="#gc" x="263"/><use href="#dl" x="363"/><use href="#fj" x="463"/><use href="#cV" x="563"/><use href="#cy" x="663"/><use href="#dO" x="763"/></g>
<g transform="matrix(.056 0 0 .056 425.5 407.7)" class="tf"><use href="#gd"/><use href="#cN" x="67"/><use href="#bb" x="98"/><use href="#gc" x="171"/><use href="#dl" x="271"/><use href="#fj" x="371"/><use href="#cV" x="471"/><use href="#cy" x="571"/><use href="#dO" x="671"/></g>
<circle cx="510.7" cy="416.7" r="1.8" stroke="#8a8a8a" stroke-width="0.8" fill="#fff"/>
<path d="M510.7,414.9 L510.7,369.3 Q510.7,368.3 511.7,368.3 L514.7,368.3" stroke="#8a8a8a" stroke-width="0.9" fill="none"/>
<g transform="matrix(.056 0 0 .056 517.2 370.3)" class="tf"><use href="#cY"/><use href="#cM" x="79"/><use href="#dd" x="153"/><use href="#ge" x="232"/><use href="#ea" x="299"/><use href="#eb" x="399"/><use href="#gf" x="499"/><use href="#ed" x="599"/></g>
<circle cx="559.3" cy="368.3" r="1.5" stroke="#a7a7a7" stroke-width="0.75" fill="#fff"/>
<line x1="560.8" y1="368.3" x2="562.7" y2="368.3" stroke="#a7a7a7" stroke-width="0.9"/>
<path d="M566.2,350.0 L563.3,350.0 Q562.7,350.0 562.7,350.6 L562.7,386.1 Q562.7,386.7 563.3,386.7 L566.2,386.7" stroke="#a7a7a7" stroke-width="0.9" fill="none"/>
<line x1="562.7" y1="365.7" x2="566.2" y2="365.7" stroke="#a7a7a7" stroke-width="0.9"/>
<line x1="562.7" y1="376.0" x2="566.2" y2="376.0" stroke="#a7a7a7" stroke-width="0.9"/>
<g transform="matrix(.056 0 0 .056 568.2 352.0)" class="tf"><use href="#cY"/><use href="#cM" x="79"/><use href="#dd" x="153"/><use href="#ge" x="232"/><use href="#bq" x="299"/><use href="#br" x="399"/></g>
<circle cx="600.0" cy="350.0" r="1.5" stroke="#bdbdbd" stroke-width="0.75" fill="#fff"/>
<line x1="601.5" y1="350.0" x2="604.0" y2="350.0" stroke="#bdbdbd" stroke-width="0.9"/>
<path d="M607.5,345.0 L604.6,345.0 Q604.0,345.0 604.0,345.6 L604.0,354.7 Q604.0,355.3 604.6,355.3 L607.5,355.3" stroke="#bdbdbd" stroke-width="0.9" fill="none"/>
<g transform="matrix(.056 0 0 .056 609.5 347.0)" class="tf"><use href="#cY"/><use href="#cr" x="79"/><use href="#cr" x="141"/><use href="#gg" x="202"/><use href="#co" x="257"/><use href="#ck" x="281"/></g>
<g transform="matrix(.056 0 0 .056 609.5 357.3)" class="tf"><use href="#cM"/><use href="#ck" x="73"/><use href="#cs" x="135"/><use href="#cs" x="190"/><use href="#co" x="245"/><use href="#cr" x="269"/><use href="#cp" x="330"/></g>
<g transform="matrix(.056 0 0 .056 568.2 367.7)" class="tf"><use href="#cY"/><use href="#cM" x="79"/><use href="#dd" x="153"/><use href="#ge" x="232"/><use href="#dp" x="299"/><use href="#dq" x="399"/><use href="#bs" x="499"/><use href="#eS" x="599"/><use href="#gh" x="699"/><use href="#bz" x="799"/></g>
<g transform="matrix(.056 0 0 .056 568.2 378.0)" class="tf"><use href="#cY"/><use href="#cM" x="79"/><use href="#dd" x="153"/><use href="#ge" x="232"/><use href="#dp" x="299"/><use href="#dq" x="399"/><use href="#cJ" x="499"/><use href="#bR" x="599"/><use href="#cV" x="699"/><use href="#cZ" x="799"/></g>
<g transform="matrix(.056 0 0 .056 568.2 388.7)" class="tf"><use href="#cY"/><use href="#cM" x="79"/><use href="#dd" x="153"/><use href="#ge" x="232"/><use href="#dp" x="299"/><use href="#dq" x="399"/><use href="#cf" x="499"/><use href="#cP" x="599"/><use href="#ce" x="699"/><use href="#bP" x="799"/></g>
<line x1="510.7" y1="402.0" x2="514.7" y2="402.0" stroke="#8a8a8a" stroke-width="0.9"/>
<g transform="matrix(.056 0 0 .056 517.2 404.0)" class="tf"><use href="#cY"/><use href="#cM" x="79"/><use href="#dd" x="153"/><use href="#ge" x="232"/><use href="#ea" x="299"/><use href="#eb" x="399"/><use href="#cy" x="499"/><use href="#dO" x="599"/></g>
<circle cx="559.3" cy="402.0" r="1.5" stroke="#a7a7a7" stroke-width="0.75" fill="#fff"/>
<line x1="560.8" y1="402.0" x2="562.7" y2="402.0" stroke="#a7a7a7" stroke-width="0.9"/>
<path d="M566.2,396.7 L563.3,396.7 Q562.7,396.7 562.7,397.3 L562.7,406.4 Q562.7,407.0 563.3,407.0 L566.2,407.0" stroke="#a7a7a7" stroke-width="0.9" fill="none"/>
<g transform="matrix(.056 0 0 .056 568.2 398.7)" class="tf"><use href="#cY"/><use href="#cM" x="79"/><use href="#dd" x="153"/><use href="#ge" x="232"/><use href="#ea" x="299"/><use href="#eb" x="399"/><use href="#gi" x="499"/><use href="#gj" x="599"/></g>
<g transform="matrix(.056 0 0 .056 568.2 409.0)" class="tf"><use href="#cY"/><use href="#cM" x="79"/><use href="#dd" x="153"/><use href="#ge" x="232"/><use href="#ea" x="299"/><use href="#eb" x="399"/><use href="#dy" x="499"/><use href="#dz" x="599"/></g>
<circle cx="655.0" cy="416.7" r="1.8" stroke="#8a8a8a" stroke-width="0.8" fill="#fff"/>
<path d="M655.0,414.9 L655.0,340.3 Q655.0,339.3 656.0,339.3 L659.0,339.3" stroke="#8a8a8a" stroke-width="0.9" fill="none"/>
<g transform="matrix(.056 0 0 .056 661.5 341.3)" class="tf"><use href="#dZ"/><use href="#dZ" x="73"/><use href="#W" x="147"/><use href="#ea" x="220"/><use href="#eb" x="320"/><use href="#K" x="420"/><use href="#L" x="520"/></g>
<circle cx="701.0" cy="339.3" r="1.5" stroke="#a7a7a7" stroke-width="0.75" fill="#fff"/>
<line x1="702.5" y1="339.3" x2="704.3" y2="339.3" stroke="#a7a7a7" stroke-width="0.9"/>
<path d="M707.8,334.0 L704.9,334.0 Q704.3,334.0 704.3,334.6 L704.3,344.1 Q704.3,344.7 704.9,344.7 L707.8,344.7" stroke="#a7a7a7" stroke-width="0.9" fill="none"/>
<g transform="matrix(.056 0 0 .056 709.8 336.0)" class="tf"><use href="#dZ"/><use href="#dZ" x="73"/><use href="#W" x="147"/><use href="#bq" x="220"/><use href="#br" x="320"/><use href="#bC" x="420"/><use href="#fU" x="520"/><use href="#fV" x="620"/></g>
<g transform="matrix(.056 0 0 .056 709.8 346.7)" class="tf"><use href="#dZ"/><use href="#dM" x="73"/><use href="#cA" x="165"/><use href="#bC" x="226"/><use href="#bc" x="326"/><use href="#da" x="406"/><use href="#dM" x="473"/><use href="#cA" x="564"/><use href="#gk" x="626"/><use href="#gl" x="726"/></g>
<line x1="655.0" y1="381.7" x2="659.0" y2="381.7" stroke="#8a8a8a" stroke-width="0.9"/>
<g transform="matrix(.056 0 0 .056 661.5 383.7)" class="tf"><use href="#dZ"/><use href="#dZ" x="73"/><use href="#W" x="147"/><use href="#ea" x="220"/><use href="#eb" x="320"/><use href="#gf" x="420"/><use href="#ed" x="520"/><use href="#bC" x="620"/><use href="#dy" x="720"/><use href="#dz" x="820"/></g>
<circle cx="718.3" cy="381.7" r="1.5" stroke="#a7a7a7" stroke-width="0.75" fill="#fff"/>
<line x1="719.8" y1="381.7" x2="721.7" y2="381.7" stroke="#a7a7a7" stroke-width="0.9"/>
<path d="M725.2,355.0 L722.3,355.0 Q721.7,355.0 721.7,355.6 L721.7,406.7 Q721.7,407.3 722.3,407.3 L725.2,407.3" stroke="#a7a7a7" stroke-width="0.9" fill="none"/>
<line x1="721.7" y1="365.7" x2="725.2" y2="365.7" stroke="#a7a7a7" stroke-width="0.9"/>
<line x1="721.7" y1="376.0" x2="725.2" y2="376.0" stroke="#a7a7a7" stroke-width="0.9"/>
<line x1="721.7" y1="386.7" x2="725.2" y2="386.7" stroke="#a7a7a7" stroke-width="0.9"/>
<line x1="721.7" y1="397.0" x2="725.2" y2="397.0" stroke="#a7a7a7" stroke-width="0.9"/>
<g transform="matrix(.056 0 0 .056 727.2 357.0)" class="tf"><use href="#dZ"/><use href="#dZ" x="73"/><use href="#W" x="147"/><use href="#ea" x="220"/><use href="#eb" x="320"/><use href="#cJ" x="420"/><use href="#bR" x="520"/><use href="#cV" x="620"/><use href="#cZ" x="720"/></g>
<g transform="matrix(.056 0 0 .056 727.2 367.7)" class="tf"><use href="#dZ"/><use href="#dZ" x="73"/><use href="#W" x="147"/><use href="#ea" x="220"/><use href="#eb" x="320"/><use href="#ce" x="420"/><use href="#cf" x="520"/></g>
<g transform="matrix(.056 0 0 .056 727.2 378.0)" class="tf"><use href="#dZ"/><use href="#dZ" x="73"/><use href="#W" x="147"/><use href="#ea" x="220"/><use href="#eb" x="320"/><use href="#ce" x="420"/><use href="#bP" x="520"/></g>
<g transform="matrix(.056 0 0 .056 727.2 388.7)" class="tf"><use href="#dZ"/><use href="#dZ" x="73"/><use href="#W" x="147"/><use href="#bJ" x="220"/><use href="#bK" x="320"/><use href="#gm" x="420"/><use href="#cV" x="520"/></g>
<g transform="matrix(.056 0 0 .056 727.2 399.0)" class="tf"><use href="#dZ"/><use href="#dZ" x="73"/><use href="#W" x="147"/><use href="#eR" x="220"/><use href="#G" x="320"/><use href="#gf" x="420"/><use href="#ed" x="520"/><use href="#cy" x="620"/><use href="#dO" x="720"/></g>
<g transform="matrix(.056 0 0 .056 727.2 409.3)" class="tf"><use href="#dZ"/><use href="#dZ" x="73"/><use href="#W" x="147"/><use href="#eR" x="220"/><use href="#G" x="320"/><use href="#dy" x="420"/><use href="#dz" x="520"/><use href="#cy" x="620"/><use href="#dO" x="720"/></g>
<circle cx="803.6" cy="417.2" r="1.8" stroke="#8a8a8a" stroke-width="0.8" fill="#fff"/>
<path d="M803.6,415.4 L803.6,316.3 Q803.6,315.3 804.6,315.3 L807.6,315.3" stroke="#8a8a8a" stroke-width="0.9" fill="none"/>
<g transform="matrix(.056 0 0 .056 810.1 317.3)" class="tf"><use href="#fq"/><use href="#bz" x="100"/><use href="#gn" x="200"/><use href="#fN" x="300"/><use href="#ea" x="400"/><use href="#eb" x="500"/></g>
<circle cx="850.8" cy="315.3" r="1.5" stroke="#a7a7a7" stroke-width="0.75" fill="#fff"/>
<line x1="852.3" y1="315.3" x2="853.6" y2="315.3" stroke="#a7a7a7" stroke-width="0.9"/>
<path d="M857.1,292.2 L854.2,292.2 Q853.6,292.2 853.6,292.8 L853.6,338.8 Q853.6,339.4 854.2,339.4 L857.1,339.4" stroke="#a7a7a7" stroke-width="0.9" fill="none"/>
<line x1="853.6" y1="302.8" x2="857.1" y2="302.8" stroke="#a7a7a7" stroke-width="0.9"/>
<line x1="853.6" y1="313.1" x2="857.1" y2="313.1" stroke="#a7a7a7" stroke-width="0.9"/>
<line x1="853.6" y1="323.6" x2="857.1" y2="323.6" stroke="#a7a7a7" stroke-width="0.9"/>
<g transform="matrix(.056 0 0 .056 859.1 294.2)" class="tf"><use href="#ea"/><use href="#eb" x="100"/><use href="#bS" x="200"/><use href="#bT" x="300"/><use href="#go" x="400"/><use href="#cS" x="500"/><use href="#q" x="600"/><use href="#bW" x="700"/><use href="#gp" x="800"/><use href="#eM" x="900"/><use href="#cJ" x="1000"/><use href="#bR" x="1100"/></g>
<g transform="matrix(.056 0 0 .056 859.1 304.8)" class="tf"><use href="#fq"/><use href="#bz" x="100"/><use href="#gn" x="200"/><use href="#fN" x="300"/><use href="#ea" x="400"/><use href="#eb" x="500"/><use href="#dE" x="600"/><use href="#gq" x="700"/><use href="#gb" x="800"/><use href="#bC" x="900"/><use href="#fU" x="1000"/><use href="#fV" x="1100"/></g>
<g transform="matrix(.056 0 0 .056 859.1 315.1)" class="tf"><use href="#fq"/><use href="#bz" x="100"/><use href="#gn" x="200"/><use href="#fN" x="300"/><use href="#gp" x="400"/><use href="#eM" x="500"/><use href="#gr" x="600"/><use href="#gs" x="700"/><use href="#cy" x="800"/><use href="#dO" x="900"/></g>
<g transform="matrix(.056 0 0 .056 859.1 325.6)" class="tf"><use href="#cV"/><use href="#bP" x="100"/><use href="#bC" x="200"/><use href="#bd" x="300"/><use href="#gt" x="400"/><use href="#gu" x="500"/><use href="#ea" x="600"/><use href="#eb" x="700"/><use href="#cy" x="800"/><use href="#dO" x="900"/></g>
<g transform="matrix(.056 0 0 .056 859.1 341.4)" class="tf"><use href="#j"/><use href="#ci" x="104"/><use href="#gv" x="165"/><use href="#gr" x="196"/><use href="#gs" x="296"/><use href="#cy" x="396"/><use href="#dO" x="496"/></g>
<circle cx="898.9" cy="339.4" r="1.5" stroke="#bdbdbd" stroke-width="0.75" fill="#fff"/>
<line x1="900.4" y1="339.4" x2="902.2" y2="339.4" stroke="#bdbdbd" stroke-width="0.9"/>
<path d="M905.7,333.9 L902.8,333.9 Q902.2,333.9 902.2,334.5 L902.2,343.8 Q902.2,344.4 902.8,344.4 L905.7,344.4" stroke="#bdbdbd" stroke-width="0.9" fill="none"/>
<g transform="matrix(.056 0 0 .056 907.7 335.9)" class="tf"><use href="#Y"/><use href="#Z" x="100"/><use href="#gw" x="200"/><use href="#fD" x="300"/></g>
<g transform="matrix(.056 0 0 .056 907.7 346.4)" class="tf"><use href="#gv"/><use href="#cB" x="31"/><use href="#gx" x="92"/><use href="#gx" x="147"/></g>
<line x1="803.6" y1="360.3" x2="807.6" y2="360.3" stroke="#8a8a8a" stroke-width="0.9"/>
<g transform="matrix(.056 0 0 .056 810.1 362.3)" class="tf"><use href="#gy"/><use href="#gz" x="100"/><use href="#gu" x="200"/><use href="#cV" x="300"/><use href="#bP" x="400"/><use href="#ea" x="500"/><use href="#eb" x="600"/></g>
<circle cx="855.0" cy="360.3" r="1.5" stroke="#a7a7a7" stroke-width="0.75" fill="#fff"/>
<line x1="856.5" y1="360.3" x2="858.6" y2="360.3" stroke="#a7a7a7" stroke-width="0.9"/>
<path d="M862.1,354.7 L859.2,354.7 Q858.6,354.7 858.6,355.3 L858.6,364.4 Q858.6,365.0 859.2,365.0 L862.1,365.0" stroke="#a7a7a7" stroke-width="0.9" fill="none"/>
<g transform="matrix(.056 0 0 .056 864.1 356.7)" class="tf"><use href="#ea"/><use href="#eb" x="100"/><use href="#bS" x="200"/><use href="#bT" x="300"/></g>
<g transform="matrix(.056 0 0 .056 864.1 367.0)" class="tf"><use href="#cN"/><use href="#cN" x="31"/><use href="#cM" x="61"/><use href="#bW" x="134"/><use href="#dc" x="234"/><use href="#dt" x="308"/><use href="#ci" x="369"/><use href="#dR" x="430"/><use href="#fM" x="485"/><use href="#ck" x="546"/><use href="#bW" x="608"/><use href="#cX" x="708"/><use href="#gA" x="787"/><use href="#co" x="848"/><use href="#cp" x="873"/><use href="#cC" x="934"/><use href="#bY" x="989"/><use href="#cV" x="1089"/><use href="#bP" x="1189"/><use href="#ea" x="1289"/><use href="#eb" x="1389"/><use href="#ce" x="1489"/><use href="#bP" x="1589"/><use href="#bC" x="1689"/><use href="#dy" x="1789"/><use href="#dz" x="1889"/></g>
<line x1="803.6" y1="391.4" x2="807.6" y2="391.4" stroke="#8a8a8a" stroke-width="0.9"/>
<g transform="matrix(.056 0 0 .056 810.1 393.4)" class="tf"><use href="#fq"/><use href="#bz" x="100"/><use href="#di" x="200"/><use href="#gB" x="300"/><use href="#fv" x="400"/><use href="#gC" x="473"/><use href="#gD" x="573"/><use href="#cZ" x="673"/><use href="#gE" x="773"/><use href="#ea" x="873"/><use href="#eb" x="973"/></g>
<circle cx="877.2" cy="391.4" r="1.5" stroke="#a7a7a7" stroke-width="0.75" fill="#fff"/>
<line x1="878.7" y1="391.4" x2="880.6" y2="391.4" stroke="#a7a7a7" stroke-width="0.9"/>
<path d="M884.1,375.6 L881.2,375.6 Q880.6,375.6 880.6,376.2 L880.6,406.3 Q880.6,406.9 881.2,406.9 L884.1,406.9" stroke="#a7a7a7" stroke-width="0.9" fill="none"/>
<line x1="880.6" y1="386.1" x2="884.1" y2="386.1" stroke="#a7a7a7" stroke-width="0.9"/>
<line x1="880.6" y1="396.7" x2="884.1" y2="396.7" stroke="#a7a7a7" stroke-width="0.9"/>
<g transform="matrix(.056 0 0 .056 886.1 377.6)" class="tf"><use href="#ea"/><use href="#eb" x="100"/><use href="#bS" x="200"/><use href="#bT" x="300"/><use href="#bW" x="400"/><use href="#gf" x="500"/><use href="#ed" x="600"/><use href="#gh" x="700"/><use href="#bz" x="800"/><use href="#cv" x="900"/><use href="#fU" x="1000"/><use href="#fV" x="1100"/></g>
<g transform="matrix(.056 0 0 .056 886.1 388.1)" class="tf"><use href="#ec"/><use href="#fW" x="100"/><use href="#gF" x="200"/><use href="#eg" x="300"/><use href="#dN" x="400"/><use href="#gG" x="500"/><use href="#fU" x="600"/><use href="#gH" x="700"/><use href="#ez" x="800"/><use href="#Y" x="900"/><use href="#cV" x="1000"/><use href="#cZ" x="1100"/></g>
<g transform="matrix(.056 0 0 .056 886.1 398.7)" class="tf"><use href="#fq"/><use href="#bz" x="100"/><use href="#di" x="200"/><use href="#gB" x="300"/><use href="#ea" x="400"/><use href="#eb" x="500"/><use href="#gI" x="600"/><use href="#gi" x="700"/><use href="#bC" x="800"/><use href="#dy" x="900"/><use href="#dz" x="1000"/><use href="#cy" x="1100"/><use href="#dO" x="1200"/></g>
<g transform="matrix(.056 0 0 .056 886.1 408.9)" class="tf"><use href="#fq"/><use href="#bz" x="100"/><use href="#gC" x="200"/><use href="#gD" x="300"/><use href="#db" x="400"/><use href="#cZ" x="431"/><use href="#gE" x="531"/><use href="#ea" x="631"/><use href="#eb" x="731"/><use href="#gf" x="831"/><use href="#ed" x="931"/><use href="#cy" x="1031"/><use href="#dO" x="1131"/></g>
<circle cx="296.7" cy="433.3" r="1.8" stroke="#8a8a8a" stroke-width="0.8" fill="#fff"/>
<path d="M296.7,435.1 L296.7,565.0 Q296.7,566.0 297.7,566.0 L300.7,566.0" stroke="#8a8a8a" stroke-width="0.9" fill="none"/>
<line x1="296.7" y1="443.3" x2="300.7" y2="443.3" stroke="#8a8a8a" stroke-width="0.9"/>
<g transform="matrix(.056 0 0 .056 303.2 445.3)" class="tf"><use href="#K"/><use href="#eg" x="100"/><use href="#cI" x="200"/><use href="#ft" x="300"/><use href="#bg" x="400"/><use href="#dL" x="500"/></g>
<circle cx="343.3" cy="443.3" r="1.5" stroke="#a7a7a7" stroke-width="0.75" fill="#fff"/>
<line x1="344.8" y1="443.3" x2="346.5" y2="443.3" stroke="#a7a7a7" stroke-width="0.9"/>
<line x1="346.5" y1="443.3" x2="350.0" y2="443.3" stroke="#a7a7a7" stroke-width="0.9"/>
<g transform="matrix(.056 0 0 .056 352.0 445.3)" class="tf"><use href="#Q"/><use href="#R" x="100"/><use href="#S" x="200"/><use href="#T" x="300"/><use href="#db" x="400"/><use href="#dm" x="431"/><use href="#dn" x="531"/><use href="#bz" x="631"/><use href="#db" x="731"/><use href="#gJ" x="761"/><use href="#gK" x="861"/><use href="#dl" x="961"/><use href="#db" x="1061"/><use href="#Y" x="1092"/><use href="#Z" x="1192"/><use href="#ba" x="1292"/></g>
<line x1="296.7" y1="464.7" x2="300.7" y2="464.7" stroke="#8a8a8a" stroke-width="0.9"/>
<g transform="matrix(.056 0 0 .056 303.2 466.7)" class="tf"><use href="#cT"/><use href="#cU" x="100"/><use href="#cI" x="200"/><use href="#ft" x="300"/><use href="#bg" x="400"/><use href="#dL" x="500"/></g>
<circle cx="342.7" cy="464.7" r="1.5" stroke="#a7a7a7" stroke-width="0.75" fill="#fff"/>
<line x1="344.2" y1="464.7" x2="346.0" y2="464.7" stroke="#a7a7a7" stroke-width="0.9"/>
<path d="M349.5,454.3 L346.6,454.3 Q346.0,454.3 346.0,454.9 L346.0,474.4 Q346.0,475.0 346.6,475.0 L349.5,475.0" stroke="#a7a7a7" stroke-width="0.9" fill="none"/>
<line x1="346.0" y1="464.7" x2="349.5" y2="464.7" stroke="#a7a7a7" stroke-width="0.9"/>
<g transform="matrix(.056 0 0 .056 351.5 456.3)" class="tf"><use href="#cs"/><use href="#cB" x="55"/><use href="#ds" x="116"/><use href="#cW" x="177"/><use href="#cr" x="257"/><use href="#ch" x="318"/><use href="#ci" x="410"/><use href="#co" x="471"/><use href="#cp" x="495"/><use href="#cs" x="556"/><use href="#X" x="611"/><use href="#cj" x="685"/><use href="#cB" x="721"/><use href="#du" x="783"/><use href="#ck" x="813"/><use href="#p" x="874"/><use href="#ee" x="974"/></g>
<g transform="matrix(.056 0 0 .056 351.5 466.7)" class="tf"><use href="#gL"/><use href="#dT" x="100"/></g>
<g transform="matrix(.056 0 0 .056 351.5 477.0)" class="tf"><use href="#cu"/><use href="#ds" x="24"/><use href="#cs" x="86"/><use href="#dR" x="141"/><use href="#ci" x="196"/><use href="#cp" x="257"/></g>
<line x1="296.7" y1="496.0" x2="300.7" y2="496.0" stroke="#8a8a8a" stroke-width="0.9"/>
<g transform="matrix(.056 0 0 .056 303.2 498.0)" class="tf"><use href="#dA"/><use href="#fh" x="100"/><use href="#fP" x="200"/><use href="#fQ" x="300"/></g>
<circle cx="330.7" cy="496.0" r="1.5" stroke="#a7a7a7" stroke-width="0.75" fill="#fff"/>
<line x1="332.2" y1="496.0" x2="335.0" y2="496.0" stroke="#a7a7a7" stroke-width="0.9"/>
<path d="M338.5,485.7 L335.6,485.7 Q335.0,485.7 335.0,486.3 L335.0,506.1 Q335.0,506.7 335.6,506.7 L338.5,506.7" stroke="#a7a7a7" stroke-width="0.9" fill="none"/>
<line x1="335.0" y1="496.0" x2="338.5" y2="496.0" stroke="#a7a7a7" stroke-width="0.9"/>
<g transform="matrix(.056 0 0 .056 340.5 487.7)" class="tf"><use href="#cX"/><use href="#cY" x="79"/><use href="#p" x="159"/><use href="#ee" x="259"/></g>
<g transform="matrix(.056 0 0 .056 340.5 498.0)" class="tf"><use href="#ch"/><use href="#ci" x="92"/><use href="#cs" x="153"/><use href="#cs" x="208"/><use href="#dR" x="263"/><use href="#ci" x="318"/><use href="#cp" x="379"/></g>
<g transform="matrix(.056 0 0 .056 340.5 508.7)" class="tf"><use href="#cp"/><use href="#ch" x="61"/><use href="#ci" x="153"/><use href="#dt" x="214"/></g>
<line x1="296.7" y1="527.3" x2="300.7" y2="527.3" stroke="#8a8a8a" stroke-width="0.9"/>
<g transform="matrix(.056 0 0 .056 303.2 529.3)" class="tf"><use href="#eW"/><use href="#gM" x="100"/><use href="#gN" x="200"/><use href="#bu" x="300"/></g>
<circle cx="330.7" cy="527.3" r="1.5" stroke="#a7a7a7" stroke-width="0.75" fill="#fff"/>
<line x1="332.2" y1="527.3" x2="335.0" y2="527.3" stroke="#a7a7a7" stroke-width="0.9"/>
<path d="M338.5,517.0 L335.6,517.0 Q335.0,517.0 335.0,517.6 L335.0,537.1 Q335.0,537.7 335.6,537.7 L338.5,537.7" stroke="#a7a7a7" stroke-width="0.9" fill="none"/>
<line x1="335.0" y1="527.3" x2="338.5" y2="527.3" stroke="#a7a7a7" stroke-width="0.9"/>
<g transform="matrix(.056 0 0 .056 340.5 519.0)" class="tf"><use href="#dA"/><use href="#fh" x="100"/><use href="#fP" x="200"/><use href="#fQ" x="300"/></g>
<g transform="matrix(.056 0 0 .056 340.5 529.3)" class="tf"><use href="#eW"/><use href="#gM" x="100"/><use href="#gN" x="200"/><use href="#bu" x="300"/></g>
<g transform="matrix(.056 0 0 .056 340.5 539.7)" class="tf"><use href="#bn"/><use href="#ck" x="79"/><use href="#ds" x="141"/><use href="#cI" x="202"/><use href="#ft" x="302"/><use href="#gO" x="402"/><use href="#fu" x="502"/></g>
<g transform="matrix(.056 0 0 .056 303.2 568.0)" class="tf"><use href="#bn"/><use href="#ck" x="79"/><use href="#ds" x="141"/><use href="#cI" x="202"/><use href="#ft" x="302"/><use href="#gO" x="402"/><use href="#fu" x="502"/></g>
<circle cx="342.7" cy="566.0" r="1.5" stroke="#a7a7a7" stroke-width="0.75" fill="#fff"/>
<line x1="344.2" y1="566.0" x2="346.7" y2="566.0" stroke="#a7a7a7" stroke-width="0.9"/>
<path d="M350.2,553.7 L347.3,553.7 Q346.7,553.7 346.7,554.3 L346.7,578.7 Q346.7,579.3 347.3,579.3 L350.2,579.3" stroke="#a7a7a7" stroke-width="0.9" fill="none"/>
<line x1="346.7" y1="569.0" x2="350.2" y2="569.0" stroke="#a7a7a7" stroke-width="0.9"/>
<g transform="matrix(.056 0 0 .056 352.2 555.7)" class="tf"><use href="#gP"/><use href="#gQ" x="100"/><use href="#gR" x="200"/><use href="#gS" x="300"/></g>
<circle cx="381.0" cy="553.7" r="1.5" stroke="#bdbdbd" stroke-width="0.75" fill="#fff"/>
<line x1="382.5" y1="553.7" x2="384.0" y2="553.7" stroke="#bdbdbd" stroke-width="0.9"/>
<path d="M387.5,548.3 L384.6,548.3 Q384.0,548.3 384.0,548.9 L384.0,558.4 Q384.0,559.0 384.6,559.0 L387.5,559.0" stroke="#bdbdbd" stroke-width="0.9" fill="none"/>
<g transform="matrix(.056 0 0 .056 389.5 550.3)" class="tf"><use href="#gv"/><use href="#cr" x="31"/><use href="#gv" x="92"/><use href="#ci" x="122"/></g>
<g transform="matrix(.056 0 0 .056 389.5 561.0)" class="tf"><use href="#ef"/><use href="#cB" x="61"/><use href="#ci" x="122"/><use href="#gg" x="184"/><use href="#ck" x="239"/></g>
<g transform="matrix(.056 0 0 .056 352.2 571.0)" class="tf"><use href="#gT"/><use href="#p" x="100"/><use href="#cI" x="200"/><use href="#ft" x="300"/><use href="#bg" x="400"/><use href="#dL" x="500"/></g>
<g transform="matrix(.056 0 0 .056 352.2 581.3)" class="tf"><use href="#dc"/><use href="#cj" x="73"/><use href="#cu" x="110"/><use href="#gU" x="134"/><use href="#dX" x="234"/></g>
<circle cx="456.0" cy="432.7" r="1.8" stroke="#8a8a8a" stroke-width="0.8" fill="#fff"/>
<path d="M456.0,434.5 L456.0,541.3 Q456.0,542.3 457.0,542.3 L460.0,542.3" stroke="#8a8a8a" stroke-width="0.9" fill="none"/>
<line x1="456.0" y1="479.3" x2="460.0" y2="479.3" stroke="#8a8a8a" stroke-width="0.9"/>
<g transform="matrix(.056 0 0 .056 462.5 481.3)" class="tf"><use href="#dZ"/><use href="#cM" x="73"/><use href="#cM" x="147"/><use href="#ea" x="220"/><use href="#eb" x="320"/><use href="#gf" x="420"/><use href="#ed" x="520"/><use href="#bC" x="620"/><use href="#dy" x="720"/><use href="#dz" x="820"/></g>
<circle cx="517.3" cy="479.3" r="1.5" stroke="#a7a7a7" stroke-width="0.75" fill="#fff"/>
<line x1="518.8" y1="479.3" x2="521.7" y2="479.3" stroke="#a7a7a7" stroke-width="0.9"/>
<path d="M525.2,442.7 L522.3,442.7 Q521.7,442.7 521.7,443.3 L521.7,515.4 Q521.7,516.0 522.3,516.0 L525.2,516.0" stroke="#a7a7a7" stroke-width="0.9" fill="none"/>
<line x1="521.7" y1="463.3" x2="525.2" y2="463.3" stroke="#a7a7a7" stroke-width="0.9"/>
<line x1="521.7" y1="484.3" x2="525.2" y2="484.3" stroke="#a7a7a7" stroke-width="0.9"/>
<line x1="521.7" y1="495.0" x2="525.2" y2="495.0" stroke="#a7a7a7" stroke-width="0.9"/>
<line x1="521.7" y1="505.7" x2="525.2" y2="505.7" stroke="#a7a7a7" stroke-width="0.9"/>
<g transform="matrix(.056 0 0 .056 527.2 444.7)" class="tf"><use href="#dZ"/><use href="#cM" x="73"/><use href="#cM" x="147"/><use href="#bq" x="220"/><use href="#br" x="320"/><use href="#go" x="420"/><use href="#fU" x="520"/><use href="#fV" x="620"/></g>
<g transform="matrix(.056 0 0 .056 527.2 465.3)" class="tf"><use href="#dZ"/><use href="#cM" x="73"/><use href="#cM" x="147"/><use href="#ce" x="220"/><use href="#cf" x="320"/></g>
<circle cx="555.0" cy="463.3" r="1.5" stroke="#bdbdbd" stroke-width="0.75" fill="#fff"/>
<line x1="556.5" y1="463.3" x2="559.0" y2="463.3" stroke="#bdbdbd" stroke-width="0.9"/>
<path d="M562.5,453.3 L559.6,453.3 Q559.0,453.3 559.0,453.9 L559.0,473.4 Q559.0,474.0 559.6,474.0 L562.5,474.0" stroke="#bdbdbd" stroke-width="0.9" fill="none"/>
<line x1="559.0" y1="463.7" x2="562.5" y2="463.7" stroke="#bdbdbd" stroke-width="0.9"/>
<g transform="matrix(.056 0 0 .056 564.5 455.3)" class="tf"><use href="#fL"/><use href="#gV" x="100"/><use href="#cP" x="200"/></g>
<g transform="matrix(.056 0 0 .056 564.5 465.7)" class="tf"><use href="#gW"/><use href="#gX" x="100"/><use href="#cP" x="200"/></g>
<g transform="matrix(.056 0 0 .056 564.5 476.0)" class="tf"><use href="#cW"/><use href="#cL" x="79"/><use href="#dM" x="165"/></g>
<g transform="matrix(.056 0 0 .056 527.2 486.3)" class="tf"><use href="#gY"/><use href="#gJ" x="100"/><use href="#gZ" x="200"/><use href="#ha" x="300"/><use href="#bS" x="400"/><use href="#bT" x="500"/></g>
<g transform="matrix(.056 0 0 .056 527.2 497.0)" class="tf"><use href="#bc"/><use href="#da" x="79"/><use href="#dM" x="147"/><use href="#cA" x="238"/><use href="#gs" x="299"/><use href="#hb" x="399"/></g>
<g transform="matrix(.056 0 0 .056 527.2 507.7)" class="tf"><use href="#bc"/><use href="#da" x="79"/><use href="#da" x="147"/><use href="#bb" x="214"/><use href="#eU" x="287"/><use href="#cL" x="324"/><use href="#cp" x="409"/><use href="#cu" x="471"/><use href="#dV" x="495"/></g>
<g transform="matrix(.056 0 0 .056 527.2 518.0)" class="tf"><use href="#dZ"/><use href="#eU" x="73"/><use href="#ge" x="110"/><use href="#cj" x="177"/><use href="#ci" x="214"/><use href="#ch" x="275"/><use href="#ck" x="367"/></g>
<g transform="matrix(.056 0 0 .056 462.5 544.3)" class="tf"><use href="#dZ"/><use href="#cM" x="73"/><use href="#cM" x="147"/><use href="#gr" x="220"/><use href="#gs" x="320"/><use href="#dg" x="420"/><use href="#bG" x="520"/><use href="#bC" x="620"/><use href="#gI" x="720"/><use href="#gi" x="820"/><use href="#x" x="920"/><use href="#hc" x="1020"/></g>
<circle cx="529.0" cy="542.3" r="1.5" stroke="#a7a7a7" stroke-width="0.75" fill="#fff"/>
<line x1="530.5" y1="542.3" x2="533.3" y2="542.3" stroke="#a7a7a7" stroke-width="0.9"/>
<path d="M536.8,526.7 L533.9,526.7 Q533.3,526.7 533.3,527.3 L533.3,556.7 Q533.3,557.3 533.9,557.3 L536.8,557.3" stroke="#a7a7a7" stroke-width="0.9" fill="none"/>
<line x1="533.3" y1="536.7" x2="536.8" y2="536.7" stroke="#a7a7a7" stroke-width="0.9"/>
<line x1="533.3" y1="547.0" x2="536.8" y2="547.0" stroke="#a7a7a7" stroke-width="0.9"/>
<g transform="matrix(.056 0 0 .056 538.8 528.7)" class="tf"><use href="#bd"/><use href="#dl" x="100"/><use href="#gr" x="200"/><use href="#gs" x="300"/></g>
<g transform="matrix(.056 0 0 .056 538.8 538.7)" class="tf"><use href="#gf"/><use href="#ed" x="100"/><use href="#bc" x="200"/><use href="#da" x="279"/><use href="#dM" x="347"/><use href="#cA" x="438"/><use href="#hd" x="499"/><use href="#he" x="599"/><use href="#gr" x="699"/><use href="#gs" x="799"/></g>
<g transform="matrix(.056 0 0 .056 538.8 549.0)" class="tf"><use href="#A"/><use href="#hf" x="100"/><use href="#hg" x="200"/><use href="#eJ" x="300"/><use href="#gr" x="400"/><use href="#gs" x="500"/></g>
<g transform="matrix(.056 0 0 .056 538.8 559.3)" class="tf"><use href="#cY"/><use href="#cM" x="79"/><use href="#cM" x="153"/><use href="#hh" x="226"/><use href="#eq" x="326"/><use href="#cV" x="426"/><use href="#bP" x="526"/></g>
<circle cx="612.7" cy="432.7" r="1.8" stroke="#8a8a8a" stroke-width="0.8" fill="#fff"/>
<path d="M612.7,434.5 L612.7,483.3 Q612.7,484.3 613.7,484.3 L616.7,484.3" stroke="#8a8a8a" stroke-width="0.9" fill="none"/>
<line x1="612.7" y1="453.3" x2="616.7" y2="453.3" stroke="#8a8a8a" stroke-width="0.9"/>
<g transform="matrix(.056 0 0 .056 619.2 455.3)" class="tf"><use href="#cM"/><use href="#cM" x="73"/><use href="#dd" x="147"/><use href="#ge" x="226"/><use href="#ea" x="293"/><use href="#eb" x="393"/><use href="#K" x="493"/><use href="#L" x="593"/></g>
<circle cx="663.3" cy="453.3" r="1.5" stroke="#a7a7a7" stroke-width="0.75" fill="#fff"/>
<line x1="664.8" y1="453.3" x2="666.7" y2="453.3" stroke="#a7a7a7" stroke-width="0.9"/>
<path d="M670.2,442.7 L667.3,442.7 Q666.7,442.7 666.7,443.3 L666.7,463.1 Q666.7,463.7 667.3,463.7 L670.2,463.7" stroke="#a7a7a7" stroke-width="0.9" fill="none"/>
<line x1="666.7" y1="453.3" x2="670.2" y2="453.3" stroke="#a7a7a7" stroke-width="0.9"/>
<g transform="matrix(.056 0 0 .056 672.2 444.7)" class="tf"><use href="#cM"/><use href="#cM" x="73"/><use href="#dd" x="147"/><use href="#ge" x="226"/><use href="#bq" x="293"/><use href="#br" x="393"/><use href="#bW" x="493"/><use href="#fU" x="593"/><use href="#fV" x="693"/><use href="#ce" x="793"/><use href="#bP" x="893"/></g>
<g transform="matrix(.056 0 0 .056 672.2 455.3)" class="tf"><use href="#cM"/><use href="#cM" x="73"/><use href="#dd" x="147"/><use href="#ge" x="226"/><use href="#hi" x="293"/><use href="#hj" x="393"/><use href="#ce" x="493"/><use href="#bP" x="593"/></g>
<g transform="matrix(.056 0 0 .056 672.2 465.7)" class="tf"><use href="#cM"/><use href="#cM" x="73"/><use href="#dd" x="147"/><use href="#ge" x="226"/><use href="#ea" x="293"/><use href="#eb" x="393"/><use href="#hi" x="493"/><use href="#hj" x="593"/><use href="#x" x="693"/><use href="#hc" x="793"/></g>
<g transform="matrix(.056 0 0 .056 619.2 486.3)" class="tf"><use href="#cM"/><use href="#cM" x="73"/><use href="#dd" x="147"/><use href="#ge" x="226"/><use href="#ea" x="293"/><use href="#eb" x="393"/><use href="#cy" x="493"/><use href="#dO" x="593"/></g>
<circle cx="663.3" cy="484.3" r="1.5" stroke="#a7a7a7" stroke-width="0.75" fill="#fff"/>
<line x1="664.8" y1="484.3" x2="666.7" y2="484.3" stroke="#a7a7a7" stroke-width="0.9"/>
<path d="M670.2,474.0 L667.3,474.0 Q666.7,474.0 666.7,474.6 L666.7,494.1 Q666.7,494.7 667.3,494.7 L670.2,494.7" stroke="#a7a7a7" stroke-width="0.9" fill="none"/>
<line x1="666.7" y1="484.3" x2="670.2" y2="484.3" stroke="#a7a7a7" stroke-width="0.9"/>
<g transform="matrix(.056 0 0 .056 672.2 476.0)" class="tf"><use href="#hk"/><use href="#U" x="100"/><use href="#V" x="200"/><use href="#hl" x="300"/><use href="#l" x="400"/><use href="#fu" x="500"/><use href="#hm" x="600"/></g>
<g transform="matrix(.056 0 0 .056 672.2 486.3)" class="tf"><use href="#cM"/><use href="#cM" x="73"/><use href="#dd" x="147"/><use href="#ge" x="226"/><use href="#ea" x="293"/><use href="#eb" x="393"/><use href="#gf" x="493"/><use href="#ed" x="593"/><use href="#cy" x="693"/><use href="#dO" x="793"/></g>
<g transform="matrix(.056 0 0 .056 672.2 496.7)" class="tf"><use href="#cM"/><use href="#cM" x="73"/><use href="#dd" x="147"/><use href="#ge" x="226"/><use href="#ea" x="293"/><use href="#eb" x="393"/><use href="#dy" x="493"/><use href="#dz" x="593"/><use href="#cy" x="693"/><use href="#dO" x="793"/></g>
<circle cx="746.7" cy="432.7" r="1.8" stroke="#8a8a8a" stroke-width="0.8" fill="#fff"/>
<path d="M746.7,434.5 L746.7,530.7 Q746.7,531.7 747.7,531.7 L750.7,531.7" stroke="#8a8a8a" stroke-width="0.9" fill="none"/>
<line x1="746.7" y1="453.3" x2="750.7" y2="453.3" stroke="#8a8a8a" stroke-width="0.9"/>
<g transform="matrix(.056 0 0 .056 753.2 455.3)" class="tf"><use href="#cM"/><use href="#es" x="73"/><use href="#cA" x="159"/><use href="#et" x="220"/><use href="#M" x="320"/><use href="#K" x="420"/><use href="#L" x="520"/></g>
<circle cx="792.7" cy="453.3" r="1.5" stroke="#a7a7a7" stroke-width="0.75" fill="#fff"/>
<line x1="794.2" y1="453.3" x2="796.7" y2="453.3" stroke="#a7a7a7" stroke-width="0.9"/>
<path d="M800.2,442.7 L797.3,442.7 Q796.7,442.7 796.7,443.3 L796.7,463.1 Q796.7,463.7 797.3,463.7 L800.2,463.7" stroke="#a7a7a7" stroke-width="0.9" fill="none"/>
<line x1="796.7" y1="453.3" x2="800.2" y2="453.3" stroke="#a7a7a7" stroke-width="0.9"/>
<g transform="matrix(.056 0 0 .056 802.2 444.7)" class="tf"><use href="#cM"/><use href="#es" x="73"/><use href="#cA" x="159"/><use href="#et" x="220"/><use href="#M" x="320"/><use href="#bq" x="420"/><use href="#br" x="520"/><use href="#bC" x="620"/><use href="#fU" x="720"/><use href="#fV" x="820"/></g>
<g transform="matrix(.056 0 0 .056 802.2 455.3)" class="tf"><use href="#cM"/><use href="#es" x="73"/><use href="#cA" x="159"/><use href="#et" x="220"/><use href="#M" x="320"/><use href="#hn" x="420"/><use href="#ho" x="520"/><use href="#cy" x="620"/><use href="#dO" x="720"/></g>
<g transform="matrix(.056 0 0 .056 802.2 465.7)" class="tf"><use href="#cM"/><use href="#es" x="73"/><use href="#cA" x="159"/><use href="#et" x="220"/><use href="#M" x="320"/><use href="#gi" x="420"/><use href="#hp" x="520"/><use href="#bJ" x="620"/><use href="#bK" x="720"/><use href="#cy" x="820"/><use href="#dO" x="920"/></g>
<line x1="746.7" y1="490.0" x2="750.7" y2="490.0" stroke="#8a8a8a" stroke-width="0.9"/>
<g transform="matrix(.056 0 0 .056 753.2 492.0)" class="tf"><use href="#cM"/><use href="#es" x="73"/><use href="#cA" x="159"/><use href="#et" x="220"/><use href="#M" x="320"/><use href="#eP" x="420"/><use href="#G" x="520"/></g>
<circle cx="792.7" cy="490.0" r="1.5" stroke="#a7a7a7" stroke-width="0.75" fill="#fff"/>
<line x1="794.2" y1="490.0" x2="796.7" y2="490.0" stroke="#a7a7a7" stroke-width="0.9"/>
<path d="M800.2,474.0 L797.3,474.0 Q796.7,474.0 796.7,474.6 L796.7,504.7 Q796.7,505.3 797.3,505.3 L800.2,505.3" stroke="#a7a7a7" stroke-width="0.9" fill="none"/>
<line x1="796.7" y1="484.7" x2="800.2" y2="484.7" stroke="#a7a7a7" stroke-width="0.9"/>
<line x1="796.7" y1="495.0" x2="800.2" y2="495.0" stroke="#a7a7a7" stroke-width="0.9"/>
<g transform="matrix(.056 0 0 .056 802.2 476.0)" class="tf"><use href="#cM"/><use href="#es" x="73"/><use href="#cA" x="159"/><use href="#et" x="220"/><use href="#M" x="320"/><use href="#ce" x="420"/><use href="#cf" x="520"/></g>
<g transform="matrix(.056 0 0 .056 802.2 486.7)" class="tf"><use href="#cM"/><use href="#es" x="73"/><use href="#cA" x="159"/><use href="#et" x="220"/><use href="#M" x="320"/><use href="#gr" x="420"/><use href="#gs" x="520"/><use href="#cy" x="620"/><use href="#dO" x="720"/></g>
<g transform="matrix(.056 0 0 .056 802.2 497.0)" class="tf"><use href="#cM"/><use href="#es" x="73"/><use href="#cA" x="159"/><use href="#et" x="220"/><use href="#M" x="320"/><use href="#hq" x="420"/><use href="#eK" x="520"/><use href="#hr" x="620"/><use href="#et" x="720"/><use href="#M" x="820"/><use href="#cy" x="920"/><use href="#dO" x="1020"/></g>
<g transform="matrix(.056 0 0 .056 802.2 507.3)" class="tf"><use href="#cM"/><use href="#es" x="73"/><use href="#cA" x="159"/><use href="#hs" x="220"/><use href="#ht" x="320"/><use href="#el" x="420"/><use href="#em" x="520"/><use href="#cy" x="620"/><use href="#dO" x="720"/></g>
<g transform="matrix(.056 0 0 .056 753.2 533.7)" class="tf"><use href="#cM"/><use href="#es" x="73"/><use href="#cA" x="159"/><use href="#et" x="220"/><use href="#M" x="320"/><use href="#eR" x="420"/><use href="#G" x="520"/></g>
<circle cx="792.7" cy="531.7" r="1.5" stroke="#a7a7a7" stroke-width="0.75" fill="#fff"/>
<line x1="794.2" y1="531.7" x2="796.7" y2="531.7" stroke="#a7a7a7" stroke-width="0.9"/>
<path d="M800.2,516.0 L797.3,516.0 Q796.7,516.0 796.7,516.6 L796.7,546.4 Q796.7,547.0 797.3,547.0 L800.2,547.0" stroke="#a7a7a7" stroke-width="0.9" fill="none"/>
<line x1="796.7" y1="526.3" x2="800.2" y2="526.3" stroke="#a7a7a7" stroke-width="0.9"/>
<line x1="796.7" y1="536.7" x2="800.2" y2="536.7" stroke="#a7a7a7" stroke-width="0.9"/>
<g transform="matrix(.056 0 0 .056 802.2 518.0)" class="tf"><use href="#gv"/><use href="#cB" x="31"/><use href="#gx" x="92"/><use href="#gx" x="147"/><use href="#cO" x="202"/><use href="#hu" x="302"/><use href="#eM" x="402"/><use href="#eE" x="502"/><use href="#cy" x="602"/><use href="#dO" x="702"/></g>
<g transform="matrix(.056 0 0 .056 802.2 528.3)" class="tf"><use href="#cM"/><use href="#es" x="73"/><use href="#cA" x="159"/><use href="#dM" x="220"/><use href="#ci" x="312"/><use href="#dt" x="373"/><use href="#p" x="434"/><use href="#ee" x="534"/><use href="#br" x="634"/><use href="#cK" x="734"/><use href="#bC" x="834"/><use href="#bU" x="934"/><use href="#ed" x="1034"/></g>
<g transform="matrix(.056 0 0 .056 802.2 538.7)" class="tf"><use href="#cM"/><use href="#es" x="73"/><use href="#cA" x="159"/><use href="#dM" x="220"/><use href="#ci" x="312"/><use href="#dt" x="373"/><use href="#gr" x="434"/><use href="#gs" x="534"/><use href="#cy" x="634"/><use href="#dO" x="734"/></g>
<g transform="matrix(.056 0 0 .056 802.2 549.0)" class="tf"><use href="#cM"/><use href="#es" x="73"/><use href="#cA" x="159"/><use href="#et" x="220"/><use href="#M" x="320"/><use href="#dy" x="420"/><use href="#hv" x="520"/><use href="#cy" x="620"/><use href="#dO" x="720"/></g>
<circle cx="900.7" cy="432.7" r="1.8" stroke="#8a8a8a" stroke-width="0.8" fill="#fff"/>
<path d="M900.7,434.5 L900.7,489.0 Q900.7,490.0 901.7,490.0 L904.7,490.0" stroke="#8a8a8a" stroke-width="0.9" fill="none"/>
<line x1="900.7" y1="448.0" x2="904.7" y2="448.0" stroke="#8a8a8a" stroke-width="0.9"/>
<g transform="matrix(.056 0 0 .056 907.2 450.0)" class="tf"><use href="#eV"/><use href="#eW" x="100"/></g>
<circle cx="924.0" cy="448.0" r="1.5" stroke="#a7a7a7" stroke-width="0.75" fill="#fff"/>
<line x1="925.5" y1="448.0" x2="928.0" y2="448.0" stroke="#a7a7a7" stroke-width="0.9"/>
<path d="M931.5,442.7 L928.6,442.7 Q928.0,442.7 928.0,443.3 L928.0,452.7 Q928.0,453.3 928.6,453.3 L931.5,453.3" stroke="#a7a7a7" stroke-width="0.9" fill="none"/>
<g transform="matrix(.056 0 0 .056 933.5 444.7)" class="tf"><use href="#ea"/><use href="#eb" x="100"/><use href="#hi" x="200"/><use href="#hj" x="300"/></g>
<g transform="matrix(.056 0 0 .056 933.5 455.3)" class="tf"><use href="#n"/><use href="#o" x="100"/><use href="#gp" x="200"/><use href="#el" x="300"/></g>
<line x1="900.7" y1="463.7" x2="904.7" y2="463.7" stroke="#8a8a8a" stroke-width="0.9"/>
<g transform="matrix(.056 0 0 .056 907.2 465.7)" class="tf"><use href="#bA"/><use href="#bB" x="100"/></g>
<circle cx="924.0" cy="463.7" r="1.5" stroke="#a7a7a7" stroke-width="0.75" fill="#fff"/>
<line x1="925.5" y1="463.7" x2="927.5" y2="463.7" stroke="#a7a7a7" stroke-width="0.9"/>
<line x1="927.5" y1="463.7" x2="931.0" y2="463.7" stroke="#a7a7a7" stroke-width="0.9"/>
<g transform="matrix(.056 0 0 .056 933.0 465.7)" class="tf"><use href="#cY"/><use href="#cN" x="79"/><use href="#cM" x="110"/><use href="#bb" x="183"/><use href="#eU" x="257"/><use href="#bb" x="293"/><use href="#da" x="367"/><use href="#W" x="434"/></g>
<g transform="matrix(.056 0 0 .056 907.2 492.0)" class="tf"><use href="#bL"/><use href="#bp" x="100"/><use href="#bM" x="200"/><use href="#bN" x="300"/></g>
<circle cx="936.0" cy="490.0" r="1.5" stroke="#a7a7a7" stroke-width="0.75" fill="#fff"/>
<line x1="937.5" y1="490.0" x2="939.3" y2="490.0" stroke="#a7a7a7" stroke-width="0.9"/>
<path d="M942.8,474.0 L939.9,474.0 Q939.3,474.0 939.3,474.6 L939.3,504.7 Q939.3,505.3 939.9,505.3 L942.8,505.3" stroke="#a7a7a7" stroke-width="0.9" fill="none"/>
<line x1="939.3" y1="484.3" x2="942.8" y2="484.3" stroke="#a7a7a7" stroke-width="0.9"/>
<line x1="939.3" y1="495.0" x2="942.8" y2="495.0" stroke="#a7a7a7" stroke-width="0.9"/>
<g transform="matrix(.056 0 0 .056 944.8 476.0)" class="tf"><use href="#n"/><use href="#o" x="100"/><use href="#gy" x="200"/><use href="#gz" x="300"/><use href="#p" x="400"/><use href="#q" x="500"/><use href="#r" x="600"/></g>
<g transform="matrix(.056 0 0 .056 944.8 486.3)" class="tf"><use href="#n"/><use href="#o" x="100"/><use href="#bU" x="200"/><use href="#bV" x="300"/><use href="#p" x="400"/><use href="#q" x="500"/><use href="#r" x="600"/></g>
<g transform="matrix(.056 0 0 .056 944.8 497.0)" class="tf"><use href="#fa"/><use href="#fb" x="100"/><use href="#eM" x="200"/><use href="#eE" x="300"/><use href="#p" x="400"/><use href="#q" x="500"/><use href="#r" x="600"/></g>
<g transform="matrix(.056 0 0 .056 944.8 507.3)" class="tf"><use href="#n"/><use href="#o" x="100"/><use href="#hw" x="200"/><use href="#hx" x="300"/><use href="#hy" x="400"/></g>
<line x1="186.0" y1="739.0" x2="195.0" y2="739.0" stroke="#f29aa4" stroke-width="0.9"/>
<line x1="261.7" y1="739.0" x2="268.3" y2="739.0" stroke="#f29aa4" stroke-width="0.9"/>
<line x1="300.0" y1="739.0" x2="350.0" y2="739.0" stroke="#f29aa4" stroke-width="0.9"/>
<line x1="410.0" y1="739.0" x2="416.7" y2="739.0" stroke="#f29aa4" stroke-width="0.9"/>
<line x1="481.7" y1="739.0" x2="500.0" y2="739.0" stroke="#f29aa4" stroke-width="0.9"/>
<line x1="547.3" y1="739.0" x2="553.3" y2="739.0" stroke="#f29aa4" stroke-width="0.9"/>
<line x1="611.7" y1="739.0" x2="618.3" y2="739.0" stroke="#f29aa4" stroke-width="0.9"/>
<line x1="680.0" y1="739.0" x2="708.3" y2="739.0" stroke="#f29aa4" stroke-width="0.9"/>
<line x1="780.3" y1="739.0" x2="785.7" y2="739.0" stroke="#f29aa4" stroke-width="0.9"/>
<line x1="865.3" y1="739.0" x2="870.7" y2="739.0" stroke="#f29aa4" stroke-width="0.9"/>
<line x1="932.7" y1="739.0" x2="939.0" y2="739.0" stroke="#f29aa4" stroke-width="0.9"/>
<g transform="matrix(.06 0 0 .06 209.3 741.2)" class="tc"><use href="#fL"/><use href="#hz" x="100"/><use href="#hA" x="200"/><use href="#hB" x="300"/><use href="#ea" x="400"/><use href="#eb" x="500"/></g>
<g transform="matrix(.056 0 0 .056 272.7 741.0)" class="tk"><use href="#fn"/><use href="#fm" x="72"/><use href="#fp" x="144"/></g>
<g transform="matrix(.056 0 0 .056 287.3 741.0)" class="tc"><use href="#ea"/><use href="#eb" x="100"/></g>
<g transform="matrix(.06 0 0 .06 369.3 741.2)" class="tc"><use href="#hl"/><use href="#l" x="100"/><use href="#fa" x="200"/><use href="#fb" x="300"/><use href="#cy" x="400"/><use href="#dO" x="500"/></g>
<g transform="matrix(.06 0 0 .06 433.3 741.2)" class="tc"><use href="#hC"/><use href="#hD" x="100"/><use href="#cy" x="200"/><use href="#dO" x="300"/><use href="#hE" x="400"/><use href="#hF" x="500"/><use href="#en" x="600"/></g>
<g transform="matrix(.06 0 0 .06 518.3 741.2)" class="tc"><use href="#fL"/><use href="#hG" x="100"/><use href="#cy" x="200"/><use href="#dO" x="300"/></g>
<g transform="matrix(.06 0 0 .06 570.0 741.2)" class="tc"><use href="#hH"/><use href="#hg" x="100"/><use href="#eS" x="200"/><use href="#eT" x="300"/><use href="#cy" x="400"/><use href="#dO" x="500"/></g>
<g transform="matrix(.06 0 0 .06 639.3 741.2)" class="tc"><use href="#dc"/><use href="#bb" x="73"/><use href="#da" x="147"/><use href="#x" x="214"/><use href="#y" x="314"/><use href="#cy" x="414"/><use href="#dO" x="514"/></g>
<g transform="matrix(.06 0 0 .06 730.7 741.2)" class="tc"><use href="#bb"/><use href="#dV" x="73"/><use href="#du" x="128"/><use href="#fM" x="159"/><use href="#cr" x="220"/><use href="#cp" x="281"/><use href="#bd" x="342"/><use href="#q" x="442"/><use href="#K" x="542"/><use href="#L" x="642"/></g>
<g transform="matrix(.06 0 0 .06 803.0 741.2)" class="tc"><use href="#bb"/><use href="#dV" x="73"/><use href="#du" x="128"/><use href="#fM" x="159"/><use href="#cr" x="220"/><use href="#cp" x="281"/><use href="#l" x="342"/><use href="#n" x="442"/><use href="#bd" x="542"/><use href="#dl" x="642"/><use href="#cy" x="742"/><use href="#dO" x="842"/></g>
<g transform="matrix(.061 0 0 .061 875.4 741.2)" class="te"><use href="#hI"/><use href="#G" x="100"/><use href="#H" x="200"/><use href="#bf" x="300"/><use href="#bg" x="400"/><use href="#bh" x="500"/><use href="#bi" x="600"/><use href="#bj" x="700"/><use href="#bk" x="800"/></g>
<g transform="matrix(.061 0 0 .061 954.1 741.2)" class="te"><use href="#bl"/><use href="#bm" x="100"/><use href="#f" x="200"/><use href="#bg" x="300"/><use href="#M" x="400"/><use href="#eQ" x="500"/><use href="#i" x="561"/><use href="#bn" x="622"/><use href="#k" x="702"/></g>
<circle cx="228.3" cy="731.7" r="1.8" stroke="#ea5f6d" stroke-width="0.8" fill="#fff"/>
<path d="M228.3,729.9 L228.3,662.0 Q228.3,661.0 229.3,661.0 L232.3,661.0" stroke="#ea5f6d" stroke-width="0.9" fill="none"/>
<g transform="matrix(.056 0 0 .056 234.8 663.0)" class="tf"><use href="#fL"/><use href="#hz" x="100"/><use href="#hA" x="200"/><use href="#hB" x="300"/><use href="#ea" x="400"/><use href="#eb" x="500"/><use href="#K" x="600"/><use href="#L" x="700"/></g>
<circle cx="286.0" cy="661.0" r="1.5" stroke="#ef8792" stroke-width="0.75" fill="#fff"/>
<line x1="287.5" y1="661.0" x2="290.0" y2="661.0" stroke="#ef8792" stroke-width="0.9"/>
<path d="M293.5,648.3 L290.6,648.3 Q290.0,648.3 290.0,648.9 L290.0,668.4 Q290.0,669.0 290.6,669.0 L293.5,669.0" stroke="#ef8792" stroke-width="0.9" fill="none"/>
<line x1="290.0" y1="658.7" x2="293.5" y2="658.7" stroke="#ef8792" stroke-width="0.9"/>
<g transform="matrix(.056 0 0 .056 295.5 650.3)" class="tf"><use href="#hz"/><use href="#hA" x="100"/><use href="#hB" x="200"/><use href="#bC" x="300"/><use href="#fL" x="400"/><use href="#hz" x="500"/><use href="#hA" x="600"/><use href="#hB" x="700"/></g>
<g transform="matrix(.056 0 0 .056 295.5 660.7)" class="tf"><use href="#fL"/><use href="#hz" x="100"/><use href="#hA" x="200"/><use href="#hB" x="300"/><use href="#ea" x="400"/><use href="#eb" x="500"/><use href="#cJ" x="600"/><use href="#bR" x="700"/></g>
<g transform="matrix(.056 0 0 .056 295.5 671.0)" class="tf"><use href="#fL"/><use href="#hz" x="100"/><use href="#hA" x="200"/><use href="#hB" x="300"/><use href="#ea" x="400"/><use href="#eb" x="500"/><use href="#fU" x="600"/><use href="#fV" x="700"/></g>
<line x1="228.3" y1="700.0" x2="232.3" y2="700.0" stroke="#ea5f6d" stroke-width="0.9"/>
<g transform="matrix(.056 0 0 .056 234.8 702.0)" class="tf"><use href="#ea"/><use href="#eb" x="100"/><use href="#gf" x="200"/><use href="#ed" x="300"/><use href="#bC" x="400"/><use href="#dy" x="500"/><use href="#dz" x="600"/></g>
<circle cx="281.0" cy="700.0" r="1.5" stroke="#ef8792" stroke-width="0.75" fill="#fff"/>
<line x1="282.5" y1="700.0" x2="285.0" y2="700.0" stroke="#ef8792" stroke-width="0.9"/>
<path d="M288.5,679.3 L285.6,679.3 Q285.0,679.3 285.0,679.9 L285.0,720.4 Q285.0,721.0 285.6,721.0 L288.5,721.0" stroke="#ef8792" stroke-width="0.9" fill="none"/>
<line x1="285.0" y1="689.7" x2="288.5" y2="689.7" stroke="#ef8792" stroke-width="0.9"/>
<line x1="285.0" y1="700.0" x2="288.5" y2="700.0" stroke="#ef8792" stroke-width="0.9"/>
<line x1="285.0" y1="710.7" x2="288.5" y2="710.7" stroke="#ef8792" stroke-width="0.9"/>
<g transform="matrix(.056 0 0 .056 290.5 681.3)" class="tf"><use href="#bb"/><use href="#bc" x="73"/><use href="#bb" x="153"/><use href="#fL" x="226"/><use href="#hz" x="326"/><use href="#hA" x="426"/><use href="#hB" x="526"/></g>
<g transform="matrix(.056 0 0 .056 290.5 691.7)" class="tf"><use href="#hJ"/><use href="#bG" x="100"/><use href="#ez" x="200"/><use href="#Y" x="300"/></g>
<g transform="matrix(.056 0 0 .056 290.5 702.0)" class="tf"><use href="#dP"/><use href="#ci" x="55"/><use href="#dQ" x="116"/><use href="#ci" x="171"/><use href="#fL" x="232"/><use href="#hz" x="332"/><use href="#hA" x="432"/><use href="#hB" x="532"/></g>
<g transform="matrix(.056 0 0 .056 290.5 712.7)" class="tf"><use href="#fL"/><use href="#hz" x="100"/><use href="#hA" x="200"/><use href="#hB" x="300"/><use href="#ea" x="400"/><use href="#eb" x="500"/><use href="#gf" x="600"/><use href="#ed" x="700"/><use href="#cy" x="800"/><use href="#dO" x="900"/></g>
<g transform="matrix(.056 0 0 .056 290.5 723.0)" class="tf"><use href="#fL"/><use href="#hz" x="100"/><use href="#hA" x="200"/><use href="#hB" x="300"/><use href="#ea" x="400"/><use href="#eb" x="500"/><use href="#dy" x="600"/><use href="#dz" x="700"/><use href="#dg" x="800"/><use href="#bG" x="900"/></g>
<circle cx="380.0" cy="729.0" r="1.8" stroke="#ea5f6d" stroke-width="0.8" fill="#fff"/>
<path d="M380.0,727.2 L380.0,623.3 Q380.0,622.3 381.0,622.3 L384.0,622.3" stroke="#ea5f6d" stroke-width="0.9" fill="none"/>
<g transform="matrix(.056 0 0 .056 386.5 624.3)" class="tf"><use href="#p"/><use href="#ee" x="100"/><use href="#bq" x="200"/><use href="#br" x="300"/></g>
<circle cx="415.7" cy="622.3" r="1.5" stroke="#ef8792" stroke-width="0.75" fill="#fff"/>
<line x1="417.2" y1="622.3" x2="419.3" y2="622.3" stroke="#ef8792" stroke-width="0.9"/>
<path d="M422.8,599.0 L419.9,599.0 Q419.3,599.0 419.3,599.6 L419.3,645.1 Q419.3,645.7 419.9,645.7 L422.8,645.7" stroke="#ef8792" stroke-width="0.9" fill="none"/>
<line x1="419.3" y1="614.0" x2="422.8" y2="614.0" stroke="#ef8792" stroke-width="0.9"/>
<line x1="419.3" y1="624.7" x2="422.8" y2="624.7" stroke="#ef8792" stroke-width="0.9"/>
<line x1="419.3" y1="635.0" x2="422.8" y2="635.0" stroke="#ef8792" stroke-width="0.9"/>
<g transform="matrix(.056 0 0 .056 424.8 601.0)" class="tf"><use href="#ch"/><use href="#ck" x="92"/><use href="#du" x="153"/><use href="#ck" x="183"/><use href="#cj" x="245"/><use href="#dt" x="281"/><use href="#cj" x="342"/><use href="#ck" x="379"/><use href="#du" x="440"/><use href="#ck" x="471"/><use href="#cj" x="532"/></g>
<circle cx="464.3" cy="599.0" r="1.5" stroke="#f3a5ad" stroke-width="0.75" fill="#fff"/>
<line x1="465.8" y1="599.0" x2="468.3" y2="599.0" stroke="#f3a5ad" stroke-width="0.9"/>
<path d="M471.8,593.7 L468.9,593.7 Q468.3,593.7 468.3,594.3 L468.3,603.4 Q468.3,604.0 468.9,604.0 L471.8,604.0" stroke="#f3a5ad" stroke-width="0.9" fill="none"/>
<g transform="matrix(.056 0 0 .056 473.8 595.7)" class="tf"><use href="#dA"/><use href="#fh" x="100"/><use href="#cQ" x="200"/><use href="#cR" x="300"/></g>
<g transform="matrix(.056 0 0 .056 473.8 606.0)" class="tf"><use href="#dA"/><use href="#fh" x="100"/><use href="#gK" x="200"/><use href="#dl" x="300"/></g>
<g transform="matrix(.056 0 0 .056 424.8 616.0)" class="tf"><use href="#bb"/><use href="#cj" x="73"/><use href="#cr" x="110"/><use href="#cC" x="171"/><use href="#co" x="226"/><use href="#gv" x="251"/><use href="#co" x="281"/><use href="#ck" x="306"/><use href="#cj" x="367"/></g>
<g transform="matrix(.056 0 0 .056 424.8 626.7)" class="tf"><use href="#cj"/><use href="#ck" x="37"/><use href="#gA" x="98"/><use href="#ck" x="159"/><use href="#cr" x="220"/><use href="#cj" x="281"/><use href="#gA" x="318"/></g>
<g transform="matrix(.056 0 0 .056 424.8 637.0)" class="tf"><use href="#ck"/><use href="#ci" x="61"/><use href="#cj" x="122"/><use href="#du" x="159"/><use href="#fM" x="190"/><use href="#bn" x="251"/><use href="#cr" x="330"/><use href="#cj" x="391"/><use href="#ch" x="428"/></g>
<g transform="matrix(.056 0 0 .056 424.8 647.7)" class="tf"><use href="#ch"/><use href="#co" x="92"/><use href="#ch" x="116"/><use href="#co" x="208"/><use href="#gg" x="232"/><use href="#ci" x="287"/><use href="#du" x="348"/><use href="#gx" x="379"/></g>
<line x1="380.0" y1="661.0" x2="384.0" y2="661.0" stroke="#ea5f6d" stroke-width="0.9"/>
<g transform="matrix(.056 0 0 .056 386.5 663.0)" class="tf"><use href="#cQ"/><use href="#cR" x="100"/><use href="#bC" x="200"/><use href="#gK" x="300"/><use href="#bR" x="400"/></g>
<circle cx="415.7" cy="661.0" r="1.5" stroke="#ef8792" stroke-width="0.75" fill="#fff"/>
<line x1="417.2" y1="661.0" x2="424.3" y2="661.0" stroke="#ef8792" stroke-width="0.9"/>
<path d="M427.8,656.0 L424.9,656.0 Q424.3,656.0 424.3,656.6 L424.3,665.7 Q424.3,666.3 424.9,666.3 L427.8,666.3" stroke="#ef8792" stroke-width="0.9" fill="none"/>
<g transform="matrix(.056 0 0 .056 429.8 658.0)" class="tf"><use href="#cs"/><use href="#cs" x="55"/><use href="#fM" x="110"/><use href="#cQ" x="171"/><use href="#cR" x="271"/></g>
<g transform="matrix(.056 0 0 .056 429.8 668.3)" class="tf"><use href="#cs"/><use href="#cs" x="55"/><use href="#fM" x="110"/><use href="#gK" x="171"/><use href="#bR" x="271"/></g>
<line x1="380.0" y1="681.7" x2="384.0" y2="681.7" stroke="#ea5f6d" stroke-width="0.9"/>
<g transform="matrix(.056 0 0 .056 386.5 683.7)" class="tf"><use href="#hK"/><use href="#q" x="100"/><use href="#bQ" x="200"/><use href="#bR" x="300"/></g>
<circle cx="415.7" cy="681.7" r="1.5" stroke="#ef8792" stroke-width="0.75" fill="#fff"/>
<line x1="417.2" y1="681.7" x2="419.3" y2="681.7" stroke="#ef8792" stroke-width="0.9"/>
<path d="M422.8,676.7 L419.9,676.7 Q419.3,676.7 419.3,677.3 L419.3,686.4 Q419.3,687.0 419.9,687.0 L422.8,687.0" stroke="#ef8792" stroke-width="0.9" fill="none"/>
<g transform="matrix(.056 0 0 .056 424.8 678.7)" class="tf"><use href="#hK"/><use href="#q" x="100"/><use href="#bQ" x="200"/><use href="#bR" x="300"/><use href="#p" x="400"/><use href="#ee" x="500"/></g>
<g transform="matrix(.056 0 0 .056 424.8 689.0)" class="tf"><use href="#Y"/><use href="#Z" x="100"/><use href="#ba" x="200"/><use href="#hL" x="300"/><use href="#hM" x="400"/><use href="#p" x="500"/><use href="#ee" x="600"/></g>
<line x1="380.0" y1="703.3" x2="384.0" y2="703.3" stroke="#ea5f6d" stroke-width="0.9"/>
<g transform="matrix(.056 0 0 .056 386.5 705.3)" class="tf"><use href="#cy"/><use href="#fw" x="100"/><use href="#hN" x="200"/><use href="#hO" x="300"/></g>
<circle cx="415.7" cy="703.3" r="1.5" stroke="#ef8792" stroke-width="0.75" fill="#fff"/>
<line x1="417.2" y1="703.3" x2="419.3" y2="703.3" stroke="#ef8792" stroke-width="0.9"/>
<path d="M422.8,697.7 L419.9,697.7 Q419.3,697.7 419.3,698.3 L419.3,707.4 Q419.3,708.0 419.9,708.0 L422.8,708.0" stroke="#ef8792" stroke-width="0.9" fill="none"/>
<g transform="matrix(.056 0 0 .056 424.8 699.7)" class="tf"><use href="#ch"/><use href="#cs" x="92"/><use href="#I" x="147"/><use href="#hP" x="208"/><use href="#eU" x="269"/><use href="#i" x="306"/><use href="#I" x="367"/><use href="#i" x="428"/></g>
<g transform="matrix(.056 0 0 .056 424.8 710.0)" class="tf"><use href="#ge"/><use href="#X" x="67"/><use href="#hQ" x="141"/><use href="#cF" x="241"/></g>
<line x1="380.0" y1="718.7" x2="384.0" y2="718.7" stroke="#ea5f6d" stroke-width="0.9"/>
<g transform="matrix(.056 0 0 .056 386.5 720.7)" class="tf"><use href="#cT"/><use href="#fa" x="100"/><use href="#fb" x="200"/></g>
<circle cx="410.0" cy="718.7" r="1.5" stroke="#ef8792" stroke-width="0.75" fill="#fff"/>
<line x1="411.5" y1="718.7" x2="413.0" y2="718.7" stroke="#ef8792" stroke-width="0.9"/>
<line x1="413.0" y1="718.7" x2="416.5" y2="718.7" stroke="#ef8792" stroke-width="0.9"/>
<g transform="matrix(.056 0 0 .056 418.5 720.7)" class="tf"><use href="#cT"/><use href="#fa" x="100"/><use href="#fb" x="200"/></g>
<circle cx="524.0" cy="729.3" r="1.8" stroke="#ea5f6d" stroke-width="0.8" fill="#fff"/>
<path d="M524.0,727.5 L524.0,646.7 Q524.0,645.7 525.0,645.7 L528.0,645.7" stroke="#ea5f6d" stroke-width="0.9" fill="none"/>
<g transform="matrix(.056 0 0 .056 530.5 647.7)" class="tf"><use href="#hR"/><use href="#hS" x="100"/><use href="#eq" x="200"/><use href="#gc" x="300"/></g>
<line x1="524.0" y1="656.0" x2="528.0" y2="656.0" stroke="#ea5f6d" stroke-width="0.9"/>
<g transform="matrix(.056 0 0 .056 530.5 658.0)" class="tf"><use href="#hT"/><use href="#eD" x="100"/><use href="#hU" x="200"/><use href="#bo" x="300"/><use href="#cV" x="400"/><use href="#bP" x="500"/></g>
<line x1="524.0" y1="666.7" x2="528.0" y2="666.7" stroke="#ea5f6d" stroke-width="0.9"/>
<g transform="matrix(.056 0 0 .056 530.5 668.7)" class="tf"><use href="#fR"/><use href="#di" x="100"/><use href="#gb" x="200"/><use href="#z" x="300"/><use href="#gu" x="400"/></g>
<line x1="524.0" y1="677.0" x2="528.0" y2="677.0" stroke="#ea5f6d" stroke-width="0.9"/>
<g transform="matrix(.056 0 0 .056 530.5 679.0)" class="tf"><use href="#hV"/><use href="#hG" x="100"/><use href="#hW" x="200"/><use href="#hX" x="300"/><use href="#hG" x="400"/><use href="#hY" x="500"/><use href="#hZ" x="600"/><use href="#bz" x="700"/></g>
<line x1="524.0" y1="687.7" x2="528.0" y2="687.7" stroke="#ea5f6d" stroke-width="0.9"/>
<g transform="matrix(.056 0 0 .056 530.5 689.7)" class="tf"><use href="#eg"/><use href="#ia" x="100"/><use href="#hU" x="200"/><use href="#bo" x="300"/><use href="#gR" x="400"/><use href="#ed" x="500"/></g>
<line x1="524.0" y1="698.0" x2="528.0" y2="698.0" stroke="#ea5f6d" stroke-width="0.9"/>
<g transform="matrix(.056 0 0 .056 530.5 700.0)" class="tf"><use href="#cO"/><use href="#ib" x="100"/><use href="#gI" x="200"/><use href="#ek" x="300"/></g>
<line x1="524.0" y1="708.3" x2="528.0" y2="708.3" stroke="#ea5f6d" stroke-width="0.9"/>
<g transform="matrix(.056 0 0 .056 530.5 710.3)" class="tf"><use href="#hR"/><use href="#hS" x="100"/><use href="#D" x="231"/><use href="#X" x="304"/><use href="#dc" x="377"/></g>
<line x1="524.0" y1="719.0" x2="528.0" y2="719.0" stroke="#ea5f6d" stroke-width="0.9"/>
<g transform="matrix(.056 0 0 .056 530.5 721.0)" class="tf"><use href="#cY"/><use href="#cM" x="79"/><use href="#hV" x="153"/><use href="#hG" x="253"/><use href="#cy" x="353"/><use href="#dO" x="453"/></g>
<circle cx="649.0" cy="728.7" r="1.8" stroke="#ea5f6d" stroke-width="0.8" fill="#fff"/>
<path d="M649.0,726.9 L649.0,656.7 Q649.0,655.7 650.0,655.7 L653.0,655.7" stroke="#ea5f6d" stroke-width="0.9" fill="none"/>
<g transform="matrix(.056 0 0 .056 655.5 657.7)" class="tf"><use href="#ic"/><use href="#id" x="100"/><use href="#dc" x="200"/><use href="#bb" x="273"/><use href="#da" x="347"/><use href="#bq" x="414"/><use href="#br" x="514"/></g>
<line x1="649.0" y1="666.0" x2="653.0" y2="666.0" stroke="#ea5f6d" stroke-width="0.9"/>
<g transform="matrix(.056 0 0 .056 655.5 668.0)" class="tf"><use href="#cY"/><use href="#cr" x="79"/><use href="#ds" x="141"/><use href="#ci" x="202"/><use href="#cu" x="263"/><use href="#du" x="287"/><use href="#cM" x="318"/><use href="#du" x="391"/><use href="#cj" x="422"/><use href="#co" x="459"/><use href="#gg" x="483"/><use href="#ck" x="538"/><use href="#eU" x="599"/><use href="#cL" x="636"/><use href="#gv" x="721"/><use href="#gv" x="752"/><use href="#co" x="782"/><use href="#dR" x="807"/><use href="#ck" x="862"/><use href="#eU" x="923"/><use href="#cW" x="960"/><use href="#cL" x="1039"/><use href="#cY" x="1125"/><use href="#fv" x="1204"/><use href="#W" x="1278"/><use href="#dZ" x="1351"/><use href="#cY" x="1424"/><use href="#W" x="1504"/><use href="#cA" x="1577"/><use href="#fv" x="1638"/><use href="#ie" x="1712"/></g>
<line x1="649.0" y1="676.7" x2="653.0" y2="676.7" stroke="#ea5f6d" stroke-width="0.9"/>
<g transform="matrix(.056 0 0 .056 655.5 678.7)" class="tf"><use href="#cY"/><use href="#cr" x="79"/><use href="#ds" x="141"/><use href="#ci" x="202"/><use href="#cu" x="263"/><use href="#du" x="287"/><use href="#cM" x="318"/><use href="#du" x="391"/><use href="#cj" x="422"/><use href="#co" x="459"/><use href="#gg" x="483"/><use href="#ck" x="538"/><use href="#eU" x="599"/><use href="#if" x="636"/><use href="#ep" x="736"/><use href="#bB" x="836"/><use href="#fv" x="936"/><use href="#cY" x="1009"/><use href="#bc" x="1089"/><use href="#dM" x="1168"/><use href="#fv" x="1260"/><use href="#eq" x="1333"/><use href="#gD" x="1433"/><use href="#dP" x="1533"/><use href="#cM" x="1588"/></g>
<line x1="649.0" y1="687.0" x2="653.0" y2="687.0" stroke="#ea5f6d" stroke-width="0.9"/>
<g transform="matrix(.056 0 0 .056 655.5 689.0)" class="tf"><use href="#cY"/><use href="#cr" x="79"/><use href="#ds" x="141"/><use href="#ci" x="202"/><use href="#cu" x="263"/><use href="#du" x="287"/><use href="#cM" x="318"/><use href="#du" x="391"/><use href="#cj" x="422"/><use href="#co" x="459"/><use href="#gg" x="483"/><use href="#ck" x="538"/><use href="#eU" x="599"/><use href="#hn" x="636"/><use href="#ig" x="736"/><use href="#dg" x="836"/><use href="#dh" x="936"/><use href="#eU" x="1036"/><use href="#cA" x="1072"/><use href="#cX" x="1134"/><use href="#ct" x="1213"/><use href="#fv" x="1286"/><use href="#eq" x="1360"/><use href="#gD" x="1460"/><use href="#bc" x="1560"/><use href="#da" x="1639"/><use href="#dc" x="1706"/></g>
<line x1="649.0" y1="707.7" x2="653.0" y2="707.7" stroke="#ea5f6d" stroke-width="0.9"/>
<g transform="matrix(.056 0 0 .056 655.5 709.7)" class="tf"><use href="#gT"/><use href="#ih" x="100"/><use href="#p" x="200"/><use href="#q" x="300"/><use href="#bC" x="400"/><use href="#ii" x="500"/><use href="#ij" x="600"/><use href="#cy" x="700"/><use href="#dO" x="800"/></g>
<circle cx="713.3" cy="707.7" r="1.5" stroke="#ef8792" stroke-width="0.75" fill="#fff"/>
<line x1="714.8" y1="707.7" x2="716.0" y2="707.7" stroke="#ef8792" stroke-width="0.9"/>
<path d="M719.5,697.3 L716.6,697.3 Q716.0,697.3 716.0,697.9 L716.0,717.7 Q716.0,718.3 716.6,718.3 L719.5,718.3" stroke="#ef8792" stroke-width="0.9" fill="none"/>
<line x1="716.0" y1="707.7" x2="719.5" y2="707.7" stroke="#ef8792" stroke-width="0.9"/>
<g transform="matrix(.056 0 0 .056 721.5 699.3)" class="tf"><use href="#hk"/><use href="#ik" x="100"/><use href="#il" x="200"/><use href="#bz" x="300"/><use href="#cR" x="400"/><use href="#cI" x="500"/><use href="#do" x="600"/></g>
<g transform="matrix(.056 0 0 .056 721.5 709.7)" class="tf"><use href="#il"/><use href="#bz" x="100"/><use href="#im" x="200"/><use href="#in" x="300"/><use href="#dD" x="400"/><use href="#ii" x="500"/><use href="#ij" x="600"/></g>
<g transform="matrix(.056 0 0 .056 721.5 720.3)" class="tf"><use href="#eK"/><use href="#bX" x="100"/><use href="#dl" x="200"/><use href="#ed" x="300"/><use href="#io" x="400"/><use href="#im" x="500"/><use href="#in" x="600"/></g>
<circle cx="825.8" cy="731.3" r="1.8" stroke="#8a8a8a" stroke-width="0.8" fill="#fff"/>
<path d="M825.8,729.5 L825.8,670.0 Q825.8,669.0 826.8,669.0 L829.8,669.0" stroke="#8a8a8a" stroke-width="0.9" fill="none"/>
<g transform="matrix(.056 0 0 .056 832.3 671.0)" class="tf"><use href="#bb"/><use href="#dV" x="73"/><use href="#du" x="128"/><use href="#fM" x="159"/><use href="#cr" x="220"/><use href="#cp" x="281"/><use href="#cy" x="342"/><use href="#gj" x="442"/><use href="#cN" x="542"/><use href="#bb" x="573"/><use href="#el" x="646"/><use href="#em" x="746"/><use href="#cn" x="846"/><use href="#eJ" x="946"/></g>
<line x1="825.8" y1="679.4" x2="829.8" y2="679.4" stroke="#8a8a8a" stroke-width="0.9"/>
<g transform="matrix(.056 0 0 .056 832.3 681.4)" class="tf"><use href="#bb"/><use href="#dV" x="73"/><use href="#du" x="128"/><use href="#fM" x="159"/><use href="#cr" x="220"/><use href="#cp" x="281"/><use href="#ew" x="342"/><use href="#cR" x="442"/><use href="#bn" x="542"/><use href="#fM" x="622"/><use href="#cr" x="683"/><use href="#co" x="744"/><use href="#cs" x="769"/><use href="#fu" x="824"/><use href="#gQ" x="924"/><use href="#cn" x="1024"/><use href="#eJ" x="1124"/></g>
<line x1="825.8" y1="689.8" x2="829.8" y2="689.8" stroke="#8a8a8a" stroke-width="0.9"/>
<g transform="matrix(.056 0 0 .056 832.3 691.8)" class="tf"><use href="#bb"/><use href="#dV" x="73"/><use href="#du" x="128"/><use href="#fM" x="159"/><use href="#cr" x="220"/><use href="#cp" x="281"/><use href="#cy" x="342"/><use href="#gj" x="442"/><use href="#cY" x="542"/><use href="#cW" x="622"/><use href="#cX" x="701"/><use href="#gy" x="781"/><use href="#gz" x="881"/><use href="#gu" x="981"/><use href="#cn" x="1081"/><use href="#eJ" x="1181"/></g>
<line x1="825.8" y1="700.1" x2="829.8" y2="700.1" stroke="#8a8a8a" stroke-width="0.9"/>
<g transform="matrix(.056 0 0 .056 832.3 702.1)" class="tf"><use href="#gy"/><use href="#gz" x="100"/><use href="#gu" x="200"/><use href="#ep" x="300"/><use href="#cT" x="400"/><use href="#cU" x="500"/><use href="#fZ" x="600"/><use href="#ga" x="700"/><use href="#el" x="800"/><use href="#em" x="900"/><use href="#cc" x="1000"/><use href="#cd" x="1100"/><use href="#ew" x="1200"/><use href="#cR" x="1300"/></g>
<line x1="825.8" y1="710.5" x2="829.8" y2="710.5" stroke="#8a8a8a" stroke-width="0.9"/>
<g transform="matrix(.056 0 0 .056 832.3 712.5)" class="tf"><use href="#ip"/><use href="#fd" x="100"/><use href="#fP" x="200"/><use href="#fQ" x="300"/><use href="#bC" x="400"/><use href="#ex" x="500"/><use href="#ey" x="600"/><use href="#fP" x="700"/><use href="#fQ" x="800"/><use href="#cc" x="900"/><use href="#cd" x="1000"/><use href="#ew" x="1100"/><use href="#cR" x="1200"/></g>
<line x1="825.8" y1="720.9" x2="829.8" y2="720.9" stroke="#8a8a8a" stroke-width="0.9"/>
<g transform="matrix(.056 0 0 .056 832.3 722.9)" class="tf"><use href="#ea"/><use href="#eb" x="100"/><use href="#gf" x="200"/><use href="#ed" x="300"/><use href="#W" x="400"/><use href="#dZ" x="473"/><use href="#bb" x="547"/><use href="#p" x="620"/><use href="#ee" x="720"/><use href="#bd" x="820"/><use href="#iq" x="920"/></g>
<circle cx="284.3" cy="746.7" r="1.8" stroke="#ea5f6d" stroke-width="0.8" fill="#fff"/>
<path d="M284.3,748.5 L284.3,818.3 Q284.3,819.3 285.3,819.3 L288.3,819.3" stroke="#ea5f6d" stroke-width="0.9" fill="none"/>
<line x1="284.3" y1="772.3" x2="288.3" y2="772.3" stroke="#ea5f6d" stroke-width="0.9"/>
<g transform="matrix(.056 0 0 .056 290.8 774.3)" class="tf"><use href="#dd"/><use href="#cY" x="79"/><use href="#W" x="159"/><use href="#K" x="232"/><use href="#L" x="332"/></g>
<circle cx="319.3" cy="772.3" r="1.5" stroke="#ef8792" stroke-width="0.75" fill="#fff"/>
<line x1="320.8" y1="772.3" x2="322.7" y2="772.3" stroke="#ef8792" stroke-width="0.9"/>
<path d="M326.2,756.0 L323.3,756.0 Q322.7,756.0 322.7,756.6 L322.7,787.1 Q322.7,787.7 323.3,787.7 L326.2,787.7" stroke="#ef8792" stroke-width="0.9" fill="none"/>
<line x1="322.7" y1="766.7" x2="326.2" y2="766.7" stroke="#ef8792" stroke-width="0.9"/>
<line x1="322.7" y1="777.3" x2="326.2" y2="777.3" stroke="#ef8792" stroke-width="0.9"/>
<g transform="matrix(.056 0 0 .056 328.2 758.0)" class="tf"><use href="#dd"/><use href="#cY" x="79"/><use href="#W" x="159"/><use href="#bq" x="232"/><use href="#br" x="332"/><use href="#bC" x="432"/><use href="#fU" x="532"/><use href="#fV" x="632"/></g>
<g transform="matrix(.056 0 0 .056 328.2 768.7)" class="tf"><use href="#dd"/><use href="#cY" x="79"/><use href="#W" x="159"/><use href="#ea" x="232"/><use href="#eb" x="332"/><use href="#cJ" x="432"/><use href="#bR" x="532"/><use href="#ce" x="632"/><use href="#bP" x="732"/></g>
<g transform="matrix(.056 0 0 .056 328.2 779.3)" class="tf"><use href="#ea"/><use href="#eb" x="100"/><use href="#ir" x="200"/></g>
<g transform="matrix(.056 0 0 .056 328.2 789.7)" class="tf"><use href="#cw"/><use href="#cx" x="100"/><use href="#hU" x="200"/><use href="#bo" x="300"/><use href="#ez" x="400"/><use href="#Y" x="500"/></g>
<g transform="matrix(.056 0 0 .056 290.8 821.3)" class="tf"><use href="#dd"/><use href="#cY" x="79"/><use href="#W" x="159"/><use href="#ea" x="232"/><use href="#eb" x="332"/><use href="#gf" x="432"/><use href="#ed" x="532"/></g>
<circle cx="330.7" cy="819.3" r="1.5" stroke="#ef8792" stroke-width="0.75" fill="#fff"/>
<line x1="332.2" y1="819.3" x2="334.0" y2="819.3" stroke="#ef8792" stroke-width="0.9"/>
<path d="M337.5,809.0 L334.6,809.0 Q334.0,809.0 334.0,809.6 L334.0,828.7 Q334.0,829.3 334.6,829.3 L337.5,829.3" stroke="#ef8792" stroke-width="0.9" fill="none"/>
<g transform="matrix(.056 0 0 .056 339.5 811.0)" class="tf"><use href="#j"/><use href="#ck" x="104"/><use href="#ds" x="165"/><use href="#cM" x="226"/><use href="#fM" x="300"/><use href="#ck" x="361"/><use href="#cu" x="422"/><use href="#cu" x="446"/><use href="#cy" x="471"/><use href="#dO" x="571"/></g>
<circle cx="380.7" cy="809.0" r="1.5" stroke="#f3a5ad" stroke-width="0.75" fill="#fff"/>
<line x1="382.2" y1="809.0" x2="385.0" y2="809.0" stroke="#f3a5ad" stroke-width="0.9"/>
<path d="M388.5,798.3 L385.6,798.3 Q385.0,798.3 385.0,798.9 L385.0,818.7 Q385.0,819.3 385.6,819.3 L388.5,819.3" stroke="#f3a5ad" stroke-width="0.9" fill="none"/>
<line x1="385.0" y1="809.0" x2="388.5" y2="809.0" stroke="#f3a5ad" stroke-width="0.9"/>
<g transform="matrix(.056 0 0 .056 390.5 800.3)" class="tf"><use href="#is"/><use href="#fH" x="100"/></g>
<g transform="matrix(.056 0 0 .056 390.5 811.0)" class="tf"><use href="#it"/><use href="#iu" x="100"/></g>
<g transform="matrix(.056 0 0 .056 390.5 821.3)" class="tf"><use href="#iv"/><use href="#iw" x="100"/></g>
<g transform="matrix(.056 0 0 .056 339.5 831.3)" class="tf"><use href="#dd"/><use href="#cY" x="79"/><use href="#W" x="159"/><use href="#ea" x="232"/><use href="#eb" x="332"/><use href="#dy" x="432"/><use href="#dz" x="532"/><use href="#cy" x="632"/><use href="#dO" x="732"/></g>
<circle cx="449.3" cy="746.7" r="1.8" stroke="#ea5f6d" stroke-width="0.8" fill="#fff"/>
<path d="M449.3,748.5 L449.3,815.0 Q449.3,816.0 450.3,816.0 L453.3,816.0" stroke="#ea5f6d" stroke-width="0.9" fill="none"/>
<line x1="449.3" y1="774.3" x2="453.3" y2="774.3" stroke="#ea5f6d" stroke-width="0.9"/>
<g transform="matrix(.056 0 0 .056 455.8 776.3)" class="tf"><use href="#hC"/><use href="#hD" x="100"/><use href="#hF" x="200"/><use href="#en" x="300"/><use href="#I" x="400"/></g>
<circle cx="488.3" cy="774.3" r="1.5" stroke="#ef8792" stroke-width="0.75" fill="#fff"/>
<line x1="489.8" y1="774.3" x2="492.3" y2="774.3" stroke="#ef8792" stroke-width="0.9"/>
<path d="M495.8,759.3 L492.9,759.3 Q492.3,759.3 492.3,759.9 L492.3,789.4 Q492.3,790.0 492.9,790.0 L495.8,790.0" stroke="#ef8792" stroke-width="0.9" fill="none"/>
<line x1="492.3" y1="769.3" x2="495.8" y2="769.3" stroke="#ef8792" stroke-width="0.9"/>
<line x1="492.3" y1="779.7" x2="495.8" y2="779.7" stroke="#ef8792" stroke-width="0.9"/>
<g transform="matrix(.056 0 0 .056 497.8 761.3)" class="tf"><use href="#dJ"/><use href="#dK" x="100"/><use href="#hn" x="200"/><use href="#ho" x="300"/><use href="#ix" x="400"/><use href="#dS" x="500"/></g>
<g transform="matrix(.056 0 0 .056 497.8 771.3)" class="tf"><use href="#iy"/><use href="#iz" x="100"/><use href="#fj" x="200"/><use href="#cV" x="300"/><use href="#cy" x="400"/><use href="#dO" x="500"/></g>
<g transform="matrix(.056 0 0 .056 497.8 781.7)" class="tf"><use href="#fw"/><use href="#bA" x="100"/><use href="#dl" x="200"/><use href="#gr" x="300"/><use href="#gs" x="400"/><use href="#cy" x="500"/><use href="#dO" x="600"/></g>
<g transform="matrix(.056 0 0 .056 497.8 792.0)" class="tf"><use href="#dZ"/><use href="#cM" x="73"/><use href="#cM" x="147"/><use href="#ea" x="220"/><use href="#eb" x="320"/><use href="#gf" x="420"/><use href="#ed" x="520"/><use href="#cy" x="620"/><use href="#dO" x="720"/></g>
<g transform="matrix(.056 0 0 .056 455.8 818.0)" class="tf"><use href="#hC"/><use href="#hD" x="100"/><use href="#hF" x="200"/><use href="#en" x="300"/><use href="#eO" x="400"/></g>
<circle cx="488.3" cy="816.0" r="1.5" stroke="#ef8792" stroke-width="0.75" fill="#fff"/>
<line x1="489.8" y1="816.0" x2="492.3" y2="816.0" stroke="#ef8792" stroke-width="0.9"/>
<path d="M495.8,800.7 L492.9,800.7 Q492.3,800.7 492.3,801.3 L492.3,831.1 Q492.3,831.7 492.9,831.7 L495.8,831.7" stroke="#ef8792" stroke-width="0.9" fill="none"/>
<line x1="492.3" y1="811.0" x2="495.8" y2="811.0" stroke="#ef8792" stroke-width="0.9"/>
<line x1="492.3" y1="821.3" x2="495.8" y2="821.3" stroke="#ef8792" stroke-width="0.9"/>
<g transform="matrix(.056 0 0 .056 497.8 802.7)" class="tf"><use href="#cY"/><use href="#cM" x="79"/><use href="#dd" x="153"/><use href="#ge" x="232"/><use href="#ea" x="299"/><use href="#eb" x="399"/><use href="#gf" x="499"/><use href="#ed" x="599"/><use href="#cy" x="699"/><use href="#dO" x="799"/></g>
<g transform="matrix(.056 0 0 .056 497.8 813.0)" class="tf"><use href="#cM"/><use href="#es" x="73"/><use href="#cA" x="159"/><use href="#iA" x="220"/><use href="#dH" x="320"/><use href="#et" x="420"/><use href="#M" x="520"/><use href="#cy" x="620"/><use href="#dO" x="720"/></g>
<g transform="matrix(.056 0 0 .056 497.8 823.3)" class="tf"><use href="#fq"/><use href="#bz" x="100"/><use href="#gn" x="200"/><use href="#fN" x="300"/><use href="#ea" x="400"/><use href="#eb" x="500"/><use href="#cy" x="600"/><use href="#dO" x="700"/></g>
<g transform="matrix(.056 0 0 .056 497.8 833.7)" class="tf"><use href="#hz"/><use href="#hA" x="100"/><use href="#hB" x="200"/><use href="#ea" x="300"/><use href="#eb" x="400"/><use href="#cy" x="500"/><use href="#dO" x="600"/></g>
<circle cx="582.3" cy="746.7" r="1.8" stroke="#ea5f6d" stroke-width="0.8" fill="#fff"/>
<path d="M582.3,748.5 L582.3,831.0 Q582.3,832.0 583.3,832.0 L586.3,832.0" stroke="#ea5f6d" stroke-width="0.9" fill="none"/>
<line x1="582.3" y1="759.0" x2="586.3" y2="759.0" stroke="#ea5f6d" stroke-width="0.9"/>
<g transform="matrix(.056 0 0 .056 588.8 761.0)" class="tf"><use href="#l"/><use href="#dT" x="100"/><use href="#iB" x="200"/><use href="#iC" x="300"/><use href="#ea" x="400"/><use href="#eb" x="500"/><use href="#eS" x="600"/><use href="#hH" x="700"/></g>
<line x1="582.3" y1="780.0" x2="586.3" y2="780.0" stroke="#ea5f6d" stroke-width="0.9"/>
<g transform="matrix(.056 0 0 .056 588.8 782.0)" class="tf"><use href="#j"/><use href="#co" x="104"/><use href="#cp" x="128"/><use href="#cq" x="189"/><use href="#bn" x="251"/><use href="#cr" x="330"/><use href="#cs" x="391"/><use href="#eS" x="446"/><use href="#hH" x="546"/><use href="#cy" x="646"/><use href="#dO" x="746"/></g>
<circle cx="642.3" cy="780.0" r="1.5" stroke="#ef8792" stroke-width="0.75" fill="#fff"/>
<line x1="643.8" y1="780.0" x2="646.0" y2="780.0" stroke="#ef8792" stroke-width="0.9"/>
<path d="M649.5,769.3 L646.6,769.3 Q646.0,769.3 646.0,769.9 L646.0,790.1 Q646.0,790.7 646.6,790.7 L649.5,790.7" stroke="#ef8792" stroke-width="0.9" fill="none"/>
<line x1="646.0" y1="780.0" x2="649.5" y2="780.0" stroke="#ef8792" stroke-width="0.9"/>
<g transform="matrix(.056 0 0 .056 651.5 771.3)" class="tf"><use href="#gw"/><use href="#fD" x="100"/><use href="#ea" x="200"/><use href="#eb" x="300"/></g>
<g transform="matrix(.056 0 0 .056 651.5 782.0)" class="tf"><use href="#cx"/><use href="#iD" x="100"/><use href="#iE" x="200"/><use href="#gE" x="300"/></g>
<g transform="matrix(.056 0 0 .056 651.5 792.7)" class="tf"><use href="#eh"/><use href="#cp" x="79"/><use href="#ci" x="141"/><use href="#du" x="202"/><use href="#du" x="232"/><use href="#ck" x="263"/><use href="#cp" x="324"/><use href="#cq" x="385"/><use href="#ck" x="446"/><use href="#cq" x="508"/><use href="#cN" x="599"/><use href="#cp" x="630"/><use href="#cs" x="691"/><use href="#du" x="746"/><use href="#ci" x="777"/><use href="#cu" x="838"/><use href="#cu" x="862"/><use href="#cs" x="887"/></g>
<line x1="582.3" y1="811.0" x2="586.3" y2="811.0" stroke="#ea5f6d" stroke-width="0.9"/>
<g transform="matrix(.056 0 0 .056 588.8 813.0)" class="tf"><use href="#cA"/><use href="#co" x="61"/><use href="#cp" x="86"/><use href="#cB" x="147"/><use href="#cC" x="208"/><use href="#eS" x="263"/><use href="#hH" x="363"/><use href="#cy" x="463"/><use href="#dO" x="563"/></g>
<circle cx="631.7" cy="811.0" r="1.5" stroke="#ef8792" stroke-width="0.75" fill="#fff"/>
<line x1="633.2" y1="811.0" x2="635.0" y2="811.0" stroke="#ef8792" stroke-width="0.9"/>
<path d="M638.5,801.0 L635.6,801.0 Q635.0,801.0 635.0,801.6 L635.0,821.1 Q635.0,821.7 635.6,821.7 L638.5,821.7" stroke="#ef8792" stroke-width="0.9" fill="none"/>
<line x1="635.0" y1="811.0" x2="638.5" y2="811.0" stroke="#ef8792" stroke-width="0.9"/>
<g transform="matrix(.056 0 0 .056 640.5 803.0)" class="tf"><use href="#dJ"/><use href="#dK" x="100"/><use href="#iF" x="200"/><use href="#iG" x="300"/></g>
<g transform="matrix(.056 0 0 .056 640.5 813.0)" class="tf"><use href="#iH"/><use href="#gz" x="100"/><use href="#cD" x="200"/><use href="#iI" x="300"/></g>
<g transform="matrix(.056 0 0 .056 640.5 823.7)" class="tf"><use href="#cM"/><use href="#eh" x="73"/><use href="#cN" x="153"/><use href="#cW" x="183"/></g>
<g transform="matrix(.056 0 0 .056 588.8 834.0)" class="tf"><use href="#dM"/><use href="#dV" x="92"/><use href="#cs" x="147"/><use href="#ef" x="202"/><use href="#cu" x="263"/><use href="#Y" x="287"/><use href="#Z" x="387"/><use href="#ba" x="487"/><use href="#eS" x="587"/><use href="#hH" x="687"/><use href="#cy" x="787"/><use href="#dO" x="887"/></g>
<circle cx="745.0" cy="750.0" r="1.8" stroke="#8a8a8a" stroke-width="0.8" fill="#fff"/>
<path d="M745.0,751.8 L745.0,842.3 Q745.0,843.3 746.0,843.3 L749.0,843.3" stroke="#8a8a8a" stroke-width="0.9" fill="none"/>
<line x1="745.0" y1="760.0" x2="749.0" y2="760.0" stroke="#8a8a8a" stroke-width="0.9"/>
<g transform="matrix(.056 0 0 .056 751.5 762.0)" class="tf"><use href="#bb"/><use href="#dV" x="73"/><use href="#du" x="128"/><use href="#fM" x="159"/><use href="#cr" x="220"/><use href="#cp" x="281"/><use href="#dJ" x="342"/><use href="#dK" x="442"/><use href="#ex" x="542"/><use href="#ey" x="642"/></g>
<line x1="745.0" y1="770.7" x2="749.0" y2="770.7" stroke="#8a8a8a" stroke-width="0.9"/>
<g transform="matrix(.056 0 0 .056 751.5 772.7)" class="tf"><use href="#K"/><use href="#L" x="100"/><use href="#dN" x="200"/><use href="#bG" x="300"/></g>
<line x1="745.0" y1="781.0" x2="749.0" y2="781.0" stroke="#8a8a8a" stroke-width="0.9"/>
<g transform="matrix(.056 0 0 .056 751.5 783.0)" class="tf"><use href="#hA"/><use href="#eF" x="100"/></g>
<line x1="745.0" y1="791.3" x2="749.0" y2="791.3" stroke="#8a8a8a" stroke-width="0.9"/>
<g transform="matrix(.056 0 0 .056 751.5 793.3)" class="tf"><use href="#iJ"/><use href="#dF" x="100"/></g>
<line x1="745.0" y1="801.7" x2="749.0" y2="801.7" stroke="#8a8a8a" stroke-width="0.9"/>
<g transform="matrix(.056 0 0 .056 751.5 803.7)" class="tf"><use href="#dL"/><use href="#bm" x="100"/></g>
<line x1="745.0" y1="812.0" x2="749.0" y2="812.0" stroke="#8a8a8a" stroke-width="0.9"/>
<g transform="matrix(.056 0 0 .056 751.5 814.0)" class="tf"><use href="#fZ"/><use href="#ga" x="100"/></g>
<line x1="745.0" y1="822.3" x2="749.0" y2="822.3" stroke="#8a8a8a" stroke-width="0.9"/>
<g transform="matrix(.056 0 0 .056 751.5 824.3)" class="tf"><use href="#eI"/><use href="#eJ" x="100"/><use href="#cS" x="200"/><use href="#q" x="300"/></g>
<line x1="745.0" y1="833.0" x2="749.0" y2="833.0" stroke="#8a8a8a" stroke-width="0.9"/>
<g transform="matrix(.056 0 0 .056 751.5 835.0)" class="tf"><use href="#ez"/><use href="#Y" x="100"/><use href="#bC" x="200"/><use href="#cO" x="300"/><use href="#iK" x="400"/></g>
<g transform="matrix(.056 0 0 .056 751.5 845.3)" class="tf"><use href="#fJ"/><use href="#fC" x="100"/><use href="#eF" x="200"/><use href="#iL" x="300"/><use href="#dh" x="400"/></g>
<circle cx="902.2" cy="746.7" r="1.8" stroke="#ea5f6d" stroke-width="0.8" fill="#fff"/>
<path d="M902.2,748.5 L902.2,823.4 Q902.2,824.4 903.2,824.4 L906.2,824.4" stroke="#ea5f6d" stroke-width="0.9" fill="none"/>
<line x1="902.2" y1="767.1" x2="906.2" y2="767.1" stroke="#ea5f6d" stroke-width="0.9"/>
<g transform="matrix(.056 0 0 .056 908.7 769.1)" class="tf"><use href="#eV"/><use href="#eW" x="100"/></g>
<circle cx="926.7" cy="767.1" r="1.5" stroke="#ef8792" stroke-width="0.75" fill="#fff"/>
<line x1="928.2" y1="767.1" x2="929.3" y2="767.1" stroke="#ef8792" stroke-width="0.9"/>
<path d="M932.8,756.7 L929.9,756.7 Q929.3,756.7 929.3,757.3 L929.3,777.2 Q929.3,777.8 929.9,777.8 L932.8,777.8" stroke="#ef8792" stroke-width="0.9" fill="none"/>
<line x1="929.3" y1="767.1" x2="932.8" y2="767.1" stroke="#ef8792" stroke-width="0.9"/>
<g transform="matrix(.056 0 0 .056 934.8 758.7)" class="tf"><use href="#fa"/><use href="#fb" x="100"/><use href="#eM" x="200"/><use href="#eE" x="300"/></g>
<g transform="matrix(.056 0 0 .056 934.8 769.1)" class="tf"><use href="#ea"/><use href="#eb" x="100"/><use href="#hi" x="200"/><use href="#hj" x="300"/></g>
<g transform="matrix(.056 0 0 .056 934.8 779.8)" class="tf"><use href="#n"/><use href="#o" x="100"/><use href="#gp" x="200"/><use href="#el" x="300"/></g>
<line x1="902.2" y1="787.8" x2="906.2" y2="787.8" stroke="#ea5f6d" stroke-width="0.9"/>
<g transform="matrix(.056 0 0 .056 908.7 789.8)" class="tf"><use href="#bA"/><use href="#bB" x="100"/></g>
<circle cx="926.7" cy="787.8" r="1.5" stroke="#ef8792" stroke-width="0.75" fill="#fff"/>
<line x1="928.2" y1="787.8" x2="930.0" y2="787.8" stroke="#ef8792" stroke-width="0.9"/>
<line x1="930.0" y1="787.8" x2="933.5" y2="787.8" stroke="#ef8792" stroke-width="0.9"/>
<g transform="matrix(.056 0 0 .056 935.5 789.8)" class="tf"><use href="#cY"/><use href="#cN" x="79"/><use href="#cM" x="110"/><use href="#bb" x="183"/><use href="#eU" x="257"/><use href="#bb" x="293"/><use href="#da" x="367"/><use href="#W" x="434"/></g>
<g transform="matrix(.056 0 0 .056 908.7 826.4)" class="tf"><use href="#bL"/><use href="#bp" x="100"/><use href="#bM" x="200"/><use href="#bN" x="300"/></g>
<circle cx="937.8" cy="824.4" r="1.5" stroke="#ef8792" stroke-width="0.75" fill="#fff"/>
<line x1="939.3" y1="824.4" x2="941.1" y2="824.4" stroke="#ef8792" stroke-width="0.9"/>
<path d="M944.6,798.4 L941.7,798.4 Q941.1,798.4 941.1,799.0 L941.1,849.8 Q941.1,850.4 941.7,850.4 L944.6,850.4" stroke="#ef8792" stroke-width="0.9" fill="none"/>
<line x1="941.1" y1="808.9" x2="944.6" y2="808.9" stroke="#ef8792" stroke-width="0.9"/>
<line x1="941.1" y1="819.3" x2="944.6" y2="819.3" stroke="#ef8792" stroke-width="0.9"/>
<line x1="941.1" y1="830.0" x2="944.6" y2="830.0" stroke="#ef8792" stroke-width="0.9"/>
<line x1="941.1" y1="840.0" x2="944.6" y2="840.0" stroke="#ef8792" stroke-width="0.9"/>
<g transform="matrix(.056 0 0 .056 946.6 800.4)" class="tf"><use href="#n"/><use href="#o" x="100"/><use href="#gy" x="200"/><use href="#gz" x="300"/><use href="#p" x="400"/><use href="#q" x="500"/><use href="#r" x="600"/></g>
<g transform="matrix(.056 0 0 .056 946.6 810.9)" class="tf"><use href="#n"/><use href="#o" x="100"/><use href="#bU" x="200"/><use href="#bV" x="300"/><use href="#p" x="400"/><use href="#q" x="500"/><use href="#r" x="600"/></g>
<g transform="matrix(.056 0 0 .056 946.6 821.3)" class="tf"><use href="#fa"/><use href="#fb" x="100"/><use href="#eM" x="200"/><use href="#eE" x="300"/><use href="#p" x="400"/><use href="#q" x="500"/><use href="#r" x="600"/></g>
<g transform="matrix(.056 0 0 .056 946.6 832.0)" class="tf"><use href="#iM"/><use href="#iN" x="100"/><use href="#iO" x="200"/><use href="#iM" x="300"/><use href="#p" x="400"/><use href="#q" x="500"/><use href="#r" x="600"/></g>
<g transform="matrix(.056 0 0 .056 946.6 842.0)" class="tf"><use href="#gK"/><use href="#dl" x="100"/><use href="#iP" x="200"/><use href="#cD" x="300"/><use href="#p" x="400"/><use href="#q" x="500"/><use href="#r" x="600"/></g>
<g transform="matrix(.056 0 0 .056 946.6 852.4)" class="tf"><use href="#n"/><use href="#o" x="100"/><use href="#ea" x="200"/><use href="#eb" x="300"/><use href="#hw" x="400"/><use href="#hx" x="500"/><use href="#hy" x="600"/></g>
<line x1="203.3" y1="1103.3" x2="211.7" y2="1103.3" stroke="#999" stroke-width="0.9"/>
<line x1="297.3" y1="1103.3" x2="304.0" y2="1103.3" stroke="#999" stroke-width="0.9"/>
<line x1="363.3" y1="1103.3" x2="488.3" y2="1103.3" stroke="#999" stroke-width="0.9"/>
<line x1="548.3" y1="1103.3" x2="555.0" y2="1103.3" stroke="#999" stroke-width="0.9"/>
<line x1="615.0" y1="1103.3" x2="691.7" y2="1103.3" stroke="#999" stroke-width="0.9"/>
<line x1="751.7" y1="1103.3" x2="756.7" y2="1103.3" stroke="#999" stroke-width="0.9"/>
<line x1="812.4" y1="1103.3" x2="867.5" y2="1103.3" stroke="#999" stroke-width="0.9"/>
<line x1="954.1" y1="1103.3" x2="959.8" y2="1103.3" stroke="#999" stroke-width="0.9"/>
<g transform="matrix(.06 0 0 .06 232.7 1105.5)" class="tc"><use href="#if"/><use href="#iQ" x="100"/><use href="#S" x="200"/><use href="#T" x="300"/><use href="#fa" x="400"/><use href="#fb" x="500"/><use href="#eM" x="600"/><use href="#eE" x="700"/><use href="#cy" x="800"/><use href="#dO" x="900"/></g>
<g transform="matrix(.06 0 0 .06 322.7 1105.5)" class="tc"><use href="#gK"/><use href="#dl" x="100"/><use href="#iP" x="200"/><use href="#cD" x="300"/><use href="#cy" x="400"/><use href="#dO" x="500"/></g>
<g transform="matrix(.06 0 0 .06 507.7 1105.5)" class="tc"><use href="#iM"/><use href="#iN" x="100"/><use href="#iO" x="200"/><use href="#iM" x="300"/><use href="#cy" x="400"/><use href="#dO" x="500"/></g>
<g transform="matrix(.06 0 0 .06 574.3 1105.5)" class="tc"><use href="#ic"/><use href="#iR" x="100"/><use href="#iS" x="200"/><use href="#iT" x="300"/><use href="#cy" x="400"/><use href="#dO" x="500"/></g>
<g transform="matrix(.06 0 0 .06 710.7 1105.5)" class="tc"><use href="#cM"/><use href="#dd" x="73"/><use href="#cY" x="153"/><use href="#hi" x="232"/><use href="#hj" x="332"/><use href="#x" x="432"/><use href="#y" x="532"/></g>
<g transform="matrix(.06 0 0 .06 777.8 1105.5)" class="tc"><use href="#cY"/><use href="#da" x="79"/><use href="#ge" x="147"/><use href="#iU" x="214"/><use href="#iV" x="314"/><use href="#bD" x="414"/></g>
<g transform="matrix(.061 0 0 .061 871.6 1105.5)" class="te"><use href="#x"/><use href="#cd" x="100"/><use href="#iW" x="200"/><use href="#iX" x="300"/><use href="#iY" x="400"/><use href="#bl" x="500"/><use href="#bm" x="600"/><use href="#f" x="700"/><use href="#bg" x="800"/><use href="#M" x="900"/><use href="#h" x="1000"/><use href="#i" x="1061"/><use href="#bn" x="1122"/><use href="#k" x="1202"/></g>
<g transform="matrix(.061 0 0 .061 964.2 1105.5)" class="te"><use href="#iZ"/><use href="#ja" x="100"/><use href="#jb" x="200"/><use href="#gl" x="300"/><use href="#do" x="400"/><use href="#jc" x="500"/><use href="#jd" x="600"/><use href="#je" x="700"/><use href="#jf" x="761"/><use href="#jg" x="861"/><use href="#jh" x="961"/><use href="#iY" x="1061"/><use href="#x" x="1161"/><use href="#y" x="1261"/><use href="#ek" x="1361"/><use href="#iF" x="1461"/><use href="#cw" x="1561"/><use href="#bU" x="1661"/></g>
<circle cx="254.7" cy="1093.6" r="1.8" stroke="#ea5f6d" stroke-width="0.8" fill="#fff"/>
<path d="M254.7,1091.8 L254.7,864.9 Q254.7,863.9 255.7,863.9 L258.7,863.9" stroke="#ea5f6d" stroke-width="0.9" fill="none"/>
<g transform="matrix(.056 0 0 .056 261.2 865.9)" class="tf"><use href="#if"/><use href="#iQ" x="100"/><use href="#S" x="200"/><use href="#T" x="300"/><use href="#eV" x="400"/><use href="#eW" x="500"/><use href="#dJ" x="600"/><use href="#dK" x="700"/><use href="#ix" x="800"/><use href="#dS" x="900"/></g>
<line x1="254.7" y1="890.3" x2="258.7" y2="890.3" stroke="#ea5f6d" stroke-width="0.9"/>
<g transform="matrix(.056 0 0 .056 261.2 892.3)" class="tf"><use href="#cI"/><use href="#ft" x="100"/><use href="#bg" x="200"/><use href="#dL" x="300"/></g>
<circle cx="290.3" cy="890.3" r="1.5" stroke="#ef8792" stroke-width="0.75" fill="#fff"/>
<line x1="291.8" y1="890.3" x2="293.9" y2="890.3" stroke="#ef8792" stroke-width="0.9"/>
<path d="M297.4,874.4 L294.5,874.4 Q293.9,874.4 293.9,875.0 L293.9,905.8 Q293.9,906.4 294.5,906.4 L297.4,906.4" stroke="#ef8792" stroke-width="0.9" fill="none"/>
<line x1="293.9" y1="885.3" x2="297.4" y2="885.3" stroke="#ef8792" stroke-width="0.9"/>
<line x1="293.9" y1="895.8" x2="297.4" y2="895.8" stroke="#ef8792" stroke-width="0.9"/>
<g transform="matrix(.056 0 0 .056 299.4 876.4)" class="tf"><use href="#j"/><use href="#ck" x="104"/><use href="#ds" x="165"/><use href="#gy" x="226"/><use href="#gz" x="326"/><use href="#S" x="426"/><use href="#T" x="526"/><use href="#eY" x="626"/><use href="#ji" x="726"/><use href="#bF" x="826"/><use href="#gl" x="926"/></g>
<g transform="matrix(.056 0 0 .056 299.4 887.3)" class="tf"><use href="#cN"/><use href="#bb" x="31"/><use href="#bC" x="104"/><use href="#dA" x="204"/><use href="#fh" x="304"/><use href="#cp" x="404"/><use href="#ch" x="465"/><use href="#ci" x="557"/><use href="#dt" x="618"/><use href="#fP" x="679"/><use href="#fQ" x="779"/></g>
<g transform="matrix(.056 0 0 .056 299.4 897.8)" class="tf"><use href="#cq"/><use href="#co" x="61"/><use href="#cj" x="86"/><use href="#cs" x="122"/><use href="#ck" x="177"/><use href="#ci" x="238"/><use href="#cj" x="300"/><use href="#dR" x="336"/><use href="#fM" x="391"/><use href="#eW" x="452"/><use href="#gM" x="552"/><use href="#fP" x="652"/><use href="#fQ" x="752"/></g>
<g transform="matrix(.056 0 0 .056 299.4 908.4)" class="tf"><use href="#gy"/><use href="#gz" x="100"/><use href="#gu" x="200"/><use href="#cI" x="300"/><use href="#ft" x="400"/><use href="#bC" x="500"/><use href="#cY" x="600"/><use href="#dM" x="679"/><use href="#cM" x="771"/><use href="#eY" x="844"/><use href="#ji" x="944"/><use href="#bF" x="1044"/><use href="#gl" x="1144"/></g>
<line x1="254.7" y1="961.1" x2="258.7" y2="961.1" stroke="#ea5f6d" stroke-width="0.9"/>
<g transform="matrix(.056 0 0 .056 261.2 963.1)" class="tf"><use href="#S"/><use href="#T" x="100"/><use href="#ea" x="200"/><use href="#eb" x="300"/><use href="#fu" x="400"/><use href="#hm" x="500"/></g>
<circle cx="301.4" cy="961.1" r="1.5" stroke="#ef8792" stroke-width="0.75" fill="#fff"/>
<line x1="302.9" y1="961.1" x2="304.7" y2="961.1" stroke="#ef8792" stroke-width="0.9"/>
<path d="M308.2,926.9 L305.3,926.9 Q304.7,926.9 304.7,927.5 L304.7,993.8 Q304.7,994.4 305.3,994.4 L308.2,994.4" stroke="#ef8792" stroke-width="0.9" fill="none"/>
<line x1="304.7" y1="947.8" x2="308.2" y2="947.8" stroke="#ef8792" stroke-width="0.9"/>
<line x1="304.7" y1="963.3" x2="308.2" y2="963.3" stroke="#ef8792" stroke-width="0.9"/>
<g transform="matrix(.056 0 0 .056 310.2 928.9)" class="tf"><use href="#cX"/><use href="#ch" x="79"/><use href="#ci" x="171"/><use href="#dt" x="232"/><use href="#cp" x="324"/><use href="#cs" x="385"/><use href="#ck" x="440"/><use href="#jj" x="501"/><use href="#bz" x="601"/><use href="#fP" x="701"/><use href="#fQ" x="801"/></g>
<circle cx="366.1" cy="926.9" r="1.5" stroke="#f3a5ad" stroke-width="0.75" fill="#fff"/>
<line x1="367.6" y1="926.9" x2="369.4" y2="926.9" stroke="#f3a5ad" stroke-width="0.9"/>
<path d="M372.9,916.7 L370.0,916.7 Q369.4,916.7 369.4,917.3 L369.4,936.9 Q369.4,937.5 370.0,937.5 L372.9,937.5" stroke="#f3a5ad" stroke-width="0.9" fill="none"/>
<line x1="369.4" y1="926.9" x2="372.9" y2="926.9" stroke="#f3a5ad" stroke-width="0.9"/>
<g transform="matrix(.056 0 0 .056 374.9 918.7)" class="tf"><use href="#cp"/><use href="#ch" x="61"/><use href="#ci" x="153"/><use href="#dt" x="214"/><use href="#jk" x="275"/><use href="#jl" x="375"/><use href="#jj" x="475"/><use href="#bz" x="575"/></g>
<g transform="matrix(.056 0 0 .056 374.9 928.9)" class="tf"><use href="#cp"/><use href="#ch" x="61"/><use href="#ci" x="153"/><use href="#dt" x="214"/><use href="#jm" x="275"/><use href="#hI" x="375"/><use href="#dg" x="475"/><use href="#jj" x="575"/><use href="#bz" x="675"/><use href="#n" x="775"/><use href="#cg" x="875"/></g>
<g transform="matrix(.056 0 0 .056 374.9 939.5)" class="tf"><use href="#dQ"/><use href="#cB" x="55"/><use href="#cu" x="116"/><use href="#cs" x="141"/><use href="#dR" x="196"/><use href="#ci" x="251"/><use href="#cp" x="312"/><use href="#jj" x="373"/><use href="#bz" x="473"/><use href="#ea" x="573"/><use href="#eb" x="673"/><use href="#ba" x="773"/><use href="#in" x="873"/><use href="#jn" x="973"/><use href="#jo" x="1073"/><use href="#jp" x="1173"/></g>
<g transform="matrix(.056 0 0 .056 310.2 949.8)" class="tf"><use href="#jq"/><use href="#cr" x="86"/><use href="#ds" x="147"/><use href="#dV" x="208"/><use href="#fP" x="263"/><use href="#fQ" x="363"/></g>
<g transform="matrix(.056 0 0 .056 310.2 965.3)" class="tf"><use href="#cX"/><use href="#ck" x="79"/><use href="#cs" x="141"/><use href="#cs" x="196"/><use href="#cB" x="251"/><use href="#cs" x="312"/><use href="#eR" x="367"/><use href="#eL" x="467"/><use href="#fP" x="567"/><use href="#fQ" x="667"/></g>
<circle cx="357.8" cy="963.3" r="1.5" stroke="#f3a5ad" stroke-width="0.75" fill="#fff"/>
<line x1="359.3" y1="963.3" x2="361.1" y2="963.3" stroke="#f3a5ad" stroke-width="0.9"/>
<path d="M364.6,958.3 L361.7,958.3 Q361.1,958.3 361.1,958.9 L361.1,968.3 Q361.1,968.9 361.7,968.9 L364.6,968.9" stroke="#f3a5ad" stroke-width="0.9" fill="none"/>
<g transform="matrix(.056 0 0 .056 366.6 960.3)" class="tf"><use href="#cY"/><use href="#D" x="79"/><use href="#W" x="153"/><use href="#bC" x="226"/><use href="#jr" x="326"/><use href="#hZ" x="426"/><use href="#dM" x="526"/><use href="#cM" x="618"/><use href="#ea" x="691"/><use href="#eb" x="791"/><use href="#hA" x="891"/><use href="#eF" x="991"/></g>
<g transform="matrix(.056 0 0 .056 366.6 970.9)" class="tf"><use href="#cY"/><use href="#D" x="79"/><use href="#cM" x="153"/><use href="#cM" x="226"/><use href="#cH" x="300"/><use href="#ed" x="400"/><use href="#ea" x="500"/><use href="#eb" x="600"/><use href="#eN" x="700"/><use href="#ce" x="800"/><use href="#fc" x="900"/><use href="#fd" x="1000"/></g>
<g transform="matrix(.056 0 0 .056 310.2 996.4)" class="tf"><use href="#ea"/><use href="#eb" x="100"/><use href="#gf" x="200"/><use href="#ed" x="300"/></g>
<circle cx="338.9" cy="994.4" r="1.5" stroke="#f3a5ad" stroke-width="0.75" fill="#fff"/>
<line x1="340.4" y1="994.4" x2="342.2" y2="994.4" stroke="#f3a5ad" stroke-width="0.9"/>
<path d="M345.7,979.2 L342.8,979.2 Q342.2,979.2 342.2,979.8 L342.2,1009.7 Q342.2,1010.3 342.8,1010.3 L345.7,1010.3" stroke="#f3a5ad" stroke-width="0.9" fill="none"/>
<line x1="342.2" y1="989.4" x2="345.7" y2="989.4" stroke="#f3a5ad" stroke-width="0.9"/>
<line x1="342.2" y1="1000.0" x2="345.7" y2="1000.0" stroke="#f3a5ad" stroke-width="0.9"/>
<g transform="matrix(.056 0 0 .056 347.7 981.2)" class="tf"><use href="#W"/><use href="#cC" x="73"/><use href="#dt" x="128"/><use href="#cu" x="190"/><use href="#cr" x="214"/><use href="#co" x="275"/><use href="#du" x="300"/><use href="#cW" x="330"/><use href="#X" x="410"/><use href="#db" x="483"/><use href="#I" x="514"/><use href="#eQ" x="575"/><use href="#hP" x="636"/><use href="#hP" x="697"/><use href="#F" x="758"/><use href="#cq" x="789"/><use href="#ci" x="850"/><use href="#dV" x="911"/><use href="#db" x="966"/><use href="#cY" x="997"/><use href="#cX" x="1076"/><use href="#D" x="1156"/><use href="#cW" x="1229"/><use href="#bC" x="1308"/><use href="#cM" x="1408"/><use href="#ck" x="1482"/><use href="#ck" x="1543"/><use href="#ds" x="1604"/><use href="#cB" x="1665"/><use href="#gA" x="1726"/><use href="#bY" x="1788"/><use href="#ea" x="1888"/><use href="#eb" x="1988"/><use href="#js" x="2088"/><use href="#iC" x="2188"/><use href="#gp" x="2288"/><use href="#gQ" x="2388"/></g>
<g transform="matrix(.056 0 0 .056 347.7 991.4)" class="tf"><use href="#cs"/><use href="#ck" x="55"/><use href="#ci" x="116"/><use href="#cj" x="177"/><use href="#dR" x="214"/><use href="#fM" x="269"/><use href="#cs" x="330"/><use href="#dt" x="385"/><use href="#cu" x="446"/><use href="#cr" x="471"/><use href="#co" x="532"/><use href="#du" x="556"/><use href="#ea" x="587"/><use href="#eb" x="687"/><use href="#cI" x="787"/><use href="#ft" x="887"/><use href="#bg" x="987"/><use href="#dL" x="1087"/><use href="#bC" x="1187"/><use href="#W" x="1287"/><use href="#dZ" x="1360"/><use href="#bb" x="1434"/><use href="#iM" x="1507"/><use href="#ed" x="1607"/></g>
<g transform="matrix(.056 0 0 .056 347.7 1002.0)" class="tf"><use href="#ch"/><use href="#cs" x="92"/><use href="#gv" x="147"/><use href="#ea" x="177"/><use href="#eb" x="277"/><use href="#gf" x="377"/><use href="#ed" x="477"/><use href="#cv" x="577"/><use href="#eM" x="677"/><use href="#eE" x="777"/></g>
<g transform="matrix(.056 0 0 .056 347.7 1012.3)" class="tf"><use href="#dM"/><use href="#cM" x="92"/><use href="#I" x="165"/><use href="#hP" x="226"/><use href="#eU" x="287"/><use href="#i" x="324"/><use href="#I" x="385"/><use href="#i" x="446"/><use href="#ea" x="508"/><use href="#eb" x="608"/><use href="#gf" x="708"/><use href="#ed" x="808"/><use href="#hN" x="908"/><use href="#hO" x="1008"/></g>
<line x1="254.7" y1="1046.9" x2="258.7" y2="1046.9" stroke="#ea5f6d" stroke-width="0.9"/>
<g transform="matrix(.056 0 0 .056 261.2 1048.9)" class="tf"><use href="#j"/><use href="#ck" x="104"/><use href="#ds" x="165"/><use href="#iM" x="226"/><use href="#ed" x="326"/><use href="#ea" x="426"/><use href="#eb" x="526"/><use href="#fu" x="626"/><use href="#hm" x="726"/></g>
<circle cx="313.9" cy="1046.9" r="1.5" stroke="#ef8792" stroke-width="0.75" fill="#fff"/>
<line x1="315.4" y1="1046.9" x2="317.2" y2="1046.9" stroke="#ef8792" stroke-width="0.9"/>
<path d="M320.7,1020.8 L317.8,1020.8 Q317.2,1020.8 317.2,1021.4 L317.2,1072.2 Q317.2,1072.8 317.8,1072.8 L320.7,1072.8" stroke="#ef8792" stroke-width="0.9" fill="none"/>
<line x1="317.2" y1="1031.1" x2="320.7" y2="1031.1" stroke="#ef8792" stroke-width="0.9"/>
<line x1="317.2" y1="1041.7" x2="320.7" y2="1041.7" stroke="#ef8792" stroke-width="0.9"/>
<line x1="317.2" y1="1051.9" x2="320.7" y2="1051.9" stroke="#ef8792" stroke-width="0.9"/>
<line x1="317.2" y1="1062.5" x2="320.7" y2="1062.5" stroke="#ef8792" stroke-width="0.9"/>
<g transform="matrix(.056 0 0 .056 322.7 1022.8)" class="tf"><use href="#cY"/><use href="#dM" x="79"/><use href="#cM" x="171"/><use href="#eY" x="244"/><use href="#ji" x="344"/><use href="#bF" x="444"/><use href="#gl" x="544"/><use href="#bn" x="644"/><use href="#fM" x="724"/><use href="#ci" x="785"/><use href="#du" x="846"/><use href="#dR" x="877"/><use href="#ch" x="932"/><use href="#cs" x="1023"/><use href="#db" x="1078"/><use href="#bn" x="1109"/><use href="#fM" x="1188"/><use href="#ci" x="1250"/><use href="#du" x="1311"/><use href="#bn" x="1341"/><use href="#ck" x="1421"/><use href="#ds" x="1482"/></g>
<g transform="matrix(.056 0 0 .056 322.7 1033.1)" class="tf"><use href="#cY"/><use href="#dM" x="79"/><use href="#cM" x="171"/><use href="#bC" x="244"/><use href="#hQ" x="344"/><use href="#cF" x="444"/><use href="#ea" x="544"/><use href="#eb" x="644"/><use href="#fP" x="744"/><use href="#fQ" x="844"/><use href="#p" x="944"/><use href="#ee" x="1044"/><use href="#j" x="1144"/><use href="#dt" x="1248"/><use href="#cs" x="1309"/><use href="#dR" x="1364"/><use href="#ci" x="1419"/><use href="#cp" x="1481"/><use href="#db" x="1542"/><use href="#da" x="1572"/><use href="#fM" x="1640"/><use href="#co" x="1701"/><use href="#cp" x="1725"/><use href="#gg" x="1786"/><use href="#bb" x="1841"/><use href="#fM" x="1915"/><use href="#dt" x="1976"/><use href="#jq" x="2037"/><use href="#eh" x="2123"/><use href="#cN" x="2202"/></g>
<g transform="matrix(.056 0 0 .056 322.7 1043.7)" class="tf"><use href="#dc"/><use href="#j" x="73"/><use href="#D" x="177"/><use href="#cM" x="251"/><use href="#ea" x="324"/><use href="#eb" x="424"/><use href="#fP" x="524"/><use href="#fQ" x="624"/></g>
<g transform="matrix(.056 0 0 .056 322.7 1053.9)" class="tf"><use href="#jk"/><use href="#dH" x="100"/><use href="#hB" x="200"/><use href="#dE" x="300"/><use href="#cM" x="400"/><use href="#es" x="473"/><use href="#cA" x="559"/><use href="#et" x="620"/><use href="#M" x="720"/><use href="#p" x="820"/><use href="#ee" x="920"/><use href="#cM" x="1020"/><use href="#es" x="1093"/><use href="#cA" x="1179"/><use href="#dM" x="1240"/><use href="#ci" x="1332"/><use href="#dt" x="1393"/></g>
<g transform="matrix(.056 0 0 .056 322.7 1064.5)" class="tf"><use href="#dZ"/><use href="#cM" x="73"/><use href="#cM" x="147"/><use href="#ea" x="220"/><use href="#eb" x="320"/><use href="#gf" x="420"/><use href="#ed" x="520"/><use href="#p" x="620"/><use href="#ee" x="720"/><use href="#X" x="820"/><use href="#ck" x="893"/><use href="#ck" x="955"/><use href="#gv" x="1016"/></g>
<g transform="matrix(.056 0 0 .056 322.7 1074.8)" class="tf"><use href="#do"/><use href="#p" x="100"/><use href="#ea" x="200"/><use href="#eb" x="300"/><use href="#fu" x="400"/><use href="#gQ" x="500"/></g>
<line x1="254.7" y1="1083.3" x2="258.7" y2="1083.3" stroke="#ea5f6d" stroke-width="0.9"/>
<g transform="matrix(.056 0 0 .056 261.2 1085.3)" class="tf"><use href="#fa"/><use href="#fb" x="100"/><use href="#ff" x="200"/><use href="#fy" x="300"/><use href="#fc" x="400"/><use href="#fd" x="500"/><use href="#bC" x="600"/><use href="#bd" x="700"/><use href="#iq" x="800"/></g>
<circle cx="333.7" cy="1114.1" r="1.8" stroke="#ea5f6d" stroke-width="0.8" fill="#fff"/>
<path d="M333.7,1115.9 L333.7,1196.0 Q333.7,1197.0 334.7,1197.0 L337.7,1197.0" stroke="#ea5f6d" stroke-width="0.9" fill="none"/>
<line x1="333.7" y1="1149.3" x2="337.7" y2="1149.3" stroke="#ea5f6d" stroke-width="0.9"/>
<g transform="matrix(.056 0 0 .056 340.2 1151.3)" class="tf"><use href="#gK"/><use href="#dl" x="100"/><use href="#iP" x="200"/><use href="#cD" x="300"/><use href="#jt" x="400"/><use href="#B" x="500"/></g>
<circle cx="380.0" cy="1149.3" r="1.5" stroke="#ef8792" stroke-width="0.75" fill="#fff"/>
<line x1="381.5" y1="1149.3" x2="384.4" y2="1149.3" stroke="#ef8792" stroke-width="0.9"/>
<path d="M387.9,1124.1 L385.0,1124.1 Q384.4,1124.1 384.4,1124.7 L384.4,1175.3 Q384.4,1175.9 385.0,1175.9 L387.9,1175.9" stroke="#ef8792" stroke-width="0.9" fill="none"/>
<line x1="384.4" y1="1134.4" x2="387.9" y2="1134.4" stroke="#ef8792" stroke-width="0.9"/>
<line x1="384.4" y1="1144.4" x2="387.9" y2="1144.4" stroke="#ef8792" stroke-width="0.9"/>
<line x1="384.4" y1="1160.0" x2="387.9" y2="1160.0" stroke="#ef8792" stroke-width="0.9"/>
<g transform="matrix(.056 0 0 .056 389.9 1126.1)" class="tf"><use href="#en"/><use href="#ju" x="100"/><use href="#fZ" x="200"/><use href="#iP" x="300"/><use href="#cD" x="400"/><use href="#hq" x="500"/><use href="#cM" x="600"/><use href="#es" x="673"/><use href="#cA" x="759"/><use href="#dN" x="820"/><use href="#et" x="920"/><use href="#ea" x="1020"/><use href="#eb" x="1120"/><use href="#cy" x="1220"/><use href="#jv" x="1320"/></g>
<g transform="matrix(.056 0 0 .056 389.9 1136.4)" class="tf"><use href="#jw"/><use href="#jx" x="100"/><use href="#cY" x="200"/><use href="#dM" x="279"/><use href="#cM" x="371"/><use href="#cc" x="444"/><use href="#cd" x="544"/><use href="#iP" x="644"/><use href="#cD" x="744"/><use href="#hq" x="844"/><use href="#dd" x="944"/><use href="#cY" x="1024"/><use href="#W" x="1103"/><use href="#hK" x="1177"/><use href="#q" x="1277"/><use href="#gK" x="1377"/><use href="#dl" x="1477"/><use href="#hU" x="1577"/><use href="#bo" x="1677"/></g>
<g transform="matrix(.056 0 0 .056 389.9 1146.4)" class="tf"><use href="#dZ"/><use href="#cW" x="73"/><use href="#ck" x="153"/><use href="#ds" x="214"/><use href="#cB" x="275"/><use href="#gA" x="336"/><use href="#bC" x="398"/><use href="#bb" x="498"/><use href="#fM" x="571"/><use href="#dt" x="632"/><use href="#cM" x="693"/><use href="#du" x="767"/><use href="#cr" x="797"/><use href="#cj" x="858"/><use href="#ch" x="895"/><use href="#dv" x="987"/><use href="#ir" x="1087"/><use href="#eD" x="1187"/><use href="#eE" x="1287"/><use href="#ex" x="1387"/><use href="#ey" x="1487"/></g>
<g transform="matrix(.056 0 0 .056 389.9 1162.0)" class="tf"><use href="#eK"/><use href="#hr" x="100"/><use href="#cM" x="200"/><use href="#es" x="273"/><use href="#cA" x="359"/><use href="#et" x="420"/><use href="#M" x="520"/><use href="#iP" x="620"/><use href="#cD" x="720"/><use href="#jt" x="820"/><use href="#B" x="920"/><use href="#bC" x="1020"/><use href="#cy" x="1120"/><use href="#jv" x="1220"/></g>
<circle cx="468.9" cy="1160.0" r="1.5" stroke="#f3a5ad" stroke-width="0.75" fill="#fff"/>
<line x1="470.4" y1="1160.0" x2="471.9" y2="1160.0" stroke="#f3a5ad" stroke-width="0.9"/>
<path d="M475.4,1154.8 L472.5,1154.8 Q471.9,1154.8 471.9,1155.4 L471.9,1165.0 Q471.9,1165.6 472.5,1165.6 L475.4,1165.6" stroke="#f3a5ad" stroke-width="0.9" fill="none"/>
<g transform="matrix(.056 0 0 .056 477.4 1156.8)" class="tf"><use href="#cM"/><use href="#es" x="73"/><use href="#cA" x="159"/><use href="#dM" x="220"/><use href="#cr" x="312"/><use href="#cp" x="373"/><use href="#co" x="434"/><use href="#du" x="459"/><use href="#cr" x="489"/><use href="#cj" x="550"/><use href="#Y" x="587"/><use href="#Z" x="687"/><use href="#ba" x="787"/><use href="#jy" x="887"/><use href="#eI" x="987"/></g>
<g transform="matrix(.056 0 0 .056 477.4 1167.6)" class="tf"><use href="#Y"/><use href="#Z" x="100"/><use href="#ba" x="200"/><use href="#jz" x="300"/><use href="#jA" x="400"/><use href="#ex" x="500"/><use href="#ey" x="600"/><use href="#bC" x="700"/><use href="#cV" x="800"/><use href="#bP" x="900"/></g>
<g transform="matrix(.056 0 0 .056 389.9 1177.9)" class="tf"><use href="#ge"/><use href="#cr" x="67"/><use href="#cj" x="128"/><use href="#du" x="165"/><use href="#co" x="196"/><use href="#gv" x="220"/><use href="#dV" x="251"/><use href="#fv" x="306"/><use href="#cM" x="379"/><use href="#ck" x="452"/><use href="#ci" x="513"/><use href="#dV" x="575"/><use href="#dG" x="630"/><use href="#dk" x="730"/><use href="#gK" x="830"/><use href="#dl" x="930"/><use href="#jk" x="1030"/><use href="#dH" x="1130"/><use href="#iP" x="1230"/><use href="#cD" x="1330"/></g>
<g transform="matrix(.056 0 0 .056 340.2 1199.0)" class="tf"><use href="#dM"/><use href="#D" x="92"/><use href="#cY" x="165"/><use href="#cF" x="244"/><use href="#cG" x="344"/><use href="#eV" x="444"/><use href="#eW" x="544"/><use href="#iP" x="644"/><use href="#cD" x="744"/></g>
<circle cx="395.6" cy="1197.0" r="1.5" stroke="#ef8792" stroke-width="0.75" fill="#fff"/>
<line x1="397.1" y1="1197.0" x2="399.3" y2="1197.0" stroke="#ef8792" stroke-width="0.9"/>
<path d="M402.8,1186.3 L399.9,1186.3 Q399.3,1186.3 399.3,1186.9 L399.3,1206.8 Q399.3,1207.4 399.9,1207.4 L402.8,1207.4" stroke="#ef8792" stroke-width="0.9" fill="none"/>
<line x1="399.3" y1="1197.0" x2="402.8" y2="1197.0" stroke="#ef8792" stroke-width="0.9"/>
<g transform="matrix(.056 0 0 .056 404.8 1188.3)" class="tf"><use href="#dM"/><use href="#D" x="92"/><use href="#cY" x="165"/><use href="#cF" x="244"/><use href="#cG" x="344"/><use href="#jt" x="444"/><use href="#jB" x="544"/><use href="#bC" x="644"/><use href="#bJ" x="744"/><use href="#bK" x="844"/></g>
<g transform="matrix(.056 0 0 .056 404.8 1199.0)" class="tf"><use href="#dM"/><use href="#D" x="92"/><use href="#cY" x="165"/><use href="#eV" x="244"/><use href="#eW" x="344"/><use href="#gJ" x="444"/><use href="#dl" x="544"/><use href="#B" x="644"/><use href="#jC" x="744"/><use href="#cV" x="844"/><use href="#bP" x="944"/></g>
<g transform="matrix(.056 0 0 .056 404.8 1209.4)" class="tf"><use href="#bc"/><use href="#cW" x="79"/><use href="#j" x="159"/><use href="#cN" x="263"/><use href="#ct" x="293"/><use href="#cN" x="367"/><use href="#cY" x="428"/><use href="#dM" x="507"/><use href="#cM" x="599"/><use href="#fq" x="672"/><use href="#bz" x="772"/><use href="#gn" x="872"/><use href="#fN" x="972"/><use href="#iP" x="1072"/><use href="#cD" x="1172"/><use href="#cy" x="1272"/><use href="#dO" x="1372"/></g>
<circle cx="518.9" cy="1093.1" r="1.8" stroke="#c07078" stroke-width="0.8" fill="#fff"/>
<path d="M518.9,1091.3 L518.9,932.9 Q518.9,931.9 519.9,931.9 L522.9,931.9" stroke="#c07078" stroke-width="0.9" fill="none"/>
<g transform="matrix(.056 0 0 .056 525.4 933.9)" class="tf"><use href="#iM"/><use href="#iN" x="100"/><use href="#iO" x="200"/><use href="#iM" x="300"/></g>
<circle cx="553.6" cy="931.9" r="1.5" stroke="#d0949a" stroke-width="0.75" fill="#fff"/>
<line x1="555.1" y1="931.9" x2="556.9" y2="931.9" stroke="#d0949a" stroke-width="0.9"/>
<path d="M560.4,926.9 L557.5,926.9 Q556.9,926.9 556.9,927.5 L556.9,936.3 Q556.9,936.9 557.5,936.9 L560.4,936.9" stroke="#d0949a" stroke-width="0.9" fill="none"/>
<g transform="matrix(.056 0 0 .056 562.4 928.9)" class="tf"><use href="#iM"/><use href="#iN" x="100"/><use href="#iO" x="200"/><use href="#iM" x="300"/><use href="#br" x="400"/><use href="#cK" x="500"/></g>
<g transform="matrix(.056 0 0 .056 562.4 938.9)" class="tf"><use href="#iM"/><use href="#iN" x="100"/><use href="#iO" x="200"/><use href="#iM" x="300"/><use href="#G" x="400"/><use href="#H" x="500"/><use href="#bC" x="600"/><use href="#eW" x="700"/><use href="#dE" x="800"/></g>
<line x1="518.9" y1="973.6" x2="522.9" y2="973.6" stroke="#c07078" stroke-width="0.9"/>
<g transform="matrix(.056 0 0 .056 525.4 975.6)" class="tf"><use href="#M"/><use href="#jD" x="100"/><use href="#jE" x="200"/><use href="#el" x="300"/></g>
<line x1="518.9" y1="1025.8" x2="522.9" y2="1025.8" stroke="#c07078" stroke-width="0.9"/>
<g transform="matrix(.056 0 0 .056 525.4 1027.8)" class="tf"><use href="#bJ"/><use href="#bK" x="100"/><use href="#cy" x="200"/><use href="#dO" x="300"/><use href="#I" x="400"/></g>
<line x1="518.9" y1="1067.5" x2="522.9" y2="1067.5" stroke="#c07078" stroke-width="0.9"/>
<g transform="matrix(.056 0 0 .056 525.4 1069.5)" class="tf"><use href="#bJ"/><use href="#bK" x="100"/><use href="#cy" x="200"/><use href="#dO" x="300"/><use href="#eO" x="400"/></g>
<circle cx="553.6" cy="973.6" r="1.5" stroke="#a7a7a7" stroke-width="0.75" fill="#fff"/>
<line x1="555.1" y1="973.6" x2="556.9" y2="973.6" stroke="#a7a7a7" stroke-width="0.9"/>
<path d="M560.4,947.8 L557.5,947.8 Q556.9,947.8 556.9,948.4 L556.9,998.8 Q556.9,999.4 557.5,999.4 L560.4,999.4" stroke="#a7a7a7" stroke-width="0.9" fill="none"/>
<line x1="556.9" y1="958.3" x2="560.4" y2="958.3" stroke="#a7a7a7" stroke-width="0.9"/>
<line x1="556.9" y1="968.6" x2="560.4" y2="968.6" stroke="#a7a7a7" stroke-width="0.9"/>
<line x1="556.9" y1="979.2" x2="560.4" y2="979.2" stroke="#a7a7a7" stroke-width="0.9"/>
<line x1="556.9" y1="989.4" x2="560.4" y2="989.4" stroke="#a7a7a7" stroke-width="0.9"/>
<g transform="matrix(.056 0 0 .056 562.4 949.8)" class="tf"><use href="#K"/><use href="#jF" x="100"/><use href="#jh" x="200"/><use href="#dn" x="300"/><use href="#fv" x="400"/><use href="#Q" x="473"/><use href="#R" x="573"/><use href="#fv" x="673"/><use href="#eY" x="747"/><use href="#ji" x="847"/><use href="#fv" x="947"/><use href="#bY" x="1020"/><use href="#cI" x="1120"/><use href="#ft" x="1220"/><use href="#jE" x="1320"/><use href="#el" x="1420"/></g>
<g transform="matrix(.056 0 0 .056 562.4 960.3)" class="tf"><use href="#j"/><use href="#W" x="104"/><use href="#X" x="177"/><use href="#ea" x="251"/><use href="#eb" x="351"/><use href="#eL" x="451"/><use href="#gl" x="551"/><use href="#jE" x="651"/><use href="#el" x="751"/></g>
<g transform="matrix(.056 0 0 .056 562.4 970.6)" class="tf"><use href="#dm"/><use href="#dn" x="100"/><use href="#bz" x="200"/><use href="#ea" x="300"/><use href="#eb" x="400"/><use href="#eL" x="500"/><use href="#gl" x="600"/><use href="#jE" x="700"/><use href="#el" x="800"/></g>
<g transform="matrix(.056 0 0 .056 562.4 981.2)" class="tf"><use href="#jm"/><use href="#hI" x="100"/><use href="#dg" x="200"/><use href="#iM" x="300"/><use href="#ed" x="400"/><use href="#ea" x="500"/><use href="#eb" x="600"/><use href="#eL" x="700"/><use href="#gl" x="800"/><use href="#jE" x="900"/><use href="#el" x="1000"/></g>
<g transform="matrix(.056 0 0 .056 562.4 991.4)" class="tf"><use href="#cL"/><use href="#cM" x="86"/><use href="#jG" x="159"/><use href="#eX" x="259"/><use href="#ea" x="359"/><use href="#eb" x="459"/><use href="#eL" x="559"/><use href="#gl" x="659"/><use href="#jE" x="759"/><use href="#el" x="859"/></g>
<g transform="matrix(.056 0 0 .056 562.4 1001.4)" class="tf"><use href="#jH"/><use href="#jI" x="100"/><use href="#n" x="200"/><use href="#o" x="300"/><use href="#ev" x="400"/><use href="#jJ" x="500"/><use href="#jK" x="600"/><use href="#fh" x="637"/><use href="#cx" x="737"/><use href="#bW" x="837"/><use href="#iB" x="937"/><use href="#N" x="1037"/><use href="#bY" x="1137"/><use href="#jL" x="1237"/><use href="#jE" x="1273"/><use href="#el" x="1373"/></g>
<circle cx="556.9" cy="1025.8" r="1.5" stroke="#a7a7a7" stroke-width="0.75" fill="#fff"/>
<line x1="558.4" y1="1025.8" x2="559.7" y2="1025.8" stroke="#a7a7a7" stroke-width="0.9"/>
<path d="M563.2,1010.0 L560.3,1010.0 Q559.7,1010.0 559.7,1010.6 L559.7,1040.5 Q559.7,1041.1 560.3,1041.1 L563.2,1041.1" stroke="#a7a7a7" stroke-width="0.9" fill="none"/>
<line x1="559.7" y1="1020.8" x2="563.2" y2="1020.8" stroke="#a7a7a7" stroke-width="0.9"/>
<line x1="559.7" y1="1031.1" x2="563.2" y2="1031.1" stroke="#a7a7a7" stroke-width="0.9"/>
<g transform="matrix(.056 0 0 .056 565.2 1012.0)" class="tf"><use href="#dp"/><use href="#dq" x="100"/><use href="#iO" x="200"/><use href="#iM" x="300"/></g>
<circle cx="595.3" cy="1010.0" r="1.5" stroke="#bdbdbd" stroke-width="0.75" fill="#fff"/>
<line x1="596.8" y1="1010.0" x2="598.5" y2="1010.0" stroke="#bdbdbd" stroke-width="0.9"/>
<line x1="598.5" y1="1010.0" x2="602.0" y2="1010.0" stroke="#bdbdbd" stroke-width="0.9"/>
<g transform="matrix(.056 0 0 .056 604.0 1012.0)" class="tf"><use href="#iy"/><use href="#iz" x="100"/><use href="#fj" x="200"/><use href="#cV" x="300"/><use href="#jK" x="400"/><use href="#dd" x="437"/><use href="#cW" x="516"/><use href="#bb" x="596"/><use href="#jM" x="669"/><use href="#cM" x="699"/><use href="#cM" x="773"/><use href="#bc" x="846"/><use href="#jL" x="926"/></g>
<g transform="matrix(.056 0 0 .056 565.2 1022.8)" class="tf"><use href="#eI"/><use href="#eJ" x="100"/><use href="#iO" x="200"/><use href="#iM" x="300"/></g>
<circle cx="595.3" cy="1020.8" r="1.5" stroke="#bdbdbd" stroke-width="0.75" fill="#fff"/>
<line x1="596.8" y1="1020.8" x2="598.5" y2="1020.8" stroke="#bdbdbd" stroke-width="0.9"/>
<line x1="598.5" y1="1020.8" x2="602.0" y2="1020.8" stroke="#bdbdbd" stroke-width="0.9"/>
<g transform="matrix(.056 0 0 .056 604.0 1022.8)" class="tf"><use href="#iB"/><use href="#N" x="100"/><use href="#jN" x="200"/><use href="#jO" x="300"/><use href="#jK" x="400"/><use href="#j" x="437"/><use href="#ck" x="540"/><use href="#ds" x="602"/><use href="#cs" x="663"/><use href="#fM" x="718"/><use href="#ck" x="779"/><use href="#cu" x="840"/><use href="#cu" x="865"/><use href="#jM" x="889"/><use href="#bb" x="920"/><use href="#cY" x="993"/><use href="#jL" x="1072"/></g>
<g transform="matrix(.056 0 0 .056 565.2 1033.1)" class="tf"><use href="#fU"/><use href="#fV" x="100"/><use href="#iO" x="200"/><use href="#iM" x="300"/></g>
<circle cx="595.3" cy="1031.1" r="1.5" stroke="#bdbdbd" stroke-width="0.75" fill="#fff"/>
<line x1="596.8" y1="1031.1" x2="598.5" y2="1031.1" stroke="#bdbdbd" stroke-width="0.9"/>
<line x1="598.5" y1="1031.1" x2="602.0" y2="1031.1" stroke="#bdbdbd" stroke-width="0.9"/>
<g transform="matrix(.056 0 0 .056 604.0 1033.1)" class="tf"><use href="#jP"/><use href="#hY" x="100"/><use href="#jQ" x="200"/><use href="#jR" x="300"/><use href="#jK" x="400"/><use href="#jS" x="437"/><use href="#gQ" x="537"/><use href="#j" x="637"/><use href="#ci" x="740"/><use href="#cp" x="802"/><use href="#cp" x="863"/><use href="#ci" x="924"/><use href="#cY" x="985"/><use href="#cj" x="1065"/><use href="#dV" x="1101"/><use href="#jL" x="1156"/></g>
<g transform="matrix(.056 0 0 .056 565.2 1043.1)" class="tf"><use href="#jk"/><use href="#dH" x="100"/><use href="#hB" x="200"/><use href="#iO" x="300"/><use href="#iM" x="400"/></g>
<circle cx="600.0" cy="1041.1" r="1.5" stroke="#bdbdbd" stroke-width="0.75" fill="#fff"/>
<line x1="601.5" y1="1041.1" x2="603.5" y2="1041.1" stroke="#bdbdbd" stroke-width="0.9"/>
<line x1="603.5" y1="1041.1" x2="607.0" y2="1041.1" stroke="#bdbdbd" stroke-width="0.9"/>
<g transform="matrix(.056 0 0 .056 609.0 1043.1)" class="tf"><use href="#jq"/><use href="#cs" x="86"/><use href="#dR" x="141"/><use href="#ci" x="196"/><use href="#cp" x="257"/><use href="#jc" x="318"/><use href="#bw" x="418"/><use href="#cc" x="518"/><use href="#cd" x="618"/><use href="#gF" x="718"/><use href="#eg" x="818"/><use href="#eM" x="918"/><use href="#eE" x="1018"/></g>
<circle cx="556.9" cy="1067.5" r="1.5" stroke="#a7a7a7" stroke-width="0.75" fill="#fff"/>
<line x1="558.4" y1="1067.5" x2="559.7" y2="1067.5" stroke="#a7a7a7" stroke-width="0.9"/>
<path d="M563.2,1051.9 L560.3,1051.9 Q559.7,1051.9 559.7,1052.5 L559.7,1082.2 Q559.7,1082.8 560.3,1082.8 L563.2,1082.8" stroke="#a7a7a7" stroke-width="0.9" fill="none"/>
<line x1="559.7" y1="1061.9" x2="563.2" y2="1061.9" stroke="#a7a7a7" stroke-width="0.9"/>
<line x1="559.7" y1="1072.2" x2="563.2" y2="1072.2" stroke="#a7a7a7" stroke-width="0.9"/>
<g transform="matrix(.056 0 0 .056 565.2 1053.9)" class="tf"><use href="#jT"/><use href="#l" x="100"/><use href="#hl" x="200"/><use href="#l" x="300"/><use href="#jz" x="400"/><use href="#jA" x="500"/></g>
<circle cx="605.6" cy="1051.9" r="1.5" stroke="#bdbdbd" stroke-width="0.75" fill="#fff"/>
<line x1="607.1" y1="1051.9" x2="609.0" y2="1051.9" stroke="#bdbdbd" stroke-width="0.9"/>
<line x1="609.0" y1="1051.9" x2="612.5" y2="1051.9" stroke="#bdbdbd" stroke-width="0.9"/>
<g transform="matrix(.056 0 0 .056 614.5 1053.9)" class="tf"><use href="#cA"/><use href="#cr" x="61"/><use href="#gA" x="122"/><use href="#cr" x="184"/><use href="#cp" x="245"/><use href="#da" x="306"/><use href="#cj" x="373"/><use href="#ci" x="410"/><use href="#dR" x="471"/><use href="#ck" x="526"/><use href="#cj" x="587"/></g>
<g transform="matrix(.056 0 0 .056 565.2 1063.9)" class="tf"><use href="#fi"/><use href="#fj" x="100"/><use href="#et" x="200"/><use href="#M" x="300"/><use href="#Q" x="400"/><use href="#R" x="500"/></g>
<circle cx="605.6" cy="1061.9" r="1.5" stroke="#bdbdbd" stroke-width="0.75" fill="#fff"/>
<line x1="607.1" y1="1061.9" x2="609.0" y2="1061.9" stroke="#bdbdbd" stroke-width="0.9"/>
<line x1="609.0" y1="1061.9" x2="612.5" y2="1061.9" stroke="#bdbdbd" stroke-width="0.9"/>
<g transform="matrix(.056 0 0 .056 614.5 1063.9)" class="tf"><use href="#Y"/><use href="#Z" x="100"/><use href="#ba" x="200"/><use href="#ce" x="300"/><use href="#bP" x="400"/></g>
<g transform="matrix(.056 0 0 .056 565.2 1074.2)" class="tf"><use href="#ea"/><use href="#eb" x="100"/><use href="#fh" x="200"/><use href="#cx" x="300"/><use href="#gp" x="400"/><use href="#gQ" x="500"/></g>
<circle cx="605.6" cy="1072.2" r="1.5" stroke="#bdbdbd" stroke-width="0.75" fill="#fff"/>
<line x1="607.1" y1="1072.2" x2="609.0" y2="1072.2" stroke="#bdbdbd" stroke-width="0.9"/>
<line x1="609.0" y1="1072.2" x2="612.5" y2="1072.2" stroke="#bdbdbd" stroke-width="0.9"/>
<g transform="matrix(.056 0 0 .056 614.5 1074.2)" class="tf"><use href="#cO"/><use href="#cm" x="100"/><use href="#fa" x="200"/><use href="#fb" x="300"/><use href="#eM" x="400"/><use href="#eE" x="500"/><use href="#bW" x="600"/><use href="#jU" x="700"/><use href="#jV" x="800"/><use href="#dp" x="900"/><use href="#dq" x="1000"/><use href="#gJ" x="1100"/><use href="#jW" x="1200"/></g>
<g transform="matrix(.056 0 0 .056 565.2 1084.8)" class="tf"><use href="#iM"/><use href="#iN" x="100"/><use href="#iO" x="200"/><use href="#iM" x="300"/><use href="#gE" x="400"/><use href="#bA" x="500"/></g>
<circle cx="605.6" cy="1082.8" r="1.5" stroke="#bdbdbd" stroke-width="0.75" fill="#fff"/>
<line x1="607.1" y1="1082.8" x2="609.0" y2="1082.8" stroke="#bdbdbd" stroke-width="0.9"/>
<line x1="609.0" y1="1082.8" x2="612.5" y2="1082.8" stroke="#bdbdbd" stroke-width="0.9"/>
<g transform="matrix(.056 0 0 .056 614.5 1084.8)" class="tf"><use href="#jk"/><use href="#dH" x="100"/><use href="#hB" x="200"/><use href="#co" x="300"/><use href="#cj" x="324"/><use href="#eU" x="361"/><use href="#cj" x="398"/><use href="#ck" x="434"/><use href="#cs" x="496"/><use href="#dR" x="551"/><use href="#cB" x="606"/><use href="#ck" x="667"/><use href="#gE" x="728"/><use href="#bA" x="828"/><use href="#p" x="928"/><use href="#ee" x="1028"/><use href="#jX" x="1128"/></g>
<circle cx="721.8" cy="1093.8" r="1.8" stroke="#f0c888" stroke-width="0.8" fill="#fff"/>
<path d="M721.8,1092.0 L721.8,996.6 Q721.8,995.6 722.8,995.6 L725.8,995.6" stroke="#f0c888" stroke-width="0.9" fill="none"/>
<g transform="matrix(.056 0 0 .056 728.3 997.6)" class="tf"><use href="#ea"/><use href="#eb" x="100"/><use href="#hi" x="200"/><use href="#hj" x="300"/><use href="#js" x="400"/><use href="#iC" x="500"/><use href="#I" x="600"/></g>
<circle cx="772.1" cy="995.6" r="1.5" stroke="#f4d6a6" stroke-width="0.75" fill="#fff"/>
<line x1="773.6" y1="995.6" x2="775.6" y2="995.6" stroke="#f4d6a6" stroke-width="0.9"/>
<path d="M779.1,974.5 L776.2,974.5 Q775.6,974.5 775.6,975.1 L775.6,1015.1 Q775.6,1015.7 776.2,1015.7 L779.1,1015.7" stroke="#f4d6a6" stroke-width="0.9" fill="none"/>
<g transform="matrix(.056 0 0 .056 781.1 976.5)" class="tf"><use href="#hi"/><use href="#hj" x="100"/><use href="#bI" x="200"/><use href="#fC" x="300"/></g>
<circle cx="805.6" cy="974.5" r="1.5" stroke="#f7e0bc" stroke-width="0.75" fill="#fff"/>
<line x1="807.1" y1="974.5" x2="811.9" y2="974.5" stroke="#f7e0bc" stroke-width="0.9"/>
<path d="M815.4,958.3 L812.5,958.3 Q811.9,958.3 811.9,958.9 L811.9,989.4 Q811.9,990.0 812.5,990.0 L815.4,990.0" stroke="#f7e0bc" stroke-width="0.9" fill="none"/>
<line x1="811.9" y1="968.9" x2="815.4" y2="968.9" stroke="#f7e0bc" stroke-width="0.9"/>
<line x1="811.9" y1="979.4" x2="815.4" y2="979.4" stroke="#f7e0bc" stroke-width="0.9"/>
<g transform="matrix(.056 0 0 .056 817.4 960.3)" class="tf"><use href="#bf"/><use href="#jY" x="100"/><use href="#fB" x="200"/><use href="#dE" x="300"/><use href="#bG" x="400"/><use href="#bH" x="500"/><use href="#ec" x="600"/><use href="#bF" x="700"/></g>
<g transform="matrix(.056 0 0 .056 817.4 970.9)" class="tf"><use href="#ea"/><use href="#eb" x="100"/><use href="#jZ" x="200"/><use href="#ka" x="300"/><use href="#fe" x="400"/><use href="#kb" x="500"/></g>
<g transform="matrix(.056 0 0 .056 817.4 981.4)" class="tf"><use href="#eN"/><use href="#ce" x="100"/><use href="#kc" x="200"/><use href="#kd" x="300"/><use href="#bI" x="400"/><use href="#fC" x="500"/></g>
<g transform="matrix(.056 0 0 .056 817.4 992.0)" class="tf"><use href="#ke"/><use href="#l" x="100"/><use href="#cV" x="200"/><use href="#cZ" x="300"/></g>
<g transform="matrix(.056 0 0 .056 781.1 1017.7)" class="tf"><use href="#hi"/><use href="#hj" x="100"/><use href="#jt" x="200"/><use href="#B" x="300"/></g>
<circle cx="805.6" cy="1015.7" r="1.5" stroke="#f7e0bc" stroke-width="0.75" fill="#fff"/>
<line x1="807.1" y1="1015.7" x2="815.4" y2="1015.7" stroke="#f7e0bc" stroke-width="0.9"/>
<path d="M818.9,1000.5 L816.0,1000.5 Q815.4,1000.5 815.4,1001.1 L815.4,1031.6 Q815.4,1032.2 816.0,1032.2 L818.9,1032.2" stroke="#f7e0bc" stroke-width="0.9" fill="none"/>
<line x1="815.4" y1="1011.1" x2="818.9" y2="1011.1" stroke="#f7e0bc" stroke-width="0.9"/>
<line x1="815.4" y1="1021.6" x2="818.9" y2="1021.6" stroke="#f7e0bc" stroke-width="0.9"/>
<g transform="matrix(.056 0 0 .056 820.9 1002.5)" class="tf"><use href="#dc"/><use href="#j" x="73"/><use href="#D" x="177"/><use href="#cM" x="251"/></g>
<g transform="matrix(.056 0 0 .056 820.9 1013.1)" class="tf"><use href="#fg"/><use href="#fh" x="100"/><use href="#cx" x="200"/></g>
<g transform="matrix(.056 0 0 .056 820.9 1023.6)" class="tf"><use href="#gK"/><use href="#dl" x="100"/><use href="#hU" x="200"/><use href="#bo" x="300"/></g>
<g transform="matrix(.056 0 0 .056 820.9 1034.2)" class="tf"><use href="#fL"/><use href="#hz" x="100"/><use href="#hA" x="200"/><use href="#hB" x="300"/></g>
<line x1="721.8" y1="1063.2" x2="725.8" y2="1063.2" stroke="#f0c888" stroke-width="0.9"/>
<g transform="matrix(.056 0 0 .056 728.3 1065.2)" class="tf"><use href="#ea"/><use href="#eb" x="100"/><use href="#hi" x="200"/><use href="#hj" x="300"/><use href="#js" x="400"/><use href="#iC" x="500"/><use href="#eO" x="600"/></g>
<circle cx="772.1" cy="1063.2" r="1.5" stroke="#f4d6a6" stroke-width="0.75" fill="#fff"/>
<line x1="773.6" y1="1063.2" x2="775.6" y2="1063.2" stroke="#f4d6a6" stroke-width="0.9"/>
<path d="M779.1,1042.0 L776.2,1042.0 Q775.6,1042.0 775.6,1042.6 L775.6,1083.7 Q775.6,1084.3 776.2,1084.3 L779.1,1084.3" stroke="#f4d6a6" stroke-width="0.9" fill="none"/>
<line x1="775.6" y1="1052.6" x2="779.1" y2="1052.6" stroke="#f4d6a6" stroke-width="0.9"/>
<line x1="775.6" y1="1063.2" x2="779.1" y2="1063.2" stroke="#f4d6a6" stroke-width="0.9"/>
<line x1="775.6" y1="1073.7" x2="779.1" y2="1073.7" stroke="#f4d6a6" stroke-width="0.9"/>
<g transform="matrix(.056 0 0 .056 781.1 1044.0)" class="tf"><use href="#gK"/><use href="#dl" x="100"/><use href="#iP" x="200"/><use href="#cD" x="300"/></g>
<g transform="matrix(.056 0 0 .056 781.1 1054.6)" class="tf"><use href="#jk"/><use href="#dH" x="100"/><use href="#fP" x="200"/><use href="#fQ" x="300"/></g>
<g transform="matrix(.056 0 0 .056 781.1 1065.2)" class="tf"><use href="#dP"/><use href="#cM" x="55"/><use href="#hM" x="128"/><use href="#fh" x="228"/><use href="#eM" x="328"/><use href="#eE" x="428"/></g>
<g transform="matrix(.056 0 0 .056 781.1 1075.7)" class="tf"><use href="#kf"/><use href="#kg" x="100"/><use href="#n" x="200"/><use href="#o" x="300"/><use href="#eM" x="400"/><use href="#eE" x="500"/></g>
<g transform="matrix(.056 0 0 .056 781.1 1086.3)" class="tf"><use href="#kf"/><use href="#kh" x="100"/><use href="#gR" x="200"/><use href="#gS" x="300"/></g>
<circle cx="585.0" cy="1113.3" r="1.8" stroke="#8a8a8a" stroke-width="0.8" fill="#fff"/>
<path d="M585.0,1115.1 L585.0,1278.3 Q585.0,1279.3 586.0,1279.3 L589.0,1279.3" stroke="#8a8a8a" stroke-width="0.9" fill="none"/>
<line x1="585.0" y1="1144.4" x2="589.0" y2="1144.4" stroke="#8a8a8a" stroke-width="0.9"/>
<g transform="matrix(.056 0 0 .056 591.5 1146.4)" class="tf"><use href="#dc"/><use href="#j" x="73"/><use href="#cW" x="177"/><use href="#iS" x="257"/><use href="#iT" x="357"/><use href="#fd" x="457"/><use href="#iX" x="557"/></g>
<circle cx="633.9" cy="1144.4" r="1.5" stroke="#a7a7a7" stroke-width="0.75" fill="#fff"/>
<line x1="635.4" y1="1144.4" x2="637.2" y2="1144.4" stroke="#a7a7a7" stroke-width="0.9"/>
<path d="M640.7,1123.1 L637.8,1123.1 Q637.2,1123.1 637.2,1123.7 L637.2,1164.6 Q637.2,1165.2 637.8,1165.2 L640.7,1165.2" stroke="#a7a7a7" stroke-width="0.9" fill="none"/>
<line x1="637.2" y1="1133.5" x2="640.7" y2="1133.5" stroke="#a7a7a7" stroke-width="0.9"/>
<line x1="637.2" y1="1144.4" x2="640.7" y2="1144.4" stroke="#a7a7a7" stroke-width="0.9"/>
<line x1="637.2" y1="1154.8" x2="640.7" y2="1154.8" stroke="#a7a7a7" stroke-width="0.9"/>
<g transform="matrix(.056 0 0 .056 642.7 1125.1)" class="tf"><use href="#ce"/><use href="#p" x="100"/><use href="#fr" x="200"/><use href="#fs" x="300"/></g>
<g transform="matrix(.056 0 0 .056 642.7 1135.5)" class="tf"><use href="#ki"/><use href="#fx" x="100"/><use href="#gF" x="200"/><use href="#eg" x="300"/><use href="#p" x="400"/><use href="#ee" x="500"/><use href="#dJ" x="600"/><use href="#dK" x="700"/></g>
<g transform="matrix(.056 0 0 .056 642.7 1146.4)" class="tf"><use href="#ki"/><use href="#fx" x="100"/><use href="#dE" x="200"/><use href="#bb" x="300"/><use href="#cL" x="373"/><use href="#cY" x="459"/><use href="#db" x="538"/><use href="#W" x="569"/><use href="#dZ" x="642"/><use href="#bb" x="716"/><use href="#ba" x="789"/></g>
<g transform="matrix(.056 0 0 .056 642.7 1156.8)" class="tf"><use href="#j"/><use href="#dc" x="104"/><use href="#ge" x="177"/><use href="#dy" x="244"/><use href="#dz" x="344"/></g>
<g transform="matrix(.056 0 0 .056 642.7 1167.2)" class="tf"><use href="#ki"/><use href="#fx" x="100"/><use href="#dE" x="200"/><use href="#kj" x="300"/><use href="#iG" x="400"/><use href="#gF" x="500"/><use href="#eg" x="600"/></g>
<line x1="585.0" y1="1196.3" x2="589.0" y2="1196.3" stroke="#8a8a8a" stroke-width="0.9"/>
<g transform="matrix(.056 0 0 .056 591.5 1198.3)" class="tf"><use href="#bJ"/><use href="#bK" x="100"/><use href="#cy" x="200"/><use href="#dO" x="300"/></g>
<circle cx="619.4" cy="1196.3" r="1.5" stroke="#a7a7a7" stroke-width="0.75" fill="#fff"/>
<line x1="620.9" y1="1196.3" x2="623.6" y2="1196.3" stroke="#a7a7a7" stroke-width="0.9"/>
<path d="M627.1,1175.6 L624.2,1175.6 Q623.6,1175.6 623.6,1176.2 L623.6,1216.4 Q623.6,1217.0 624.2,1217.0 L627.1,1217.0" stroke="#a7a7a7" stroke-width="0.9" fill="none"/>
<line x1="623.6" y1="1185.9" x2="627.1" y2="1185.9" stroke="#a7a7a7" stroke-width="0.9"/>
<line x1="623.6" y1="1196.3" x2="627.1" y2="1196.3" stroke="#a7a7a7" stroke-width="0.9"/>
<line x1="623.6" y1="1206.7" x2="627.1" y2="1206.7" stroke="#a7a7a7" stroke-width="0.9"/>
<g transform="matrix(.056 0 0 .056 629.1 1177.6)" class="tf"><use href="#dy"/><use href="#kk" x="100"/><use href="#dg" x="200"/><use href="#eU" x="300"/><use href="#j" x="337"/><use href="#dc" x="440"/><use href="#ge" x="514"/><use href="#kl" x="581"/><use href="#km" x="681"/></g>
<g transform="matrix(.056 0 0 .056 629.1 1187.9)" class="tf"><use href="#dy"/><use href="#kk" x="100"/><use href="#dg" x="200"/><use href="#eU" x="300"/><use href="#iB" x="337"/><use href="#N" x="437"/><use href="#fP" x="537"/><use href="#fQ" x="637"/></g>
<g transform="matrix(.056 0 0 .056 629.1 1198.3)" class="tf"><use href="#dy"/><use href="#kk" x="100"/><use href="#dg" x="200"/><use href="#eU" x="300"/><use href="#gK" x="337"/><use href="#dl" x="437"/><use href="#iP" x="537"/><use href="#cD" x="637"/></g>
<g transform="matrix(.056 0 0 .056 629.1 1208.7)" class="tf"><use href="#dy"/><use href="#kk" x="100"/><use href="#dg" x="200"/><use href="#eU" x="300"/><use href="#fq" x="337"/><use href="#bz" x="437"/><use href="#jy" x="537"/><use href="#eI" x="637"/></g>
<g transform="matrix(.056 0 0 .056 629.1 1219.0)" class="tf"><use href="#dp"/><use href="#dq" x="100"/><use href="#dg" x="200"/><use href="#eU" x="300"/><use href="#kj" x="337"/><use href="#iG" x="437"/><use href="#ge" x="537"/><use href="#cu" x="604"/><use href="#ci" x="628"/><use href="#gA" x="689"/></g>
<line x1="585.0" y1="1243.1" x2="589.0" y2="1243.1" stroke="#8a8a8a" stroke-width="0.9"/>
<g transform="matrix(.056 0 0 .056 591.5 1245.1)" class="tf"><use href="#eT"/><use href="#eL" x="100"/><use href="#cy" x="200"/><use href="#dO" x="300"/><use href="#I" x="400"/></g>
<circle cx="623.0" cy="1243.1" r="1.5" stroke="#a7a7a7" stroke-width="0.75" fill="#fff"/>
<line x1="624.5" y1="1243.1" x2="626.8" y2="1243.1" stroke="#a7a7a7" stroke-width="0.9"/>
<path d="M630.3,1228.0 L627.4,1228.0 Q626.8,1228.0 626.8,1228.6 L626.8,1257.9 Q626.8,1258.5 627.4,1258.5 L630.3,1258.5" stroke="#a7a7a7" stroke-width="0.9" fill="none"/>
<line x1="626.8" y1="1238.4" x2="630.3" y2="1238.4" stroke="#a7a7a7" stroke-width="0.9"/>
<line x1="626.8" y1="1248.1" x2="630.3" y2="1248.1" stroke="#a7a7a7" stroke-width="0.9"/>
<g transform="matrix(.056 0 0 .056 632.3 1230.0)" class="tf"><use href="#dy"/><use href="#kk" x="100"/><use href="#gF" x="200"/><use href="#eU" x="300"/><use href="#cS" x="337"/><use href="#iG" x="437"/><use href="#jy" x="537"/><use href="#eI" x="637"/></g>
<g transform="matrix(.056 0 0 .056 632.3 1240.4)" class="tf"><use href="#dp"/><use href="#dq" x="100"/><use href="#dg" x="200"/><use href="#eU" x="300"/><use href="#hH" x="337"/><use href="#hg" x="437"/><use href="#bX" x="537"/><use href="#in" x="637"/></g>
<g transform="matrix(.056 0 0 .056 632.3 1250.1)" class="tf"><use href="#dp"/><use href="#dq" x="100"/><use href="#dg" x="200"/><use href="#eU" x="300"/><use href="#kn" x="337"/><use href="#bE" x="437"/><use href="#Q" x="537"/><use href="#R" x="637"/></g>
<g transform="matrix(.056 0 0 .056 632.3 1260.5)" class="tf"><use href="#ea"/><use href="#eb" x="100"/><use href="#ko" x="200"/><use href="#gJ" x="300"/><use href="#eq" x="400"/><use href="#er" x="500"/></g>
<g transform="matrix(.056 0 0 .056 591.5 1281.3)" class="tf"><use href="#eT"/><use href="#eL" x="100"/><use href="#cy" x="200"/><use href="#dO" x="300"/><use href="#eO" x="400"/></g>
<circle cx="623.0" cy="1279.3" r="1.5" stroke="#a7a7a7" stroke-width="0.75" fill="#fff"/>
<line x1="624.5" y1="1279.3" x2="626.8" y2="1279.3" stroke="#a7a7a7" stroke-width="0.9"/>
<path d="M630.3,1269.5 L627.4,1269.5 Q626.8,1269.5 626.8,1270.1 L626.8,1289.6 Q626.8,1290.2 627.4,1290.2 L630.3,1290.2" stroke="#a7a7a7" stroke-width="0.9" fill="none"/>
<line x1="626.8" y1="1279.9" x2="630.3" y2="1279.9" stroke="#a7a7a7" stroke-width="0.9"/>
<g transform="matrix(.056 0 0 .056 632.3 1271.5)" class="tf"><use href="#dp"/><use href="#dq" x="100"/><use href="#kp" x="200"/><use href="#kq" x="300"/></g>
<circle cx="660.0" cy="1269.5" r="1.5" stroke="#bdbdbd" stroke-width="0.75" fill="#fff"/>
<line x1="661.5" y1="1269.5" x2="663.5" y2="1269.5" stroke="#bdbdbd" stroke-width="0.9"/>
<line x1="663.5" y1="1269.5" x2="667.0" y2="1269.5" stroke="#bdbdbd" stroke-width="0.9"/>
<g transform="matrix(.056 0 0 .056 669.0 1271.5)" class="tf"><use href="#j"/><use href="#dc" x="104"/><use href="#ge" x="177"/><use href="#kl" x="244"/><use href="#km" x="344"/><use href="#go" x="444"/><use href="#fL" x="544"/><use href="#eJ" x="644"/></g>
<g transform="matrix(.056 0 0 .056 632.3 1281.9)" class="tf"><use href="#kr"/><use href="#ks" x="100"/><use href="#fL" x="200"/><use href="#eJ" x="300"/></g>
<circle cx="660.0" cy="1279.9" r="1.5" stroke="#bdbdbd" stroke-width="0.75" fill="#fff"/>
<line x1="661.5" y1="1279.9" x2="663.5" y2="1279.9" stroke="#bdbdbd" stroke-width="0.9"/>
<line x1="663.5" y1="1279.9" x2="667.0" y2="1279.9" stroke="#bdbdbd" stroke-width="0.9"/>
<g transform="matrix(.056 0 0 .056 669.0 1281.9)" class="tf"><use href="#bc"/><use href="#cN" x="79"/><use href="#cW" x="110"/><use href="#cM" x="189"/><use href="#M" x="263"/><use href="#jD" x="363"/><use href="#gp" x="463"/><use href="#eM" x="563"/><use href="#kl" x="663"/><use href="#km" x="763"/></g>
<g transform="matrix(.056 0 0 .056 632.3 1292.2)" class="tf"><use href="#iM"/><use href="#iN" x="100"/><use href="#kt" x="200"/><use href="#gJ" x="300"/></g>
<circle cx="660.0" cy="1290.2" r="1.5" stroke="#bdbdbd" stroke-width="0.75" fill="#fff"/>
<line x1="661.5" y1="1290.2" x2="663.5" y2="1290.2" stroke="#bdbdbd" stroke-width="0.9"/>
<line x1="663.5" y1="1290.2" x2="667.0" y2="1290.2" stroke="#bdbdbd" stroke-width="0.9"/>
<g transform="matrix(.056 0 0 .056 669.0 1292.2)" class="tf"><use href="#kt"/><use href="#gJ" x="100"/><use href="#ce" x="200"/><use href="#bP" x="300"/></g>
<circle cx="784.4" cy="1113.3" r="1.8" stroke="#8a8a8a" stroke-width="0.8" fill="#fff"/>
<path d="M784.4,1115.1 L784.4,1284.6 Q784.4,1285.6 785.4,1285.6 L788.4,1285.6" stroke="#8a8a8a" stroke-width="0.9" fill="none"/>
<line x1="784.4" y1="1139.1" x2="788.4" y2="1139.1" stroke="#8a8a8a" stroke-width="0.9"/>
<g transform="matrix(.056 0 0 .056 790.9 1141.1)" class="tf"><use href="#cY"/><use href="#da" x="79"/><use href="#ge" x="147"/><use href="#eU" x="214"/><use href="#bb" x="250"/><use href="#bc" x="324"/><use href="#bb" x="403"/></g>
<circle cx="822.4" cy="1139.1" r="1.5" stroke="#a7a7a7" stroke-width="0.75" fill="#fff"/>
<line x1="823.9" y1="1139.1" x2="825.3" y2="1139.1" stroke="#a7a7a7" stroke-width="0.9"/>
<path d="M828.8,1123.7 L825.9,1123.7 Q825.3,1123.7 825.3,1124.3 L825.3,1154.2 Q825.3,1154.8 825.9,1154.8 L828.8,1154.8" stroke="#a7a7a7" stroke-width="0.9" fill="none"/>
<line x1="825.3" y1="1134.1" x2="828.8" y2="1134.1" stroke="#a7a7a7" stroke-width="0.9"/>
<line x1="825.3" y1="1144.4" x2="828.8" y2="1144.4" stroke="#a7a7a7" stroke-width="0.9"/>
<g transform="matrix(.056 0 0 .056 830.8 1125.7)" class="tf"><use href="#fg"/><use href="#cf" x="100"/><use href="#cP" x="200"/><use href="#gr" x="300"/><use href="#gs" x="400"/><use href="#ku" x="500"/><use href="#jJ" x="600"/></g>
<g transform="matrix(.056 0 0 .056 830.8 1136.1)" class="tf"><use href="#fJ"/><use href="#fC" x="100"/><use href="#gr" x="200"/><use href="#gs" x="300"/><use href="#ku" x="400"/><use href="#jJ" x="500"/></g>
<g transform="matrix(.056 0 0 .056 830.8 1146.4)" class="tf"><use href="#fL"/><use href="#hz" x="100"/><use href="#hA" x="200"/><use href="#hB" x="300"/><use href="#ku" x="400"/><use href="#jJ" x="500"/></g>
<g transform="matrix(.056 0 0 .056 830.8 1156.8)" class="tf"><use href="#dd"/><use href="#cY" x="79"/><use href="#W" x="159"/><use href="#iF" x="232"/><use href="#kv" x="332"/><use href="#ku" x="432"/><use href="#jJ" x="532"/></g>
<line x1="784.4" y1="1191.9" x2="788.4" y2="1191.9" stroke="#8a8a8a" stroke-width="0.9"/>
<g transform="matrix(.056 0 0 .056 790.9 1193.9)" class="tf"><use href="#cY"/><use href="#da" x="79"/><use href="#ge" x="147"/><use href="#eU" x="214"/><use href="#bb" x="250"/><use href="#dV" x="324"/><use href="#du" x="379"/><use href="#fM" x="409"/><use href="#cr" x="471"/><use href="#cp" x="532"/></g>
<circle cx="829.5" cy="1191.9" r="1.5" stroke="#a7a7a7" stroke-width="0.75" fill="#fff"/>
<line x1="831.0" y1="1191.9" x2="832.4" y2="1191.9" stroke="#a7a7a7" stroke-width="0.9"/>
<path d="M835.9,1165.2 L833.0,1165.2 Q832.4,1165.2 832.4,1165.8 L832.4,1217.0 Q832.4,1217.6 833.0,1217.6 L835.9,1217.6" stroke="#a7a7a7" stroke-width="0.9" fill="none"/>
<line x1="832.4" y1="1175.9" x2="835.9" y2="1175.9" stroke="#a7a7a7" stroke-width="0.9"/>
<line x1="832.4" y1="1186.5" x2="835.9" y2="1186.5" stroke="#a7a7a7" stroke-width="0.9"/>
<line x1="832.4" y1="1196.9" x2="835.9" y2="1196.9" stroke="#a7a7a7" stroke-width="0.9"/>
<line x1="832.4" y1="1207.3" x2="835.9" y2="1207.3" stroke="#a7a7a7" stroke-width="0.9"/>
<g transform="matrix(.056 0 0 .056 837.9 1167.2)" class="tf"><use href="#dP"/><use href="#j" x="55"/><use href="#da" x="159"/></g>
<g transform="matrix(.056 0 0 .056 837.9 1177.9)" class="tf"><use href="#fL"/><use href="#hz" x="100"/><use href="#hA" x="200"/><use href="#hB" x="300"/></g>
<g transform="matrix(.056 0 0 .056 837.9 1188.5)" class="tf"><use href="#ge"/><use href="#cu" x="67"/><use href="#ci" x="92"/><use href="#cs" x="153"/><use href="#gg" x="208"/></g>
<g transform="matrix(.056 0 0 .056 837.9 1198.9)" class="tf"><use href="#fZ"/><use href="#kw" x="100"/><use href="#kx" x="200"/><use href="#ea" x="300"/><use href="#eb" x="400"/></g>
<g transform="matrix(.056 0 0 .056 837.9 1209.3)" class="tf"><use href="#cO"/><use href="#ib" x="100"/><use href="#et" x="200"/><use href="#M" x="300"/></g>
<g transform="matrix(.056 0 0 .056 837.9 1219.6)" class="tf"><use href="#iS"/><use href="#ky" x="100"/><use href="#cZ" x="200"/><use href="#gE" x="300"/></g>
<g transform="matrix(.056 0 0 .056 790.9 1287.6)" class="tf"><use href="#jJ"/><use href="#ba" x="100"/><use href="#ce" x="200"/><use href="#cf" x="300"/></g>
<circle cx="820.7" cy="1285.6" r="1.5" stroke="#a7a7a7" stroke-width="0.75" fill="#fff"/>
<line x1="822.2" y1="1285.6" x2="823.2" y2="1285.6" stroke="#a7a7a7" stroke-width="0.9"/>
<path d="M826.7,1243.8 L823.8,1243.8 Q823.2,1243.8 823.2,1244.4 L823.2,1326.7 Q823.2,1327.3 823.8,1327.3 L826.7,1327.3" stroke="#a7a7a7" stroke-width="0.9" fill="none"/>
<line x1="823.2" y1="1275.0" x2="826.7" y2="1275.0" stroke="#a7a7a7" stroke-width="0.9"/>
<line x1="823.2" y1="1301.2" x2="826.7" y2="1301.2" stroke="#a7a7a7" stroke-width="0.9"/>
<g transform="matrix(.056 0 0 .056 828.7 1245.8)" class="tf"><use href="#ec"/><use href="#fW" x="100"/><use href="#j" x="200"/><use href="#ck" x="304"/><use href="#ds" x="365"/><use href="#ea" x="426"/><use href="#eb" x="526"/></g>
<circle cx="869.6" cy="1243.8" r="1.5" stroke="#bdbdbd" stroke-width="0.75" fill="#fff"/>
<line x1="871.1" y1="1243.8" x2="872.7" y2="1243.8" stroke="#bdbdbd" stroke-width="0.9"/>
<path d="M876.2,1228.1 L873.3,1228.1 Q872.7,1228.1 872.7,1228.7 L872.7,1259.1 Q872.7,1259.7 873.3,1259.7 L876.2,1259.7" stroke="#bdbdbd" stroke-width="0.9" fill="none"/>
<line x1="872.7" y1="1238.7" x2="876.2" y2="1238.7" stroke="#bdbdbd" stroke-width="0.9"/>
<line x1="872.7" y1="1248.9" x2="876.2" y2="1248.9" stroke="#bdbdbd" stroke-width="0.9"/>
<g transform="matrix(.056 0 0 .056 878.2 1230.1)" class="tf"><use href="#cM"/><use href="#es" x="73"/><use href="#cA" x="159"/><use href="#et" x="220"/><use href="#M" x="320"/></g>
<g transform="matrix(.056 0 0 .056 878.2 1240.7)" class="tf"><use href="#dZ"/><use href="#cM" x="73"/><use href="#cM" x="147"/></g>
<g transform="matrix(.056 0 0 .056 878.2 1250.9)" class="tf"><use href="#fq"/><use href="#bz" x="100"/><use href="#di" x="200"/><use href="#gB" x="300"/></g>
<g transform="matrix(.056 0 0 .056 878.2 1261.7)" class="tf"><use href="#gK"/><use href="#dl" x="100"/><use href="#hU" x="200"/><use href="#bo" x="300"/></g>
<g transform="matrix(.056 0 0 .056 828.7 1277.0)" class="tf"><use href="#gc"/><use href="#dl" x="100"/><use href="#kz" x="200"/></g>
<circle cx="852.3" cy="1275.0" r="1.5" stroke="#bdbdbd" stroke-width="0.75" fill="#fff"/>
<line x1="853.8" y1="1275.0" x2="855.4" y2="1275.0" stroke="#bdbdbd" stroke-width="0.9"/>
<path d="M858.9,1269.9 L856.0,1269.9 Q855.4,1269.9 855.4,1270.5 L855.4,1279.5 Q855.4,1280.1 856.0,1280.1 L858.9,1280.1" stroke="#bdbdbd" stroke-width="0.9" fill="none"/>
<g transform="matrix(.056 0 0 .056 860.9 1271.9)" class="tf"><use href="#kA"/><use href="#ga" x="100"/><use href="#eq" x="200"/><use href="#gc" x="300"/><use href="#x" x="400"/><use href="#y" x="500"/></g>
<g transform="matrix(.056 0 0 .056 860.9 1282.1)" class="tf"><use href="#gj"/><use href="#gK" x="100"/><use href="#eq" x="200"/><use href="#gc" x="300"/><use href="#x" x="400"/><use href="#y" x="500"/></g>
<g transform="matrix(.056 0 0 .056 828.7 1303.2)" class="tf"><use href="#dM"/><use href="#cN" x="92"/><use href="#cM" x="122"/><use href="#cY" x="196"/><use href="#n" x="275"/><use href="#o" x="375"/></g>
<circle cx="860.9" cy="1301.2" r="1.5" stroke="#bdbdbd" stroke-width="0.75" fill="#fff"/>
<line x1="862.4" y1="1301.2" x2="863.5" y2="1301.2" stroke="#bdbdbd" stroke-width="0.9"/>
<path d="M867.0,1290.6 L864.1,1290.6 Q863.5,1290.6 863.5,1291.2 L863.5,1311.0 Q863.5,1311.6 864.1,1311.6 L867.0,1311.6" stroke="#bdbdbd" stroke-width="0.9" fill="none"/>
<line x1="863.5" y1="1301.2" x2="867.0" y2="1301.2" stroke="#bdbdbd" stroke-width="0.9"/>
<g transform="matrix(.056 0 0 .056 869.0 1292.6)" class="tf"><use href="#cS"/><use href="#iG" x="100"/><use href="#ce" x="200"/><use href="#bP" x="300"/></g>
<g transform="matrix(.056 0 0 .056 869.0 1303.2)" class="tf"><use href="#do"/><use href="#kB" x="100"/><use href="#gP" x="200"/><use href="#gQ" x="300"/></g>
<g transform="matrix(.056 0 0 .056 869.0 1313.6)" class="tf"><use href="#if"/><use href="#ep" x="100"/><use href="#gE" x="200"/><use href="#bA" x="300"/></g>
<g transform="matrix(.056 0 0 .056 828.7 1329.3)" class="tf"><use href="#dt"/><use href="#bn" x="61"/><use href="#cp" x="141"/><use href="#dp" x="202"/><use href="#ha" x="302"/></g>
<circle cx="858.0" cy="1327.3" r="1.5" stroke="#bdbdbd" stroke-width="0.75" fill="#fff"/>
<line x1="859.5" y1="1327.3" x2="861.5" y2="1327.3" stroke="#bdbdbd" stroke-width="0.9"/>
<path d="M865.0,1322.2 L862.1,1322.2 Q861.5,1322.2 861.5,1322.8 L861.5,1332.2 Q861.5,1332.8 862.1,1332.8 L865.0,1332.8" stroke="#bdbdbd" stroke-width="0.9" fill="none"/>
<g transform="matrix(.056 0 0 .056 867.0 1324.2)" class="tf"><use href="#hs"/><use href="#gw" x="100"/><use href="#fD" x="200"/></g>
<g transform="matrix(.056 0 0 .056 867.0 1334.8)" class="tf"><use href="#kC"/><use href="#gw" x="100"/><use href="#fD" x="200"/></g>
<line x1="204.0" y1="1427.0" x2="211.7" y2="1427.0" stroke="#e8cc9a" stroke-width="0.9"/>
<line x1="244.0" y1="1427.0" x2="250.7" y2="1427.0" stroke="#e8cc9a" stroke-width="0.9"/>
<line x1="320.0" y1="1427.0" x2="325.0" y2="1427.0" stroke="#e8cc9a" stroke-width="0.9"/>
<line x1="364.3" y1="1427.0" x2="370.0" y2="1427.0" stroke="#e8cc9a" stroke-width="0.9"/>
<line x1="398.3" y1="1427.0" x2="420.0" y2="1427.0" stroke="#e8cc9a" stroke-width="0.9"/>
<g transform="matrix(.059 0 0 .059 216.0 1429.1)" class="tc"><use href="#jx"/><use href="#hl" x="100"/><use href="#bo" x="200"/><use href="#fe" x="300"/></g>
<g transform="matrix(.059 0 0 .059 255.0 1429.1)" class="tc"><use href="#kD"/><use href="#bp" x="100"/><use href="#B" x="200"/><use href="#C" x="300"/><use href="#kE" x="400"/><use href="#cv" x="500"/><use href="#jf" x="600"/><use href="#do" x="700"/><use href="#cR" x="800"/><use href="#dB" x="900"/></g>
<g transform="matrix(.059 0 0 .059 329.3 1429.1)" class="tc"><use href="#bL"/><use href="#bp" x="100"/><use href="#cr" x="200"/><use href="#cj" x="261"/><use href="#cQ" x="298"/><use href="#bo" x="398"/></g>
<g transform="matrix(.059 0 0 .059 375.0 1429.1)" class="tc"><use href="#cy"/><use href="#Q" x="100"/><use href="#kF" x="200"/></g>
<g transform="matrix(.059 0 0 .059 425.0 1429.1)" class="tc"><use href="#kG"/><use href="#kH" x="100"/><use href="#dI" x="200"/><use href="#kI" x="300"/><use href="#iY" x="400"/><use href="#kJ" x="500"/><use href="#kK" x="600"/><use href="#kG" x="700"/><use href="#kL" x="800"/><use href="#kL" x="900"/><use href="#kM" x="1000"/><use href="#l" x="1100"/><use href="#m" x="1200"/><use href="#n" x="1300"/><use href="#o" x="1400"/><use href="#p" x="1500"/><use href="#q" x="1600"/><use href="#r" x="1700"/></g>
<circle cx="228.1" cy="1419.4" r="1.8" stroke="#e8c48a" stroke-width="0.8" fill="#fff"/>
<path d="M228.1,1417.6 L228.1,1399.7 Q228.1,1398.7 229.1,1398.7 L232.1,1398.7" stroke="#e8c48a" stroke-width="0.9" fill="none"/>
<g transform="matrix(.056 0 0 .056 234.6 1400.7)" class="tf"><use href="#jx"/><use href="#hl" x="100"/><use href="#n" x="200"/><use href="#o" x="300"/><use href="#kN" x="400"/><use href="#kO" x="500"/></g>
<line x1="228.1" y1="1409.0" x2="232.1" y2="1409.0" stroke="#e8c48a" stroke-width="0.9"/>
<g transform="matrix(.056 0 0 .056 234.6 1411.0)" class="tf"><use href="#kP"/><use href="#kQ" x="100"/><use href="#db" x="200"/><use href="#kR" x="231"/><use href="#A" x="331"/><use href="#kS" x="431"/><use href="#cT" x="531"/><use href="#db" x="631"/><use href="#ia" x="661"/><use href="#ir" x="761"/><use href="#db" x="861"/><use href="#ko" x="892"/><use href="#gJ" x="992"/></g>
<circle cx="285.3" cy="1434.2" r="1.8" stroke="#e8c48a" stroke-width="0.8" fill="#fff"/>
<path d="M285.3,1436.0 L285.3,1464.0 Q285.3,1465.0 286.3,1465.0 L289.3,1465.0" stroke="#e8c48a" stroke-width="0.9" fill="none"/>
<line x1="285.3" y1="1444.3" x2="289.3" y2="1444.3" stroke="#e8c48a" stroke-width="0.9"/>
<g transform="matrix(.056 0 0 .056 291.8 1446.3)" class="tf"><use href="#kD"/><use href="#hD" x="100"/><use href="#ce" x="200"/><use href="#bP" x="300"/><use href="#cv" x="400"/><use href="#ca" x="500"/><use href="#bN" x="600"/><use href="#gZ" x="700"/><use href="#ha" x="800"/></g>
<line x1="285.3" y1="1454.7" x2="289.3" y2="1454.7" stroke="#e8c48a" stroke-width="0.9"/>
<g transform="matrix(.056 0 0 .056 291.8 1456.7)" class="tf"><use href="#kD"/><use href="#hD" x="100"/><use href="#kT" x="200"/><use href="#fw" x="300"/><use href="#cv" x="400"/><use href="#dS" x="500"/><use href="#V" x="600"/></g>
<g transform="matrix(.056 0 0 .056 291.8 1467.0)" class="tf"><use href="#kU"/><use href="#kV" x="100"/><use href="#fR" x="200"/><use href="#dH" x="300"/><use href="#eX" x="400"/><use href="#eE" x="500"/><use href="#ke" x="600"/><use href="#bk" x="700"/></g>
<circle cx="345.2" cy="1419.4" r="1.8" stroke="#e8c48a" stroke-width="0.8" fill="#fff"/>
<path d="M345.2,1417.6 L345.2,1357.9 Q345.2,1356.9 346.2,1356.9 L349.2,1356.9" stroke="#e8c48a" stroke-width="0.9" fill="none"/>
<g transform="matrix(.056 0 0 .056 351.7 1358.9)" class="tf"><use href="#kW"/><use href="#bp" x="100"/><use href="#bx" x="200"/><use href="#df" x="300"/></g>
<circle cx="379.3" cy="1356.9" r="1.5" stroke="#eed3a7" stroke-width="0.75" fill="#fff"/>
<line x1="380.8" y1="1356.9" x2="383.1" y2="1356.9" stroke="#eed3a7" stroke-width="0.9"/>
<path d="M386.6,1345.9 L383.7,1345.9 Q383.1,1345.9 383.1,1346.5 L383.1,1366.7 Q383.1,1367.3 383.7,1367.3 L386.6,1367.3" stroke="#eed3a7" stroke-width="0.9" fill="none"/>
<line x1="383.1" y1="1356.3" x2="386.6" y2="1356.3" stroke="#eed3a7" stroke-width="0.9"/>
<g transform="matrix(.056 0 0 .056 388.6 1347.9)" class="tf"><use href="#kX"/><use href="#he" x="100"/><use href="#bx" x="200"/><use href="#df" x="300"/></g>
<g transform="matrix(.056 0 0 .056 388.6 1358.3)" class="tf"><use href="#hZ"/><use href="#he" x="100"/><use href="#bx" x="200"/><use href="#df" x="300"/></g>
<g transform="matrix(.056 0 0 .056 388.6 1369.3)" class="tf"><use href="#kY"/><use href="#eq" x="100"/><use href="#ce" x="200"/><use href="#eV" x="300"/></g>
<line x1="345.2" y1="1393.3" x2="349.2" y2="1393.3" stroke="#e8c48a" stroke-width="0.9"/>
<g transform="matrix(.056 0 0 .056 351.7 1395.3)" class="tf"><use href="#kZ"/><use href="#la" x="100"/><use href="#lb" x="200"/><use href="#gf" x="300"/></g>
<circle cx="373.3" cy="1393.3" r="1.5" stroke="#eed3a7" stroke-width="0.75" fill="#fff"/>
<line x1="374.8" y1="1393.3" x2="377.8" y2="1393.3" stroke="#eed3a7" stroke-width="0.9"/>
<path d="M381.3,1377.6 L378.4,1377.6 Q377.8,1377.6 377.8,1378.2 L377.8,1408.1 Q377.8,1408.7 378.4,1408.7 L381.3,1408.7" stroke="#eed3a7" stroke-width="0.9" fill="none"/>
<line x1="377.8" y1="1388.0" x2="381.3" y2="1388.0" stroke="#eed3a7" stroke-width="0.9"/>
<line x1="377.8" y1="1398.4" x2="381.3" y2="1398.4" stroke="#eed3a7" stroke-width="0.9"/>
<g transform="matrix(.056 0 0 .056 383.3 1379.6)" class="tf"><use href="#lc"/><use href="#g" x="100"/><use href="#k" x="200"/><use href="#ld" x="264"/><use href="#le" x="364"/></g>
<g transform="matrix(.056 0 0 .056 383.3 1390.0)" class="tf"><use href="#eT"/><use href="#kD" x="100"/><use href="#lf" x="200"/><use href="#dn" x="300"/></g>
<g transform="matrix(.056 0 0 .056 383.3 1400.4)" class="tf"><use href="#eV"/><use href="#eW" x="100"/><use href="#ce" x="200"/><use href="#ic" x="300"/></g>
<g transform="matrix(.056 0 0 .056 383.3 1410.7)" class="tf"><use href="#f"/><use href="#lg" x="100"/><use href="#kc" x="200"/></g>
<circle cx="383.7" cy="1434.2" r="1.8" stroke="#e8c48a" stroke-width="0.8" fill="#fff"/>
<path d="M383.7,1436.0 L383.7,1474.7 Q383.7,1475.7 384.7,1475.7 L387.7,1475.7" stroke="#e8c48a" stroke-width="0.9" fill="none"/>
<line x1="383.7" y1="1444.3" x2="387.7" y2="1444.3" stroke="#e8c48a" stroke-width="0.9"/>
<g transform="matrix(.056 0 0 .056 390.2 1446.3)" class="tf"><use href="#bq"/><use href="#bu" x="100"/><use href="#eJ" x="200"/><use href="#R" x="300"/></g>
<line x1="383.7" y1="1454.7" x2="387.7" y2="1454.7" stroke="#e8c48a" stroke-width="0.9"/>
<g transform="matrix(.056 0 0 .056 390.2 1456.7)" class="tf"><use href="#df"/><use href="#kD" x="100"/><use href="#lh" x="200"/><use href="#li" x="300"/><use href="#lj" x="400"/><use href="#kU" x="500"/><use href="#kV" x="600"/><use href="#iq" x="700"/></g>
<line x1="383.7" y1="1465.0" x2="387.7" y2="1465.0" stroke="#e8c48a" stroke-width="0.9"/>
<g transform="matrix(.056 0 0 .056 390.2 1467.0)" class="tf"><use href="#jU"/><use href="#jV" x="100"/><use href="#df" x="200"/><use href="#kD" x="300"/><use href="#lk" x="400"/><use href="#ll" x="500"/></g>
<g transform="matrix(.056 0 0 .056 390.2 1477.7)" class="tf"><use href="#eX"/><use href="#eE" x="100"/><use href="#fd" x="200"/><use href="#iX" x="300"/><use href="#go" x="400"/><use href="#lm" x="500"/><use href="#ln" x="600"/></g>
<circle cx="478.5" cy="1419.4" r="1.8" stroke="#e8c48a" stroke-width="0.8" fill="#fff"/>
<path d="M478.5,1417.6 L478.5,1378.9 Q478.5,1377.9 479.5,1377.9 L482.5,1377.9" stroke="#e8c48a" stroke-width="0.9" fill="none"/>
<g transform="matrix(.056 0 0 .056 485.0 1379.9)" class="tf"><use href="#gT"/><use href="#ih" x="100"/><use href="#lo" x="200"/><use href="#iH" x="300"/><use href="#jQ" x="400"/></g>
<line x1="478.5" y1="1388.3" x2="482.5" y2="1388.3" stroke="#e8c48a" stroke-width="0.9"/>
<g transform="matrix(.056 0 0 .056 485.0 1390.3)" class="tf"><use href="#ce"/><use href="#lp" x="100"/><use href="#cv" x="200"/><use href="#fN" x="300"/><use href="#lq" x="400"/><use href="#lr" x="500"/><use href="#ls" x="600"/></g>
<line x1="478.5" y1="1398.7" x2="482.5" y2="1398.7" stroke="#e8c48a" stroke-width="0.9"/>
<g transform="matrix(.056 0 0 .056 485.0 1400.7)" class="tf"><use href="#fJ"/><use href="#cd" x="100"/><use href="#iG" x="200"/></g>
<line x1="478.5" y1="1409.0" x2="482.5" y2="1409.0" stroke="#e8c48a" stroke-width="0.9"/>
<g transform="matrix(.056 0 0 .056 485.0 1411.0)" class="tf"><use href="#bX"/><use href="#hv" x="100"/><use href="#l" x="200"/><use href="#m" x="300"/><use href="#n" x="400"/><use href="#o" x="500"/><use href="#iY" x="600"/><use href="#lt" x="700"/><use href="#lu" x="800"/><use href="#l" x="900"/><use href="#m" x="1000"/><use href="#lv" x="1100"/><use href="#jx" x="1200"/><use href="#lw" x="1300"/></g>
<defs>
<radialGradient id="globe" cx="40%" cy="35%" r="70%"><stop offset="0" stop-color="#b8d8ff"/><stop offset="0.5" stop-color="#4a7ad8"/><stop offset="1" stop-color="#1a2a80"/></radialGradient>
<linearGradient id="webg" x1="0" x2="0" y1="0" y2="1"><stop offset="0" stop-color="#2aa8d8"/><stop offset="1" stop-color="#3ac080"/></linearGradient>
<linearGradient id="netg" x1="0" x2="1" y1="0" y2="1"><stop offset="0" stop-color="#0e2a3a"/><stop offset="0.5" stop-color="#2a8aa0"/><stop offset="1" stop-color="#0e3a4a"/></linearGradient>
</defs>
<g transform="translate(198.7,158.5) scale(1.0)"><rect width="14.5" height="14.8" fill="#10206a"/><circle cx="7.2" cy="7.4" r="6.3" fill="url(#globe)"/><path d="M4,11 Q7,6 11,3" stroke="#dfefff" stroke-width="0.9" fill="none"/><path d="M9,12 Q11,9 11.5,6" stroke="#9ac" stroke-width="0.6" fill="none"/></g>
<g transform="translate(267.4,157.5) scale(1.0)"><circle cx="6.6" cy="7.2" r="5.9" fill="none" stroke="#e8e8e8" stroke-width="1.6"/><path d="M6.6,1.3 A5.9,5.9 0 0 1 12.5,7.2" stroke="#f5a030" stroke-width="1.6" fill="none"/><path d="M12.5,7.2 A5.9,5.9 0 0 1 6.6,13.1" stroke="#e04aa0" stroke-width="1.6" fill="none"/><path d="M6.6,13.1 A5.9,5.9 0 0 1 0.7,7.2" stroke="#8a60e0" stroke-width="1.6" fill="none"/><path d="M0.7,7.2 A5.9,5.9 0 0 1 6.6,1.3" stroke="#40d070" stroke-width="1.6" fill="none"/><circle cx="6.6" cy="7.2" r="4.3" fill="#f4f6ff"/><text x="6.6" y="8.6" font-size="3.6" text-anchor="middle" fill="#3a5ab0" font-weight="bold">OS</text><path d="M5.8,13.5 L7.4,13.5 L6.6,15 Z" fill="#6ab"/></g>
<g transform="translate(356.0,159.0) scale(1.0)"><rect width="13.4" height="13.8" fill="url(#netg)"/><circle cx="4" cy="4" r="1.1" fill="#cff"/><circle cx="9.5" cy="3.5" r="0.9" fill="#aee"/><circle cx="6.5" cy="8" r="1.6" fill="#dff"/><circle cx="3" cy="11" r="0.9" fill="#aee"/><circle cx="10.5" cy="10.5" r="1" fill="#bff"/><path d="M4,4 L6.5,8 L9.5,3.5 M6.5,8 L3,11 M6.5,8 L10.5,10.5" stroke="#9de" stroke-width="0.5"/></g>
<g transform="translate(441.0,159.5) scale(1.0)"><path d="M0,0.5 L9,9.5 L15.5,5.5 L15.5,11.5 L6,11.5 Z" fill="#d8ecfa"/><path d="M0,0.5 L3,0.5 L9,7.5 L15.5,5 L15.7,7 L9,10.5 Z" fill="#2a7ad0"/><path d="M6,11.5 L15.5,11.5" stroke="#5aa0e0" stroke-width="0.8"/></g>
<g transform="translate(522.8,161.8) scale(1.0)"><circle cx="3.6" cy="4.2" r="3.5" fill="#7ac87a"/><circle cx="3.6" cy="4.2" r="2.4" fill="#2a3a30"/><circle cx="3.6" cy="3.6" r="1" fill="#cfc"/></g>
<g transform="translate(595.0,159.5) scale(1.0)"><rect x="0.5" y="0" width="10" height="13.5" rx="2.5" fill="#1e70b8"/><path d="M0.5,4.5 Q5.5,6 10.5,4.5 M0.5,9 Q5.5,10.5 10.5,9" stroke="#a8d0f0" stroke-width="0.6" fill="none"/><circle cx="9" cy="11.5" r="2.3" fill="#3a90d0" stroke="#fff" stroke-width="0.5"/></g>
<g transform="translate(703.2,160.4) scale(1.0)"><circle cx="5.5" cy="5.6" r="5.5" fill="#111"/><path d="M3,9 Q4.5,3 7.5,2.8 Q9,3 8,5 Q6.5,6.5 4.8,6" stroke="#eee" stroke-width="0.9" fill="none"/></g>
<g transform="matrix(.105 0 0 .105 837.6 170.0)" class="tl"><use href="#lx"/></g>
<g transform="translate(198.3,419.8) scale(1.0)"><rect width="15" height="11" fill="#8a94a8"/><rect y="0" width="15" height="6" fill="#4a6aa8"/><text x="7.5" y="5" font-size="5" text-anchor="middle" fill="#fff" font-weight="bold">SAFE</text><rect x="1" y="7.5" width="13" height="2" fill="#c8d0dc"/></g>
<g transform="translate(276.3,418.8) scale(1.0)"><rect width="13.4" height="13" fill="#0a4a70"/><rect y="0" width="13.4" height="6" fill="#2a8ad0"/><path d="M1.5,11 L6.7,2.5 L11.9,11 Z" fill="#050a10"/><rect y="10.5" width="13.4" height="2.5" fill="#10202a"/></g>
<g transform="translate(349.2,418.8) scale(1.0)"><rect width="12.5" height="12.8" fill="#d22a1a"/><circle cx="6.3" cy="6.4" r="4.8" fill="#f5c018"/><circle cx="4.3" cy="8.2" r="1.5" fill="none" stroke="#3a2a10" stroke-width="0.9"/><path d="M5.3,7.2 L9.3,3.4 M8,4.6 L9,5.6" stroke="#3a2a10" stroke-width="0.9"/></g>
<rect x="731.7" y="421.1" width="15" height="8.6" fill="#cfe8a8"/>
<g transform="matrix(.062 0 0 .062 732.3 427.5)" class="tm"><use href="#fl"/><use href="#ly" x="67"/><use href="#lz" x="144"/></g>
<g transform="translate(780.1,419.3) scale(1.0)"><rect width="8.2" height="12" rx="0.8" fill="#f6cc50"/><rect x="0" y="0" width="8.2" height="2.5" fill="#f0b830"/><rect x="1" y="3.5" width="6" height="0.6" fill="#fbe8a0"/></g>
<g transform="matrix(.105 0 0 .105 984.7 429.3)" class="tl"><use href="#lx"/></g>
<g transform="translate(198.3,734.0) scale(1.0)"><path d="M3,1.5 Q5,-0.5 10,1 L8.5,5 L3,5 Z" fill="#2a4a8a"/><path d="M0,7 L1.5,4 L8.5,4 L7,8.5 Q3,10 0,7 Z" fill="#f5c820"/><circle cx="8.5" cy="2" r="0.7" fill="#fff"/></g>
<g transform="translate(354.2,731.4) scale(1.0)"><rect width="15.5" height="15" fill="#0a3a88"/><path d="M2,10 L8,13 L14,9 L14,4 L8,1 L2,4 Z" fill="#2a70d0"/><path d="M2,10 L8,13 L14,9 L8,6.5 Z" fill="#6ab0f0"/><path d="M8,6.5 L8,1" stroke="#9cf" stroke-width="0.4"/></g>
<g transform="translate(420.0,732.5) scale(1.0)"><g stroke="#999" stroke-width="0.5"><line x1="6.3" y1="6.5" x2="12.30" y2="6.50"/><line x1="6.3" y1="6.5" x2="11.84" y2="8.80"/><line x1="6.3" y1="6.5" x2="10.54" y2="10.74"/><line x1="6.3" y1="6.5" x2="8.60" y2="12.04"/><line x1="6.3" y1="6.5" x2="6.30" y2="12.50"/><line x1="6.3" y1="6.5" x2="4.00" y2="12.04"/><line x1="6.3" y1="6.5" x2="2.06" y2="10.74"/><line x1="6.3" y1="6.5" x2="0.76" y2="8.80"/><line x1="6.3" y1="6.5" x2="0.30" y2="6.50"/><line x1="6.3" y1="6.5" x2="0.76" y2="4.20"/><line x1="6.3" y1="6.5" x2="2.06" y2="2.26"/><line x1="6.3" y1="6.5" x2="4.00" y2="0.96"/><line x1="6.3" y1="6.5" x2="6.30" y2="0.50"/><line x1="6.3" y1="6.5" x2="8.60" y2="0.96"/><line x1="6.3" y1="6.5" x2="10.54" y2="2.26"/><line x1="6.3" y1="6.5" x2="11.84" y2="4.20"/></g><circle cx="6.3" cy="6.5" r="3.2" fill="#ddd"/><circle cx="6.3" cy="6.5" r="2" fill="#111"/></g>
<g transform="translate(504.2,731.5) scale(1.0)"><rect width="12.5" height="14.5" fill="#e4e8ec"/><circle cx="6.2" cy="4.8" r="2.6" fill="#e8c0a0"/><path d="M3.5,4 Q6,0.5 9,4 L9,3 Q6,1 3.5,3 Z" fill="#333"/><path d="M2,10 Q6.2,6.5 10.5,10 L10.5,11 L2,11 Z" fill="#5a6a80"/><rect x="1.5" y="10.5" width="9.5" height="3" fill="#b8c0c8"/></g>
<g transform="translate(557.5,731.5) scale(1.0)"><rect width="10.5" height="14.5" fill="#e8f0f8"/><rect x="1" y="2" width="8.5" height="1" fill="#7aa0c8"/><rect x="1" y="4.5" width="8.5" height="1" fill="#9ab8d8"/><rect x="0" y="9" width="10.5" height="5.5" fill="#3a98e0"/><text x="5.2" y="13" font-size="3.4" text-anchor="middle" fill="#fff">LNK</text></g>
<g transform="translate(621.0,731.5) scale(1.0)"><path d="M0,2 L16,0 L17,13 L1,15 Z" fill="#3a4a6a"/><path d="M1.5,3 L15,1.5 L15.8,11.8 L2.3,13.3 Z" fill="#dde4ee"/><circle cx="8.7" cy="6.5" r="2.2" fill="#333"/><path d="M5,10 L12.5,5.5 M5,5.5 L12.5,10" stroke="#333" stroke-width="0.7"/></g>
<g transform="translate(712.5,731.0) scale(1.0)"><rect width="16.8" height="16" fill="#1a4a7a"/><path d="M8.4,2 Q4.5,2 4.5,4.5 L4.5,7 L8.5,7 L8.5,7.8 L3.2,7.8 Q1.8,8 1.8,10 Q2,12.5 3.8,12.5 L4.8,12.5 L4.8,10.5 Q5,9 6.5,9 L10,9 Q11.5,9 11.5,7.5 L11.5,4.5 Q11.5,2 8.4,2 Z" fill="#fff"/><path d="M8.4,14 Q12.3,14 12.3,11.5 L12.3,9.2 L13.6,9.2 Q15,9 15,6.5 Q14.8,3.8 13,3.8 L12.2,3.8 L12.2,7.8 Q12,9.6 10.4,9.6 L6.5,9.6 Q5.3,9.6 5.3,11 L5.3,11.8 Q5.3,14 8.4,14 Z" fill="#fff"/></g>
<g transform="translate(789.7,735.0) scale(1.0)"><path d="M0,2.5 L1,0.5 L11.5,0 L11.7,2.8 L6,3.2 L5,4.5 L3.8,8.2 L0.8,8.5 L2.2,3.5 Z" fill="#6a6a6a"/><path d="M2,0.8 L11,0.4" stroke="#aaa" stroke-width="0.5"/></g>
<g transform="matrix(.105 0 0 .105 944.5 743.0)" class="tl"><use href="#lx"/></g>
<g transform="translate(216.0,1095.7) scale(1.0)"><path d="M3,0.5 L15.5,2.5 L13,15 L0.5,12.5 Z" fill="#c82020"/><path d="M4,4.5 L5,4.7 L6,9.5 L11,10.3 L12,6 L5.5,5" stroke="#fff" stroke-width="1" fill="none"/><circle cx="7" cy="11.5" r="0.8" fill="#fff"/><circle cx="10.5" cy="12" r="0.8" fill="#fff"/></g>
<g transform="translate(307.3,1095.8) scale(1.0)"><circle cx="6" cy="6" r="5" fill="#f4f4f4" stroke="#8a8a8a" stroke-width="1.3"/><path d="M3.5,7.5 Q4,4 7,3" stroke="#aaa" stroke-width="0.6" fill="none"/><path d="M9.6,9.6 L13.8,13.8" stroke="#333" stroke-width="2"/></g>
<g transform="translate(492.3,1095.9) scale(1.0)"><rect width="14.3" height="14.3" fill="#0a1838"/><path d="M7.15,1.8 L13,12.5 L1.3,12.5 Z" fill="#e8e020"/><path d="M7.15,5 L7.15,9.5" stroke="#222" stroke-width="1.2"/><circle cx="7.15" cy="11" r="0.6" fill="#222"/></g>
<g transform="translate(557.8,1096.0) scale(1.0)"><rect width="15.6" height="14.3" fill="#d81818"/><path d="M8,0 L15.6,0 L15.6,14.3 L11,14.3 Z" fill="#1a2ab0"/><path d="M2.5,6 Q6,1.5 10,3.5 Q14,2.5 13,7 Q11,11 6,10.5 Q3,9.5 2.5,6 Z" fill="#f5a020"/><path d="M5,6.5 Q8,4 11,6" stroke="#fde060" stroke-width="1" fill="none"/></g>
<g transform="translate(696.2,1096.9) scale(1.0)"><rect width="13.9" height="12.6" fill="#1a6ae8"/><path d="M7,2.2 Q9.5,3.2 11,2.8 Q11,8.5 7,10.8 Q3,8.5 3,2.8 Q4.5,3.2 7,2.2 Z" fill="none" stroke="#e8f4ff" stroke-width="0.9"/><path d="M6,5 L6,9" stroke="#fff" stroke-width="0.8"/></g>
<g transform="translate(761.3,1097.8) scale(1.0)"><path d="M0,13 L5,5 L7,6.5 L9,3.5 L15,13 Z" fill="#1e3050"/><path d="M5,5 L6,8 L7,6.5 L8,8 L9,3.5 L10.5,6 Z" fill="#e8eef4"/><path d="M8.5,3.5 L8.5,-1.5 L13.5,-0.2 L8.5,1.5" fill="#d81c1c"/></g>
</svg></body></html>
